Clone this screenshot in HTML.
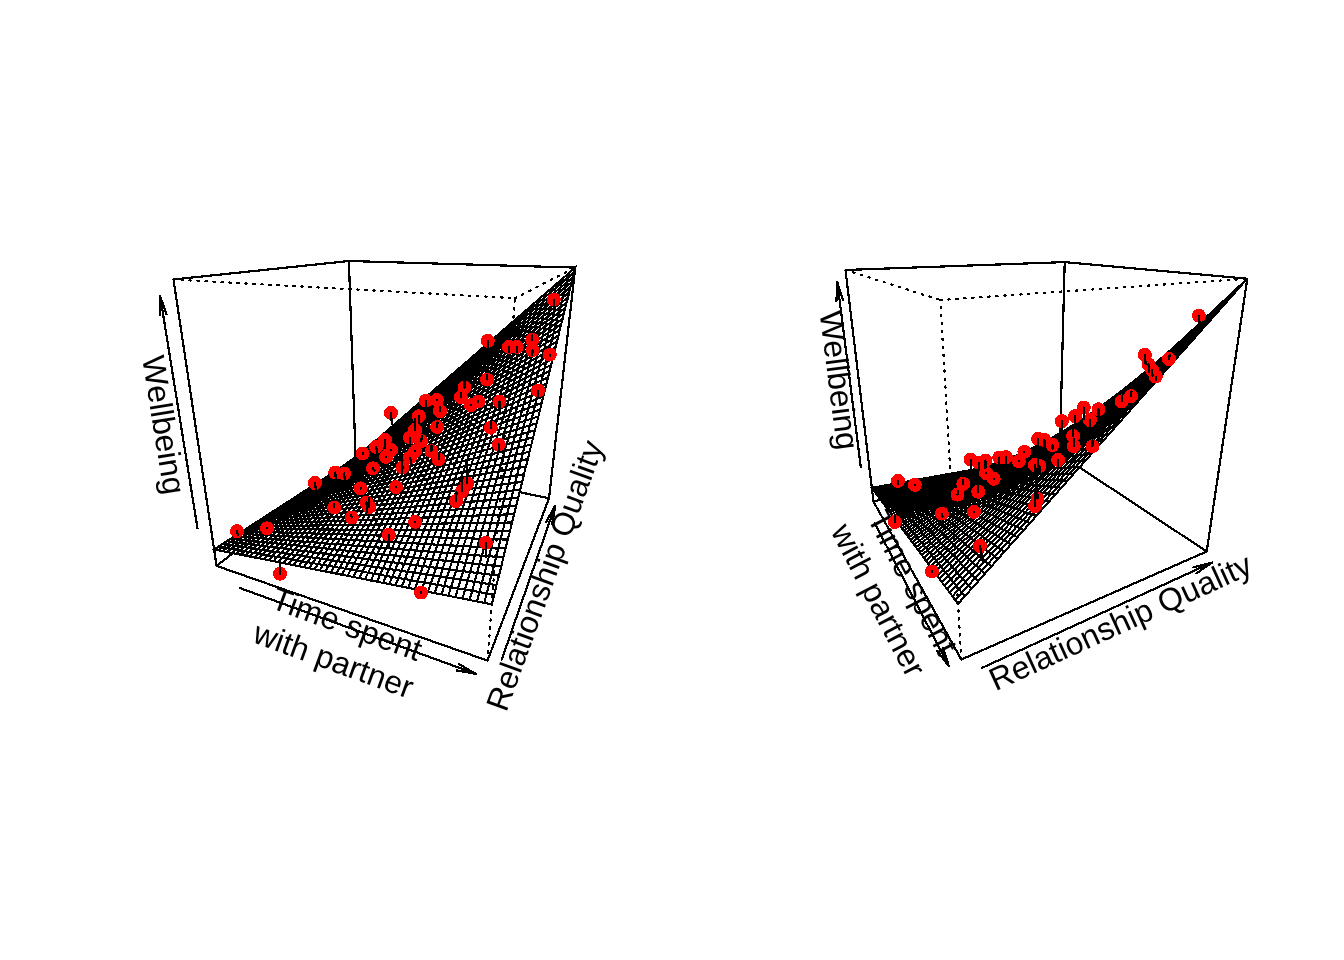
<!DOCTYPE html>
<html><head><meta charset="utf-8"><title>Wellbeing 3D surface</title>
<style>
html,body{margin:0;padding:0;background:#fff}
svg{display:block}
.ln{fill:none;stroke:#000;stroke-width:2.2;stroke-linecap:round;stroke-linejoin:round;shape-rendering:crispEdges;}
.dt{stroke-dasharray:1.4 6.6}
.sf path{fill:#fff;stroke:#000;stroke-width:2.12;stroke-linejoin:miter;shape-rendering:crispEdges;}
.pt circle{fill:#f00;shape-rendering:crispEdges;}
text{font-family:"Liberation Sans",sans-serif;font-size:32px;fill:#000}
</style></head><body>
<svg width="1344" height="960" viewBox="0 0 1344 960">
<rect width="1344" height="960" fill="#fff"/>
<g>
<path class="ln" d="M216.6 565.9L173.5 279.5M216.6 565.9L355.6 458.1M216.6 565.9L487.5 660.6M173.5 279.5L348.9 261M355.6 458.1L348.9 261M355.6 458.1L549 498.3M348.9 261L575.3 267.6M487.5 660.6L549 498.3M549 498.3L575.3 267.6"/>
<path class="ln" d="M240.2 588.2L475.7 673.8M459.1 664.2L475.7 673.8L456.8 670.5"/>
<g transform="translate(340.7 640.6) rotate(19.99)"><text x="0" y="-6.7" text-anchor="middle">Time spent</text><text x="0" y="31.7" text-anchor="middle">with partner</text></g>
<path class="ln" d="M501.8 659.5L555.2 505.6M545.8 522.4L555.2 505.6L552.1 524.6"/>
<g transform="translate(543.3 575) rotate(-69.97)"><text x="0" y="12.5" text-anchor="middle">Relationship Quality</text></g>
<path class="ln" d="M197.5 528.3L160.2 296.2M159.9 315.4L160.2 296.2L166.5 314.3"/>
<g transform="translate(165.4 424.7) rotate(80.86)"><text x="0" y="12.5" text-anchor="middle">Wellbeing</text></g>
<g class="sf"><path d="M353.7 459.4l3.2 -2.8 2 -1.3 -3.3 2.8z"/><path d="M356.9 456.6l3.3 -2.8 2 -1.4 -3.3 2.9z"/><path d="M351.7 460.7l3.3 -2.8 1.9 -1.3 -3.2 2.8z"/><path d="M360.2 453.8l3.4 -2.8 1.9 -1.4 -3.3 2.8z"/><path d="M355 457.9l3.3 -2.7 1.9 -1.4 -3.3 2.8z"/><path d="M349.7 462l3.3 -2.7 2 -1.4 -3.3 2.8z"/><path d="M363.6 451l3.4 -2.9 1.9 -1.5 -3.4 3z"/><path d="M358.3 455.2l3.3 -2.8 2 -1.4 -3.4 2.8z"/><path d="M353 459.3l3.3 -2.7 2 -1.4 -3.3 2.7z"/><path d="M347.6 463.3l3.3 -2.6 2.1 -1.4 -3.3 2.7z"/><path d="M367 448.1l3.4 -2.9 1.9 -1.5 -3.4 2.9z"/><path d="M361.6 452.4l3.4 -2.8 2 -1.5 -3.4 2.9z"/><path d="M356.3 456.6l3.4 -2.7 1.9 -1.5 -3.3 2.8z"/><path d="M350.9 460.7l3.4 -2.7 2 -1.4 -3.3 2.7z"/><path d="M345.6 464.6l3.3 -2.6 2 -1.3 -3.3 2.6z"/><path d="M370.4 445.2l3.4 -2.9 1.9 -1.6 -3.4 3z"/><path d="M365 449.6l3.5 -2.9 1.9 -1.5 -3.4 2.9z"/><path d="M359.7 453.9l3.4 -2.8 1.9 -1.5 -3.4 2.8z"/><path d="M354.3 458l3.4 -2.7 2 -1.4 -3.4 2.7z"/><path d="M348.9 462l3.4 -2.6 2 -1.4 -3.4 2.7z"/><path d="M343.5 465.9l3.3 -2.5 2.1 -1.4 -3.3 2.6z"/><path d="M373.8 442.3l3.6 -3 1.8 -1.6 -3.5 3z"/><path d="M368.5 446.7l3.4 -2.8 1.9 -1.6 -3.4 2.9z"/><path d="M363.1 451.1l3.4 -2.8 2 -1.6 -3.5 2.9z"/><path d="M357.7 455.3l3.4 -2.7 2 -1.5 -3.4 2.8z"/><path d="M352.3 459.4l3.4 -2.6 2 -1.5 -3.4 2.7z"/><path d="M346.8 463.4l3.4 -2.5 2.1 -1.5 -3.4 2.6z"/><path d="M377.4 439.3l3.5 -3 1.8 -1.7 -3.5 3.1z"/><path d="M341.4 467.3l3.3 -2.4 2.1 -1.5 -3.3 2.5z"/><path d="M371.9 443.9l3.6 -3 1.9 -1.6 -3.6 3z"/><path d="M366.5 448.3l3.5 -2.8 1.9 -1.6 -3.4 2.8z"/><path d="M361.1 452.6l3.5 -2.7 1.9 -1.6 -3.4 2.8z"/><path d="M355.7 456.8l3.4 -2.6 2 -1.6 -3.4 2.7z"/><path d="M350.2 460.9l3.4 -2.6 2.1 -1.5 -3.4 2.6z"/><path d="M380.9 436.3l3.6 -3.1 1.8 -1.7 -3.6 3.1z"/><path d="M344.7 464.9l3.4 -2.5 2.1 -1.5 -3.4 2.5z"/><path d="M375.5 440.9l3.5 -2.9 1.9 -1.7 -3.5 3z"/><path d="M370 445.5l3.6 -2.9 1.9 -1.7 -3.6 3z"/><path d="M339.2 468.7l3.4 -2.4 2.1 -1.4 -3.3 2.4z"/><path d="M364.6 449.9l3.5 -2.8 1.9 -1.6 -3.5 2.8z"/><path d="M359.1 454.2l3.5 -2.7 2 -1.6 -3.5 2.7z"/><path d="M353.6 458.3l3.5 -2.5 2 -1.6 -3.4 2.6z"/><path d="M384.5 433.2l3.6 -3 1.8 -1.8 -3.6 3.1z"/><path d="M348.1 462.4l3.4 -2.5 2.1 -1.6 -3.4 2.6z"/><path d="M379 438l3.6 -3 1.9 -1.8 -3.6 3.1z"/><path d="M342.6 466.3l3.4 -2.4 2.1 -1.5 -3.4 2.5z"/><path d="M373.6 442.6l3.5 -2.9 1.9 -1.7 -3.5 2.9z"/><path d="M368.1 447.1l3.5 -2.8 2 -1.7 -3.6 2.9z"/><path d="M337 470.1l3.4 -2.3 2.2 -1.5 -3.4 2.4z"/><path d="M362.6 451.5l3.5 -2.7 2 -1.7 -3.5 2.8z"/><path d="M357.1 455.8l3.5 -2.7 2 -1.6 -3.5 2.7z"/><path d="M351.5 459.9l3.5 -2.6 2.1 -1.5 -3.5 2.5z"/><path d="M388.1 430.2l3.7 -3.2 1.8 -1.8 -3.7 3.2z"/><path d="M382.6 435l3.7 -3 1.8 -1.8 -3.6 3z"/><path d="M346 463.9l3.4 -2.5 2.1 -1.5 -3.4 2.5z"/><path d="M377.1 439.7l3.6 -2.9 1.9 -1.8 -3.6 3z"/><path d="M371.6 444.3l3.6 -2.8 1.9 -1.8 -3.5 2.9z"/><path d="M340.4 467.8l3.4 -2.4 2.2 -1.5 -3.4 2.4z"/><path d="M366.1 448.8l3.6 -2.8 1.9 -1.7 -3.5 2.8z"/><path d="M334.8 471.5l3.4 -2.2 2.2 -1.5 -3.4 2.3z"/><path d="M360.6 453.1l3.5 -2.6 2 -1.7 -3.5 2.7z"/><path d="M355 457.3l3.5 -2.5 2.1 -1.7 -3.5 2.7z"/><path d="M391.8 427l3.7 -3.1 1.8 -1.9 -3.7 3.2z"/><path d="M386.3 432l3.7 -3.1 1.8 -1.9 -3.7 3.2z"/><path d="M349.4 461.4l3.5 -2.4 2.1 -1.7 -3.5 2.6z"/><path d="M380.7 436.8l3.7 -3 1.9 -1.8 -3.7 3z"/><path d="M343.8 465.4l3.5 -2.4 2.1 -1.6 -3.4 2.5z"/><path d="M375.2 441.5l3.6 -2.9 1.9 -1.8 -3.6 2.9z"/><path d="M369.7 446l3.6 -2.7 1.9 -1.8 -3.6 2.8z"/><path d="M338.2 469.3l3.5 -2.4 2.1 -1.5 -3.4 2.4z"/><path d="M364.1 450.5l3.6 -2.7 2 -1.8 -3.6 2.8z"/><path d="M332.6 473l3.4 -2.2 2.2 -1.5 -3.4 2.2z"/><path d="M358.5 454.8l3.6 -2.6 2 -1.7 -3.5 2.6z"/><path d="M395.5 423.9l3.8 -3.2 1.7 -2 -3.7 3.3z"/><path d="M352.9 459l3.5 -2.5 2.1 -1.7 -3.5 2.5z"/><path d="M390 428.9l3.7 -3.1 1.8 -1.9 -3.7 3.1z"/><path d="M384.4 433.8l3.7 -3 1.9 -1.9 -3.7 3.1z"/><path d="M347.3 463l3.5 -2.4 2.1 -1.6 -3.5 2.4z"/><path d="M378.8 438.6l3.7 -2.9 1.9 -1.9 -3.7 3z"/><path d="M373.3 443.3l3.6 -2.8 1.9 -1.9 -3.6 2.9z"/><path d="M341.7 466.9l3.4 -2.3 2.2 -1.6 -3.5 2.4z"/><path d="M367.7 447.8l3.6 -2.7 2 -1.8 -3.6 2.7z"/><path d="M336 470.8l3.5 -2.3 2.2 -1.6 -3.5 2.4z"/><path d="M362.1 452.2l3.6 -2.6 2 -1.8 -3.6 2.7z"/><path d="M399.3 420.7l3.8 -3.2 1.7 -2.1 -3.8 3.3z"/><path d="M356.4 456.5l3.6 -2.6 2.1 -1.7 -3.6 2.6z"/><path d="M330.3 474.4l3.4 -2.1 2.3 -1.5 -3.4 2.2z"/><path d="M393.7 425.8l3.8 -3.1 1.8 -2 -3.8 3.2z"/><path d="M388.1 430.8l3.8 -3 1.8 -2 -3.7 3.1z"/><path d="M350.8 460.6l3.5 -2.4 2.1 -1.7 -3.5 2.5z"/><path d="M382.5 435.7l3.7 -2.9 1.9 -2 -3.7 3z"/><path d="M376.9 440.5l3.7 -2.9 1.9 -1.9 -3.7 2.9z"/><path d="M345.1 464.6l3.6 -2.3 2.1 -1.7 -3.5 2.4z"/><path d="M371.3 445.1l3.7 -2.8 1.9 -1.8 -3.6 2.8z"/><path d="M339.5 468.5l3.4 -2.3 2.2 -1.6 -3.4 2.3z"/><path d="M365.7 449.6l3.6 -2.7 2 -1.8 -3.6 2.7z"/><path d="M333.7 472.3l3.5 -2.2 2.3 -1.6 -3.5 2.3z"/><path d="M360 453.9l3.6 -2.5 2.1 -1.8 -3.6 2.6z"/><path d="M403.1 417.5l3.8 -3.3 1.8 -2.1 -3.9 3.3z"/><path d="M397.5 422.7l3.8 -3.2 1.8 -2 -3.8 3.2z"/><path d="M354.3 458.2l3.6 -2.5 2.1 -1.8 -3.6 2.6z"/><path d="M391.9 427.8l3.8 -3.1 1.8 -2 -3.8 3.1z"/><path d="M328 475.9l3.4 -2.1 2.3 -1.5 -3.4 2.1z"/><path d="M386.2 432.8l3.8 -3 1.9 -2 -3.8 3z"/><path d="M348.7 462.3l3.5 -2.4 2.1 -1.7 -3.5 2.4z"/><path d="M380.6 437.6l3.7 -2.9 1.9 -1.9 -3.7 2.9z"/><path d="M375 442.3l3.7 -2.7 1.9 -2 -3.7 2.9z"/><path d="M342.9 466.2l3.6 -2.2 2.2 -1.7 -3.6 2.3z"/><path d="M369.3 446.9l3.7 -2.7 2 -1.9 -3.7 2.8z"/><path d="M337.2 470.1l3.5 -2.2 2.2 -1.7 -3.4 2.3z"/><path d="M363.6 451.4l3.7 -2.6 2 -1.9 -3.6 2.7z"/><path d="M406.9 414.2l4 -3.3 1.7 -2.2 -3.9 3.4z"/><path d="M401.3 419.5l3.9 -3.2 1.7 -2.1 -3.8 3.3z"/><path d="M357.9 455.7l3.6 -2.5 2.1 -1.8 -3.6 2.5z"/><path d="M331.4 473.8l3.5 -2.1 2.3 -1.6 -3.5 2.2z"/><path d="M395.7 424.7l3.8 -3.1 1.8 -2.1 -3.8 3.2z"/><path d="M390 429.8l3.8 -3 1.9 -2.1 -3.8 3.1z"/><path d="M352.2 459.9l3.6 -2.4 2.1 -1.8 -3.6 2.5z"/><path d="M384.3 434.7l3.8 -2.9 1.9 -2 -3.8 3z"/><path d="M325.7 477.4l3.4 -2 2.3 -1.6 -3.4 2.1z"/><path d="M378.7 439.6l3.7 -2.9 1.9 -2 -3.7 2.9z"/><path d="M346.5 464l3.5 -2.4 2.2 -1.7 -3.5 2.4z"/><path d="M373 444.2l3.7 -2.7 2 -1.9 -3.7 2.7z"/><path d="M340.7 467.9l3.6 -2.2 2.2 -1.7 -3.6 2.2z"/><path d="M367.3 448.8l3.7 -2.7 2 -1.9 -3.7 2.7z"/><path d="M410.9 410.9l3.9 -3.4 1.7 -2.2 -3.9 3.4z"/><path d="M361.5 453.2l3.7 -2.5 2.1 -1.9 -3.7 2.6z"/><path d="M334.9 471.7l3.6 -2.1 2.2 -1.7 -3.5 2.2z"/><path d="M405.2 416.3l3.9 -3.2 1.8 -2.2 -4 3.3z"/><path d="M399.5 421.6l3.9 -3.1 1.8 -2.2 -3.9 3.2z"/><path d="M355.8 457.5l3.6 -2.5 2.1 -1.8 -3.6 2.5z"/><path d="M393.8 426.8l3.9 -3 1.8 -2.2 -3.8 3.1z"/><path d="M329.1 475.4l3.5 -2 2.3 -1.7 -3.5 2.1z"/><path d="M388.1 431.8l3.8 -2.9 1.9 -2.1 -3.8 3z"/><path d="M350 461.6l3.7 -2.3 2.1 -1.8 -3.6 2.4z"/><path d="M382.4 436.7l3.8 -2.8 1.9 -2.1 -3.8 2.9z"/><path d="M323.3 479l3.5 -2 2.3 -1.6 -3.4 2z"/><path d="M376.7 441.5l3.8 -2.7 1.9 -2.1 -3.7 2.9z"/><path d="M344.3 465.7l3.5 -2.3 2.2 -1.8 -3.5 2.4z"/><path d="M371 446.1l3.7 -2.6 2 -2 -3.7 2.7z"/><path d="M338.5 469.6l3.5 -2.2 2.3 -1.7 -3.6 2.2z"/><path d="M365.2 450.7l3.7 -2.6 2.1 -2 -3.7 2.7z"/><path d="M414.8 407.5l4 -3.4 1.7 -2.3 -4 3.5z"/><path d="M409.1 413.1l4 -3.3 1.7 -2.3 -3.9 3.4z"/><path d="M403.4 418.5l3.9 -3.2 1.8 -2.2 -3.9 3.2z"/><path d="M359.4 455l3.7 -2.4 2.1 -1.9 -3.7 2.5z"/><path d="M332.6 473.4l3.6 -2.1 2.3 -1.7 -3.6 2.1z"/><path d="M397.7 423.8l3.9 -3.1 1.8 -2.2 -3.9 3.1z"/><path d="M391.9 428.9l3.9 -3 1.9 -2.1 -3.9 3z"/><path d="M353.7 459.3l3.6 -2.4 2.1 -1.9 -3.6 2.5z"/><path d="M386.2 433.9l3.8 -2.9 1.9 -2.1 -3.8 2.9z"/><path d="M326.8 477l3.5 -2 2.3 -1.6 -3.5 2z"/><path d="M380.5 438.8l3.8 -2.8 1.9 -2.1 -3.8 2.8z"/><path d="M347.8 463.4l3.7 -2.3 2.2 -1.8 -3.7 2.3z"/><path d="M374.7 443.5l3.8 -2.7 2 -2 -3.8 2.7z"/><path d="M320.9 480.5l3.5 -1.9 2.4 -1.6 -3.5 2z"/><path d="M342 467.4l3.6 -2.2 2.2 -1.8 -3.5 2.3z"/><path d="M368.9 448.1l3.8 -2.6 2 -2 -3.7 2.6z"/><path d="M418.8 404.1l4.1 -3.4 1.7 -2.4 -4.1 3.5z"/><path d="M413.1 409.8l4 -3.4 1.7 -2.3 -4 3.4z"/><path d="M363.1 452.6l3.7 -2.5 2.1 -2 -3.7 2.6z"/><path d="M336.2 471.3l3.5 -2.1 2.3 -1.8 -3.5 2.2z"/><path d="M407.3 415.3l4 -3.2 1.8 -2.3 -4 3.3z"/><path d="M401.6 420.7l3.9 -3.1 1.8 -2.3 -3.9 3.2z"/><path d="M357.3 456.9l3.7 -2.4 2.1 -1.9 -3.7 2.4z"/><path d="M395.8 425.9l3.9 -3 1.9 -2.2 -3.9 3.1z"/><path d="M330.3 475l3.5 -2 2.4 -1.7 -3.6 2.1z"/><path d="M390 431l3.9 -2.9 1.9 -2.2 -3.9 3z"/><path d="M351.5 461.1l3.6 -2.3 2.2 -1.9 -3.6 2.4z"/><path d="M384.3 436l3.8 -2.8 1.9 -2.2 -3.8 2.9z"/><path d="M324.4 478.6l3.5 -1.9 2.4 -1.7 -3.5 2z"/><path d="M378.5 440.8l3.8 -2.7 2 -2.1 -3.8 2.8z"/><path d="M345.6 465.2l3.7 -2.2 2.2 -1.9 -3.7 2.3z"/><path d="M372.7 445.5l3.8 -2.6 2 -2.1 -3.8 2.7z"/><path d="M318.4 482.1l3.5 -1.8 2.5 -1.7 -3.5 1.9z"/><path d="M339.7 469.2l3.7 -2.2 2.2 -1.8 -3.6 2.2z"/><path d="M366.8 450.1l3.8 -2.6 2.1 -2 -3.8 2.6z"/><path d="M422.9 400.7l4.1 -3.5 1.6 -2.4 -4 3.5z"/><path d="M417.1 406.4l4.1 -3.3 1.7 -2.4 -4.1 3.4z"/><path d="M411.3 412.1l4 -3.3 1.8 -2.4 -4 3.4z"/><path d="M405.5 417.6l4 -3.2 1.8 -2.3 -4 3.2z"/><path d="M361 454.5l3.7 -2.4 2.1 -2 -3.7 2.5z"/><path d="M399.7 422.9l4 -3.1 1.8 -2.2 -3.9 3.1z"/><path d="M333.8 473l3.6 -2 2.3 -1.8 -3.5 2.1z"/><path d="M393.9 428.1l4 -3 1.8 -2.2 -3.9 3z"/><path d="M355.1 458.8l3.8 -2.3 2.1 -2 -3.7 2.4z"/><path d="M388.1 433.2l3.9 -2.9 1.9 -2.2 -3.9 2.9z"/><path d="M327.9 476.7l3.6 -2 2.3 -1.7 -3.5 2z"/><path d="M382.3 438.1l3.9 -2.8 1.9 -2.1 -3.8 2.8z"/><path d="M349.3 463l3.6 -2.3 2.2 -1.9 -3.6 2.3z"/><path d="M376.5 442.9l3.8 -2.7 2 -2.1 -3.8 2.7z"/><path d="M321.9 480.3l3.6 -1.9 2.4 -1.7 -3.5 1.9z"/><path d="M343.4 467l3.6 -2.1 2.3 -1.9 -3.7 2.2z"/><path d="M370.6 447.5l3.8 -2.5 2.1 -2.1 -3.8 2.6z"/><path d="M427 397.2l4.1 -3.5 1.7 -2.5 -4.2 3.6z"/><path d="M421.2 403.1l4.1 -3.4 1.7 -2.5 -4.1 3.5z"/><path d="M415.3 408.8l4.1 -3.3 1.8 -2.4 -4.1 3.3z"/><path d="M364.7 452.1l3.8 -2.5 2.1 -2.1 -3.8 2.6z"/><path d="M337.4 471l3.7 -2.1 2.3 -1.9 -3.7 2.2z"/><path d="M409.5 414.4l4.1 -3.2 1.7 -2.4 -4 3.3z"/><path d="M315.9 483.7l3.6 -1.8 2.4 -1.6 -3.5 1.8z"/><path d="M403.7 419.8l4 -3.1 1.8 -2.3 -4 3.2z"/><path d="M397.9 425.1l3.9 -2.9 1.9 -2.4 -4 3.1z"/><path d="M358.9 456.5l3.7 -2.4 2.1 -2 -3.7 2.4z"/><path d="M331.5 474.7l3.6 -1.9 2.3 -1.8 -3.6 2z"/><path d="M392 430.3l4 -2.9 1.9 -2.3 -4 3z"/><path d="M352.9 460.7l3.8 -2.2 2.2 -2 -3.8 2.3z"/><path d="M386.2 435.3l3.9 -2.7 1.9 -2.3 -3.9 2.9z"/><path d="M380.3 440.2l3.9 -2.7 2 -2.2 -3.9 2.8z"/><path d="M325.5 478.4l3.6 -1.9 2.4 -1.8 -3.6 2z"/><path d="M347 464.9l3.7 -2.2 2.2 -2 -3.6 2.3z"/><path d="M374.4 445l3.9 -2.6 2 -2.2 -3.8 2.7z"/><path d="M431.1 393.7l4.3 -3.6 1.6 -2.6 -4.2 3.7z"/><path d="M319.5 481.9l3.5 -1.8 2.5 -1.7 -3.6 1.9z"/><path d="M341.1 468.9l3.6 -2.1 2.3 -1.9 -3.6 2.1z"/><path d="M425.3 399.7l4.2 -3.5 1.6 -2.5 -4.1 3.5z"/><path d="M368.5 449.6l3.9 -2.5 2 -2.1 -3.8 2.5z"/><path d="M419.4 405.5l4.2 -3.4 1.7 -2.4 -4.1 3.4z"/><path d="M413.6 411.2l4.1 -3.2 1.7 -2.5 -4.1 3.3z"/><path d="M407.7 416.7l4.1 -3.1 1.8 -2.4 -4.1 3.2z"/><path d="M362.6 454.1l3.8 -2.4 2.1 -2.1 -3.8 2.5z"/><path d="M401.8 422.2l4.1 -3.1 1.8 -2.4 -4 3.1z"/><path d="M335.1 472.8l3.6 -2 2.4 -1.9 -3.7 2.1z"/><path d="M313.4 485.4l3.5 -1.8 2.6 -1.7 -3.6 1.8z"/><path d="M396 427.4l4 -2.9 1.8 -2.3 -3.9 2.9z"/><path d="M356.7 458.5l3.7 -2.3 2.2 -2.1 -3.7 2.4z"/><path d="M390.1 432.6l3.9 -2.9 2 -2.3 -4 2.9z"/><path d="M329.1 476.5l3.6 -1.9 2.4 -1.8 -3.6 1.9z"/><path d="M384.2 437.5l3.9 -2.7 2 -2.2 -3.9 2.7z"/><path d="M350.7 462.7l3.8 -2.2 2.2 -2 -3.8 2.2z"/><path d="M378.3 442.4l3.9 -2.6 2 -2.3 -3.9 2.7z"/><path d="M323 480.1l3.6 -1.8 2.5 -1.8 -3.6 1.9z"/><path d="M344.7 466.8l3.8 -2.1 2.2 -2 -3.7 2.2z"/><path d="M372.4 447.1l3.8 -2.5 2.1 -2.2 -3.9 2.6z"/><path d="M435.4 390.1l4.2 -3.6 1.6 -2.7 -4.2 3.7z"/><path d="M429.5 396.2l4.2 -3.5 1.7 -2.6 -4.3 3.6z"/><path d="M423.6 402.1l4.2 -3.3 1.7 -2.6 -4.2 3.5z"/><path d="M417.7 408l4.1 -3.3 1.8 -2.6 -4.2 3.4z"/><path d="M366.4 451.7l3.9 -2.4 2.1 -2.2 -3.9 2.5z"/><path d="M411.8 413.6l4.1 -3.2 1.8 -2.4 -4.1 3.2z"/><path d="M338.7 470.8l3.7 -2.1 2.3 -1.9 -3.6 2.1z"/><path d="M316.9 483.6l3.6 -1.7 2.5 -1.8 -3.5 1.8z"/><path d="M405.9 419.1l4.1 -3 1.8 -2.5 -4.1 3.1z"/><path d="M400 424.5l4 -3 1.9 -2.4 -4.1 3.1z"/><path d="M360.4 456.2l3.9 -2.4 2.1 -2.1 -3.8 2.4z"/><path d="M394 429.7l4.1 -2.8 1.9 -2.4 -4 2.9z"/><path d="M332.7 474.6l3.7 -1.9 2.3 -1.9 -3.6 2z"/><path d="M310.8 487l3.6 -1.6 2.5 -1.8 -3.5 1.8z"/><path d="M354.5 460.5l3.8 -2.2 2.1 -2.1 -3.7 2.3z"/><path d="M388.1 434.8l4 -2.7 1.9 -2.4 -3.9 2.9z"/><path d="M382.2 439.8l3.9 -2.7 2 -2.3 -3.9 2.7z"/><path d="M326.6 478.3l3.7 -1.8 2.4 -1.9 -3.6 1.9z"/><path d="M348.5 464.7l3.7 -2.2 2.3 -2 -3.8 2.2z"/><path d="M376.2 444.6l3.9 -2.5 2.1 -2.3 -3.9 2.6z"/><path d="M439.6 386.5l4.3 -3.7 1.7 -2.7 -4.4 3.7z"/><path d="M433.7 392.7l4.3 -3.6 1.6 -2.6 -4.2 3.6z"/><path d="M427.8 398.8l4.2 -3.5 1.7 -2.6 -4.2 3.5z"/><path d="M342.4 468.7l3.8 -2 2.3 -2 -3.8 2.1z"/><path d="M370.3 449.3l3.8 -2.5 2.1 -2.2 -3.8 2.5z"/><path d="M320.5 481.9l3.7 -1.7 2.4 -1.9 -3.6 1.8z"/><path d="M421.8 404.7l4.2 -3.4 1.8 -2.5 -4.2 3.3z"/><path d="M415.9 410.4l4.2 -3.2 1.7 -2.5 -4.1 3.3z"/><path d="M410 416.1l4.1 -3.1 1.8 -2.6 -4.1 3.2z"/><path d="M364.3 453.8l3.8 -2.3 2.2 -2.2 -3.9 2.4z"/><path d="M404 421.5l4.1 -2.9 1.9 -2.5 -4.1 3z"/><path d="M336.4 472.7l3.7 -2 2.3 -2 -3.7 2.1z"/><path d="M314.4 485.4l3.6 -1.7 2.5 -1.8 -3.6 1.7z"/><path d="M398.1 426.9l4 -2.9 1.9 -2.5 -4 3z"/><path d="M358.3 458.3l3.8 -2.3 2.2 -2.2 -3.9 2.4z"/><path d="M392.1 432.1l4 -2.8 2 -2.4 -4.1 2.8z"/><path d="M330.3 476.5l3.7 -1.9 2.4 -1.9 -3.7 1.9z"/><path d="M386.1 437.1l4 -2.6 2 -2.4 -4 2.7z"/><path d="M352.2 462.5l3.8 -2.1 2.3 -2.1 -3.8 2.2z"/><path d="M308.2 488.7l3.6 -1.6 2.6 -1.7 -3.6 1.6z"/><path d="M380.1 442.1l4 -2.6 2 -2.4 -3.9 2.7z"/><path d="M324.2 480.2l3.6 -1.8 2.5 -1.9 -3.7 1.8z"/><path d="M346.2 466.7l3.7 -2.1 2.3 -2.1 -3.7 2.2z"/><path d="M374.1 446.8l4 -2.4 2 -2.3 -3.9 2.5z"/><path d="M438 389.1l4.3 -3.6 1.6 -2.7 -4.3 3.7z"/><path d="M443.9 382.8l4.4 -3.7 1.6 -2.8 -4.3 3.8z"/><path d="M432 395.3l4.3 -3.5 1.7 -2.7 -4.3 3.6z"/><path d="M426 401.3l4.3 -3.3 1.7 -2.7 -4.2 3.5z"/><path d="M420.1 407.2l4.2 -3.2 1.7 -2.7 -4.2 3.4z"/><path d="M368.1 451.5l3.9 -2.4 2.1 -2.3 -3.8 2.5z"/><path d="M414.1 413l4.2 -3.2 1.8 -2.6 -4.2 3.2z"/><path d="M340.1 470.7l3.7 -2 2.4 -2 -3.8 2z"/><path d="M318 483.7l3.6 -1.7 2.6 -1.8 -3.7 1.7z"/><path d="M408.1 418.6l4.2 -3.1 1.8 -2.5 -4.1 3.1z"/><path d="M402.1 424l4.1 -2.9 1.9 -2.5 -4.1 2.9z"/><path d="M362.1 456l3.9 -2.3 2.1 -2.2 -3.8 2.3z"/><path d="M396.1 429.3l4.1 -2.8 1.9 -2.5 -4 2.9z"/><path d="M334 474.6l3.7 -1.9 2.4 -2 -3.7 2z"/><path d="M311.8 487.1l3.6 -1.6 2.6 -1.8 -3.6 1.7z"/><path d="M390.1 434.5l4.1 -2.8 1.9 -2.4 -4 2.8z"/><path d="M356 460.4l3.9 -2.2 2.2 -2.2 -3.8 2.3z"/><path d="M384.1 439.5l4 -2.6 2 -2.4 -4 2.6z"/><path d="M327.8 478.4l3.7 -1.8 2.5 -2 -3.7 1.9z"/><path d="M349.9 464.6l3.9 -2.1 2.2 -2.1 -3.8 2.1z"/><path d="M378.1 444.4l4 -2.5 2 -2.4 -4 2.6z"/><path d="M305.6 490.4l3.6 -1.5 2.6 -1.8 -3.6 1.6z"/><path d="M442.3 385.5l4.4 -3.6 1.6 -2.8 -4.4 3.7z"/><path d="M436.3 391.8l4.4 -3.5 1.6 -2.8 -4.3 3.6z"/><path d="M448.3 379.1l4.5 -3.8 1.5 -2.8 -4.4 3.8z"/><path d="M430.3 398l4.3 -3.4 1.7 -2.8 -4.3 3.5z"/><path d="M372 449.1l4 -2.4 2.1 -2.3 -4 2.4z"/><path d="M343.8 468.7l3.8 -2 2.3 -2.1 -3.7 2.1z"/><path d="M424.3 404l4.3 -3.3 1.7 -2.7 -4.3 3.3z"/><path d="M321.6 482l3.7 -1.7 2.5 -1.9 -3.6 1.8z"/><path d="M418.3 409.8l4.2 -3.2 1.8 -2.6 -4.2 3.2z"/><path d="M412.3 415.5l4.2 -3.1 1.8 -2.6 -4.2 3.2z"/><path d="M366 453.7l3.9 -2.3 2.1 -2.3 -3.9 2.4z"/><path d="M406.2 421.1l4.2 -3 1.9 -2.6 -4.2 3.1z"/><path d="M337.7 472.7l3.8 -1.9 2.3 -2.1 -3.7 2z"/><path d="M400.2 426.5l4.1 -2.9 1.9 -2.5 -4.1 2.9z"/><path d="M315.4 485.5l3.7 -1.6 2.5 -1.9 -3.6 1.7z"/><path d="M359.9 458.2l3.9 -2.2 2.2 -2.3 -3.9 2.3z"/><path d="M394.2 431.7l4.1 -2.7 1.9 -2.5 -4.1 2.8z"/><path d="M331.5 476.6l3.8 -1.8 2.4 -2.1 -3.7 1.9z"/><path d="M388.1 436.9l4.1 -2.7 2 -2.5 -4.1 2.8z"/><path d="M353.8 462.5l3.8 -2.1 2.3 -2.2 -3.9 2.2z"/><path d="M309.2 488.9l3.6 -1.5 2.6 -1.9 -3.6 1.6z"/><path d="M382.1 441.9l4 -2.6 2 -2.4 -4 2.6z"/><path d="M325.3 480.3l3.8 -1.7 2.4 -2 -3.7 1.8z"/><path d="M347.6 466.7l3.9 -2 2.3 -2.2 -3.9 2.1z"/><path d="M376 446.7l4 -2.4 2.1 -2.4 -4 2.5z"/><path d="M440.7 388.3l4.4 -3.6 1.6 -2.8 -4.4 3.6z"/><path d="M446.7 381.9l4.5 -3.7 1.6 -2.9 -4.5 3.8z"/><path d="M434.6 394.6l4.4 -3.5 1.7 -2.8 -4.4 3.5z"/><path d="M452.8 375.3l4.5 -3.8 1.5 -2.9 -4.5 3.9z"/><path d="M428.6 400.7l4.3 -3.4 1.7 -2.7 -4.3 3.4z"/><path d="M422.5 406.6l4.3 -3.2 1.8 -2.7 -4.3 3.3z"/><path d="M302.9 492.1l3.6 -1.4 2.7 -1.8 -3.6 1.5z"/><path d="M369.9 451.4l4 -2.3 2.1 -2.4 -4 2.4z"/><path d="M416.5 412.4l4.2 -3.1 1.8 -2.7 -4.2 3.2z"/><path d="M341.5 470.8l3.8 -1.9 2.3 -2.2 -3.8 2z"/><path d="M410.4 418.1l4.2 -3 1.9 -2.7 -4.2 3.1z"/><path d="M319.1 483.9l3.7 -1.6 2.5 -2 -3.7 1.7z"/><path d="M404.3 423.6l4.2 -2.9 1.9 -2.6 -4.2 3z"/><path d="M363.8 456l3.9 -2.3 2.2 -2.3 -3.9 2.3z"/><path d="M398.3 429l4.1 -2.8 1.9 -2.6 -4.1 2.9z"/><path d="M335.3 474.8l3.8 -1.9 2.4 -2.1 -3.8 1.9z"/><path d="M392.2 434.2l4.1 -2.6 2 -2.6 -4.1 2.7z"/><path d="M357.6 460.4l4 -2.1 2.2 -2.3 -3.9 2.2z"/><path d="M312.8 487.4l3.7 -1.6 2.6 -1.9 -3.7 1.6z"/><path d="M386.1 439.3l4.1 -2.6 2 -2.5 -4.1 2.7z"/><path d="M329.1 478.6l3.7 -1.8 2.5 -2 -3.8 1.8z"/><path d="M351.5 464.7l3.9 -2 2.2 -2.3 -3.8 2.1z"/><path d="M380 444.3l4 -2.5 2.1 -2.5 -4 2.6z"/><path d="M306.5 490.7l3.7 -1.5 2.6 -1.8 -3.6 1.5z"/><path d="M445.1 384.7l4.4 -3.6 1.7 -2.9 -4.5 3.7z"/><path d="M439 391.1l4.4 -3.5 1.7 -2.9 -4.4 3.6z"/><path d="M451.2 378.2l4.5 -3.7 1.6 -3 -4.5 3.8z"/><path d="M432.9 397.3l4.4 -3.3 1.7 -2.9 -4.4 3.5z"/><path d="M457.3 371.5l4.5 -3.9 1.6 -2.9 -4.6 3.9z"/><path d="M373.9 449.1l4 -2.4 2.1 -2.4 -4 2.4z"/><path d="M426.8 403.4l4.4 -3.2 1.7 -2.9 -4.3 3.4z"/><path d="M345.3 468.9l3.9 -2 2.3 -2.2 -3.9 2z"/><path d="M322.8 482.3l3.7 -1.7 2.6 -2 -3.8 1.7z"/><path d="M420.7 409.3l4.3 -3.1 1.8 -2.8 -4.3 3.2z"/><path d="M414.6 415.1l4.3 -3 1.8 -2.8 -4.2 3.1z"/><path d="M367.7 453.7l4 -2.2 2.2 -2.4 -4 2.3z"/><path d="M408.5 420.7l4.3 -2.9 1.8 -2.7 -4.2 3z"/><path d="M300.2 493.9l3.6 -1.4 2.7 -1.8 -3.6 1.4z"/><path d="M339.1 472.9l3.8 -1.8 2.4 -2.2 -3.8 1.9z"/><path d="M402.4 426.2l4.2 -2.8 1.9 -2.7 -4.2 2.9z"/><path d="M316.5 485.8l3.7 -1.5 2.6 -2 -3.7 1.6z"/><path d="M361.6 458.3l3.9 -2.2 2.2 -2.4 -3.9 2.3z"/><path d="M396.3 431.6l4.2 -2.8 1.9 -2.6 -4.1 2.8z"/><path d="M332.8 476.8l3.8 -1.7 2.5 -2.2 -3.8 1.9z"/><path d="M390.2 436.7l4.1 -2.6 2 -2.5 -4.1 2.6z"/><path d="M355.4 462.7l3.9 -2.1 2.3 -2.3 -4 2.1z"/><path d="M310.2 489.2l3.7 -1.4 2.6 -2 -3.7 1.6z"/><path d="M384 441.8l4.1 -2.5 2.1 -2.6 -4.1 2.6z"/><path d="M326.5 480.6l3.8 -1.7 2.5 -2.1 -3.7 1.8z"/><path d="M349.2 466.9l3.9 -1.9 2.3 -2.3 -3.9 2z"/><path d="M377.9 446.7l4.1 -2.4 2 -2.5 -4 2.5z"/><path d="M443.4 387.6l4.5 -3.5 1.6 -3 -4.4 3.6z"/><path d="M449.5 381.1l4.6 -3.6 1.6 -3 -4.5 3.7z"/><path d="M437.3 394l4.4 -3.5 1.7 -2.9 -4.4 3.5z"/><path d="M455.7 374.5l4.6 -3.8 1.5 -3.1 -4.5 3.9z"/><path d="M431.2 400.2l4.4 -3.3 1.7 -2.9 -4.4 3.3z"/><path d="M461.8 367.6l4.6 -3.9 1.6 -3 -4.6 4z"/><path d="M425 406.2l4.4 -3.2 1.8 -2.8 -4.4 3.2z"/><path d="M303.8 492.5l3.7 -1.4 2.7 -1.9 -3.7 1.5z"/><path d="M418.9 412.1l4.3 -3.1 1.8 -2.8 -4.3 3.1z"/><path d="M371.7 451.5l4 -2.3 2.2 -2.5 -4 2.4z"/><path d="M342.9 471.1l3.9 -1.9 2.4 -2.3 -3.9 2z"/><path d="M412.8 417.8l4.3 -2.9 1.8 -2.8 -4.3 3z"/><path d="M320.2 484.3l3.8 -1.6 2.5 -2.1 -3.7 1.7z"/><path d="M406.6 423.4l4.3 -2.8 1.9 -2.8 -4.3 2.9z"/><path d="M365.5 456.1l4 -2.2 2.2 -2.4 -4 2.2z"/><path d="M400.5 428.8l4.2 -2.7 1.9 -2.7 -4.2 2.8z"/><path d="M336.6 475.1l3.9 -1.8 2.4 -2.2 -3.8 1.8z"/><path d="M297.4 495.7l3.6 -1.3 2.8 -1.9 -3.6 1.4z"/><path d="M394.3 434.1l4.2 -2.6 2 -2.7 -4.2 2.8z"/><path d="M359.3 460.6l4 -2.1 2.2 -2.4 -3.9 2.2z"/><path d="M313.9 487.8l3.7 -1.5 2.6 -2 -3.7 1.5z"/><path d="M388.1 439.3l4.2 -2.5 2 -2.7 -4.1 2.6z"/><path d="M330.3 478.9l3.9 -1.6 2.4 -2.2 -3.8 1.7z"/><path d="M353.1 465l3.9 -2 2.3 -2.4 -3.9 2.1z"/><path d="M382 444.3l4.1 -2.4 2 -2.6 -4.1 2.5z"/><path d="M307.5 491.1l3.7 -1.4 2.7 -1.9 -3.7 1.4z"/><path d="M447.9 384.1l4.5 -3.6 1.7 -3 -4.6 3.6z"/><path d="M441.7 390.5l4.5 -3.4 1.7 -3 -4.5 3.5z"/><path d="M454.1 377.5l4.6 -3.8 1.6 -3 -4.6 3.8z"/><path d="M435.6 396.9l4.4 -3.4 1.7 -3 -4.4 3.5z"/><path d="M460.3 370.7l4.6 -3.9 1.5 -3.1 -4.6 3.9z"/><path d="M429.4 403l4.4 -3.2 1.8 -2.9 -4.4 3.3z"/><path d="M375.7 449.2l4.1 -2.3 2.2 -2.6 -4.1 2.4z"/><path d="M346.8 469.2l3.9 -1.9 2.4 -2.3 -3.9 1.9z"/><path d="M466.4 363.7l4.7 -3.9 1.6 -3.2 -4.7 4.1z"/><path d="M423.2 409l4.4 -3.1 1.8 -2.9 -4.4 3.2z"/><path d="M324 482.7l3.8 -1.6 2.5 -2.2 -3.8 1.7z"/><path d="M417.1 414.9l4.3 -3 1.8 -2.9 -4.3 3.1z"/><path d="M369.5 453.9l4.1 -2.2 2.1 -2.5 -4 2.3z"/><path d="M410.9 420.6l4.3 -2.9 1.9 -2.8 -4.3 2.9z"/><path d="M301 494.4l3.7 -1.3 2.8 -2 -3.7 1.4z"/><path d="M340.5 473.3l3.9 -1.8 2.4 -2.3 -3.9 1.9z"/><path d="M404.7 426.1l4.3 -2.8 1.9 -2.7 -4.3 2.8z"/><path d="M317.6 486.3l3.8 -1.5 2.6 -2.1 -3.8 1.6z"/><path d="M363.3 458.5l4 -2.1 2.2 -2.5 -4 2.2z"/><path d="M398.5 431.5l4.2 -2.7 2 -2.7 -4.2 2.7z"/><path d="M392.3 436.8l4.2 -2.6 2 -2.7 -4.2 2.6z"/><path d="M334.2 477.3l3.8 -1.8 2.5 -2.2 -3.9 1.8z"/><path d="M357 463l4 -2 2.3 -2.5 -4 2.1z"/><path d="M294.6 497.5l3.6 -1.2 2.8 -1.9 -3.6 1.3z"/><path d="M386.1 441.9l4.1 -2.5 2.1 -2.6 -4.2 2.5z"/><path d="M311.2 489.7l3.8 -1.4 2.6 -2 -3.7 1.5z"/><path d="M350.7 467.3l4 -1.9 2.3 -2.4 -3.9 2z"/><path d="M327.8 481.1l3.9 -1.6 2.5 -2.2 -3.9 1.6z"/><path d="M379.8 446.9l4.2 -2.4 2.1 -2.6 -4.1 2.4z"/><path d="M446.2 387.1l4.6 -3.5 1.6 -3.1 -4.5 3.6z"/><path d="M452.4 380.5l4.7 -3.7 1.6 -3.1 -4.6 3.8z"/><path d="M440 393.5l4.5 -3.4 1.7 -3 -4.5 3.4z"/><path d="M458.7 373.7l4.6 -3.7 1.6 -3.2 -4.6 3.9z"/><path d="M433.8 399.8l4.5 -3.3 1.7 -3 -4.4 3.4z"/><path d="M464.9 366.8l4.7 -3.9 1.5 -3.1 -4.7 3.9z"/><path d="M427.6 405.9l4.4 -3.2 1.8 -2.9 -4.4 3.2z"/><path d="M471.1 359.8l4.8 -4.1 1.5 -3.2 -4.7 4.1z"/><path d="M421.4 411.9l4.4 -3.1 1.8 -2.9 -4.4 3.1z"/><path d="M373.6 451.7l4.1 -2.2 2.1 -2.6 -4.1 2.3z"/><path d="M304.7 493.1l3.8 -1.3 2.7 -2.1 -3.7 1.4z"/><path d="M415.2 417.7l4.3 -3 1.9 -2.8 -4.3 3z"/><path d="M344.4 471.5l3.9 -1.8 2.4 -2.4 -3.9 1.9z"/><path d="M321.4 484.8l3.8 -1.6 2.6 -2.1 -3.8 1.6z"/><path d="M409 423.3l4.3 -2.8 1.9 -2.8 -4.3 2.9z"/><path d="M367.3 456.4l4.1 -2.1 2.2 -2.6 -4.1 2.2z"/><path d="M402.7 428.8l4.3 -2.7 2 -2.8 -4.3 2.8z"/><path d="M338 475.5l4 -1.7 2.4 -2.3 -3.9 1.8z"/><path d="M298.2 496.3l3.8 -1.3 2.7 -1.9 -3.7 1.3z"/><path d="M396.5 434.2l4.2 -2.6 2 -2.8 -4.2 2.7z"/><path d="M361 461l4.1 -2.1 2.2 -2.5 -4 2.1z"/><path d="M315 488.3l3.8 -1.4 2.6 -2.1 -3.8 1.5z"/><path d="M390.2 439.4l4.3 -2.4 2 -2.8 -4.2 2.6z"/><path d="M331.7 479.5l3.8 -1.7 2.5 -2.3 -3.8 1.8z"/><path d="M354.7 465.4l4 -2 2.3 -2.4 -4 2z"/><path d="M384 444.5l4.2 -2.4 2 -2.7 -4.1 2.5z"/><path d="M291.7 499.4l3.7 -1.2 2.8 -1.9 -3.6 1.2z"/><path d="M450.8 383.6l4.6 -3.6 1.7 -3.2 -4.7 3.7z"/><path d="M444.5 390.1l4.6 -3.4 1.7 -3.1 -4.6 3.5z"/><path d="M308.5 491.8l3.8 -1.4 2.7 -2.1 -3.8 1.4z"/><path d="M457.1 376.8l4.6 -3.6 1.6 -3.2 -4.6 3.7z"/><path d="M438.3 396.5l4.5 -3.3 1.7 -3.1 -4.5 3.4z"/><path d="M463.3 370l4.7 -3.8 1.6 -3.3 -4.7 3.9z"/><path d="M432 402.7l4.5 -3.2 1.8 -3 -4.5 3.3z"/><path d="M377.7 449.5l4.1 -2.3 2.2 -2.7 -4.2 2.4z"/><path d="M469.6 362.9l4.8 -3.9 1.5 -3.3 -4.8 4.1z"/><path d="M348.3 469.7l4 -1.9 2.4 -2.4 -4 1.9z"/><path d="M425.8 408.8l4.5 -3.1 1.7 -3 -4.4 3.2z"/><path d="M325.2 483.2l3.9 -1.5 2.6 -2.2 -3.9 1.6z"/><path d="M475.9 355.7l4.8 -4.1 1.5 -3.3 -4.8 4.2z"/><path d="M419.5 414.7l4.5 -2.9 1.8 -3 -4.4 3.1z"/><path d="M371.4 454.3l4.1 -2.2 2.2 -2.6 -4.1 2.2z"/><path d="M413.3 420.5l4.4 -2.8 1.8 -3 -4.3 3z"/><path d="M407 426.1l4.4 -2.7 1.9 -2.9 -4.3 2.8z"/><path d="M342 473.8l3.9 -1.7 2.4 -2.4 -3.9 1.8z"/><path d="M302 495l3.7 -1.2 2.8 -2 -3.8 1.3z"/><path d="M318.8 486.9l3.8 -1.5 2.6 -2.2 -3.8 1.6z"/><path d="M365.1 458.9l4 -2 2.3 -2.6 -4.1 2.1z"/><path d="M400.7 431.6l4.4 -2.6 1.9 -2.9 -4.3 2.7z"/><path d="M394.5 437l4.2 -2.6 2 -2.8 -4.2 2.6z"/><path d="M335.5 477.8l4 -1.6 2.5 -2.4 -4 1.7z"/><path d="M358.7 463.4l4.1 -1.9 2.3 -2.6 -4.1 2.1z"/><path d="M295.4 498.2l3.7 -1.2 2.9 -2 -3.8 1.3z"/><path d="M388.2 442.1l4.2 -2.4 2.1 -2.7 -4.3 2.4z"/><path d="M312.3 490.4l3.8 -1.3 2.7 -2.2 -3.8 1.4z"/><path d="M352.3 467.8l4.1 -1.8 2.3 -2.6 -4 2z"/><path d="M381.8 447.2l4.2 -2.3 2.2 -2.8 -4.2 2.4z"/><path d="M329.1 481.7l3.9 -1.6 2.5 -2.3 -3.8 1.7z"/><path d="M449.1 386.7l4.7 -3.5 1.6 -3.2 -4.6 3.6z"/><path d="M455.4 380l4.7 -3.6 1.6 -3.2 -4.6 3.6z"/><path d="M442.8 393.2l4.6 -3.4 1.7 -3.1 -4.6 3.4z"/><path d="M461.7 373.2l4.8 -3.8 1.5 -3.2 -4.7 3.8z"/><path d="M436.5 399.5l4.6 -3.2 1.7 -3.1 -4.5 3.3z"/><path d="M468 366.2l4.8 -3.9 1.6 -3.3 -4.8 3.9z"/><path d="M430.3 405.7l4.5 -3.1 1.7 -3.1 -4.5 3.2z"/><path d="M474.4 359l4.8 -4 1.5 -3.4 -4.8 4.1z"/><path d="M424 411.8l4.4 -3 1.9 -3.1 -4.5 3.1z"/><path d="M375.5 452.1l4.2 -2.2 2.1 -2.7 -4.1 2.3z"/><path d="M480.7 351.6l4.9 -4.1 1.5 -3.4 -4.9 4.2z"/><path d="M288.8 501.2l3.7 -1 2.9 -2 -3.7 1.2z"/><path d="M305.7 493.8l3.8 -1.3 2.8 -2.1 -3.8 1.4z"/><path d="M417.7 417.7l4.4 -2.9 1.9 -3 -4.5 2.9z"/><path d="M345.9 472.1l4 -1.8 2.4 -2.5 -4 1.9z"/><path d="M322.6 485.4l3.9 -1.4 2.6 -2.3 -3.9 1.5z"/><path d="M411.4 423.4l4.4 -2.8 1.9 -2.9 -4.4 2.8z"/><path d="M369.1 456.9l4.2 -2.1 2.2 -2.7 -4.1 2.2z"/><path d="M405.1 429l4.3 -2.7 2 -2.9 -4.4 2.7z"/><path d="M339.5 476.2l4 -1.7 2.4 -2.4 -3.9 1.7z"/><path d="M398.7 434.4l4.4 -2.5 2 -2.9 -4.4 2.6z"/><path d="M299.1 497l3.8 -1.1 2.8 -2.1 -3.7 1.2z"/><path d="M362.8 461.5l4.1 -2 2.2 -2.6 -4 2z"/><path d="M316.1 489.1l3.9 -1.4 2.6 -2.3 -3.8 1.5z"/><path d="M392.4 439.7l4.3 -2.4 2 -2.9 -4.2 2.6z"/><path d="M333 480.1l4 -1.5 2.5 -2.4 -4 1.6z"/><path d="M356.4 466l4 -1.9 2.4 -2.6 -4.1 1.9z"/><path d="M386 444.9l4.3 -2.3 2.1 -2.9 -4.2 2.4z"/><path d="M453.8 383.2l4.7 -3.5 1.6 -3.3 -4.7 3.6z"/><path d="M447.4 389.8l4.7 -3.4 1.7 -3.2 -4.7 3.5z"/><path d="M460.1 376.4l4.8 -3.7 1.6 -3.3 -4.8 3.8z"/><path d="M292.5 500.2l3.8 -1.1 2.8 -2.1 -3.7 1.2z"/><path d="M441.1 396.3l4.6 -3.3 1.7 -3.2 -4.6 3.4z"/><path d="M309.5 492.5l3.9 -1.2 2.7 -2.2 -3.8 1.3z"/><path d="M466.5 369.4l4.8 -3.8 1.5 -3.3 -4.8 3.9z"/><path d="M434.8 402.6l4.5 -3.1 1.8 -3.2 -4.6 3.2z"/><path d="M379.7 449.9l4.2 -2.2 2.1 -2.8 -4.2 2.3z"/><path d="M472.8 362.3l4.9 -3.9 1.5 -3.4 -4.8 4z"/><path d="M428.4 408.8l4.6 -3.1 1.8 -3.1 -4.5 3.1z"/><path d="M349.9 470.3l4.1 -1.8 2.4 -2.5 -4.1 1.8z"/><path d="M479.2 355l4.9 -4.1 1.5 -3.4 -4.9 4.1z"/><path d="M326.5 484l3.9 -1.5 2.6 -2.4 -3.9 1.6z"/><path d="M422.1 414.8l4.5 -2.9 1.8 -3.1 -4.4 3z"/><path d="M485.6 347.5l4.9 -4.2 1.5 -3.5 -4.9 4.3z"/><path d="M415.8 420.6l4.4 -2.8 1.9 -3 -4.4 2.9z"/><path d="M373.3 454.8l4.2 -2.2 2.2 -2.7 -4.2 2.2z"/><path d="M409.4 426.3l4.4 -2.6 2 -3.1 -4.4 2.8z"/><path d="M343.5 474.5l4 -1.7 2.4 -2.5 -4 1.8z"/><path d="M302.9 495.9l3.8 -1.2 2.8 -2.2 -3.8 1.3z"/><path d="M285.8 503.2l3.8 -1 2.9 -2 -3.7 1z"/><path d="M366.9 459.5l4.1 -2 2.3 -2.7 -4.2 2.1z"/><path d="M403.1 431.9l4.3 -2.6 2 -3 -4.3 2.7z"/><path d="M320 487.7l3.9 -1.4 2.6 -2.3 -3.9 1.4z"/><path d="M396.7 437.3l4.3 -2.5 2.1 -2.9 -4.4 2.5z"/><path d="M337 478.6l4 -1.6 2.5 -2.5 -4 1.7z"/><path d="M360.4 464.1l4.2 -1.9 2.3 -2.7 -4.1 2z"/><path d="M390.3 442.6l4.3 -2.4 2.1 -2.9 -4.3 2.4z"/><path d="M296.3 499.1l3.8 -1.1 2.8 -2.1 -3.8 1.1z"/><path d="M313.4 491.3l3.9 -1.3 2.7 -2.3 -3.9 1.4z"/><path d="M383.9 447.7l4.3 -2.3 2.1 -2.8 -4.3 2.3z"/><path d="M354 468.5l4.1 -1.8 2.3 -2.6 -4 1.9z"/><path d="M452.1 386.4l4.7 -3.4 1.7 -3.3 -4.7 3.5z"/><path d="M458.5 379.7l4.7 -3.6 1.7 -3.4 -4.8 3.7z"/><path d="M445.7 393l4.7 -3.3 1.7 -3.3 -4.7 3.4z"/><path d="M330.4 482.5l4 -1.5 2.6 -2.4 -4 1.5z"/><path d="M464.9 372.7l4.8 -3.7 1.6 -3.4 -4.8 3.8z"/><path d="M439.3 399.5l4.7 -3.2 1.7 -3.3 -4.6 3.3z"/><path d="M471.3 365.6l4.8 -3.8 1.6 -3.4 -4.9 3.9z"/><path d="M433 405.7l4.6 -3 1.7 -3.2 -4.5 3.1z"/><path d="M477.7 358.4l4.9 -4 1.5 -3.5 -4.9 4.1z"/><path d="M426.6 411.9l4.5 -3 1.9 -3.2 -4.6 3.1z"/><path d="M377.5 452.6l4.2 -2.1 2.2 -2.8 -4.2 2.2z"/><path d="M484.1 350.9l5 -4.1 1.4 -3.5 -4.9 4.2z"/><path d="M420.2 417.8l4.5 -2.8 1.9 -3.1 -4.5 2.9z"/><path d="M306.7 494.7l3.9 -1.2 2.8 -2.2 -3.9 1.2z"/><path d="M289.6 502.2l3.7 -1.1 3 -2 -3.8 1.1z"/><path d="M347.5 472.8l4.1 -1.7 2.4 -2.6 -4.1 1.8z"/><path d="M490.5 343.3l5.1 -4.3 1.4 -3.5 -5 4.3z"/><path d="M413.8 423.7l4.5 -2.8 1.9 -3.1 -4.4 2.8z"/><path d="M323.9 486.3l3.9 -1.4 2.6 -2.4 -3.9 1.5z"/><path d="M371 457.5l4.3 -2.1 2.2 -2.8 -4.2 2.2z"/><path d="M407.4 429.3l4.5 -2.6 1.9 -3 -4.4 2.6z"/><path d="M341 477l4 -1.6 2.5 -2.6 -4 1.7z"/><path d="M401 434.8l4.4 -2.5 2 -3 -4.3 2.6z"/><path d="M364.6 462.2l4.2 -2 2.2 -2.7 -4.1 2z"/><path d="M300.1 498l3.8 -1.1 2.8 -2.2 -3.8 1.2z"/><path d="M282.8 505.1l3.8 -0.9 3 -2 -3.8 1z"/><path d="M317.3 490l3.9 -1.4 2.7 -2.3 -3.9 1.4z"/><path d="M394.6 440.2l4.4 -2.4 2 -3 -4.3 2.5z"/><path d="M334.4 481l4 -1.5 2.6 -2.5 -4 1.6z"/><path d="M358.1 466.7l4.1 -1.8 2.4 -2.7 -4.2 1.9z"/><path d="M388.2 445.4l4.3 -2.3 2.1 -2.9 -4.3 2.4z"/><path d="M456.8 383l4.8 -3.5 1.6 -3.4 -4.7 3.6z"/><path d="M450.4 389.7l4.7 -3.4 1.7 -3.3 -4.7 3.4z"/><path d="M463.2 376.1l4.9 -3.6 1.6 -3.5 -4.8 3.7z"/><path d="M444 396.3l4.7 -3.3 1.7 -3.3 -4.7 3.3z"/><path d="M469.7 369l4.9 -3.7 1.5 -3.5 -4.8 3.8z"/><path d="M293.3 501.1l3.9 -1 2.9 -2.1 -3.8 1.1z"/><path d="M437.6 402.7l4.6 -3.2 1.8 -3.2 -4.7 3.2z"/><path d="M310.6 493.5l3.9 -1.2 2.8 -2.3 -3.9 1.3z"/><path d="M381.7 450.5l4.3 -2.2 2.2 -2.9 -4.3 2.3z"/><path d="M476.1 361.8l5 -3.9 1.5 -3.5 -4.9 4z"/><path d="M431.1 408.9l4.6 -3 1.9 -3.2 -4.6 3z"/><path d="M351.6 471.1l4.1 -1.7 2.4 -2.7 -4.1 1.8z"/><path d="M482.6 354.4l5 -4 1.5 -3.6 -5 4.1z"/><path d="M424.7 415l4.6 -2.9 1.8 -3.2 -4.5 3z"/><path d="M327.8 484.9l4 -1.4 2.6 -2.5 -4 1.5z"/><path d="M489.1 346.8l5 -4.2 1.5 -3.6 -5.1 4.3z"/><path d="M418.3 420.9l4.5 -2.7 1.9 -3.2 -4.5 2.8z"/><path d="M375.3 455.4l4.2 -2 2.2 -2.9 -4.2 2.1z"/><path d="M495.6 339l5 -4.3 1.5 -3.6 -5.1 4.4z"/><path d="M411.9 426.7l4.5 -2.6 1.9 -3.2 -4.5 2.8z"/><path d="M345 475.4l4.1 -1.7 2.5 -2.6 -4.1 1.7z"/><path d="M303.9 496.9l3.9 -1.1 2.8 -2.3 -3.9 1.2z"/><path d="M286.6 504.2l3.8 -1 2.9 -2.1 -3.7 1.1z"/><path d="M405.4 432.3l4.5 -2.5 2 -3.1 -4.5 2.6z"/><path d="M368.8 460.2l4.2 -1.9 2.3 -2.9 -4.3 2.1z"/><path d="M321.2 488.6l4 -1.3 2.6 -2.4 -3.9 1.4z"/><path d="M399 437.8l4.4 -2.4 2 -3.1 -4.4 2.5z"/><path d="M338.4 479.5l4.1 -1.5 2.5 -2.6 -4 1.6z"/><path d="M362.2 464.9l4.2 -1.9 2.4 -2.8 -4.2 2z"/><path d="M392.5 443.1l4.4 -2.3 2.1 -3 -4.4 2.4z"/><path d="M297.2 500.1l3.8 -1 2.9 -2.2 -3.8 1.1z"/><path d="M314.5 492.3l4 -1.3 2.7 -2.4 -3.9 1.4z"/><path d="M279.7 507.1l3.8 -0.9 3.1 -2 -3.8 0.9z"/><path d="M386 448.3l4.4 -2.2 2.1 -3 -4.3 2.3z"/><path d="M455.1 386.3l4.8 -3.4 1.7 -3.4 -4.8 3.5z"/><path d="M461.6 379.5l4.8 -3.6 1.7 -3.4 -4.9 3.6z"/><path d="M448.7 393l4.7 -3.3 1.7 -3.4 -4.7 3.4z"/><path d="M355.7 469.4l4.2 -1.8 2.3 -2.7 -4.1 1.8z"/><path d="M468.1 372.5l4.9 -3.7 1.6 -3.5 -4.9 3.7z"/><path d="M442.2 399.5l4.7 -3.1 1.8 -3.4 -4.7 3.3z"/><path d="M331.8 483.5l4.1 -1.5 2.5 -2.5 -4 1.5z"/><path d="M474.6 365.3l4.9 -3.9 1.6 -3.5 -5 3.9z"/><path d="M435.7 405.9l4.7 -3 1.8 -3.4 -4.6 3.2z"/><path d="M481.1 357.9l5 -4 1.5 -3.5 -5 4z"/><path d="M429.3 412.1l4.6 -2.9 1.8 -3.3 -4.6 3z"/><path d="M379.5 453.4l4.3 -2.1 2.2 -3 -4.3 2.2z"/><path d="M487.6 350.4l5 -4.1 1.5 -3.7 -5 4.2z"/><path d="M422.8 418.2l4.6 -2.8 1.9 -3.3 -4.6 2.9z"/><path d="M307.8 495.8l3.9 -1.2 2.8 -2.3 -3.9 1.2z"/><path d="M349.1 473.7l4.2 -1.6 2.4 -2.7 -4.1 1.7z"/><path d="M290.4 503.2l3.8 -0.9 3 -2.2 -3.9 1z"/><path d="M494.1 342.6l5.1 -4.2 1.4 -3.7 -5 4.3z"/><path d="M416.4 424.1l4.5 -2.7 1.9 -3.2 -4.5 2.7z"/><path d="M325.2 487.3l4 -1.3 2.6 -2.5 -4 1.4z"/><path d="M373 458.3l4.3 -2 2.2 -2.9 -4.2 2z"/><path d="M500.6 334.7l5.2 -4.4 1.4 -3.7 -5.1 4.5z"/><path d="M409.9 429.8l4.5 -2.5 2 -3.2 -4.5 2.6z"/><path d="M342.5 478l4.1 -1.6 2.5 -2.7 -4.1 1.7z"/><path d="M403.4 435.4l4.5 -2.4 2 -3.2 -4.5 2.5z"/><path d="M366.4 463l4.3 -1.9 2.3 -2.8 -4.2 1.9z"/><path d="M301 499.1l4 -1 2.8 -2.3 -3.9 1.1z"/><path d="M318.5 491l4 -1.2 2.7 -2.5 -4 1.3z"/><path d="M396.9 440.8l4.4 -2.3 2.1 -3.1 -4.4 2.4z"/><path d="M283.5 506.2l3.9 -0.8 3 -2.2 -3.8 1z"/><path d="M359.9 467.6l4.2 -1.8 2.3 -2.8 -4.2 1.9z"/><path d="M335.9 482l4.1 -1.4 2.5 -2.6 -4.1 1.5z"/><path d="M390.4 446.1l4.4 -2.2 2.1 -3.1 -4.4 2.3z"/><path d="M459.9 382.9l4.9 -3.4 1.6 -3.6 -4.8 3.6z"/><path d="M453.4 389.7l4.8 -3.3 1.7 -3.5 -4.8 3.4z"/><path d="M466.4 375.9l5 -3.6 1.6 -3.5 -4.9 3.7z"/><path d="M446.9 396.4l4.8 -3.2 1.7 -3.5 -4.7 3.3z"/><path d="M473 368.8l4.9 -3.8 1.6 -3.6 -4.9 3.9z"/><path d="M440.4 402.9l4.7 -3.1 1.8 -3.4 -4.7 3.1z"/><path d="M479.5 361.4l5 -3.8 1.6 -3.7 -5 4z"/><path d="M383.8 451.3l4.4 -2.1 2.2 -3.1 -4.4 2.2z"/><path d="M294.2 502.3l3.9 -0.9 2.9 -2.3 -3.8 1z"/><path d="M311.7 494.6l4 -1.1 2.8 -2.5 -4 1.3z"/><path d="M433.9 409.2l4.7 -2.9 1.8 -3.4 -4.7 3z"/><path d="M353.3 472.1l4.2 -1.7 2.4 -2.8 -4.2 1.8z"/><path d="M486.1 353.9l5 -4 1.5 -3.6 -5 4.1z"/><path d="M427.4 415.4l4.7 -2.9 1.8 -3.3 -4.6 2.9z"/><path d="M276.6 509.1l3.8 -0.8 3.1 -2.1 -3.8 0.9z"/><path d="M329.2 486l4.1 -1.4 2.6 -2.6 -4.1 1.5z"/><path d="M492.6 346.3l5.1 -4.2 1.5 -3.7 -5.1 4.2z"/><path d="M420.9 421.4l4.6 -2.7 1.9 -3.3 -4.6 2.8z"/><path d="M377.3 456.3l4.3 -2 2.2 -3 -4.3 2.1z"/><path d="M499.2 338.4l5.2 -4.3 1.4 -3.8 -5.2 4.4z"/><path d="M414.4 427.3l4.6 -2.6 1.9 -3.3 -4.5 2.7z"/><path d="M346.6 476.4l4.2 -1.6 2.5 -2.7 -4.2 1.6z"/><path d="M505.8 330.3l5.2 -4.4 1.4 -3.8 -5.2 4.5z"/><path d="M305 498.1l3.9 -1.1 2.8 -2.4 -3.9 1.2z"/><path d="M407.9 433l4.5 -2.5 2 -3.2 -4.5 2.5z"/><path d="M370.7 461.1l4.3 -1.9 2.3 -2.9 -4.3 2z"/><path d="M287.4 505.4l3.8 -0.9 3 -2.2 -3.8 0.9z"/><path d="M322.5 489.8l4 -1.3 2.7 -2.5 -4 1.3z"/><path d="M401.3 438.5l4.5 -2.4 2.1 -3.1 -4.5 2.4z"/><path d="M340 480.6l4.1 -1.5 2.5 -2.7 -4.1 1.6z"/><path d="M364.1 465.8l4.3 -1.7 2.3 -3 -4.3 1.9z"/><path d="M394.8 443.9l4.4 -2.2 2.1 -3.2 -4.4 2.3z"/><path d="M298.1 501.4l4 -1 2.9 -2.3 -4 1z"/><path d="M315.7 493.5l4 -1.2 2.8 -2.5 -4 1.2z"/><path d="M280.4 508.3l3.9 -0.7 3.1 -2.2 -3.9 0.8z"/><path d="M458.2 386.4l4.9 -3.4 1.7 -3.5 -4.9 3.4z"/><path d="M464.8 379.5l4.9 -3.5 1.7 -3.7 -5 3.6z"/><path d="M388.2 449.2l4.4 -2.2 2.2 -3.1 -4.4 2.2z"/><path d="M451.7 393.2l4.8 -3.3 1.7 -3.5 -4.8 3.3z"/><path d="M471.4 372.3l4.9 -3.6 1.6 -3.7 -4.9 3.8z"/><path d="M357.5 470.4l4.2 -1.7 2.4 -2.9 -4.2 1.8z"/><path d="M445.1 399.8l4.8 -3.1 1.8 -3.5 -4.8 3.2z"/><path d="M477.9 365l5.1 -3.7 1.5 -3.7 -5 3.8z"/><path d="M333.3 484.6l4.1 -1.3 2.6 -2.7 -4.1 1.4z"/><path d="M438.6 406.3l4.8 -3 1.7 -3.5 -4.7 3.1z"/><path d="M484.5 357.6l5.1 -3.9 1.5 -3.8 -5 4z"/><path d="M432.1 412.5l4.7 -2.8 1.8 -3.4 -4.7 2.9z"/><path d="M381.6 454.3l4.4 -2.1 2.2 -3 -4.4 2.1z"/><path d="M491.1 349.9l5.2 -4 1.4 -3.8 -5.1 4.2z"/><path d="M425.5 418.7l4.7 -2.8 1.9 -3.4 -4.7 2.9z"/><path d="M497.7 342.1l5.2 -4.2 1.5 -3.8 -5.2 4.3z"/><path d="M350.8 474.8l4.2 -1.5 2.5 -2.9 -4.2 1.7z"/><path d="M308.9 497l4 -1.1 2.8 -2.4 -4 1.1z"/><path d="M419 424.7l4.6 -2.7 1.9 -3.3 -4.6 2.7z"/><path d="M291.2 504.5l3.9 -0.8 3 -2.3 -3.9 0.9z"/><path d="M326.5 488.5l4.1 -1.2 2.7 -2.7 -4.1 1.4z"/><path d="M504.4 334.1l5.2 -4.4 1.4 -3.8 -5.2 4.4z"/><path d="M375 459.2l4.4 -1.9 2.2 -3 -4.3 2z"/><path d="M412.4 430.5l4.6 -2.5 2 -3.3 -4.6 2.6z"/><path d="M273.5 511.1l3.8 -0.6 3.1 -2.2 -3.8 0.8z"/><path d="M511 325.9l5.4 -4.5 1.3 -3.9 -5.3 4.6z"/><path d="M405.8 436.1l4.6 -2.3 2 -3.3 -4.5 2.5z"/><path d="M344.1 479.1l4.2 -1.5 2.5 -2.8 -4.2 1.6z"/><path d="M368.4 464.1l4.3 -1.9 2.3 -3 -4.3 1.9z"/><path d="M302.1 500.4l3.9 -1 2.9 -2.4 -3.9 1.1z"/><path d="M399.2 441.7l4.5 -2.3 2.1 -3.3 -4.5 2.4z"/><path d="M319.7 492.3l4.1 -1.2 2.7 -2.6 -4 1.3z"/><path d="M284.3 507.6l3.9 -0.8 3 -2.3 -3.8 0.9z"/><path d="M361.7 468.7l4.3 -1.7 2.4 -2.9 -4.3 1.7z"/><path d="M392.6 447l4.5 -2.1 2.1 -3.2 -4.4 2.2z"/><path d="M337.4 483.3l4.1 -1.4 2.6 -2.8 -4.1 1.5z"/><path d="M463.1 383l5 -3.4 1.6 -3.6 -4.9 3.5z"/><path d="M456.5 389.9l4.9 -3.2 1.7 -3.7 -4.9 3.4z"/><path d="M469.7 376l5 -3.6 1.6 -3.7 -4.9 3.6z"/><path d="M449.9 396.7l4.9 -3.2 1.7 -3.6 -4.8 3.3z"/><path d="M476.3 368.7l5.1 -3.7 1.6 -3.7 -5.1 3.7z"/><path d="M443.4 403.3l4.8 -3.1 1.7 -3.5 -4.8 3.1z"/><path d="M483 361.3l5.1 -3.9 1.5 -3.7 -5.1 3.9z"/><path d="M386 452.2l4.4 -2 2.2 -3.2 -4.4 2.2z"/><path d="M436.8 409.7l4.7 -2.9 1.9 -3.5 -4.8 3z"/><path d="M312.9 495.9l4 -1 2.8 -2.6 -4 1.2z"/><path d="M295.1 503.7l4 -0.9 3 -2.4 -4 1z"/><path d="M489.6 353.7l5.2 -4 1.5 -3.8 -5.2 4z"/><path d="M355 473.3l4.3 -1.7 2.4 -2.9 -4.2 1.7z"/><path d="M430.2 415.9l4.7 -2.7 1.9 -3.5 -4.7 2.8z"/><path d="M496.3 345.9l5.2 -4.1 1.4 -3.9 -5.2 4.2z"/><path d="M330.6 487.3l4.1 -1.3 2.7 -2.7 -4.1 1.3z"/><path d="M277.3 510.5l3.9 -0.7 3.1 -2.2 -3.9 0.7z"/><path d="M423.6 422l4.7 -2.6 1.9 -3.5 -4.7 2.8z"/><path d="M379.4 457.3l4.4 -1.9 2.2 -3.2 -4.4 2.1z"/><path d="M502.9 337.9l5.3 -4.3 1.4 -3.9 -5.2 4.4z"/><path d="M417 428l4.6 -2.6 2 -3.4 -4.6 2.7z"/><path d="M348.3 477.6l4.2 -1.5 2.5 -2.8 -4.2 1.5z"/><path d="M509.6 329.7l5.4 -4.4 1.4 -3.9 -5.4 4.5z"/><path d="M410.4 433.8l4.6 -2.5 2 -3.3 -4.6 2.5z"/><path d="M372.7 462.2l4.4 -1.8 2.3 -3.1 -4.4 1.9z"/><path d="M306 499.4l4 -1 2.9 -2.5 -4 1.1z"/><path d="M288.2 506.8l3.9 -0.8 3 -2.3 -3.9 0.8z"/><path d="M323.8 491.1l4.1 -1.1 2.7 -2.7 -4.1 1.2z"/><path d="M516.4 321.4l5.4 -4.6 1.3 -3.9 -5.4 4.6z"/><path d="M403.7 439.4l4.6 -2.3 2.1 -3.3 -4.6 2.3z"/><path d="M270.2 513.2l3.9 -0.6 3.2 -2.1 -3.8 0.6z"/><path d="M341.5 481.9l4.2 -1.4 2.6 -2.9 -4.2 1.5z"/><path d="M366 467l4.3 -1.7 2.4 -3.1 -4.3 1.9z"/><path d="M397.1 444.9l4.5 -2.2 2.1 -3.3 -4.5 2.3z"/><path d="M299.1 502.8l4 -0.9 2.9 -2.5 -3.9 1z"/><path d="M316.9 494.9l4.1 -1.1 2.8 -2.7 -4.1 1.2z"/><path d="M461.4 386.7l5 -3.4 1.7 -3.7 -5 3.4z"/><path d="M468.1 379.6l5 -3.5 1.6 -3.7 -5 3.6z"/><path d="M454.8 393.5l4.9 -3.2 1.7 -3.6 -4.9 3.2z"/><path d="M390.4 450.2l4.5 -2.1 2.2 -3.2 -4.5 2.1z"/><path d="M474.7 372.4l5.1 -3.6 1.6 -3.8 -5.1 3.7z"/><path d="M448.2 400.2l4.8 -3 1.8 -3.7 -4.9 3.2z"/><path d="M281.2 509.8l3.9 -0.7 3.1 -2.3 -3.9 0.8z"/><path d="M359.3 471.6l4.3 -1.6 2.4 -3 -4.3 1.7z"/><path d="M481.4 365l5.1 -3.7 1.6 -3.9 -5.1 3.9z"/><path d="M441.5 406.8l4.9 -3 1.8 -3.6 -4.8 3.1z"/><path d="M334.7 486l4.2 -1.3 2.6 -2.8 -4.1 1.4z"/><path d="M488.1 357.4l5.2 -3.8 1.5 -3.9 -5.2 4z"/><path d="M434.9 413.2l4.8 -2.9 1.8 -3.5 -4.7 2.9z"/><path d="M494.8 349.7l5.2 -4 1.5 -3.9 -5.2 4.1z"/><path d="M383.8 455.4l4.4 -2 2.2 -3.2 -4.4 2z"/><path d="M428.3 419.4l4.7 -2.7 1.9 -3.5 -4.7 2.7z"/><path d="M501.5 341.8l5.3 -4.2 1.4 -4 -5.3 4.3z"/><path d="M352.5 476.1l4.3 -1.5 2.5 -3 -4.3 1.7z"/><path d="M421.6 425.4l4.7 -2.5 2 -3.5 -4.7 2.6z"/><path d="M310 498.4l4.1 -0.9 2.8 -2.6 -4 1z"/><path d="M292.1 506l4 -0.8 3 -2.4 -4 0.9z"/><path d="M508.2 333.6l5.4 -4.3 1.4 -4 -5.4 4.4z"/><path d="M377.1 460.4l4.4 -1.9 2.3 -3.1 -4.4 1.9z"/><path d="M327.9 490l4.2 -1.2 2.6 -2.8 -4.1 1.3z"/><path d="M415 431.3l4.6 -2.4 2 -3.5 -4.6 2.6z"/><path d="M274.1 512.6l3.9 -0.6 3.2 -2.2 -3.9 0.7z"/><path d="M515 325.3l5.4 -4.5 1.4 -4 -5.4 4.6z"/><path d="M408.3 437.1l4.6 -2.4 2.1 -3.4 -4.6 2.5z"/><path d="M345.7 480.5l4.3 -1.4 2.5 -3 -4.2 1.5z"/><path d="M370.3 465.3l4.4 -1.8 2.4 -3.1 -4.4 1.8z"/><path d="M521.8 316.8l5.4 -4.6 1.4 -4.1 -5.5 4.8z"/><path d="M401.6 442.7l4.6 -2.3 2.1 -3.3 -4.6 2.3z"/><path d="M303.1 501.9l4 -0.9 2.9 -2.6 -4 1z"/><path d="M321 493.8l4.2 -1.1 2.7 -2.7 -4.1 1.1z"/><path d="M285.1 509.1l3.9 -0.7 3.1 -2.4 -3.9 0.8z"/><path d="M363.6 470l4.4 -1.6 2.3 -3.1 -4.3 1.7z"/><path d="M394.9 448.1l4.6 -2.1 2.1 -3.3 -4.5 2.2z"/><path d="M338.9 484.7l4.3 -1.3 2.5 -2.9 -4.2 1.4z"/><path d="M466.4 383.3l5 -3.4 1.7 -3.8 -5 3.5z"/><path d="M459.7 390.3l5 -3.2 1.7 -3.8 -5 3.4z"/><path d="M473.1 376.1l5.1 -3.5 1.6 -3.8 -5.1 3.6z"/><path d="M453 397.2l5 -3.1 1.7 -3.8 -4.9 3.2z"/><path d="M266.9 515.3l3.9 -0.5 3.3 -2.2 -3.9 0.6z"/><path d="M479.8 368.8l5.1 -3.7 1.6 -3.8 -5.1 3.7z"/><path d="M446.4 403.8l4.9 -2.9 1.7 -3.7 -4.8 3z"/><path d="M486.5 361.3l5.2 -3.8 1.6 -3.9 -5.2 3.8z"/><path d="M388.2 453.4l4.5 -2 2.2 -3.3 -4.5 2.1z"/><path d="M439.7 410.3l4.8 -2.8 1.9 -3.7 -4.9 3z"/><path d="M493.3 353.6l5.2 -4 1.5 -3.9 -5.2 4z"/><path d="M314.1 497.5l4.1 -1 2.8 -2.7 -4.1 1.1z"/><path d="M433 416.7l4.8 -2.8 1.9 -3.6 -4.8 2.9z"/><path d="M296.1 505.2l4 -0.8 3 -2.5 -4 0.9z"/><path d="M356.8 474.6l4.4 -1.5 2.4 -3.1 -4.3 1.6z"/><path d="M500 345.7l5.3 -4.1 1.5 -4 -5.3 4.2z"/><path d="M332.1 488.8l4.2 -1.3 2.6 -2.8 -4.2 1.3z"/><path d="M426.3 422.9l4.8 -2.6 1.9 -3.6 -4.7 2.7z"/><path d="M278 512l3.9 -0.6 3.2 -2.3 -3.9 0.7z"/><path d="M381.5 458.5l4.5 -1.8 2.2 -3.3 -4.4 2z"/><path d="M506.8 337.6l5.3 -4.3 1.5 -4 -5.4 4.3z"/><path d="M419.6 428.9l4.8 -2.5 1.9 -3.5 -4.7 2.5z"/><path d="M513.6 329.3l5.4 -4.4 1.4 -4.1 -5.4 4.5z"/><path d="M350 479.1l4.3 -1.5 2.5 -3 -4.3 1.5z"/><path d="M412.9 434.7l4.7 -2.3 2 -3.5 -4.6 2.4z"/><path d="M374.7 463.5l4.5 -1.7 2.3 -3.3 -4.4 1.9z"/><path d="M307.1 501l4.1 -0.9 2.9 -2.6 -4.1 0.9z"/><path d="M520.4 320.8l5.5 -4.5 1.3 -4.1 -5.4 4.6z"/><path d="M325.2 492.7l4.2 -1.1 2.7 -2.8 -4.2 1.2z"/><path d="M289 508.4l4 -0.7 3.1 -2.5 -4 0.8z"/><path d="M406.2 440.4l4.7 -2.2 2 -3.5 -4.6 2.4z"/><path d="M527.2 312.2l5.6 -4.7 1.3 -4.2 -5.5 4.8z"/><path d="M343.2 483.4l4.2 -1.4 2.6 -2.9 -4.3 1.4z"/><path d="M368 468.4l4.4 -1.7 2.3 -3.2 -4.4 1.8z"/><path d="M270.8 514.8l4 -0.5 3.2 -2.3 -3.9 0.6z"/><path d="M399.5 446l4.6 -2.1 2.1 -3.5 -4.6 2.3z"/><path d="M464.7 387.1l5.1 -3.3 1.6 -3.9 -5 3.4z"/><path d="M300.1 504.4l4.1 -0.8 2.9 -2.6 -4 0.9z"/><path d="M471.4 379.9l5.2 -3.4 1.6 -3.9 -5.1 3.5z"/><path d="M458 394.1l5 -3.2 1.7 -3.8 -5 3.2z"/><path d="M318.2 496.5l4.2 -1.1 2.8 -2.7 -4.2 1.1z"/><path d="M392.7 451.4l4.6 -2 2.2 -3.4 -4.6 2.1z"/><path d="M478.2 372.6l5.2 -3.5 1.5 -4 -5.1 3.7z"/><path d="M451.3 400.9l4.9 -3.1 1.8 -3.7 -5 3.1z"/><path d="M361.2 473.1l4.3 -1.6 2.5 -3.1 -4.4 1.6z"/><path d="M484.9 365.1l5.3 -3.7 1.5 -3.9 -5.2 3.8z"/><path d="M444.5 407.5l5 -2.9 1.8 -3.7 -4.9 2.9z"/><path d="M281.9 511.4l4 -0.6 3.1 -2.4 -3.9 0.7z"/><path d="M336.3 487.5l4.2 -1.2 2.7 -2.9 -4.3 1.3z"/><path d="M491.7 357.5l5.3 -3.9 1.5 -4 -5.2 4z"/><path d="M437.8 413.9l4.9 -2.7 1.8 -3.7 -4.8 2.8z"/><path d="M498.5 349.6l5.3 -4 1.5 -4 -5.3 4.1z"/><path d="M386 456.7l4.5 -1.9 2.2 -3.4 -4.5 2z"/><path d="M431.1 420.3l4.8 -2.7 1.9 -3.7 -4.8 2.8z"/><path d="M505.3 341.6l5.4 -4.2 1.4 -4.1 -5.3 4.3z"/><path d="M263.6 517.5l3.9 -0.4 3.3 -2.3 -3.9 0.5z"/><path d="M424.4 426.4l4.7 -2.5 2 -3.6 -4.8 2.6z"/><path d="M354.3 477.6l4.4 -1.4 2.5 -3.1 -4.4 1.5z"/><path d="M311.2 500.1l4.2 -0.9 2.8 -2.7 -4.1 1z"/><path d="M512.1 333.3l5.5 -4.3 1.4 -4.1 -5.4 4.4z"/><path d="M293 507.7l4.1 -0.7 3 -2.6 -4 0.8z"/><path d="M379.2 461.8l4.5 -1.8 2.3 -3.3 -4.5 1.8z"/><path d="M417.6 432.4l4.8 -2.4 2 -3.6 -4.8 2.5z"/><path d="M329.4 491.6l4.2 -1.2 2.7 -2.9 -4.2 1.3z"/><path d="M519 324.9l5.5 -4.4 1.4 -4.2 -5.5 4.5z"/><path d="M274.8 514.3l3.9 -0.5 3.2 -2.4 -3.9 0.6z"/><path d="M410.9 438.2l4.7 -2.3 2 -3.5 -4.7 2.3z"/><path d="M347.4 482l4.4 -1.3 2.5 -3.1 -4.3 1.5z"/><path d="M372.4 466.7l4.5 -1.7 2.3 -3.2 -4.5 1.7z"/><path d="M525.9 316.3l5.5 -4.6 1.4 -4.2 -5.6 4.7z"/><path d="M404.1 443.9l4.7 -2.2 2.1 -3.5 -4.7 2.2z"/><path d="M304.2 503.6l4.1 -0.8 2.9 -2.7 -4.1 0.9z"/><path d="M322.4 495.4l4.2 -1 2.8 -2.8 -4.2 1.1z"/><path d="M532.8 307.5l5.6 -4.8 1.3 -4.3 -5.6 4.9z"/><path d="M285.9 510.8l4 -0.6 3.1 -2.5 -4 0.7z"/><path d="M397.3 449.4l4.6 -2.1 2.2 -3.4 -4.6 2.1z"/><path d="M365.5 471.5l4.5 -1.6 2.4 -3.2 -4.4 1.7z"/><path d="M340.5 486.3l4.3 -1.2 2.6 -3.1 -4.2 1.4z"/><path d="M469.8 383.8l5.1 -3.3 1.7 -4 -5.2 3.4z"/><path d="M463 390.9l5.1 -3.2 1.7 -3.9 -5.1 3.3z"/><path d="M476.6 376.5l5.1 -3.4 1.7 -4 -5.2 3.5z"/><path d="M456.2 397.8l5 -3 1.8 -3.9 -5 3.2z"/><path d="M483.4 369.1l5.2 -3.6 1.6 -4.1 -5.3 3.7z"/><path d="M449.5 404.6l4.9 -2.9 1.8 -3.9 -4.9 3.1z"/><path d="M267.5 517.1l4 -0.5 3.3 -2.3 -4 0.5z"/><path d="M490.2 361.4l5.2 -3.7 1.6 -4.1 -5.3 3.9z"/><path d="M442.7 411.2l4.9 -2.8 1.9 -3.8 -5 2.9z"/><path d="M390.5 454.8l4.6 -2 2.2 -3.4 -4.6 2z"/><path d="M497 353.6l5.3 -3.9 1.5 -4.1 -5.3 4z"/><path d="M435.9 417.6l4.9 -2.7 1.9 -3.7 -4.9 2.7z"/><path d="M358.7 476.2l4.4 -1.5 2.4 -3.2 -4.3 1.6z"/><path d="M315.4 499.2l4.2 -0.9 2.8 -2.9 -4.2 1.1z"/><path d="M297.1 507l4.1 -0.8 3 -2.6 -4.1 0.8z"/><path d="M503.8 345.6l5.4 -4 1.5 -4.2 -5.4 4.2z"/><path d="M429.1 423.9l4.9 -2.6 1.9 -3.7 -4.8 2.7z"/><path d="M333.6 490.4l4.3 -1.1 2.6 -3 -4.2 1.2z"/><path d="M383.7 460l4.6 -1.8 2.2 -3.4 -4.5 1.9z"/><path d="M510.7 337.4l5.5 -4.2 1.4 -4.2 -5.5 4.3z"/><path d="M278.7 513.8l4 -0.5 3.2 -2.5 -4 0.6z"/><path d="M422.4 430l4.8 -2.4 1.9 -3.7 -4.7 2.5z"/><path d="M517.6 329l5.5 -4.3 1.4 -4.2 -5.5 4.4z"/><path d="M351.8 480.7l4.4 -1.4 2.5 -3.1 -4.4 1.4z"/><path d="M415.6 435.9l4.7 -2.3 2.1 -3.6 -4.8 2.4z"/><path d="M376.9 465l4.5 -1.7 2.3 -3.3 -4.5 1.8z"/><path d="M260.2 519.7l3.9 -0.4 3.4 -2.2 -3.9 0.4z"/><path d="M308.3 502.8l4.2 -0.8 2.9 -2.8 -4.2 0.9z"/><path d="M524.5 320.5l5.6 -4.6 1.3 -4.2 -5.5 4.6z"/><path d="M326.6 494.4l4.2 -1 2.8 -3 -4.2 1.2z"/><path d="M408.8 441.7l4.7 -2.2 2.1 -3.6 -4.7 2.3z"/><path d="M289.9 510.2l4.1 -0.6 3.1 -2.6 -4.1 0.7z"/><path d="M531.4 311.7l5.7 -4.7 1.3 -4.3 -5.6 4.8z"/><path d="M370 469.9l4.5 -1.5 2.4 -3.4 -4.5 1.7z"/><path d="M344.8 485.1l4.4 -1.3 2.6 -3.1 -4.4 1.3z"/><path d="M401.9 447.3l4.7 -2 2.2 -3.6 -4.7 2.2z"/><path d="M271.5 516.6l4 -0.4 3.2 -2.4 -3.9 0.5z"/><path d="M538.4 302.7l5.7 -4.9 1.3 -4.3 -5.7 4.9z"/><path d="M468.1 387.7l5.1 -3.2 1.7 -4 -5.1 3.3z"/><path d="M474.9 380.5l5.2 -3.4 1.6 -4 -5.1 3.4z"/><path d="M461.2 394.8l5.1 -3.1 1.8 -4 -5.1 3.2z"/><path d="M481.7 373.1l5.3 -3.6 1.6 -4 -5.2 3.6z"/><path d="M395.1 452.8l4.7 -1.9 2.1 -3.6 -4.6 2.1z"/><path d="M454.4 401.7l5.1 -3 1.7 -3.9 -5 3z"/><path d="M319.6 498.3l4.2 -1 2.8 -2.9 -4.2 1z"/><path d="M301.2 506.2l4.1 -0.7 3 -2.7 -4.1 0.8z"/><path d="M488.6 365.5l5.3 -3.7 1.5 -4.1 -5.2 3.7z"/><path d="M363.1 474.7l4.5 -1.5 2.4 -3.3 -4.5 1.6z"/><path d="M447.6 408.4l5 -2.9 1.8 -3.8 -4.9 2.9z"/><path d="M495.4 357.7l5.4 -3.8 1.5 -4.2 -5.3 3.9z"/><path d="M337.9 489.3l4.3 -1.2 2.6 -3 -4.3 1.2z"/><path d="M440.8 414.9l5 -2.7 1.8 -3.8 -4.9 2.8z"/><path d="M282.7 513.3l4.1 -0.6 3.1 -2.5 -4 0.6z"/><path d="M502.3 349.7l5.5 -3.9 1.4 -4.2 -5.4 4z"/><path d="M388.3 458.2l4.6 -1.9 2.2 -3.5 -4.6 2z"/><path d="M434 421.3l4.9 -2.6 1.9 -3.8 -4.9 2.7z"/><path d="M509.2 341.6l5.5 -4.1 1.5 -4.3 -5.5 4.2z"/><path d="M427.2 427.6l4.8 -2.5 2 -3.8 -4.9 2.6z"/><path d="M356.2 479.3l4.4 -1.3 2.5 -3.3 -4.4 1.5z"/><path d="M264.1 519.3l4 -0.3 3.4 -2.4 -4 0.5z"/><path d="M516.2 333.2l5.5 -4.2 1.4 -4.3 -5.5 4.3z"/><path d="M312.5 502l4.2 -0.9 2.9 -2.8 -4.2 0.9z"/><path d="M381.4 463.3l4.6 -1.7 2.3 -3.4 -4.6 1.8z"/><path d="M420.3 433.6l4.9 -2.3 2 -3.7 -4.8 2.4z"/><path d="M294 509.6l4.1 -0.7 3.1 -2.7 -4.1 0.8z"/><path d="M330.8 493.4l4.3 -1.1 2.8 -3 -4.3 1.1z"/><path d="M523.1 324.7l5.6 -4.4 1.4 -4.4 -5.6 4.6z"/><path d="M413.5 439.5l4.8 -2.2 2 -3.7 -4.7 2.3z"/><path d="M275.5 516.2l4 -0.4 3.2 -2.5 -4 0.5z"/><path d="M349.2 483.8l4.4 -1.3 2.6 -3.2 -4.4 1.4z"/><path d="M374.5 468.4l4.5 -1.7 2.4 -3.4 -4.5 1.7z"/><path d="M530.1 315.9l5.7 -4.6 1.3 -4.3 -5.7 4.7z"/><path d="M406.6 445.3l4.8 -2.1 2.1 -3.7 -4.7 2.2z"/><path d="M305.3 505.5l4.2 -0.7 3 -2.8 -4.2 0.8z"/><path d="M323.8 497.3l4.3 -0.9 2.7 -3 -4.2 1z"/><path d="M537.1 307l5.7 -4.8 1.3 -4.4 -5.7 4.9z"/><path d="M256.7 521.9l4 -0.2 3.4 -2.4 -3.9 0.4z"/><path d="M399.8 450.9l4.7 -2 2.1 -3.6 -4.7 2z"/><path d="M286.8 512.7l4.1 -0.5 3.1 -2.6 -4.1 0.6z"/><path d="M367.6 473.2l4.5 -1.5 2.4 -3.3 -4.5 1.5z"/><path d="M473.2 384.5l5.2 -3.3 1.7 -4.1 -5.2 3.4z"/><path d="M342.2 488.1l4.4 -1.1 2.6 -3.2 -4.4 1.3z"/><path d="M466.3 391.7l5.2 -3.2 1.7 -4 -5.1 3.2z"/><path d="M480.1 377.1l5.3 -3.4 1.6 -4.2 -5.3 3.6z"/><path d="M459.5 398.7l5.1 -3 1.7 -4 -5.1 3.1z"/><path d="M487 369.5l5.3 -3.5 1.6 -4.2 -5.3 3.7z"/><path d="M452.6 405.5l5.1 -2.8 1.8 -4 -5.1 3z"/><path d="M544.1 297.8l5.8 -4.9 1.3 -4.4 -5.8 5z"/><path d="M493.9 361.8l5.4 -3.7 1.5 -4.2 -5.4 3.8z"/><path d="M445.8 412.2l5 -2.7 1.8 -4 -5 2.9z"/><path d="M392.9 456.3l4.7 -1.8 2.2 -3.6 -4.7 1.9z"/><path d="M268.1 519l4 -0.3 3.4 -2.5 -4 0.4z"/><path d="M500.8 353.9l5.4 -3.9 1.6 -4.2 -5.5 3.9z"/><path d="M438.9 418.7l5 -2.6 1.9 -3.9 -5 2.7z"/><path d="M360.6 478l4.5 -1.4 2.5 -3.4 -4.5 1.5z"/><path d="M507.8 345.8l5.4 -4.1 1.5 -4.2 -5.5 4.1z"/><path d="M316.7 501.1l4.2 -0.8 2.9 -3 -4.2 1z"/><path d="M298.1 508.9l4.2 -0.6 3 -2.8 -4.1 0.7z"/><path d="M432 425.1l5 -2.5 1.9 -3.9 -4.9 2.6z"/><path d="M335.1 492.3l4.4 -1 2.7 -3.2 -4.3 1.2z"/><path d="M386 461.6l4.6 -1.7 2.3 -3.6 -4.6 1.9z"/><path d="M514.7 337.5l5.6 -4.2 1.4 -4.3 -5.5 4.2z"/><path d="M425.2 431.3l4.8 -2.4 2 -3.8 -4.8 2.5z"/><path d="M279.5 515.8l4.1 -0.5 3.2 -2.6 -4.1 0.6z"/><path d="M521.7 329l5.6 -4.4 1.4 -4.3 -5.6 4.4z"/><path d="M353.6 482.5l4.5 -1.2 2.5 -3.3 -4.4 1.3z"/><path d="M418.3 437.3l4.8 -2.2 2.1 -3.8 -4.9 2.3z"/><path d="M379 466.7l4.6 -1.6 2.4 -3.5 -4.6 1.7z"/><path d="M528.7 320.3l5.7 -4.5 1.4 -4.5 -5.7 4.6z"/><path d="M309.5 504.8l4.2 -0.8 3 -2.9 -4.2 0.9z"/><path d="M260.7 521.7l4 -0.3 3.4 -2.4 -4 0.3z"/><path d="M411.4 443.2l4.8 -2.1 2.1 -3.8 -4.8 2.2z"/><path d="M328.1 496.4l4.3 -1 2.7 -3.1 -4.3 1.1z"/><path d="M290.9 512.2l4.1 -0.5 3.1 -2.8 -4.1 0.7z"/><path d="M535.8 311.3l5.7 -4.6 1.3 -4.5 -5.7 4.8z"/><path d="M372.1 471.7l4.5 -1.5 2.4 -3.5 -4.5 1.7z"/><path d="M346.6 487l4.4 -1.2 2.6 -3.3 -4.4 1.3z"/><path d="M404.5 448.9l4.7 -2 2.2 -3.7 -4.8 2.1z"/><path d="M272.1 518.7l4.1 -0.4 3.3 -2.5 -4 0.4z"/><path d="M542.8 302.2l5.9 -4.8 1.2 -4.5 -5.8 4.9z"/><path d="M471.5 388.5l5.2 -3.2 1.7 -4.1 -5.2 3.3z"/><path d="M478.4 381.2l5.3 -3.4 1.7 -4.1 -5.3 3.4z"/><path d="M464.6 395.7l5.2 -3.1 1.7 -4.1 -5.2 3.2z"/><path d="M485.4 373.7l5.3 -3.5 1.6 -4.2 -5.3 3.5z"/><path d="M457.7 402.7l5.1 -3 1.8 -4 -5.1 3z"/><path d="M397.6 454.5l4.7 -1.9 2.2 -3.7 -4.7 2z"/><path d="M492.3 366l5.4 -3.7 1.6 -4.2 -5.4 3.7z"/><path d="M320.9 500.3l4.3 -0.9 2.9 -3 -4.3 0.9z"/><path d="M450.8 409.5l5.1 -2.8 1.8 -4 -5.1 2.8z"/><path d="M302.3 508.3l4.2 -0.7 3 -2.8 -4.2 0.7z"/><path d="M365.1 476.6l4.5 -1.4 2.5 -3.5 -4.5 1.5z"/><path d="M499.3 358.1l5.4 -3.8 1.5 -4.3 -5.4 3.9z"/><path d="M443.9 416.1l5 -2.6 1.9 -4 -5 2.7z"/><path d="M549.9 292.9l5.9 -5 1.3 -4.5 -5.9 5.1z"/><path d="M339.5 491.3l4.4 -1.1 2.7 -3.2 -4.4 1.1z"/><path d="M506.2 350l5.6 -3.9 1.4 -4.4 -5.4 4.1z"/><path d="M283.6 515.3l4.1 -0.4 3.2 -2.7 -4.1 0.5z"/><path d="M253.2 524.2l4 -0.2 3.5 -2.3 -4 0.2z"/><path d="M437 422.6l5 -2.5 1.9 -4 -5 2.6z"/><path d="M390.6 459.9l4.7 -1.8 2.3 -3.6 -4.7 1.8z"/><path d="M513.2 341.7l5.6 -4 1.5 -4.4 -5.6 4.2z"/><path d="M430 428.9l5 -2.4 2 -3.9 -5 2.5z"/><path d="M358.1 481.3l4.5 -1.3 2.5 -3.4 -4.5 1.4z"/><path d="M520.3 333.3l5.6 -4.3 1.4 -4.4 -5.6 4.4z"/><path d="M264.7 521.4l4 -0.2 3.4 -2.5 -4 0.3z"/><path d="M423.1 435.1l4.9 -2.3 2 -3.9 -4.8 2.4z"/><path d="M383.6 465.1l4.7 -1.6 2.3 -3.6 -4.6 1.7z"/><path d="M313.7 504l4.3 -0.7 2.9 -3 -4.2 0.8z"/><path d="M332.4 495.4l4.4 -1 2.7 -3.1 -4.4 1z"/><path d="M295 511.7l4.2 -0.6 3.1 -2.8 -4.2 0.6z"/><path d="M527.3 324.6l5.7 -4.4 1.4 -4.4 -5.7 4.5z"/><path d="M416.2 441.1l4.9 -2.2 2 -3.8 -4.8 2.2z"/><path d="M351 485.8l4.5 -1.2 2.6 -3.3 -4.5 1.2z"/><path d="M276.2 518.3l4.1 -0.3 3.3 -2.7 -4.1 0.5z"/><path d="M376.6 470.2l4.7 -1.5 2.3 -3.6 -4.6 1.6z"/><path d="M534.4 315.8l5.8 -4.6 1.3 -4.5 -5.7 4.6z"/><path d="M409.2 446.9l4.9 -2 2.1 -3.8 -4.8 2.1z"/><path d="M541.5 306.7l5.9 -4.7 1.3 -4.6 -5.9 4.8z"/><path d="M306.5 507.6l4.3 -0.6 2.9 -3 -4.2 0.8z"/><path d="M325.2 499.4l4.4 -0.9 2.8 -3.1 -4.3 1z"/><path d="M402.3 452.6l4.8 -1.9 2.1 -3.8 -4.7 2z"/><path d="M369.6 475.2l4.6 -1.5 2.4 -3.5 -4.5 1.5z"/><path d="M257.2 524l4 -0.1 3.5 -2.5 -4 0.3z"/><path d="M476.7 385.3l5.4 -3.2 1.6 -4.3 -5.3 3.4z"/><path d="M469.8 392.6l5.2 -3.1 1.7 -4.2 -5.2 3.2z"/><path d="M287.7 514.9l4.2 -0.5 3.1 -2.7 -4.1 0.5z"/><path d="M483.7 377.8l5.4 -3.3 1.6 -4.3 -5.3 3.5z"/><path d="M462.8 399.7l5.2 -2.9 1.8 -4.2 -5.2 3.1z"/><path d="M343.9 490.2l4.5 -1.1 2.6 -3.3 -4.4 1.2z"/><path d="M490.7 370.2l5.4 -3.5 1.6 -4.4 -5.4 3.7z"/><path d="M455.9 406.7l5.1 -2.8 1.8 -4.2 -5.1 3z"/><path d="M548.7 297.4l5.9 -4.9 1.2 -4.6 -5.9 5z"/><path d="M497.7 362.3l5.5 -3.6 1.5 -4.4 -5.4 3.8z"/><path d="M448.9 413.5l5.1 -2.7 1.9 -4.1 -5.1 2.8z"/><path d="M395.3 458.1l4.8 -1.8 2.2 -3.7 -4.7 1.9z"/><path d="M504.7 354.3l5.6 -3.8 1.5 -4.4 -5.6 3.9z"/><path d="M442 420.1l5 -2.6 1.9 -4 -5 2.6z"/><path d="M268.7 521.2l4.1 -0.3 3.4 -2.6 -4.1 0.4z"/><path d="M362.6 480l4.5 -1.4 2.5 -3.4 -4.5 1.4z"/><path d="M511.8 346.1l5.6 -4 1.4 -4.4 -5.6 4z"/><path d="M555.8 287.9l6 -5.1 1.3 -4.6 -6 5.2z"/><path d="M435 426.5l5 -2.4 2 -4 -5 2.5z"/><path d="M318 503.3l4.3 -0.8 2.9 -3.1 -4.3 0.9z"/><path d="M299.2 511.1l4.2 -0.5 3.1 -3 -4.2 0.7z"/><path d="M388.3 463.5l4.7 -1.7 2.3 -3.7 -4.7 1.8z"/><path d="M518.8 337.7l5.7 -4.2 1.4 -4.5 -5.6 4.3z"/><path d="M336.8 494.4l4.4 -0.9 2.7 -3.3 -4.4 1.1z"/><path d="M428 432.8l5 -2.3 2 -4 -5 2.4z"/><path d="M280.3 518l4.1 -0.4 3.3 -2.7 -4.1 0.4z"/><path d="M525.9 329l5.7 -4.3 1.4 -4.5 -5.7 4.4z"/><path d="M421.1 438.9l4.9 -2.2 2 -3.9 -4.9 2.3z"/><path d="M249.6 526.5l4 -0.1 3.6 -2.4 -4 0.2z"/><path d="M355.5 484.6l4.5 -1.2 2.6 -3.4 -4.5 1.3z"/><path d="M381.3 468.7l4.7 -1.6 2.3 -3.6 -4.7 1.6z"/><path d="M533 320.2l5.8 -4.4 1.4 -4.6 -5.8 4.6z"/><path d="M414.1 444.9l4.9 -2.1 2.1 -3.9 -4.9 2.2z"/><path d="M310.8 507l4.3 -0.7 2.9 -3 -4.3 0.7z"/><path d="M329.6 498.5l4.4 -0.8 2.8 -3.3 -4.4 1z"/><path d="M261.2 523.9l4.1 -0.2 3.4 -2.5 -4 0.2z"/><path d="M291.9 514.4l4.2 -0.4 3.1 -2.9 -4.2 0.6z"/><path d="M540.2 311.2l5.8 -4.6 1.4 -4.6 -5.9 4.7z"/><path d="M374.2 473.7l4.7 -1.4 2.4 -3.6 -4.7 1.5z"/><path d="M407.1 450.7l4.8 -2 2.2 -3.8 -4.9 2z"/><path d="M348.4 489.1l4.5 -1.1 2.6 -3.4 -4.5 1.2z"/><path d="M547.4 302l5.9 -4.8 1.3 -4.7 -5.9 4.9z"/><path d="M272.8 520.9l4.2 -0.2 3.3 -2.7 -4.1 0.3z"/><path d="M475 389.5l5.4 -3.1 1.7 -4.3 -5.4 3.2z"/><path d="M482.1 382.1l5.3 -3.3 1.7 -4.3 -5.4 3.3z"/><path d="M468 396.8l5.3 -3 1.7 -4.3 -5.2 3.1z"/><path d="M489.1 374.5l5.4 -3.5 1.6 -4.3 -5.4 3.5z"/><path d="M461 403.9l5.3 -2.9 1.7 -4.2 -5.2 2.9z"/><path d="M400.1 456.3l4.8 -1.8 2.2 -3.8 -4.8 1.9z"/><path d="M496.1 366.7l5.5 -3.6 1.6 -4.4 -5.5 3.6z"/><path d="M454 410.8l5.2 -2.7 1.8 -4.2 -5.1 2.8z"/><path d="M322.3 502.5l4.4 -0.8 2.9 -3.2 -4.4 0.9z"/><path d="M367.1 478.6l4.6 -1.3 2.5 -3.6 -4.6 1.5z"/><path d="M503.2 358.7l5.5 -3.8 1.6 -4.4 -5.6 3.8z"/><path d="M303.4 510.6l4.3 -0.6 3.1 -3 -4.3 0.6z"/><path d="M447 417.5l5.2 -2.6 1.8 -4.1 -5.1 2.7z"/><path d="M554.6 292.5l6 -5 1.2 -4.7 -6 5.1z"/><path d="M341.2 493.5l4.5 -1 2.7 -3.4 -4.5 1.1z"/><path d="M510.3 350.5l5.6 -3.9 1.5 -4.5 -5.6 4z"/><path d="M440 424.1l5.1 -2.5 1.9 -4.1 -5 2.6z"/><path d="M393 461.8l4.8 -1.7 2.3 -3.8 -4.8 1.8z"/><path d="M284.4 517.6l4.2 -0.3 3.3 -2.9 -4.2 0.5z"/><path d="M253.6 526.4l4.1 0 3.5 -2.5 -4 0.1z"/><path d="M517.4 342.1l5.6 -4 1.5 -4.6 -5.7 4.2z"/><path d="M433 430.5l5.1 -2.3 1.9 -4.1 -5 2.4z"/><path d="M561.8 282.8l6.1 -5.1 1.2 -4.8 -6 5.3z"/><path d="M360 483.4l4.6 -1.2 2.5 -3.6 -4.5 1.4z"/><path d="M524.5 333.5l5.7 -4.2 1.4 -4.6 -5.7 4.3z"/><path d="M426 436.7l5 -2.2 2 -4 -5 2.3z"/><path d="M386 467.1l4.7 -1.6 2.3 -3.7 -4.7 1.7z"/><path d="M265.3 523.7l4.1 -0.1 3.4 -2.7 -4.1 0.3z"/><path d="M315.1 506.3l4.3 -0.6 2.9 -3.2 -4.3 0.8z"/><path d="M531.6 324.7l5.9 -4.3 1.3 -4.6 -5.8 4.4z"/><path d="M334 497.7l4.4 -0.9 2.8 -3.3 -4.4 0.9z"/><path d="M296.1 514l4.2 -0.5 3.1 -2.9 -4.2 0.5z"/><path d="M419 442.8l4.9 -2.1 2.1 -4 -4.9 2.2z"/><path d="M538.8 315.8l5.9 -4.6 1.3 -4.6 -5.8 4.6z"/><path d="M352.9 488l4.5 -1.1 2.6 -3.5 -4.5 1.2z"/><path d="M378.9 472.3l4.7 -1.5 2.4 -3.7 -4.7 1.6z"/><path d="M277 520.7l4.1 -0.3 3.3 -2.8 -4.1 0.4z"/><path d="M411.9 448.7l4.9 -1.9 2.2 -4 -4.9 2.1z"/><path d="M246 528.9l4 0 3.6 -2.5 -4 0.1z"/><path d="M546 306.6l6 -4.7 1.3 -4.7 -5.9 4.8z"/><path d="M326.7 501.7l4.4 -0.7 2.9 -3.3 -4.4 0.8z"/><path d="M307.7 510l4.4 -0.6 3 -3.1 -4.3 0.7z"/><path d="M404.9 454.5l4.8 -1.8 2.2 -4 -4.8 2z"/><path d="M371.7 477.3l4.7 -1.3 2.5 -3.7 -4.7 1.4z"/><path d="M480.4 386.4l5.4 -3.2 1.6 -4.4 -5.3 3.3z"/><path d="M473.3 393.8l5.4 -3 1.7 -4.4 -5.4 3.1z"/><path d="M487.4 378.8l5.5 -3.3 1.6 -4.5 -5.4 3.5z"/><path d="M466.3 401l5.3 -2.9 1.7 -4.3 -5.3 3z"/><path d="M494.5 371l5.5 -3.4 1.6 -4.5 -5.5 3.6z"/><path d="M345.7 492.5l4.5 -1 2.7 -3.5 -4.5 1.1z"/><path d="M257.7 526.4l4.1 -0.1 3.5 -2.6 -4.1 0.2z"/><path d="M288.6 517.3l4.3 -0.4 3.2 -2.9 -4.2 0.4z"/><path d="M459.2 408.1l5.2 -2.8 1.9 -4.3 -5.3 2.9z"/><path d="M553.3 297.2l6 -4.9 1.3 -4.8 -6 5z"/><path d="M501.6 363.1l5.6 -3.6 1.5 -4.6 -5.5 3.8z"/><path d="M452.2 414.9l5.2 -2.6 1.8 -4.2 -5.2 2.7z"/><path d="M397.8 460.1l4.8 -1.7 2.3 -3.9 -4.8 1.8z"/><path d="M508.7 354.9l5.7 -3.7 1.5 -4.6 -5.6 3.9z"/><path d="M445.1 421.6l5.2 -2.5 1.9 -4.2 -5.2 2.6z"/><path d="M515.9 346.6l5.7 -3.9 1.4 -4.6 -5.6 4z"/><path d="M364.6 482.2l4.6 -1.3 2.5 -3.6 -4.6 1.3z"/><path d="M269.4 523.6l4.2 -0.2 3.4 -2.7 -4.2 0.2z"/><path d="M438.1 428.2l5.1 -2.4 1.9 -4.2 -5.1 2.5z"/><path d="M560.6 287.5l6.1 -5 1.2 -4.8 -6.1 5.1z"/><path d="M319.4 505.7l4.4 -0.7 2.9 -3.3 -4.4 0.8z"/><path d="M523 338.1l5.8 -4.1 1.4 -4.7 -5.7 4.2z"/><path d="M390.7 465.5l4.8 -1.6 2.3 -3.8 -4.8 1.7z"/><path d="M300.3 513.5l4.3 -0.4 3.1 -3.1 -4.3 0.6z"/><path d="M338.4 496.8l4.5 -0.9 2.8 -3.4 -4.5 1z"/><path d="M431 434.5l5.1 -2.2 2 -4.1 -5.1 2.3z"/><path d="M530.2 329.3l5.9 -4.2 1.4 -4.7 -5.9 4.3z"/><path d="M567.9 277.7l6.2 -5.3 1.2 -4.8 -6.2 5.3z"/><path d="M423.9 440.7l5 -2.1 2.1 -4.1 -5 2.2z"/><path d="M281.1 520.4l4.3 -0.3 3.2 -2.8 -4.2 0.3z"/><path d="M357.4 486.9l4.6 -1.1 2.6 -3.6 -4.6 1.2z"/><path d="M383.6 470.8l4.7 -1.5 2.4 -3.8 -4.7 1.6z"/><path d="M250 528.9l4.1 0 3.6 -2.5 -4.1 0z"/><path d="M537.5 320.4l5.8 -4.4 1.4 -4.8 -5.9 4.6z"/><path d="M416.8 446.8l5 -2 2.1 -4.1 -4.9 2.1z"/><path d="M312.1 509.4l4.3 -0.5 3 -3.2 -4.3 0.6z"/><path d="M331.1 501l4.5 -0.8 2.8 -3.4 -4.4 0.9z"/><path d="M544.7 311.2l6 -4.6 1.3 -4.7 -6 4.7z"/><path d="M261.8 526.3l4.1 0 3.5 -2.7 -4.1 0.1z"/><path d="M292.9 516.9l4.3 -0.4 3.1 -3 -4.2 0.5z"/><path d="M376.4 476l4.8 -1.4 2.4 -3.8 -4.7 1.5z"/><path d="M409.7 452.7l5 -1.9 2.1 -4 -4.9 1.9z"/><path d="M350.2 491.5l4.6 -1.1 2.6 -3.5 -4.5 1.1z"/><path d="M552 301.9l6 -4.8 1.3 -4.8 -6 4.9z"/><path d="M478.7 390.8l5.4 -3.1 1.7 -4.5 -5.4 3.2z"/><path d="M485.8 383.2l5.5 -3.2 1.6 -4.5 -5.5 3.3z"/><path d="M471.6 398.1l5.3 -2.9 1.8 -4.4 -5.4 3z"/><path d="M492.9 375.5l5.5 -3.4 1.6 -4.5 -5.5 3.4z"/><path d="M464.4 405.3l5.4 -2.8 1.8 -4.4 -5.3 2.9z"/><path d="M273.6 523.4l4.2 -0.2 3.3 -2.8 -4.1 0.3z"/><path d="M402.6 458.4l4.9 -1.8 2.2 -3.9 -4.8 1.8z"/><path d="M500 367.6l5.6 -3.6 1.6 -4.5 -5.6 3.6z"/><path d="M457.4 412.3l5.2 -2.7 1.8 -4.3 -5.2 2.8z"/><path d="M507.2 359.5l5.7 -3.7 1.5 -4.6 -5.7 3.7z"/><path d="M369.2 480.9l4.7 -1.2 2.5 -3.7 -4.7 1.3z"/><path d="M450.3 419.1l5.2 -2.5 1.9 -4.3 -5.2 2.6z"/><path d="M323.8 505l4.5 -0.7 2.8 -3.3 -4.4 0.7z"/><path d="M304.6 513.1l4.4 -0.5 3.1 -3.2 -4.4 0.6z"/><path d="M559.3 292.3l6.1 -5 1.3 -4.8 -6.1 5z"/><path d="M242.2 531.3l4.1 0.1 3.7 -2.5 -4 0z"/><path d="M514.4 351.2l5.7 -3.9 1.5 -4.6 -5.7 3.9z"/><path d="M342.9 495.9l4.6 -0.9 2.7 -3.5 -4.5 1z"/><path d="M443.2 425.8l5.1 -2.4 2 -4.3 -5.2 2.5z"/><path d="M395.5 463.9l4.9 -1.6 2.2 -3.9 -4.8 1.7z"/><path d="M521.6 342.7l5.8 -4 1.4 -4.7 -5.8 4.1z"/><path d="M285.4 520.1l4.2 -0.2 3.3 -3 -4.3 0.4z"/><path d="M436.1 432.3l5.1 -2.3 2 -4.2 -5.1 2.4z"/><path d="M254.1 528.9l4.1 0.1 3.6 -2.7 -4.1 0.1z"/><path d="M566.7 282.5l6.2 -5.2 1.2 -4.9 -6.2 5.3z"/><path d="M528.8 334l5.9 -4.2 1.4 -4.7 -5.9 4.2z"/><path d="M362 485.8l4.7 -1.2 2.5 -3.7 -4.6 1.3z"/><path d="M428.9 438.6l5.1 -2.1 2.1 -4.2 -5.1 2.2z"/><path d="M388.3 469.3l4.9 -1.5 2.3 -3.9 -4.8 1.6z"/><path d="M316.4 508.9l4.5 -0.6 2.9 -3.3 -4.4 0.7z"/><path d="M536.1 325.1l5.9 -4.3 1.3 -4.8 -5.8 4.4z"/><path d="M265.9 526.3l4.2 -0.1 3.5 -2.8 -4.2 0.2z"/><path d="M335.6 500.2l4.6 -0.8 2.7 -3.5 -4.5 0.9z"/><path d="M421.8 444.8l5.1 -2 2 -4.2 -5 2.1z"/><path d="M297.2 516.5l4.3 -0.3 3.1 -3.1 -4.3 0.4z"/><path d="M543.3 316l6 -4.5 1.4 -4.9 -6 4.6z"/><path d="M381.2 474.6l4.7 -1.4 2.4 -3.9 -4.7 1.5z"/><path d="M354.8 490.4l4.6 -1 2.6 -3.6 -4.6 1.1z"/><path d="M414.7 450.8l5 -1.9 2.1 -4.1 -5 2z"/><path d="M277.8 523.2l4.2 -0.1 3.4 -3 -4.3 0.3z"/><path d="M550.7 306.6l6 -4.6 1.3 -4.9 -6 4.8z"/><path d="M246.3 531.4l4.1 0.1 3.7 -2.6 -4.1 0z"/><path d="M407.5 456.6l5 -1.7 2.2 -4.1 -5 1.9z"/><path d="M328.3 504.3l4.5 -0.7 2.8 -3.4 -4.5 0.8z"/><path d="M309 512.6l4.4 -0.5 3 -3.2 -4.3 0.5z"/><path d="M484.1 387.7l5.5 -3.1 1.7 -4.6 -5.5 3.2z"/><path d="M476.9 395.2l5.5 -3 1.7 -4.5 -5.4 3.1z"/><path d="M491.3 380l5.5 -3.3 1.6 -4.6 -5.5 3.4z"/><path d="M373.9 479.7l4.8 -1.3 2.5 -3.8 -4.8 1.4z"/><path d="M469.8 402.5l5.4 -2.8 1.7 -4.5 -5.3 2.9z"/><path d="M498.4 372.1l5.7 -3.4 1.5 -4.7 -5.6 3.6z"/><path d="M462.6 409.6l5.4 -2.6 1.8 -4.5 -5.4 2.8z"/><path d="M347.5 495l4.6 -0.9 2.7 -3.7 -4.6 1.1z"/><path d="M558 297.1l6.2 -4.8 1.2 -5 -6.1 5z"/><path d="M505.6 364l5.7 -3.5 1.6 -4.7 -5.7 3.7z"/><path d="M289.6 519.9l4.4 -0.3 3.2 -3.1 -4.3 0.4z"/><path d="M455.5 416.6l5.3 -2.5 1.8 -4.5 -5.2 2.7z"/><path d="M258.2 529l4.2 0 3.5 -2.7 -4.1 0z"/><path d="M400.4 462.3l4.9 -1.6 2.2 -4.1 -4.9 1.8z"/><path d="M512.9 355.8l5.7 -3.7 1.5 -4.8 -5.7 3.9z"/><path d="M448.3 423.4l5.3 -2.4 1.9 -4.4 -5.2 2.5z"/><path d="M520.1 347.3l5.8 -3.9 1.5 -4.7 -5.8 4z"/><path d="M441.2 430l5.2 -2.3 1.9 -4.3 -5.1 2.4z"/><path d="M366.7 484.6l4.7 -1.1 2.5 -3.8 -4.7 1.2z"/><path d="M565.4 287.3l6.2 -5 1.3 -5 -6.2 5.2z"/><path d="M270.1 526.2l4.3 -0.1 3.4 -2.9 -4.2 0.2z"/><path d="M527.4 338.7l5.8 -4.1 1.5 -4.8 -5.9 4.2z"/><path d="M320.9 508.3l4.4 -0.6 3 -3.4 -4.5 0.7z"/><path d="M393.2 467.8l4.8 -1.5 2.4 -4 -4.9 1.6z"/><path d="M434 436.5l5.2 -2.2 2 -4.3 -5.1 2.3z"/><path d="M340.2 499.4l4.5 -0.8 2.8 -3.6 -4.6 0.9z"/><path d="M301.5 516.2l4.4 -0.4 3.1 -3.2 -4.4 0.5z"/><path d="M534.7 329.8l5.9 -4.2 1.4 -4.8 -5.9 4.3z"/><path d="M426.9 442.8l5.1 -2 2 -4.3 -5.1 2.1z"/><path d="M238.5 533.7l4.1 0.2 3.7 -2.5 -4.1 -0.1z"/><path d="M359.4 489.4l4.7 -1 2.6 -3.8 -4.7 1.2z"/><path d="M282 523.1l4.3 -0.2 3.3 -3 -4.2 0.2z"/><path d="M385.9 473.2l4.9 -1.4 2.4 -4 -4.9 1.5z"/><path d="M542 320.8l6 -4.4 1.3 -4.9 -6 4.5z"/><path d="M250.4 531.5l4.2 0.2 3.6 -2.7 -4.1 -0.1z"/><path d="M419.7 448.9l5 -1.9 2.2 -4.2 -5.1 2z"/><path d="M313.4 512.1l4.5 -0.5 3 -3.3 -4.5 0.6z"/><path d="M332.8 503.6l4.5 -0.7 2.9 -3.5 -4.6 0.8z"/><path d="M549.3 311.5l6.1 -4.6 1.3 -4.9 -6 4.6z"/><path d="M412.5 454.9l5 -1.8 2.2 -4.2 -5 1.9z"/><path d="M378.7 478.4l4.8 -1.3 2.4 -3.9 -4.7 1.4z"/><path d="M262.4 529l4.2 0 3.5 -2.8 -4.2 0.1z"/><path d="M294 519.6l4.3 -0.3 3.2 -3.1 -4.3 0.3z"/><path d="M352.1 494.1l4.7 -1 2.6 -3.7 -4.6 1z"/><path d="M482.4 392.2l5.5 -3 1.7 -4.6 -5.5 3.1z"/><path d="M489.6 384.6l5.6 -3.2 1.6 -4.7 -5.5 3.3z"/><path d="M556.7 302l6.2 -4.8 1.3 -4.9 -6.2 4.8z"/><path d="M475.2 399.7l5.4 -2.9 1.8 -4.6 -5.5 3z"/><path d="M496.8 376.7l5.6 -3.3 1.7 -4.7 -5.7 3.4z"/><path d="M468 407l5.4 -2.8 1.8 -4.5 -5.4 2.8z"/><path d="M405.3 460.7l5 -1.7 2.2 -4.1 -5 1.7z"/><path d="M504.1 368.7l5.6 -3.5 1.6 -4.7 -5.7 3.5z"/><path d="M460.8 414.1l5.3 -2.6 1.9 -4.5 -5.4 2.6z"/><path d="M274.4 526.1l4.2 0 3.4 -3 -4.2 0.1z"/><path d="M511.3 360.5l5.8 -3.6 1.5 -4.8 -5.7 3.7z"/><path d="M453.6 421l5.3 -2.5 1.9 -4.4 -5.3 2.5z"/><path d="M371.4 483.5l4.8 -1.2 2.5 -3.9 -4.8 1.3z"/><path d="M325.3 507.7l4.6 -0.6 2.9 -3.5 -4.5 0.7z"/><path d="M564.2 292.3l6.2 -5 1.2 -5 -6.2 5z"/><path d="M518.6 352.1l5.8 -3.8 1.5 -4.9 -5.8 3.9z"/><path d="M305.9 515.8l4.4 -0.4 3.1 -3.3 -4.4 0.5z"/><path d="M446.4 427.7l5.2 -2.3 2 -4.4 -5.3 2.4z"/><path d="M344.7 498.6l4.7 -0.9 2.7 -3.6 -4.6 0.9z"/><path d="M398 466.3l5 -1.5 2.3 -4.1 -4.9 1.6z"/><path d="M242.6 533.9l4.1 0.3 3.7 -2.7 -4.1 -0.1z"/><path d="M525.9 343.4l5.9 -3.9 1.4 -4.9 -5.8 4.1z"/><path d="M439.2 434.3l5.2 -2.2 2 -4.4 -5.2 2.3z"/><path d="M286.3 522.9l4.4 -0.2 3.3 -3.1 -4.4 0.3z"/><path d="M533.2 334.6l6 -4.1 1.4 -4.9 -5.9 4.2z"/><path d="M254.6 531.7l4.2 0.1 3.6 -2.8 -4.2 0z"/><path d="M364.1 488.4l4.8 -1.1 2.5 -3.8 -4.7 1.1z"/><path d="M432 440.8l5.1 -2.1 2.1 -4.4 -5.2 2.2z"/><path d="M390.8 471.8l4.9 -1.4 2.3 -4.1 -4.8 1.5z"/><path d="M540.6 325.6l6 -4.3 1.4 -4.9 -6 4.4z"/><path d="M317.9 511.6l4.5 -0.5 2.9 -3.4 -4.4 0.6z"/><path d="M424.7 447l5.2 -1.9 2.1 -4.3 -5.1 2z"/><path d="M337.3 502.9l4.6 -0.7 2.8 -3.6 -4.5 0.8z"/><path d="M266.6 529l4.3 0.1 3.5 -3 -4.3 0.1z"/><path d="M298.3 519.3l4.4 -0.2 3.2 -3.3 -4.4 0.4z"/><path d="M548 316.4l6.1 -4.5 1.3 -5 -6.1 4.6z"/><path d="M383.5 477.1l4.9 -1.3 2.4 -4 -4.9 1.4z"/><path d="M356.8 493.1l4.7 -0.9 2.6 -3.8 -4.7 1z"/><path d="M417.5 453.1l5.1 -1.8 2.1 -4.3 -5 1.9z"/><path d="M278.6 526.1l4.4 -0.1 3.3 -3.1 -4.3 0.2z"/><path d="M234.6 536.2l4.1 0.3 3.9 -2.6 -4.1 -0.2z"/><path d="M555.4 306.9l6.2 -4.6 1.3 -5.1 -6.2 4.8z"/><path d="M410.3 459l5 -1.7 2.2 -4.2 -5 1.8z"/><path d="M487.9 389.2l5.6 -3.1 1.7 -4.7 -5.6 3.2z"/><path d="M480.6 396.8l5.6 -2.9 1.7 -4.7 -5.5 3z"/><path d="M495.2 381.4l5.6 -3.2 1.6 -4.8 -5.6 3.3z"/><path d="M329.9 507.1l4.6 -0.6 2.8 -3.6 -4.5 0.7z"/><path d="M473.4 404.2l5.5 -2.8 1.7 -4.6 -5.4 2.9z"/><path d="M376.2 482.3l4.8 -1.2 2.5 -4 -4.8 1.3z"/><path d="M246.7 534.2l4.2 0.2 3.7 -2.7 -4.2 -0.2z"/><path d="M310.3 515.4l4.5 -0.4 3.1 -3.4 -4.5 0.5z"/><path d="M502.4 373.4l5.8 -3.4 1.5 -4.8 -5.6 3.5z"/><path d="M466.1 411.5l5.5 -2.7 1.8 -4.6 -5.4 2.8z"/><path d="M509.7 365.2l5.8 -3.5 1.6 -4.8 -5.8 3.6z"/><path d="M562.9 297.2l6.2 -4.8 1.3 -5.1 -6.2 5z"/><path d="M349.4 497.7l4.7 -0.8 2.7 -3.8 -4.7 1z"/><path d="M458.9 418.5l5.4 -2.5 1.8 -4.5 -5.3 2.6z"/><path d="M517.1 356.9l5.8 -3.7 1.5 -4.9 -5.8 3.8z"/><path d="M290.7 522.7l4.4 -0.1 3.2 -3.3 -4.3 0.3z"/><path d="M403 464.8l5 -1.6 2.3 -4.2 -5 1.7z"/><path d="M451.6 425.4l5.4 -2.3 1.9 -4.6 -5.3 2.5z"/><path d="M258.8 531.8l4.2 0.1 3.6 -2.9 -4.2 0z"/><path d="M524.4 348.3l5.9 -3.9 1.5 -4.9 -5.9 3.9z"/><path d="M444.4 432.1l5.3 -2.2 1.9 -4.5 -5.2 2.3z"/><path d="M368.9 487.3l4.8 -1 2.5 -4 -4.8 1.2z"/><path d="M531.8 339.5l6 -4 1.4 -5 -6 4.1z"/><path d="M395.7 470.4l5 -1.4 2.3 -4.2 -5 1.5z"/><path d="M437.1 438.7l5.3 -2.1 2 -4.5 -5.2 2.2z"/><path d="M322.4 511.1l4.5 -0.4 3 -3.6 -4.6 0.6z"/><path d="M270.9 529.1l4.3 0 3.4 -3 -4.2 0z"/><path d="M341.9 502.2l4.7 -0.7 2.8 -3.8 -4.7 0.9z"/><path d="M302.7 519.1l4.5 -0.3 3.1 -3.4 -4.4 0.4z"/><path d="M539.2 330.5l6 -4.2 1.4 -5 -6 4.3z"/><path d="M429.9 445.1l5.2 -2 2 -4.4 -5.1 2.1z"/><path d="M361.5 492.2l4.8 -1 2.6 -3.9 -4.8 1.1z"/><path d="M238.7 536.5l4.2 0.4 3.8 -2.7 -4.1 -0.3z"/><path d="M388.4 475.8l4.9 -1.3 2.4 -4.1 -4.9 1.4z"/><path d="M546.6 321.3l6.1 -4.3 1.4 -5.1 -6.1 4.5z"/><path d="M283 526l4.3 -0.1 3.4 -3.2 -4.4 0.2z"/><path d="M422.6 451.3l5.2 -1.8 2.1 -4.4 -5.2 1.9z"/><path d="M250.9 534.4l4.2 0.2 3.7 -2.8 -4.2 -0.1z"/><path d="M554.1 311.9l6.2 -4.5 1.3 -5.1 -6.2 4.6z"/><path d="M334.5 506.5l4.6 -0.6 2.8 -3.7 -4.6 0.7z"/><path d="M314.8 515l4.5 -0.3 3.1 -3.6 -4.5 0.5z"/><path d="M415.3 457.3l5.1 -1.7 2.2 -4.3 -5.1 1.8z"/><path d="M381 481.1l4.9 -1.2 2.5 -4.1 -4.9 1.3z"/><path d="M354.1 496.9l4.7 -0.8 2.7 -3.9 -4.7 0.9z"/><path d="M295.1 522.6l4.4 -0.2 3.2 -3.3 -4.4 0.2z"/><path d="M263 531.9l4.3 0.2 3.6 -3 -4.3 -0.1z"/><path d="M486.2 393.9l5.6 -3 1.7 -4.8 -5.6 3.1z"/><path d="M493.5 386.1l5.7 -3.1 1.6 -4.8 -5.6 3.2z"/><path d="M478.9 401.4l5.5 -2.8 1.8 -4.7 -5.6 2.9z"/><path d="M561.6 302.3l6.3 -4.7 1.2 -5.2 -6.2 4.8z"/><path d="M500.8 378.2l5.8 -3.3 1.6 -4.9 -5.8 3.4z"/><path d="M471.6 408.8l5.5 -2.6 1.8 -4.8 -5.5 2.8z"/><path d="M508.2 370l5.8 -3.4 1.5 -4.9 -5.8 3.5z"/><path d="M408 463.2l5.1 -1.5 2.2 -4.4 -5 1.7z"/><path d="M464.3 416l5.4 -2.5 1.9 -4.7 -5.5 2.7z"/><path d="M515.5 361.7l5.9 -3.6 1.5 -4.9 -5.8 3.7z"/><path d="M457 423.1l5.4 -2.4 1.9 -4.7 -5.4 2.5z"/><path d="M373.7 486.3l4.8 -1.1 2.5 -4.1 -4.8 1.2z"/><path d="M275.2 529.1l4.3 0 3.5 -3.1 -4.4 0.1z"/><path d="M522.9 353.2l5.9 -3.8 1.5 -5 -5.9 3.9z"/><path d="M326.9 510.7l4.6 -0.5 3 -3.7 -4.6 0.6z"/><path d="M449.7 429.9l5.3 -2.2 2 -4.6 -5.4 2.3z"/><path d="M230.6 538.8l4.2 0.4 3.9 -2.7 -4.1 -0.3z"/><path d="M307.2 518.8l4.5 -0.3 3.1 -3.5 -4.5 0.4z"/><path d="M400.7 469l5 -1.5 2.3 -4.3 -5 1.6z"/><path d="M346.6 501.5l4.7 -0.7 2.8 -3.9 -4.7 0.8z"/><path d="M530.3 344.4l6 -3.9 1.5 -5 -6 4z"/><path d="M442.4 436.6l5.3 -2.1 2 -4.6 -5.3 2.2z"/><path d="M242.9 536.9l4.2 0.3 3.8 -2.8 -4.2 -0.2z"/><path d="M537.8 335.5l6 -4.1 1.4 -5.1 -6 4.2z"/><path d="M287.3 525.9l4.5 0 3.3 -3.3 -4.4 0.1z"/><path d="M366.3 491.2l4.8 -0.9 2.6 -4 -4.8 1z"/><path d="M435.1 443.1l5.2 -2 2.1 -4.5 -5.3 2.1z"/><path d="M393.3 474.5l5 -1.3 2.4 -4.2 -5 1.4z"/><path d="M255.1 534.6l4.3 0.3 3.6 -3 -4.2 -0.1z"/><path d="M545.2 326.3l6.2 -4.2 1.3 -5.1 -6.1 4.3z"/><path d="M427.8 449.5l5.2 -1.9 2.1 -4.5 -5.2 2z"/><path d="M319.3 514.7l4.6 -0.4 3 -3.6 -4.5 0.4z"/><path d="M339.1 505.9l4.7 -0.6 2.8 -3.8 -4.7 0.7z"/><path d="M267.3 532.1l4.4 0.1 3.5 -3.1 -4.3 0z"/><path d="M552.7 317l6.2 -4.4 1.4 -5.2 -6.2 4.5z"/><path d="M299.5 522.4l4.5 -0.2 3.2 -3.4 -4.5 0.3z"/><path d="M385.9 479.9l5 -1.2 2.4 -4.2 -4.9 1.3z"/><path d="M420.4 455.6l5.2 -1.7 2.2 -4.4 -5.2 1.8z"/><path d="M358.8 496.1l4.8 -0.9 2.7 -4 -4.8 1z"/><path d="M560.3 307.4l6.3 -4.6 1.3 -5.2 -6.3 4.7z"/><path d="M279.5 529.1l4.4 0.1 3.4 -3.3 -4.3 0.1z"/><path d="M413.1 461.7l5.1 -1.6 2.2 -4.5 -5.1 1.7z"/><path d="M491.8 390.9l5.7 -3 1.7 -4.9 -5.7 3.1z"/><path d="M234.8 539.2l4.2 0.4 3.9 -2.7 -4.2 -0.4z"/><path d="M484.4 398.6l5.7 -2.8 1.7 -4.9 -5.6 3z"/><path d="M499.2 383l5.7 -3.1 1.7 -5 -5.8 3.3z"/><path d="M477.1 406.2l5.6 -2.7 1.7 -4.9 -5.5 2.8z"/><path d="M506.6 374.9l5.8 -3.3 1.6 -5 -5.8 3.4z"/><path d="M378.5 485.2l5 -1.1 2.4 -4.2 -4.9 1.2z"/><path d="M331.5 510.2l4.7 -0.5 2.9 -3.8 -4.6 0.6z"/><path d="M469.7 413.5l5.6 -2.5 1.8 -4.8 -5.5 2.6z"/><path d="M311.7 518.5l4.6 -0.3 3 -3.5 -4.5 0.3z"/><path d="M514 366.6l5.8 -3.4 1.6 -5.1 -5.9 3.6z"/><path d="M462.4 420.7l5.5 -2.4 1.8 -4.8 -5.4 2.5z"/><path d="M247.1 537.2l4.3 0.3 3.7 -2.9 -4.2 -0.2z"/><path d="M351.3 500.8l4.8 -0.8 2.7 -3.9 -4.7 0.8z"/><path d="M521.4 358.1l5.9 -3.6 1.5 -5.1 -5.9 3.8z"/><path d="M405.7 467.5l5.1 -1.5 2.3 -4.3 -5.1 1.5z"/><path d="M455 427.7l5.5 -2.3 1.9 -4.7 -5.4 2.4z"/><path d="M291.8 525.9l4.4 -0.1 3.3 -3.4 -4.4 0.2z"/><path d="M528.8 349.4l6.1 -3.7 1.4 -5.2 -6 3.9z"/><path d="M259.4 534.9l4.3 0.2 3.6 -3 -4.3 -0.2z"/><path d="M447.7 434.5l5.4 -2.1 1.9 -4.7 -5.3 2.2z"/><path d="M371.1 490.3l4.9 -1 2.5 -4.1 -4.8 1.1z"/><path d="M536.3 340.5l6.1 -3.9 1.4 -5.2 -6 4.1z"/><path d="M398.3 473.2l5.1 -1.4 2.3 -4.3 -5 1.5z"/><path d="M440.3 441.1l5.4 -2 2 -4.6 -5.3 2.1z"/><path d="M323.9 514.3l4.7 -0.4 2.9 -3.7 -4.6 0.5z"/><path d="M271.7 532.2l4.3 0.1 3.5 -3.2 -4.3 0z"/><path d="M343.8 505.3l4.7 -0.6 2.8 -3.9 -4.7 0.7z"/><path d="M543.8 331.4l6.2 -4.1 1.4 -5.2 -6.2 4.2z"/><path d="M304 522.2l4.5 -0.1 3.2 -3.6 -4.5 0.3z"/><path d="M433 447.6l5.3 -1.9 2 -4.6 -5.2 2z"/><path d="M226.6 541.3l4.2 0.6 4 -2.7 -4.2 -0.4z"/><path d="M363.6 495.2l4.9 -0.8 2.6 -4.1 -4.8 0.9z"/><path d="M390.9 478.7l5 -1.2 2.4 -4.3 -5 1.3z"/><path d="M551.4 322.1l6.2 -4.3 1.3 -5.2 -6.2 4.4z"/><path d="M425.6 453.9l5.2 -1.7 2.2 -4.6 -5.2 1.9z"/><path d="M239 539.6l4.3 0.4 3.8 -2.8 -4.2 -0.3z"/><path d="M283.9 529.2l4.5 0 3.4 -3.3 -4.5 0z"/><path d="M558.9 312.6l6.3 -4.5 1.4 -5.3 -6.3 4.6z"/><path d="M251.4 537.5l4.3 0.4 3.7 -3 -4.3 -0.3z"/><path d="M336.2 509.7l4.7 -0.6 2.9 -3.8 -4.7 0.6z"/><path d="M316.3 518.2l4.6 -0.2 3 -3.7 -4.6 0.4z"/><path d="M418.2 460.1l5.2 -1.7 2.2 -4.5 -5.2 1.7z"/><path d="M383.5 484.1l4.9 -1.1 2.5 -4.3 -5 1.2z"/><path d="M356.1 500l4.8 -0.7 2.7 -4.1 -4.8 0.9z"/><path d="M490.1 395.8l5.7 -2.9 1.7 -5 -5.7 3z"/><path d="M497.5 387.9l5.8 -3 1.6 -5 -5.7 3.1z"/><path d="M482.7 403.5l5.6 -2.8 1.8 -4.9 -5.7 2.8z"/><path d="M296.2 525.8l4.5 -0.1 3.3 -3.5 -4.5 0.2z"/><path d="M504.9 379.9l5.9 -3.2 1.6 -5.1 -5.8 3.3z"/><path d="M475.3 411l5.6 -2.6 1.8 -4.9 -5.6 2.7z"/><path d="M263.7 535.1l4.4 0.2 3.6 -3.1 -4.4 -0.1z"/><path d="M512.4 371.6l5.9 -3.3 1.5 -5.1 -5.8 3.4z"/><path d="M410.8 466l5.2 -1.5 2.2 -4.4 -5.1 1.6z"/><path d="M467.9 418.3l5.5 -2.5 1.9 -4.8 -5.6 2.5z"/><path d="M519.8 363.2l6 -3.6 1.5 -5.1 -5.9 3.6z"/><path d="M460.5 425.4l5.5 -2.3 1.9 -4.8 -5.5 2.4z"/><path d="M376 489.3l4.9 -1 2.6 -4.2 -5 1.1z"/><path d="M527.3 354.5l6.1 -3.7 1.5 -5.1 -6.1 3.7z"/><path d="M453.1 432.4l5.4 -2.2 2 -4.8 -5.5 2.3z"/><path d="M276 532.3l4.5 0.2 3.4 -3.3 -4.4 -0.1z"/><path d="M328.6 513.9l4.6 -0.4 3 -3.8 -4.7 0.5z"/><path d="M403.4 471.8l5.1 -1.3 2.3 -4.5 -5.1 1.5z"/><path d="M534.9 345.7l6.1 -3.9 1.4 -5.2 -6.1 3.9z"/><path d="M348.5 504.7l4.8 -0.7 2.8 -4 -4.8 0.8z"/><path d="M308.5 522.1l4.6 -0.2 3.2 -3.7 -4.6 0.3z"/><path d="M445.7 439.1l5.4 -2 2 -4.7 -5.4 2.1z"/><path d="M230.8 541.9l4.3 0.5 3.9 -2.8 -4.2 -0.4z"/><path d="M542.4 336.6l6.2 -4 1.4 -5.3 -6.2 4.1z"/><path d="M243.3 540l4.3 0.5 3.8 -3 -4.3 -0.3z"/><path d="M438.3 445.7l5.3 -1.9 2.1 -4.7 -5.4 2z"/><path d="M368.5 494.4l4.9 -0.9 2.6 -4.2 -4.9 1z"/><path d="M288.4 529.2l4.5 0 3.3 -3.4 -4.4 0.1z"/><path d="M395.9 477.5l5.1 -1.2 2.4 -4.5 -5.1 1.4z"/><path d="M550 327.3l6.2 -4.2 1.4 -5.3 -6.2 4.3z"/><path d="M255.7 537.9l4.3 0.3 3.7 -3.1 -4.3 -0.2z"/><path d="M430.8 452.2l5.4 -1.8 2.1 -4.7 -5.3 1.9z"/><path d="M320.9 518l4.6 -0.3 3.1 -3.8 -4.7 0.4z"/><path d="M340.9 509.1l4.8 -0.5 2.8 -3.9 -4.7 0.6z"/><path d="M557.6 317.8l6.3 -4.4 1.3 -5.3 -6.3 4.5z"/><path d="M388.4 483l5.1 -1.1 2.4 -4.4 -5 1.2z"/><path d="M268.1 535.3l4.4 0.3 3.5 -3.3 -4.3 -0.1z"/><path d="M300.7 525.7l4.6 0 3.2 -3.6 -4.5 0.1z"/><path d="M423.4 458.4l5.3 -1.6 2.1 -4.6 -5.2 1.7z"/><path d="M360.9 499.3l4.9 -0.8 2.7 -4.1 -4.9 0.8z"/><path d="M416 464.5l5.2 -1.5 2.2 -4.6 -5.2 1.7z"/><path d="M495.8 392.9l5.8 -2.9 1.7 -5.1 -5.8 3z"/><path d="M488.3 400.7l5.8 -2.8 1.7 -5 -5.7 2.9z"/><path d="M503.3 384.9l5.8 -3.1 1.7 -5.1 -5.9 3.2z"/><path d="M222.5 544l4.3 0.6 4 -2.7 -4.2 -0.6z"/><path d="M480.9 408.4l5.7 -2.7 1.7 -5 -5.6 2.8z"/><path d="M280.5 532.5l4.5 0.1 3.4 -3.4 -4.5 0z"/><path d="M510.8 376.7l5.9 -3.3 1.6 -5.1 -5.9 3.3z"/><path d="M473.4 415.8l5.6 -2.5 1.9 -4.9 -5.6 2.6z"/><path d="M380.9 488.3l5 -1 2.5 -4.3 -4.9 1.1z"/><path d="M235.1 542.4l4.2 0.5 4 -2.9 -4.3 -0.4z"/><path d="M333.2 513.5l4.8 -0.4 2.9 -4 -4.7 0.6z"/><path d="M518.3 368.3l6 -3.4 1.5 -5.3 -6 3.6z"/><path d="M466 423.1l5.5 -2.4 1.9 -4.9 -5.5 2.5z"/><path d="M313.1 521.9l4.7 -0.2 3.1 -3.7 -4.6 0.2z"/><path d="M353.3 504l4.9 -0.6 2.7 -4.1 -4.8 0.7z"/><path d="M525.8 359.6l6.1 -3.5 1.5 -5.3 -6.1 3.7z"/><path d="M408.5 470.5l5.2 -1.4 2.3 -4.6 -5.2 1.5z"/><path d="M458.5 430.2l5.6 -2.2 1.9 -4.9 -5.5 2.3z"/><path d="M247.6 540.5l4.3 0.4 3.8 -3 -4.3 -0.4z"/><path d="M533.4 350.8l6.1 -3.7 1.5 -5.3 -6.1 3.9z"/><path d="M292.9 529.2l4.5 0.1 3.3 -3.6 -4.5 0.1z"/><path d="M451.1 437.1l5.5 -2.1 1.9 -4.8 -5.4 2.2z"/><path d="M373.4 493.5l5 -0.9 2.5 -4.3 -4.9 1z"/><path d="M260 538.2l4.4 0.4 3.7 -3.3 -4.4 -0.2z"/><path d="M541 341.8l6.2 -3.9 1.4 -5.3 -6.2 4z"/><path d="M443.6 443.8l5.4 -1.9 2.1 -4.8 -5.4 2z"/><path d="M401 476.3l5.2 -1.3 2.3 -4.5 -5.1 1.3z"/><path d="M325.5 517.7l4.8 -0.3 2.9 -3.9 -4.6 0.4z"/><path d="M548.6 332.6l6.2 -4.1 1.4 -5.4 -6.2 4.2z"/><path d="M345.7 508.6l4.8 -0.5 2.8 -4.1 -4.8 0.7z"/><path d="M436.2 450.4l5.3 -1.8 2.1 -4.8 -5.3 1.9z"/><path d="M272.5 535.6l4.5 0.2 3.5 -3.3 -4.5 -0.2z"/><path d="M305.3 525.7l4.6 -0.1 3.2 -3.7 -4.6 0.2z"/><path d="M556.2 323.1l6.4 -4.2 1.3 -5.5 -6.3 4.4z"/><path d="M393.5 481.9l5.1 -1.2 2.4 -4.4 -5.1 1.2z"/><path d="M365.8 498.5l4.9 -0.7 2.7 -4.3 -4.9 0.9z"/><path d="M428.7 456.8l5.3 -1.7 2.2 -4.7 -5.4 1.8z"/><path d="M226.8 544.6l4.2 0.7 4.1 -2.9 -4.3 -0.5z"/><path d="M285 532.6l4.5 0.2 3.4 -3.6 -4.5 0z"/><path d="M239.3 542.9l4.4 0.6 3.9 -3 -4.3 -0.5z"/><path d="M421.2 463l5.3 -1.5 2.2 -4.7 -5.3 1.6z"/><path d="M338 513.1l4.8 -0.4 2.9 -4.1 -4.8 0.5z"/><path d="M317.8 521.7l4.7 -0.2 3 -3.8 -4.6 0.3z"/><path d="M385.9 487.3l5.1 -1 2.5 -4.4 -5.1 1.1z"/><path d="M251.9 540.9l4.4 0.5 3.7 -3.2 -4.3 -0.3z"/><path d="M494.1 397.9l5.8 -2.8 1.7 -5.1 -5.8 2.9z"/><path d="M501.6 390l5.9 -3 1.6 -5.2 -5.8 3.1z"/><path d="M486.6 405.7l5.7 -2.6 1.8 -5.2 -5.8 2.8z"/><path d="M358.2 503.4l4.9 -0.6 2.7 -4.3 -4.9 0.8z"/><path d="M509.1 381.8l6 -3.1 1.6 -5.3 -5.9 3.3z"/><path d="M479 413.3l5.8 -2.5 1.8 -5.1 -5.7 2.7z"/><path d="M516.7 373.4l6 -3.3 1.6 -5.2 -6 3.4z"/><path d="M297.4 529.3l4.6 0 3.3 -3.6 -4.6 0z"/><path d="M471.5 420.7l5.7 -2.3 1.8 -5.1 -5.6 2.5z"/><path d="M413.7 469.1l5.2 -1.4 2.3 -4.7 -5.2 1.5z"/><path d="M264.4 538.6l4.5 0.3 3.6 -3.3 -4.4 -0.3z"/><path d="M524.3 364.9l6 -3.5 1.6 -5.3 -6.1 3.5z"/><path d="M464.1 428l5.6 -2.3 1.8 -5 -5.5 2.4z"/><path d="M531.9 356.1l6.1 -3.6 1.5 -5.4 -6.1 3.7z"/><path d="M378.4 492.6l5 -0.9 2.5 -4.4 -5 1z"/><path d="M456.6 435l5.5 -2.1 2 -4.9 -5.6 2.2z"/><path d="M406.2 475l5.2 -1.3 2.3 -4.6 -5.2 1.4z"/><path d="M330.3 517.4l4.7 -0.3 3 -4 -4.8 0.4z"/><path d="M539.5 347.1l6.2 -3.8 1.5 -5.4 -6.2 3.9z"/><path d="M277 535.8l4.5 0.3 3.5 -3.5 -4.5 -0.1z"/><path d="M449 441.9l5.6 -1.9 2 -5 -5.5 2.1z"/><path d="M350.5 508.1l4.9 -0.5 2.8 -4.2 -4.9 0.6z"/><path d="M309.9 525.6l4.7 -0.1 3.2 -3.8 -4.7 0.2z"/><path d="M218.4 546.7l4.2 0.7 4.2 -2.8 -4.3 -0.6z"/><path d="M547.2 337.9l6.2 -4 1.4 -5.4 -6.2 4.1z"/><path d="M231 545.3l4.3 0.6 4 -3 -4.2 -0.5z"/><path d="M441.5 448.6l5.5 -1.8 2 -4.9 -5.4 1.9z"/><path d="M370.7 497.8l5 -0.8 2.7 -4.4 -5 0.9z"/><path d="M398.6 480.7l5.2 -1.1 2.4 -4.6 -5.2 1.3z"/><path d="M243.7 543.5l4.3 0.5 3.9 -3.1 -4.3 -0.4z"/><path d="M289.5 532.8l4.6 0.1 3.3 -3.6 -4.5 -0.1z"/><path d="M554.8 328.5l6.4 -4.1 1.4 -5.5 -6.4 4.2z"/><path d="M434 455.1l5.4 -1.6 2.1 -4.9 -5.3 1.8z"/><path d="M256.3 541.4l4.4 0.4 3.7 -3.2 -4.4 -0.4z"/><path d="M342.8 512.7l4.8 -0.4 2.9 -4.2 -4.8 0.5z"/><path d="M322.5 521.5l4.7 -0.2 3.1 -3.9 -4.8 0.3z"/><path d="M391 486.3l5.1 -1 2.5 -4.6 -5.1 1.2z"/><path d="M426.5 461.5l5.3 -1.5 2.2 -4.9 -5.3 1.7z"/><path d="M363.1 502.8l5 -0.7 2.6 -4.3 -4.9 0.7z"/><path d="M302 529.3l4.7 0.1 3.2 -3.8 -4.6 0.1z"/><path d="M268.9 538.9l4.5 0.4 3.6 -3.5 -4.5 -0.2z"/><path d="M499.9 395.1l5.9 -2.8 1.7 -5.3 -5.9 3z"/><path d="M492.3 403.1l5.9 -2.7 1.7 -5.3 -5.8 2.8z"/><path d="M418.9 467.7l5.4 -1.4 2.2 -4.8 -5.3 1.5z"/><path d="M507.5 387l5.9 -3 1.7 -5.3 -6 3.1z"/><path d="M484.8 410.8l5.7 -2.5 1.8 -5.2 -5.7 2.6z"/><path d="M515.1 378.7l6 -3.2 1.6 -5.4 -6 3.3z"/><path d="M477.2 418.4l5.7 -2.4 1.9 -5.2 -5.8 2.5z"/><path d="M383.4 491.7l5.1 -0.9 2.5 -4.5 -5.1 1z"/><path d="M281.5 536.1l4.5 0.2 3.5 -3.5 -4.5 -0.2z"/><path d="M522.7 370.1l6.1 -3.3 1.5 -5.4 -6 3.5z"/><path d="M222.6 547.4l4.3 0.8 4.1 -2.9 -4.2 -0.7z"/><path d="M469.7 425.7l5.6 -2.2 1.9 -5.1 -5.7 2.3z"/><path d="M335 517.1l4.9 -0.3 2.9 -4.1 -4.8 0.4z"/><path d="M530.3 361.4l6.2 -3.5 1.5 -5.4 -6.1 3.6z"/><path d="M314.6 525.5l4.7 -0.1 3.2 -3.9 -4.7 0.2z"/><path d="M235.3 545.9l4.4 0.7 4 -3.1 -4.4 -0.6z"/><path d="M355.4 507.6l4.9 -0.6 2.8 -4.2 -4.9 0.6z"/><path d="M462.1 432.9l5.6 -2.1 2 -5.1 -5.6 2.3z"/><path d="M411.4 473.7l5.2 -1.3 2.3 -4.7 -5.2 1.4z"/><path d="M538 352.5l6.3 -3.7 1.4 -5.5 -6.2 3.8z"/><path d="M248 544l4.4 0.6 3.9 -3.2 -4.4 -0.5z"/><path d="M454.6 440l5.5 -2 2 -5.1 -5.5 2.1z"/><path d="M294.1 532.9l4.6 0.1 3.3 -3.7 -4.6 0z"/><path d="M545.7 343.3l6.3 -3.8 1.4 -5.6 -6.2 4z"/><path d="M375.7 497l5.1 -0.8 2.6 -4.5 -5 0.9z"/><path d="M447 446.8l5.5 -1.8 2.1 -5 -5.6 1.9z"/><path d="M403.8 479.6l5.2 -1.2 2.4 -4.7 -5.2 1.3z"/><path d="M260.7 541.8l4.5 0.5 3.7 -3.4 -4.5 -0.3z"/><path d="M553.4 333.9l6.4 -4 1.4 -5.5 -6.4 4.1z"/><path d="M327.2 521.3l4.8 -0.2 3 -4 -4.7 0.3z"/><path d="M347.6 512.3l5 -0.5 2.8 -4.2 -4.9 0.5z"/><path d="M439.4 453.5l5.5 -1.7 2.1 -5 -5.5 1.8z"/><path d="M273.4 539.3l4.5 0.3 3.6 -3.5 -4.5 -0.3z"/><path d="M306.7 529.4l4.7 0 3.2 -3.9 -4.7 0.1z"/><path d="M396.1 485.3l5.2 -1 2.5 -4.7 -5.2 1.1z"/><path d="M368.1 502.1l5 -0.7 2.6 -4.4 -5 0.8z"/><path d="M431.8 460l5.5 -1.6 2.1 -4.9 -5.4 1.6z"/><path d="M214.1 549.4l4.3 0.9 4.2 -2.9 -4.2 -0.7z"/><path d="M226.9 548.2l4.4 0.7 4 -3 -4.3 -0.6z"/><path d="M286 536.3l4.6 0.3 3.5 -3.7 -4.6 -0.1z"/><path d="M424.3 466.3l5.3 -1.4 2.2 -4.9 -5.3 1.5z"/><path d="M239.7 546.6l4.4 0.6 3.9 -3.2 -4.3 -0.5z"/><path d="M339.9 516.8l4.8 -0.3 2.9 -4.2 -4.8 0.4z"/><path d="M388.5 490.8l5.2 -0.9 2.4 -4.6 -5.1 1z"/><path d="M319.3 525.4l4.8 0 3.1 -4.1 -4.7 0.2z"/><path d="M498.2 400.4l5.9 -2.8 1.7 -5.3 -5.9 2.8z"/><path d="M505.8 392.3l6 -2.9 1.6 -5.4 -5.9 3z"/><path d="M490.5 408.3l5.9 -2.6 1.8 -5.3 -5.9 2.7z"/><path d="M513.4 384l6.1 -3.1 1.6 -5.4 -6 3.2z"/><path d="M482.9 416l5.8 -2.5 1.8 -5.2 -5.7 2.5z"/><path d="M360.3 507l5 -0.5 2.8 -4.4 -5 0.7z"/><path d="M252.4 544.6l4.5 0.6 3.8 -3.4 -4.4 -0.4z"/><path d="M521.1 375.5l6.1 -3.2 1.6 -5.5 -6.1 3.3z"/><path d="M475.3 423.5l5.8 -2.3 1.8 -5.2 -5.7 2.4z"/><path d="M416.6 472.4l5.4 -1.3 2.3 -4.8 -5.4 1.4z"/><path d="M298.7 533l4.7 0.2 3.3 -3.8 -4.7 -0.1z"/><path d="M528.8 366.8l6.2 -3.4 1.5 -5.5 -6.2 3.5z"/><path d="M467.7 430.8l5.7 -2.1 1.9 -5.2 -5.6 2.2z"/><path d="M265.2 542.3l4.5 0.5 3.7 -3.5 -4.5 -0.4z"/><path d="M536.5 357.9l6.3 -3.5 1.5 -5.6 -6.3 3.7z"/><path d="M380.8 496.2l5.1 -0.8 2.6 -4.6 -5.1 0.9z"/><path d="M460.1 438l5.7 -2 1.9 -5.2 -5.6 2.1z"/><path d="M544.3 348.8l6.3 -3.7 1.4 -5.6 -6.3 3.8z"/><path d="M409 478.4l5.3 -1.1 2.3 -4.9 -5.2 1.3z"/><path d="M332 521.1l4.9 -0.1 3 -4.2 -4.9 0.3z"/><path d="M452.5 445l5.6 -1.9 2 -5.1 -5.5 2z"/><path d="M352.6 511.8l4.9 -0.4 2.8 -4.4 -4.9 0.6z"/><path d="M277.9 539.6l4.6 0.4 3.5 -3.7 -4.5 -0.2z"/><path d="M311.4 529.4l4.7 0 3.2 -4 -4.7 0.1z"/><path d="M552 339.5l6.4 -3.9 1.4 -5.7 -6.4 4z"/><path d="M444.9 451.8l5.6 -1.8 2 -5 -5.5 1.8z"/><path d="M218.4 550.3l4.3 0.8 4.2 -2.9 -4.3 -0.8z"/><path d="M373.1 501.4l5.1 -0.6 2.6 -4.6 -5.1 0.8z"/><path d="M231.3 548.9l4.3 0.8 4.1 -3.1 -4.4 -0.7z"/><path d="M401.3 484.3l5.3 -1.1 2.4 -4.8 -5.2 1.2z"/><path d="M290.6 536.6l4.7 0.2 3.4 -3.8 -4.6 -0.1z"/><path d="M437.3 458.4l5.5 -1.6 2.1 -5 -5.5 1.7z"/><path d="M244.1 547.2l4.4 0.7 3.9 -3.3 -4.4 -0.6z"/><path d="M344.7 516.5l5 -0.3 2.9 -4.4 -5 0.5z"/><path d="M256.9 545.2l4.5 0.5 3.8 -3.4 -4.5 -0.5z"/><path d="M324.1 525.4l4.8 -0.1 3.1 -4.2 -4.8 0.2z"/><path d="M429.6 464.9l5.5 -1.5 2.2 -5 -5.5 1.6z"/><path d="M393.7 489.9l5.2 -0.9 2.4 -4.7 -5.2 1z"/><path d="M365.3 506.5l5.1 -0.5 2.7 -4.6 -5 0.7z"/><path d="M303.4 533.2l4.7 0.1 3.3 -3.9 -4.7 0z"/><path d="M269.7 542.8l4.6 0.4 3.6 -3.6 -4.5 -0.3z"/><path d="M504.1 397.6l6 -2.8 1.7 -5.4 -6 2.9z"/><path d="M496.4 405.7l6 -2.7 1.7 -5.4 -5.9 2.8z"/><path d="M511.8 389.4l6.1 -3 1.6 -5.5 -6.1 3.1z"/><path d="M422 471.1l5.4 -1.3 2.2 -4.9 -5.3 1.4z"/><path d="M488.7 413.5l5.9 -2.4 1.8 -5.4 -5.9 2.6z"/><path d="M519.5 380.9l6.1 -3.1 1.6 -5.5 -6.1 3.2z"/><path d="M481.1 421.2l5.8 -2.3 1.8 -5.4 -5.8 2.5z"/><path d="M527.2 372.3l6.2 -3.3 1.6 -5.6 -6.2 3.4z"/><path d="M385.9 495.4l5.2 -0.8 2.6 -4.7 -5.2 0.9z"/><path d="M473.4 428.7l5.8 -2.2 1.9 -5.3 -5.8 2.3z"/><path d="M282.5 540l4.6 0.3 3.5 -3.7 -4.6 -0.3z"/><path d="M336.9 521l4.9 -0.2 2.9 -4.3 -4.8 0.3z"/><path d="M535 363.4l6.3 -3.4 1.5 -5.6 -6.3 3.5z"/><path d="M465.8 436l5.7 -2.1 1.9 -5.2 -5.7 2.1z"/><path d="M414.3 477.3l5.4 -1.2 2.3 -5 -5.4 1.3z"/><path d="M222.7 551.1l4.4 0.9 4.2 -3.1 -4.4 -0.7z"/><path d="M357.5 511.4l5.1 -0.4 2.7 -4.5 -5 0.5z"/><path d="M316.1 529.4l4.8 0.1 3.2 -4.1 -4.8 0z"/><path d="M542.8 354.4l6.3 -3.7 1.5 -5.6 -6.3 3.7z"/><path d="M235.6 549.7l4.5 0.8 4 -3.3 -4.4 -0.6z"/><path d="M458.1 443.1l5.7 -1.9 2 -5.2 -5.7 2z"/><path d="M550.6 345.1l6.4 -3.8 1.4 -5.7 -6.4 3.9z"/><path d="M248.5 547.9l4.5 0.7 3.9 -3.4 -4.5 -0.6z"/><path d="M378.2 500.8l5.1 -0.7 2.6 -4.7 -5.1 0.8z"/><path d="M295.3 536.8l4.7 0.3 3.4 -3.9 -4.7 -0.2z"/><path d="M450.5 450l5.6 -1.7 2 -5.2 -5.6 1.9z"/><path d="M406.6 483.2l5.3 -1 2.4 -4.9 -5.3 1.1z"/><path d="M261.4 545.7l4.6 0.6 3.7 -3.5 -4.5 -0.5z"/><path d="M442.8 456.8l5.6 -1.6 2.1 -5.2 -5.6 1.8z"/><path d="M328.9 525.3l4.9 -0.1 3.1 -4.2 -4.9 0.1z"/><path d="M349.7 516.2l5 -0.3 2.8 -4.5 -4.9 0.4z"/><path d="M308.1 533.3l4.8 0.2 3.2 -4.1 -4.7 0z"/><path d="M398.9 489l5.3 -0.9 2.4 -4.9 -5.3 1.1z"/><path d="M274.3 543.2l4.6 0.5 3.6 -3.7 -4.6 -0.4z"/><path d="M370.4 506l5.1 -0.6 2.7 -4.6 -5.1 0.6z"/><path d="M435.1 463.4l5.5 -1.5 2.2 -5.1 -5.5 1.6z"/><path d="M427.4 469.8l5.5 -1.3 2.2 -5.1 -5.5 1.5z"/><path d="M287.1 540.3l4.7 0.4 3.5 -3.9 -4.7 -0.2z"/><path d="M227.1 552l4.4 0.9 4.1 -3.2 -4.3 -0.8z"/><path d="M391.1 494.6l5.3 -0.8 2.5 -4.8 -5.2 0.9z"/><path d="M502.4 403l6 -2.6 1.7 -5.6 -6 2.8z"/><path d="M341.8 520.8l4.9 -0.2 3 -4.4 -5 0.3z"/><path d="M510.1 394.8l6.1 -2.8 1.7 -5.6 -6.1 3z"/><path d="M494.6 411.1l6 -2.6 1.8 -5.5 -6 2.7z"/><path d="M240.1 550.5l4.5 0.7 3.9 -3.3 -4.4 -0.7z"/><path d="M517.9 386.4l6.1 -3 1.6 -5.6 -6.1 3.1z"/><path d="M320.9 529.5l4.9 0 3.1 -4.2 -4.8 0.1z"/><path d="M486.9 418.9l5.9 -2.4 1.8 -5.4 -5.9 2.4z"/><path d="M362.6 511l5.1 -0.4 2.7 -4.6 -5.1 0.5z"/><path d="M525.6 377.8l6.3 -3.1 1.5 -5.7 -6.2 3.3z"/><path d="M479.2 426.5l5.9 -2.2 1.8 -5.4 -5.8 2.3z"/><path d="M419.7 476.1l5.4 -1.2 2.3 -5.1 -5.4 1.3z"/><path d="M253 548.6l4.6 0.6 3.8 -3.5 -4.5 -0.5z"/><path d="M533.4 369l6.3 -3.3 1.6 -5.7 -6.3 3.4z"/><path d="M471.5 433.9l5.8 -2 1.9 -5.4 -5.8 2.2z"/><path d="M300 537.1l4.8 0.3 3.3 -4.1 -4.7 -0.1z"/><path d="M541.3 360l6.3 -3.5 1.5 -5.8 -6.3 3.7z"/><path d="M463.8 441.2l5.7 -1.9 2 -5.4 -5.7 2.1z"/><path d="M383.3 500.1l5.3 -0.7 2.5 -4.8 -5.2 0.8z"/><path d="M266 546.3l4.6 0.6 3.7 -3.7 -4.6 -0.4z"/><path d="M549.1 350.7l6.5 -3.6 1.4 -5.8 -6.4 3.8z"/><path d="M411.9 482.2l5.4 -1.1 2.4 -5 -5.4 1.2z"/><path d="M456.1 448.3l5.7 -1.8 2 -5.3 -5.7 1.9z"/><path d="M333.8 525.2l5 -0.1 3 -4.3 -4.9 0.2z"/><path d="M354.7 515.9l5 -0.4 2.9 -4.5 -5.1 0.4z"/><path d="M278.9 543.7l4.7 0.5 3.5 -3.9 -4.6 -0.3z"/><path d="M312.9 533.5l4.8 0.1 3.2 -4.1 -4.8 -0.1z"/><path d="M448.4 455.2l5.6 -1.6 2.1 -5.3 -5.6 1.7z"/><path d="M375.5 505.4l5.2 -0.6 2.6 -4.7 -5.1 0.7z"/><path d="M404.2 488.1l5.3 -1 2.4 -4.9 -5.3 1z"/><path d="M440.6 461.9l5.6 -1.5 2.2 -5.2 -5.6 1.6z"/><path d="M231.5 552.9l4.5 0.9 4.1 -3.3 -4.5 -0.8z"/><path d="M291.8 540.7l4.8 0.4 3.4 -4 -4.7 -0.3z"/><path d="M244.6 551.2l4.5 0.8 3.9 -3.4 -4.5 -0.7z"/><path d="M346.7 520.6l5.1 -0.2 2.9 -4.5 -5 0.3z"/><path d="M432.9 468.5l5.5 -1.4 2.2 -5.2 -5.5 1.5z"/><path d="M325.8 529.5l4.9 0 3.1 -4.3 -4.9 0.1z"/><path d="M396.4 493.8l5.3 -0.8 2.5 -4.9 -5.3 0.9z"/><path d="M257.6 549.2l4.6 0.7 3.8 -3.6 -4.6 -0.6z"/><path d="M367.7 510.6l5.1 -0.5 2.7 -4.7 -5.1 0.6z"/><path d="M304.8 537.4l4.8 0.2 3.3 -4.1 -4.8 -0.2z"/><path d="M508.4 400.4l6.1 -2.7 1.7 -5.7 -6.1 2.8z"/><path d="M500.6 408.5l6.1 -2.5 1.7 -5.6 -6 2.6z"/><path d="M516.2 392l6.2 -2.8 1.6 -5.8 -6.1 3z"/><path d="M492.8 416.5l6 -2.4 1.8 -5.6 -6 2.6z"/><path d="M425.1 474.9l5.5 -1.3 2.3 -5.1 -5.5 1.3z"/><path d="M270.6 546.9l4.6 0.6 3.7 -3.8 -4.6 -0.5z"/><path d="M524 383.4l6.3 -3 1.6 -5.7 -6.3 3.1z"/><path d="M485.1 424.3l5.9 -2.2 1.8 -5.6 -5.9 2.4z"/><path d="M531.9 374.7l6.3 -3.2 1.5 -5.8 -6.3 3.3z"/><path d="M477.3 431.9l5.9 -2.1 1.9 -5.5 -5.9 2.2z"/><path d="M388.6 499.4l5.2 -0.7 2.6 -4.9 -5.3 0.8z"/><path d="M539.7 365.7l6.4 -3.4 1.5 -5.8 -6.3 3.5z"/><path d="M469.5 439.3l5.9 -1.9 1.9 -5.5 -5.8 2z"/><path d="M338.8 525.1l5 0 2.9 -4.5 -4.9 0.2z"/><path d="M417.3 481.1l5.5 -1.1 2.3 -5.1 -5.4 1.2z"/><path d="M283.6 544.2l4.7 0.5 3.5 -4 -4.7 -0.4z"/><path d="M359.7 515.5l5.2 -0.3 2.8 -4.6 -5.1 0.4z"/><path d="M547.6 356.5l6.5 -3.5 1.5 -5.9 -6.5 3.6z"/><path d="M317.7 533.6l4.9 0.2 3.2 -4.3 -4.9 0z"/><path d="M461.8 446.5l5.8 -1.8 1.9 -5.4 -5.7 1.9z"/><path d="M236 553.8l4.5 0.9 4.1 -3.5 -4.5 -0.7z"/><path d="M380.7 504.8l5.3 -0.5 2.6 -4.9 -5.3 0.7z"/><path d="M454 453.6l5.7 -1.7 2.1 -5.4 -5.7 1.8z"/><path d="M409.5 487.1l5.5 -0.9 2.3 -5.1 -5.4 1.1z"/><path d="M296.6 541.1l4.8 0.4 3.4 -4.1 -4.8 -0.3z"/><path d="M249.1 552l4.6 0.8 3.9 -3.6 -4.6 -0.6z"/><path d="M446.2 460.4l5.7 -1.5 2.1 -5.3 -5.6 1.6z"/><path d="M262.2 549.9l4.6 0.7 3.8 -3.7 -4.6 -0.6z"/><path d="M351.8 520.4l5.1 -0.2 2.8 -4.7 -5 0.4z"/><path d="M330.7 529.5l5 0.1 3.1 -4.5 -5 0.1z"/><path d="M401.7 493l5.4 -0.8 2.4 -5.1 -5.3 1z"/><path d="M438.4 467.1l5.7 -1.4 2.1 -5.3 -5.6 1.5z"/><path d="M372.8 510.1l5.2 -0.4 2.7 -4.9 -5.2 0.6z"/><path d="M309.6 537.6l4.9 0.3 3.2 -4.3 -4.8 -0.1z"/><path d="M275.2 547.5l4.7 0.6 3.7 -3.9 -4.7 -0.5z"/><path d="M430.6 473.6l5.6 -1.2 2.2 -5.3 -5.5 1.4z"/><path d="M506.7 406l6.1 -2.6 1.7 -5.7 -6.1 2.7z"/><path d="M393.8 498.7l5.4 -0.7 2.5 -5 -5.3 0.8z"/><path d="M514.5 397.7l6.2 -2.8 1.7 -5.7 -6.2 2.8z"/><path d="M288.3 544.7l4.8 0.4 3.5 -4 -4.8 -0.4z"/><path d="M498.8 414.1l6.1 -2.4 1.8 -5.7 -6.1 2.5z"/><path d="M522.4 389.2l6.3 -3 1.6 -5.8 -6.3 3z"/><path d="M343.8 525.1l5 -0.1 3 -4.6 -5.1 0.2z"/><path d="M491 422.1l6 -2.3 1.8 -5.7 -6 2.4z"/><path d="M530.3 380.4l6.3 -3.1 1.6 -5.8 -6.3 3.2z"/><path d="M322.6 533.8l5 0.2 3.1 -4.5 -4.9 0z"/><path d="M483.2 429.8l6 -2.1 1.8 -5.6 -5.9 2.2z"/><path d="M364.9 515.2l5.1 -0.3 2.8 -4.8 -5.1 0.5z"/><path d="M240.5 554.7l4.6 0.9 4 -3.6 -4.5 -0.8z"/><path d="M422.8 480l5.6 -1.1 2.2 -5.3 -5.5 1.3z"/><path d="M538.2 371.5l6.4 -3.3 1.5 -5.9 -6.4 3.4z"/><path d="M475.4 437.4l5.9 -2 1.9 -5.6 -5.9 2.1z"/><path d="M253.7 552.8l4.6 0.8 3.9 -3.7 -4.6 -0.7z"/><path d="M546.1 362.3l6.5 -3.4 1.5 -5.9 -6.5 3.5z"/><path d="M301.4 541.5l4.8 0.3 3.4 -4.2 -4.8 -0.2z"/><path d="M467.6 444.7l5.8 -1.8 2 -5.5 -5.9 1.9z"/><path d="M386 504.3l5.3 -0.6 2.5 -5 -5.2 0.7z"/><path d="M415 486.2l5.5 -1 2.3 -5.2 -5.5 1.1z"/><path d="M266.8 550.6l4.7 0.7 3.7 -3.8 -4.6 -0.6z"/><path d="M459.7 451.9l5.8 -1.7 2.1 -5.5 -5.8 1.8z"/><path d="M335.7 529.6l5 0 3.1 -4.5 -5 0z"/><path d="M356.9 520.2l5.1 -0.2 2.9 -4.8 -5.2 0.3z"/><path d="M451.9 458.9l5.8 -1.5 2 -5.5 -5.7 1.7z"/><path d="M279.9 548.1l4.8 0.6 3.6 -4 -4.7 -0.5z"/><path d="M314.5 537.9l4.9 0.3 3.2 -4.4 -4.9 -0.2z"/><path d="M407.1 492.2l5.5 -0.9 2.4 -5.1 -5.5 0.9z"/><path d="M378 509.7l5.3 -0.5 2.7 -4.9 -5.3 0.5z"/><path d="M444.1 465.7l5.7 -1.3 2.1 -5.5 -5.7 1.5z"/><path d="M293.1 545.1l4.8 0.5 3.5 -4.1 -4.8 -0.4z"/><path d="M436.2 472.4l5.7 -1.2 2.2 -5.5 -5.7 1.4z"/><path d="M245.1 555.6l4.6 0.9 4 -3.7 -4.6 -0.8z"/><path d="M348.8 525l5.1 -0.1 3 -4.7 -5.1 0.2z"/><path d="M399.2 498l5.4 -0.7 2.5 -5.1 -5.4 0.8z"/><path d="M327.6 534l5 0.1 3.1 -4.5 -5 -0.1z"/><path d="M370 514.9l5.3 -0.3 2.7 -4.9 -5.2 0.4z"/><path d="M258.3 553.6l4.7 0.8 3.8 -3.8 -4.6 -0.7z"/><path d="M512.8 403.4l6.3 -2.6 1.6 -5.9 -6.2 2.8z"/><path d="M504.9 411.7l6.2 -2.5 1.7 -5.8 -6.1 2.6z"/><path d="M520.7 394.9l6.4 -2.7 1.6 -6 -6.3 3z"/><path d="M497 419.8l6.2 -2.3 1.7 -5.8 -6.1 2.4z"/><path d="M428.4 478.9l5.6 -1.1 2.2 -5.4 -5.6 1.2z"/><path d="M306.2 541.8l4.9 0.4 3.4 -4.3 -4.9 -0.3z"/><path d="M528.7 386.2l6.4 -2.9 1.5 -6 -6.3 3.1z"/><path d="M489.2 427.7l6 -2.2 1.8 -5.7 -6 2.3z"/><path d="M536.6 377.3l6.5 -3.1 1.5 -6 -6.4 3.3z"/><path d="M271.5 551.3l4.7 0.7 3.7 -3.9 -4.7 -0.6z"/><path d="M481.3 435.4l6 -2 1.9 -5.7 -6 2.1z"/><path d="M391.3 503.7l5.3 -0.6 2.6 -5.1 -5.4 0.7z"/><path d="M544.6 368.2l6.5 -3.3 1.5 -6 -6.5 3.4z"/><path d="M473.4 442.9l6 -1.8 1.9 -5.7 -5.9 2z"/><path d="M420.5 485.2l5.5 -1 2.4 -5.3 -5.6 1.1z"/><path d="M340.7 529.6l5.1 0.1 3 -4.7 -5 0.1z"/><path d="M362 520l5.2 -0.2 2.8 -4.9 -5.1 0.3z"/><path d="M284.7 548.7l4.8 0.6 3.6 -4.2 -4.8 -0.4z"/><path d="M465.5 450.2l5.9 -1.7 2 -5.6 -5.8 1.8z"/><path d="M319.4 538.2l5 0.2 3.2 -4.4 -5 -0.2z"/><path d="M457.7 457.4l5.8 -1.6 2 -5.6 -5.8 1.7z"/><path d="M383.3 509.2l5.3 -0.4 2.7 -5.1 -5.3 0.6z"/><path d="M412.6 491.3l5.5 -0.8 2.4 -5.3 -5.5 1z"/><path d="M297.9 545.6l4.9 0.5 3.4 -4.3 -4.8 -0.3z"/><path d="M249.7 556.5l4.6 0.9 4 -3.8 -4.6 -0.8z"/><path d="M449.8 464.4l5.8 -1.5 2.1 -5.5 -5.8 1.5z"/><path d="M353.9 524.9l5.2 -0.1 2.9 -4.8 -5.1 0.2z"/><path d="M332.6 534.1l5 0.2 3.1 -4.7 -5 0z"/><path d="M263 554.4l4.7 0.9 3.8 -4 -4.7 -0.7z"/><path d="M404.6 497.3l5.5 -0.7 2.5 -5.3 -5.5 0.9z"/><path d="M441.9 471.2l5.7 -1.3 2.2 -5.5 -5.7 1.3z"/><path d="M375.3 514.6l5.3 -0.3 2.7 -5.1 -5.3 0.5z"/><path d="M311.1 542.2l5 0.4 3.3 -4.4 -4.9 -0.3z"/><path d="M276.2 552l4.8 0.8 3.7 -4.1 -4.8 -0.6z"/><path d="M434 477.8l5.6 -1.2 2.3 -5.4 -5.7 1.2z"/><path d="M511.1 409.2l6.3 -2.4 1.7 -6 -6.3 2.6z"/><path d="M519.1 400.8l6.3 -2.7 1.7 -5.9 -6.4 2.7z"/><path d="M503.2 417.5l6.2 -2.3 1.7 -6 -6.2 2.5z"/><path d="M396.6 503.1l5.5 -0.6 2.5 -5.2 -5.4 0.7z"/><path d="M527.1 392.2l6.3 -2.9 1.7 -6 -6.4 2.9z"/><path d="M495.2 425.5l6.1 -2.1 1.9 -5.9 -6.2 2.3z"/><path d="M535.1 383.3l6.4 -3 1.6 -6.1 -6.5 3.1z"/><path d="M345.8 529.7l5.2 0 2.9 -4.8 -5.1 0.1z"/><path d="M289.5 549.3l4.9 0.6 3.5 -4.3 -4.8 -0.5z"/><path d="M487.3 433.4l6.1 -2 1.8 -5.9 -6 2.2z"/><path d="M367.2 519.8l5.3 -0.2 2.8 -5 -5.3 0.3z"/><path d="M324.4 538.4l5 0.3 3.2 -4.6 -5 -0.1z"/><path d="M543.1 374.2l6.5 -3.1 1.5 -6.2 -6.5 3.3z"/><path d="M426 484.2l5.7 -1 2.3 -5.4 -5.6 1.1z"/><path d="M479.4 441.1l6 -1.9 1.9 -5.8 -6 2z"/><path d="M471.4 448.5l6 -1.7 2 -5.7 -6 1.8z"/><path d="M388.6 508.8l5.4 -0.5 2.6 -5.2 -5.3 0.6z"/><path d="M254.3 557.4l4.8 0.9 3.9 -3.9 -4.7 -0.8z"/><path d="M302.8 546.1l4.9 0.5 3.4 -4.4 -4.9 -0.4z"/><path d="M418.1 490.5l5.6 -0.9 2.3 -5.4 -5.5 1z"/><path d="M463.5 455.8l5.9 -1.5 2 -5.8 -5.9 1.7z"/><path d="M267.7 555.3l4.8 0.8 3.7 -4.1 -4.7 -0.7z"/><path d="M337.6 534.3l5.2 0.1 3 -4.7 -5.1 -0.1z"/><path d="M359.1 524.8l5.3 -0.1 2.8 -4.9 -5.2 0.2z"/><path d="M455.6 462.9l5.8 -1.4 2.1 -5.7 -5.8 1.6z"/><path d="M316.1 542.6l5 0.4 3.3 -4.6 -5 -0.2z"/><path d="M410.1 496.6l5.6 -0.7 2.4 -5.4 -5.5 0.8z"/><path d="M281 552.8l4.9 0.7 3.6 -4.2 -4.8 -0.6z"/><path d="M380.6 514.3l5.4 -0.4 2.6 -5.1 -5.3 0.4z"/><path d="M447.6 469.9l5.8 -1.3 2.2 -5.7 -5.8 1.5z"/><path d="M294.4 549.9l4.9 0.6 3.5 -4.4 -4.9 -0.5z"/><path d="M439.6 476.6l5.8 -1.1 2.2 -5.6 -5.7 1.3z"/><path d="M402.1 502.5l5.5 -0.6 2.5 -5.3 -5.5 0.7z"/><path d="M351 529.7l5.2 0.1 2.9 -5 -5.2 0.1z"/><path d="M329.4 538.7l5.1 0.3 3.1 -4.7 -5 -0.2z"/><path d="M372.5 519.6l5.3 -0.2 2.8 -5.1 -5.3 0.3z"/><path d="M517.4 406.8l6.3 -2.6 1.7 -6.1 -6.3 2.7z"/><path d="M509.4 415.2l6.2 -2.4 1.8 -6 -6.3 2.4z"/><path d="M525.4 398.1l6.4 -2.6 1.6 -6.2 -6.3 2.9z"/><path d="M501.3 423.4l6.3 -2.2 1.8 -6 -6.2 2.3z"/><path d="M431.7 483.2l5.7 -1 2.2 -5.6 -5.6 1.2z"/><path d="M533.4 389.3l6.5 -2.8 1.6 -6.2 -6.4 3z"/><path d="M259.1 558.3l4.7 1 3.9 -4 -4.7 -0.9z"/><path d="M493.4 431.4l6.1 -2.1 1.8 -5.9 -6.1 2.1z"/><path d="M307.7 546.6l5 0.6 3.4 -4.6 -5 -0.4z"/><path d="M541.5 380.3l6.6 -3 1.5 -6.2 -6.5 3.1z"/><path d="M485.4 439.2l6.1 -1.9 1.9 -5.9 -6.1 2z"/><path d="M394 508.3l5.5 -0.4 2.6 -5.4 -5.5 0.6z"/><path d="M272.5 556.1l4.8 0.8 3.7 -4.1 -4.8 -0.8z"/><path d="M477.4 446.8l6 -1.7 2 -5.9 -6 1.9z"/><path d="M423.7 489.6l5.6 -0.8 2.4 -5.6 -5.7 1z"/><path d="M342.8 534.4l5.1 0.2 3.1 -4.9 -5.2 0z"/><path d="M469.4 454.3l6 -1.6 2 -5.9 -6 1.7z"/><path d="M364.4 524.7l5.3 0 2.8 -5.1 -5.3 0.2z"/><path d="M285.9 553.5l4.9 0.7 3.6 -4.3 -4.9 -0.6z"/><path d="M321.1 543l5.1 0.4 3.2 -4.7 -5 -0.3z"/><path d="M461.4 461.5l5.9 -1.4 2.1 -5.8 -5.9 1.5z"/><path d="M386 513.9l5.4 -0.3 2.6 -5.3 -5.4 0.5z"/><path d="M415.7 495.9l5.6 -0.8 2.4 -5.5 -5.6 0.9z"/><path d="M453.4 468.6l5.9 -1.3 2.1 -5.8 -5.8 1.4z"/><path d="M299.3 550.5l5 0.6 3.4 -4.5 -4.9 -0.5z"/><path d="M356.2 529.8l5.3 0 2.9 -5.1 -5.3 0.1z"/><path d="M334.5 539l5.2 0.3 3.1 -4.9 -5.2 -0.1z"/><path d="M407.6 501.9l5.6 -0.6 2.5 -5.4 -5.6 0.7z"/><path d="M445.4 475.5l5.8 -1.2 2.2 -5.7 -5.8 1.3z"/><path d="M263.8 559.3l4.8 0.9 3.9 -4.1 -4.8 -0.8z"/><path d="M377.8 519.4l5.4 -0.2 2.8 -5.3 -5.4 0.4z"/><path d="M312.7 547.2l5.1 0.5 3.3 -4.7 -5 -0.4z"/><path d="M437.4 482.2l5.8 -1 2.2 -5.7 -5.8 1.1z"/><path d="M277.3 556.9l4.9 0.9 3.7 -4.3 -4.9 -0.7z"/><path d="M515.6 412.8l6.4 -2.4 1.7 -6.2 -6.3 2.6z"/><path d="M523.7 404.2l6.5 -2.5 1.6 -6.2 -6.4 2.6z"/><path d="M507.6 421.2l6.3 -2.3 1.7 -6.1 -6.2 2.4z"/><path d="M531.8 395.5l6.5 -2.8 1.6 -6.2 -6.5 2.8z"/><path d="M399.5 507.9l5.6 -0.5 2.5 -5.5 -5.5 0.6z"/><path d="M499.5 429.3l6.3 -2.1 1.8 -6 -6.3 2.2z"/><path d="M539.9 386.5l6.6 -2.9 1.6 -6.3 -6.6 3z"/><path d="M491.5 437.3l6.2 -1.9 1.8 -6.1 -6.1 2.1z"/><path d="M347.9 534.6l5.3 0.2 3 -5 -5.2 -0.1z"/><path d="M290.8 554.2l4.9 0.8 3.6 -4.5 -4.9 -0.6z"/><path d="M429.3 488.8l5.8 -0.9 2.3 -5.7 -5.7 1z"/><path d="M369.7 524.7l5.3 -0.1 2.8 -5.2 -5.3 0.2z"/><path d="M483.4 445.1l6.2 -1.8 1.9 -6 -6.1 1.9z"/><path d="M326.2 543.4l5.1 0.4 3.2 -4.8 -5.1 -0.3z"/><path d="M475.4 452.7l6.1 -1.7 1.9 -5.9 -6 1.7z"/><path d="M391.4 513.6l5.5 -0.3 2.6 -5.4 -5.5 0.4z"/><path d="M467.3 460.1l6.1 -1.5 2 -5.9 -6 1.6z"/><path d="M421.3 495.1l5.7 -0.7 2.3 -5.6 -5.6 0.8z"/><path d="M304.3 551.1l5 0.7 3.4 -4.6 -5 -0.6z"/><path d="M459.3 467.3l6 -1.3 2 -5.9 -5.9 1.4z"/><path d="M361.5 529.8l5.3 0 2.9 -5.1 -5.3 0z"/><path d="M268.6 560.2l4.9 1 3.8 -4.3 -4.8 -0.8z"/><path d="M339.7 539.3l5.2 0.3 3 -5 -5.1 -0.2z"/><path d="M413.2 501.3l5.6 -0.6 2.5 -5.6 -5.6 0.8z"/><path d="M383.2 519.2l5.5 -0.2 2.7 -5.4 -5.4 0.3z"/><path d="M317.8 547.7l5.1 0.5 3.3 -4.8 -5.1 -0.4z"/><path d="M451.2 474.3l6 -1.1 2.1 -5.9 -5.9 1.3z"/><path d="M282.2 557.8l4.9 0.8 3.7 -4.4 -4.9 -0.7z"/><path d="M443.2 481.2l5.8 -1 2.2 -5.9 -5.8 1.2z"/><path d="M405.1 507.4l5.6 -0.5 2.5 -5.6 -5.6 0.6z"/><path d="M295.7 555l5 0.7 3.6 -4.6 -5 -0.6z"/><path d="M353.2 534.8l5.3 0.1 3 -5.1 -5.3 0z"/><path d="M331.3 543.8l5.2 0.4 3.2 -4.9 -5.2 -0.3z"/><path d="M522 410.4l6.5 -2.4 1.7 -6.3 -6.5 2.5z"/><path d="M513.9 418.9l6.4 -2.2 1.7 -6.3 -6.4 2.4z"/><path d="M375 524.6l5.5 -0.1 2.7 -5.3 -5.4 0.2z"/><path d="M530.2 401.7l6.5 -2.6 1.6 -6.4 -6.5 2.8z"/><path d="M505.8 427.2l6.3 -2.1 1.8 -6.2 -6.3 2.3z"/><path d="M538.3 392.7l6.6 -2.8 1.6 -6.3 -6.6 2.9z"/><path d="M435.1 487.9l5.8 -0.9 2.3 -5.8 -5.8 1z"/><path d="M497.7 435.4l6.2 -2 1.9 -6.2 -6.3 2.1z"/><path d="M489.6 443.3l6.2 -1.8 1.9 -6.1 -6.2 1.9z"/><path d="M309.3 551.8l5.1 0.6 3.4 -4.7 -5.1 -0.5z"/><path d="M396.9 513.3l5.6 -0.4 2.6 -5.5 -5.6 0.5z"/><path d="M481.5 451l6.1 -1.6 2 -6.1 -6.2 1.8z"/><path d="M427 494.4l5.7 -0.8 2.4 -5.7 -5.8 0.9z"/><path d="M273.5 561.2l4.9 1 3.8 -4.4 -4.9 -0.9z"/><path d="M473.4 458.6l6.1 -1.5 2 -6.1 -6.1 1.7z"/><path d="M344.9 539.6l5.2 0.3 3.1 -5.1 -5.3 -0.2z"/><path d="M366.8 529.8l5.4 0.1 2.8 -5.3 -5.3 0.1z"/><path d="M465.3 466l6 -1.4 2.1 -6 -6.1 1.5z"/><path d="M322.9 548.2l5.1 0.5 3.3 -4.9 -5.1 -0.4z"/><path d="M287.1 558.6l5 0.9 3.6 -4.5 -4.9 -0.8z"/><path d="M388.7 519l5.6 -0.3 2.6 -5.4 -5.5 0.3z"/><path d="M418.8 500.7l5.8 -0.6 2.4 -5.7 -5.7 0.7z"/><path d="M457.2 473.2l5.9 -1.2 2.2 -6 -6 1.3z"/><path d="M300.7 555.7l5.1 0.8 3.5 -4.7 -5 -0.7z"/><path d="M358.5 534.9l5.4 0.2 2.9 -5.3 -5.3 0z"/><path d="M449 480.2l6 -1.1 2.2 -5.9 -6 1.1z"/><path d="M410.7 506.9l5.7 -0.5 2.4 -5.7 -5.6 0.6z"/><path d="M336.5 544.2l5.2 0.4 3.2 -5 -5.2 -0.3z"/><path d="M380.5 524.5l5.5 -0.1 2.7 -5.4 -5.5 0.2z"/><path d="M314.4 552.4l5.1 0.7 3.4 -4.9 -5.1 -0.5z"/><path d="M440.9 487l5.9 -0.9 2.2 -5.9 -5.8 1z"/><path d="M520.3 416.7l6.5 -2.4 1.7 -6.3 -6.5 2.4z"/><path d="M528.5 408l6.6 -2.5 1.6 -6.4 -6.5 2.6z"/><path d="M512.1 425.1l6.4 -2.1 1.8 -6.3 -6.4 2.2z"/><path d="M536.7 399.1l6.6 -2.7 1.6 -6.5 -6.6 2.8z"/><path d="M278.4 562.2l5 0.9 3.7 -4.5 -4.9 -0.8z"/><path d="M503.9 433.4l6.4 -2 1.8 -6.3 -6.3 2.1z"/><path d="M402.5 512.9l5.6 -0.3 2.6 -5.7 -5.6 0.5z"/><path d="M495.8 441.5l6.3 -1.8 1.8 -6.3 -6.2 2z"/><path d="M350.1 539.9l5.4 0.3 3 -5.3 -5.3 -0.1z"/><path d="M432.7 493.6l5.9 -0.7 2.3 -5.9 -5.8 0.9z"/><path d="M487.6 449.4l6.3 -1.7 1.9 -6.2 -6.2 1.8z"/><path d="M372.2 529.9l5.5 0 2.8 -5.4 -5.5 0.1z"/><path d="M292.1 559.5l5 0.9 3.6 -4.7 -5 -0.7z"/><path d="M328 548.7l5.3 0.6 3.2 -5.1 -5.2 -0.4z"/><path d="M479.5 457.1l6.1 -1.5 2 -6.2 -6.1 1.6z"/><path d="M394.3 518.7l5.6 -0.2 2.6 -5.6 -5.6 0.4z"/><path d="M471.3 464.6l6.1 -1.3 2.1 -6.2 -6.1 1.5z"/><path d="M424.6 500.1l5.8 -0.6 2.3 -5.9 -5.7 0.8z"/><path d="M305.8 556.5l5.1 0.7 3.5 -4.8 -5.1 -0.6z"/><path d="M463.1 472l6.1 -1.2 2.1 -6.2 -6 1.4z"/><path d="M363.9 535.1l5.4 0.2 2.9 -5.4 -5.4 -0.1z"/><path d="M341.7 544.6l5.3 0.5 3.1 -5.2 -5.2 -0.3z"/><path d="M416.4 506.4l5.7 -0.5 2.5 -5.8 -5.8 0.6z"/><path d="M455 479.1l6 -1.1 2.1 -6 -5.9 1.2z"/><path d="M386 524.4l5.6 -0.1 2.7 -5.6 -5.6 0.3z"/><path d="M319.5 553.1l5.2 0.6 3.3 -5 -5.1 -0.5z"/><path d="M283.4 563.1l5 1 3.7 -4.6 -5 -0.9z"/><path d="M446.8 486.1l6 -0.9 2.2 -6.1 -6 1.1z"/><path d="M408.1 512.6l5.7 -0.4 2.6 -5.8 -5.7 0.5z"/><path d="M355.5 540.2l5.4 0.3 3 -5.4 -5.4 -0.2z"/><path d="M297.1 560.4l5.1 0.9 3.6 -4.8 -5.1 -0.8z"/><path d="M526.8 414.3l6.6 -2.3 1.7 -6.5 -6.6 2.5z"/><path d="M518.5 423l6.6 -2.2 1.7 -6.5 -6.5 2.4z"/><path d="M535.1 405.5l6.6 -2.5 1.6 -6.6 -6.6 2.7z"/><path d="M510.3 431.4l6.5 -2 1.7 -6.4 -6.4 2.1z"/><path d="M377.7 529.9l5.5 0.1 2.8 -5.6 -5.5 0.1z"/><path d="M333.3 549.3l5.2 0.5 3.2 -5.2 -5.2 -0.4z"/><path d="M438.6 492.9l5.9 -0.8 2.3 -6 -5.9 0.9z"/><path d="M502.1 439.7l6.4 -1.8 1.8 -6.5 -6.4 2z"/><path d="M493.9 447.7l6.3 -1.6 1.9 -6.4 -6.3 1.8z"/><path d="M485.6 455.6l6.3 -1.5 2 -6.4 -6.3 1.7z"/><path d="M399.9 518.5l5.6 -0.2 2.6 -5.7 -5.6 0.3z"/><path d="M310.9 557.2l5.2 0.8 3.4 -4.9 -5.1 -0.7z"/><path d="M430.4 499.5l5.8 -0.6 2.4 -6 -5.9 0.7z"/><path d="M477.4 463.3l6.2 -1.4 2 -6.3 -6.1 1.5z"/><path d="M347 545.1l5.4 0.4 3.1 -5.3 -5.4 -0.3z"/><path d="M369.3 535.3l5.5 0.1 2.9 -5.5 -5.5 0z"/><path d="M469.2 470.8l6.2 -1.3 2 -6.2 -6.1 1.3z"/><path d="M324.7 553.7l5.3 0.7 3.3 -5.1 -5.3 -0.6z"/><path d="M422.1 505.9l5.8 -0.5 2.5 -5.9 -5.8 0.6z"/><path d="M391.6 524.3l5.6 -0.1 2.7 -5.7 -5.6 0.2z"/><path d="M288.4 564.1l5.1 1 3.6 -4.7 -5 -0.9z"/><path d="M461 478l6.1 -1 2.1 -6.2 -6.1 1.2z"/><path d="M302.2 561.3l5.2 0.9 3.5 -5 -5.1 -0.7z"/><path d="M452.8 485.2l6 -1 2.2 -6.2 -6 1.1z"/><path d="M360.9 540.5l5.5 0.3 2.9 -5.5 -5.4 -0.2z"/><path d="M413.8 512.2l5.8 -0.4 2.5 -5.9 -5.7 0.5z"/><path d="M338.5 549.8l5.4 0.5 3.1 -5.2 -5.3 -0.5z"/><path d="M383.2 530l5.6 0 2.8 -5.7 -5.6 0.1z"/><path d="M444.5 492.1l6 -0.8 2.3 -6.1 -6 0.9z"/><path d="M525.1 420.8l6.6 -2.2 1.7 -6.6 -6.6 2.3z"/><path d="M533.4 412l6.7 -2.4 1.6 -6.6 -6.6 2.5z"/><path d="M316.1 558l5.2 0.8 3.4 -5.1 -5.2 -0.6z"/><path d="M516.8 429.4l6.5 -2 1.8 -6.6 -6.6 2.2z"/><path d="M508.5 437.9l6.4 -1.9 1.9 -6.6 -6.5 2z"/><path d="M405.5 518.3l5.8 -0.2 2.5 -5.9 -5.7 0.4z"/><path d="M500.2 446.1l6.4 -1.7 1.9 -6.5 -6.4 1.8z"/><path d="M491.9 454.1l6.4 -1.6 1.9 -6.4 -6.3 1.6z"/><path d="M436.2 498.9l6 -0.7 2.3 -6.1 -5.9 0.8z"/><path d="M352.4 545.5l5.5 0.4 3 -5.4 -5.4 -0.3z"/><path d="M374.8 535.4l5.6 0.2 2.8 -5.6 -5.5 -0.1z"/><path d="M483.6 461.9l6.3 -1.4 2 -6.4 -6.3 1.5z"/><path d="M293.5 565.1l5.1 1.1 3.6 -4.9 -5.1 -0.9z"/><path d="M330 554.4l5.3 0.7 3.2 -5.3 -5.2 -0.5z"/><path d="M397.2 524.2l5.7 0 2.6 -5.9 -5.6 0.2z"/><path d="M475.4 469.5l6.2 -1.2 2 -6.4 -6.2 1.4z"/><path d="M427.9 505.4l6 -0.5 2.3 -6 -5.8 0.6z"/><path d="M307.4 562.2l5.2 0.9 3.5 -5.1 -5.2 -0.8z"/><path d="M467.1 477l6.2 -1.1 2.1 -6.4 -6.2 1.3z"/><path d="M366.4 540.8l5.5 0.3 2.9 -5.7 -5.5 -0.1z"/><path d="M343.9 550.3l5.4 0.6 3.1 -5.4 -5.4 -0.4z"/><path d="M419.6 511.8l5.9 -0.3 2.4 -6.1 -5.8 0.5z"/><path d="M458.8 484.2l6.1 -0.9 2.2 -6.3 -6.1 1z"/><path d="M388.8 530l5.7 0.1 2.7 -5.9 -5.6 0.1z"/><path d="M321.3 558.8l5.3 0.8 3.4 -5.2 -5.3 -0.7z"/><path d="M450.5 491.3l6.1 -0.8 2.2 -6.3 -6 1z"/><path d="M411.3 518.1l5.8 -0.2 2.5 -6.1 -5.8 0.4z"/><path d="M531.7 418.6l6.7 -2.2 1.7 -6.8 -6.7 2.4z"/><path d="M523.3 427.4l6.6 -2.1 1.8 -6.7 -6.6 2.2z"/><path d="M357.9 545.9l5.5 0.4 3 -5.5 -5.5 -0.3z"/><path d="M514.9 436l6.6 -1.9 1.8 -6.7 -6.5 2z"/><path d="M298.6 566.2l5.2 1 3.6 -5 -5.2 -0.9z"/><path d="M380.4 535.6l5.6 0.2 2.8 -5.8 -5.6 0z"/><path d="M506.6 444.4l6.5 -1.8 1.8 -6.6 -6.4 1.9z"/><path d="M442.2 498.2l6 -0.6 2.3 -6.3 -6 0.8z"/><path d="M335.3 555.1l5.4 0.6 3.2 -5.4 -5.4 -0.5z"/><path d="M498.3 452.5l6.4 -1.5 1.9 -6.6 -6.4 1.7z"/><path d="M489.9 460.5l6.4 -1.4 2 -6.6 -6.4 1.6z"/><path d="M402.9 524.2l5.8 -0.1 2.6 -6 -5.8 0.2z"/><path d="M312.6 563.1l5.3 0.9 3.4 -5.2 -5.2 -0.8z"/><path d="M433.9 504.9l5.9 -0.5 2.4 -6.2 -6 0.7z"/><path d="M481.6 468.3l6.3 -1.3 2 -6.5 -6.3 1.4z"/><path d="M371.9 541.1l5.6 0.3 2.9 -5.8 -5.6 -0.2z"/><path d="M349.3 550.9l5.5 0.6 3.1 -5.6 -5.5 -0.4z"/><path d="M473.3 475.9l6.2 -1.1 2.1 -6.5 -6.2 1.2z"/><path d="M425.5 511.5l5.9 -0.4 2.5 -6.2 -6 0.5z"/><path d="M394.5 530.1l5.7 0 2.7 -5.9 -5.7 0z"/><path d="M326.6 559.6l5.4 0.8 3.3 -5.3 -5.3 -0.7z"/><path d="M464.9 483.3l6.3 -1 2.1 -6.4 -6.2 1.1z"/><path d="M456.6 490.5l6.1 -0.8 2.2 -6.4 -6.1 0.9z"/><path d="M417.1 517.9l5.9 -0.3 2.5 -6.1 -5.9 0.3z"/><path d="M303.8 567.2l5.3 1 3.5 -5.1 -5.2 -0.9z"/><path d="M363.4 546.3l5.5 0.5 3 -5.7 -5.5 -0.3z"/><path d="M340.7 555.7l5.4 0.7 3.2 -5.5 -5.4 -0.6z"/><path d="M386 535.8l5.7 0.2 2.8 -5.9 -5.7 -0.1z"/><path d="M448.2 497.6l6.1 -0.7 2.3 -6.4 -6.1 0.8z"/><path d="M529.9 425.3l6.8 -2 1.7 -6.9 -6.7 2.2z"/><path d="M521.5 434.1l6.7 -1.9 1.7 -6.9 -6.6 2.1z"/><path d="M513.1 442.6l6.6 -1.7 1.8 -6.8 -6.6 1.9z"/><path d="M317.9 564l5.3 0.9 3.4 -5.3 -5.3 -0.8z"/><path d="M504.7 451l6.6 -1.6 1.8 -6.8 -6.5 1.8z"/><path d="M408.7 524.1l5.8 -0.1 2.6 -6.1 -5.8 0.2z"/><path d="M496.3 459.1l6.5 -1.4 1.9 -6.7 -6.4 1.5z"/><path d="M439.8 504.4l6.1 -0.5 2.3 -6.3 -6 0.6z"/><path d="M354.8 551.5l5.5 0.5 3.1 -5.7 -5.5 -0.4z"/><path d="M377.5 541.4l5.7 0.3 2.8 -5.9 -5.6 -0.2z"/><path d="M487.9 467l6.5 -1.2 1.9 -6.7 -6.4 1.4z"/><path d="M332 560.4l5.4 0.8 3.3 -5.5 -5.4 -0.6z"/><path d="M479.5 474.8l6.4 -1.1 2 -6.7 -6.3 1.3z"/><path d="M400.2 530.1l5.8 0.1 2.7 -6.1 -5.8 0.1z"/><path d="M431.4 511.1l6 -0.4 2.4 -6.3 -5.9 0.5z"/><path d="M471.2 482.3l6.3 -0.9 2 -6.6 -6.2 1.1z"/><path d="M309.1 568.2l5.3 1.1 3.5 -5.3 -5.3 -0.9z"/><path d="M368.9 546.8l5.7 0.4 2.9 -5.8 -5.6 -0.3z"/><path d="M346.1 556.4l5.5 0.7 3.2 -5.6 -5.5 -0.6z"/><path d="M423 517.6l6 -0.2 2.4 -6.3 -5.9 0.4z"/><path d="M462.7 489.7l6.3 -0.8 2.2 -6.6 -6.3 1z"/><path d="M391.7 536l5.8 0.2 2.7 -6.1 -5.7 0z"/><path d="M323.2 564.9l5.4 1 3.4 -5.5 -5.4 -0.8z"/><path d="M454.3 496.9l6.2 -0.7 2.2 -6.5 -6.1 0.8z"/><path d="M414.5 524l6 -0.1 2.5 -6.3 -5.9 0.3z"/><path d="M528.2 432.2l6.8 -2 1.7 -6.9 -6.8 2z"/><path d="M519.7 440.9l6.7 -1.8 1.8 -6.9 -6.7 1.9z"/><path d="M360.3 552l5.6 0.6 3 -5.8 -5.5 -0.5z"/><path d="M511.3 449.4l6.6 -1.7 1.8 -6.8 -6.6 1.7z"/><path d="M445.9 503.9l6.1 -0.5 2.3 -6.5 -6.1 0.7z"/><path d="M383.2 541.7l5.7 0.3 2.8 -6 -5.7 -0.2z"/><path d="M502.8 457.7l6.6 -1.5 1.9 -6.8 -6.6 1.6z"/><path d="M337.4 561.2l5.5 0.8 3.2 -5.6 -5.4 -0.7z"/><path d="M494.4 465.8l6.5 -1.3 1.9 -6.8 -6.5 1.4z"/><path d="M406 530.2l5.9 0 2.6 -6.2 -5.8 0.1z"/><path d="M437.4 510.7l6.1 -0.3 2.4 -6.5 -6.1 0.5z"/><path d="M485.9 473.7l6.4 -1.2 2.1 -6.7 -6.5 1.2z"/><path d="M314.4 569.3l5.3 1 3.5 -5.4 -5.3 -0.9z"/><path d="M477.5 481.4l6.3 -1 2.1 -6.7 -6.4 1.1z"/><path d="M374.6 547.2l5.7 0.5 2.9 -6 -5.7 -0.3z"/><path d="M351.6 557.1l5.6 0.7 3.1 -5.8 -5.5 -0.5z"/><path d="M429 517.4l6 -0.2 2.4 -6.5 -6 0.4z"/><path d="M397.5 536.2l5.8 0.1 2.7 -6.1 -5.8 -0.1z"/><path d="M469 488.9l6.3 -0.8 2.2 -6.7 -6.3 0.9z"/><path d="M328.6 565.9l5.5 0.9 3.3 -5.6 -5.4 -0.8z"/><path d="M460.5 496.2l6.3 -0.6 2.2 -6.7 -6.3 0.8z"/><path d="M420.5 523.9l6 -0.1 2.5 -6.4 -6 0.2z"/><path d="M365.9 552.6l5.7 0.6 3 -6 -5.7 -0.4z"/><path d="M388.9 542l5.8 0.3 2.8 -6.1 -5.8 -0.2z"/><path d="M342.9 562l5.5 0.9 3.2 -5.8 -5.5 -0.7z"/><path d="M452 503.4l6.3 -0.5 2.2 -6.7 -6.2 0.7z"/><path d="M526.4 439.1l6.8 -1.8 1.8 -7.1 -6.8 2z"/><path d="M517.9 447.7l6.7 -1.6 1.8 -7 -6.7 1.8z"/><path d="M509.4 456.2l6.6 -1.5 1.9 -7 -6.6 1.7z"/><path d="M411.9 530.2l6 0 2.6 -6.3 -6 0.1z"/><path d="M319.7 570.3l5.5 1.1 3.4 -5.5 -5.4 -1z"/><path d="M500.9 464.5l6.5 -1.4 2 -6.9 -6.6 1.5z"/><path d="M443.5 510.4l6.2 -0.4 2.3 -6.6 -6.1 0.5z"/><path d="M492.3 472.5l6.6 -1.1 2 -6.9 -6.5 1.3z"/><path d="M357.2 557.8l5.6 0.7 3.1 -5.9 -5.6 -0.6z"/><path d="M380.3 547.7l5.7 0.4 2.9 -6.1 -5.7 -0.3z"/><path d="M483.8 480.4l6.5 -1 2 -6.9 -6.4 1.2z"/><path d="M334.1 566.8l5.5 1 3.3 -5.8 -5.5 -0.8z"/><path d="M403.3 536.3l5.9 0.2 2.7 -6.3 -5.9 0z"/><path d="M435 517.2l6.1 -0.3 2.4 -6.5 -6.1 0.3z"/><path d="M475.3 488.1l6.4 -0.9 2.1 -6.8 -6.3 1z"/><path d="M371.6 553.2l5.7 0.6 3 -6.1 -5.7 -0.5z"/><path d="M426.5 523.8l6 -0.1 2.5 -6.5 -6 0.2z"/><path d="M466.8 495.6l6.4 -0.7 2.1 -6.8 -6.3 0.8z"/><path d="M348.4 562.9l5.6 0.8 3.2 -5.9 -5.6 -0.7z"/><path d="M394.7 542.3l5.9 0.3 2.7 -6.3 -5.8 -0.1z"/><path d="M458.3 502.9l6.3 -0.6 2.2 -6.7 -6.3 0.6z"/><path d="M325.2 571.4l5.5 1.1 3.4 -5.7 -5.5 -0.9z"/><path d="M417.9 530.2l6 0.1 2.6 -6.5 -6 0.1z"/><path d="M524.6 446.1l6.8 -1.7 1.8 -7.1 -6.8 1.8z"/><path d="M516 454.7l6.8 -1.5 1.8 -7.1 -6.7 1.6z"/><path d="M449.7 510l6.3 -0.4 2.3 -6.7 -6.3 0.5z"/><path d="M362.8 558.5l5.7 0.7 3.1 -6 -5.7 -0.6z"/><path d="M386 548.1l5.9 0.5 2.8 -6.3 -5.8 -0.3z"/><path d="M507.4 463.1l6.7 -1.3 1.9 -7.1 -6.6 1.5z"/><path d="M339.6 567.8l5.6 0.9 3.2 -5.8 -5.5 -0.9z"/><path d="M498.9 471.4l6.6 -1.2 1.9 -7.1 -6.5 1.4z"/><path d="M409.2 536.5l6 0.2 2.7 -6.5 -6 0z"/><path d="M441.1 516.9l6.2 -0.2 2.4 -6.7 -6.2 0.4z"/><path d="M490.3 479.4l6.6 -1 2 -7 -6.6 1.1z"/><path d="M481.7 487.2l6.5 -0.8 2.1 -7 -6.5 1z"/><path d="M377.3 553.8l5.8 0.6 2.9 -6.3 -5.7 -0.4z"/><path d="M354 563.7l5.7 0.9 3.1 -6.1 -5.6 -0.7z"/><path d="M432.5 523.7l6.2 -0.1 2.4 -6.7 -6.1 0.3z"/><path d="M400.6 542.6l5.9 0.4 2.7 -6.5 -5.9 -0.2z"/><path d="M473.2 494.9l6.4 -0.7 2.1 -7 -6.4 0.9z"/><path d="M330.7 572.5l5.5 1.1 3.4 -5.8 -5.5 -1z"/><path d="M464.6 502.3l6.4 -0.5 2.2 -6.9 -6.4 0.7z"/><path d="M423.9 530.3l6.1 0 2.5 -6.6 -6 0.1z"/><path d="M368.5 559.2l5.8 0.8 3 -6.2 -5.7 -0.6z"/><path d="M391.9 548.6l5.9 0.5 2.8 -6.5 -5.9 -0.3z"/><path d="M345.2 568.7l5.6 1 3.2 -6 -5.6 -0.8z"/><path d="M456 509.6l6.3 -0.4 2.3 -6.9 -6.3 0.6z"/><path d="M522.8 453.2l6.8 -1.5 1.8 -7.3 -6.8 1.7z"/><path d="M514.1 461.8l6.8 -1.3 1.9 -7.3 -6.8 1.5z"/><path d="M415.2 536.7l6.1 0.2 2.6 -6.6 -6 -0.1z"/><path d="M505.5 470.2l6.7 -1.2 1.9 -7.2 -6.7 1.3z"/><path d="M447.3 516.7l6.3 -0.2 2.4 -6.9 -6.3 0.4z"/><path d="M496.9 478.4l6.6 -1 2 -7.2 -6.6 1.2z"/><path d="M383.1 554.4l5.9 0.6 2.9 -6.4 -5.9 -0.5z"/><path d="M359.7 564.6l5.7 0.8 3.1 -6.2 -5.7 -0.7z"/><path d="M488.2 486.4l6.6 -0.9 2.1 -7.1 -6.6 1z"/><path d="M438.7 523.6l6.2 -0.1 2.4 -6.8 -6.2 0.2z"/><path d="M406.5 543l6.1 0.3 2.6 -6.6 -6 -0.2z"/><path d="M336.2 573.6l5.6 1.1 3.4 -6 -5.6 -0.9z"/><path d="M479.6 494.2l6.5 -0.7 2.1 -7.1 -6.5 0.8z"/><path d="M471 501.8l6.4 -0.6 2.2 -7 -6.4 0.7z"/><path d="M430 530.3l6.2 0.1 2.5 -6.8 -6.2 0.1z"/><path d="M374.3 560l5.9 0.7 2.9 -6.3 -5.8 -0.6z"/><path d="M350.8 569.7l5.7 1 3.2 -6.1 -5.7 -0.9z"/><path d="M397.8 549.1l6 0.4 2.7 -6.5 -5.9 -0.4z"/><path d="M462.3 509.2l6.4 -0.4 2.3 -7 -6.4 0.5z"/><path d="M421.3 536.9l6.2 0.2 2.5 -6.8 -6.1 0z"/><path d="M520.9 460.5l6.9 -1.4 1.8 -7.4 -6.8 1.5z"/><path d="M453.6 516.5l6.4 -0.3 2.3 -7 -6.3 0.4z"/><path d="M512.2 469l6.8 -1.2 1.9 -7.3 -6.8 1.3z"/><path d="M365.4 565.4l5.9 0.9 3 -6.3 -5.8 -0.8z"/><path d="M389 555l6 0.6 2.8 -6.5 -5.9 -0.5z"/><path d="M503.5 477.4l6.8 -1.1 1.9 -7.3 -6.7 1.2z"/><path d="M341.8 574.7l5.7 1.1 3.3 -6.1 -5.6 -1z"/><path d="M412.6 543.3l6.1 0.3 2.6 -6.7 -6.1 -0.2z"/><path d="M494.8 485.5l6.7 -0.9 2 -7.2 -6.6 1z"/><path d="M444.9 523.5l6.3 -0.1 2.4 -6.9 -6.3 0.2z"/><path d="M486.1 493.5l6.7 -0.7 2 -7.3 -6.6 0.9z"/><path d="M380.2 560.7l5.9 0.8 2.9 -6.5 -5.9 -0.6z"/><path d="M356.5 570.7l5.8 1 3.1 -6.3 -5.7 -0.8z"/><path d="M436.2 530.4l6.3 0 2.4 -6.9 -6.2 0.1z"/><path d="M477.4 501.2l6.6 -0.5 2.1 -7.2 -6.5 0.7z"/><path d="M403.8 549.5l6 0.5 2.8 -6.7 -6.1 -0.3z"/><path d="M468.7 508.8l6.5 -0.4 2.2 -7.2 -6.4 0.6z"/><path d="M427.5 537.1l6.2 0.2 2.5 -6.9 -6.2 -0.1z"/><path d="M371.3 566.3l5.8 0.9 3.1 -6.5 -5.9 -0.7z"/><path d="M395 555.6l6 0.6 2.8 -6.7 -6 -0.4z"/><path d="M460 516.2l6.4 -0.2 2.3 -7.2 -6.4 0.4z"/><path d="M347.5 575.8l5.8 1.2 3.2 -6.3 -5.7 -1z"/><path d="M519 467.8l6.9 -1.2 1.9 -7.5 -6.9 1.4z"/><path d="M418.7 543.6l6.1 0.4 2.7 -6.9 -6.2 -0.2z"/><path d="M510.3 476.3l6.8 -1 1.9 -7.5 -6.8 1.2z"/><path d="M451.2 523.4l6.4 -0.1 2.4 -7.1 -6.4 0.3z"/><path d="M501.5 484.6l6.8 -0.8 2 -7.5 -6.8 1.1z"/><path d="M386.1 561.5l6 0.7 2.9 -6.6 -6 -0.6z"/><path d="M362.3 571.7l5.8 1 3.2 -6.4 -5.9 -0.9z"/><path d="M492.8 492.8l6.7 -0.8 2 -7.4 -6.7 0.9z"/><path d="M442.5 530.4l6.3 0.1 2.4 -7.1 -6.3 0.1z"/><path d="M409.8 550l6.2 0.5 2.7 -6.9 -6.1 -0.3z"/><path d="M484 500.7l6.6 -0.6 2.2 -7.3 -6.7 0.7z"/><path d="M475.2 508.4l6.6 -0.4 2.2 -7.3 -6.6 0.5z"/><path d="M433.7 537.3l6.3 0.2 2.5 -7.1 -6.3 0z"/><path d="M377.1 567.2l6 0.9 3 -6.6 -5.9 -0.8z"/><path d="M401 556.2l6.1 0.6 2.7 -6.8 -6 -0.5z"/><path d="M353.3 577l5.8 1.1 3.2 -6.4 -5.8 -1z"/><path d="M466.4 516l6.6 -0.3 2.2 -7.3 -6.5 0.4z"/><path d="M424.8 544l6.3 0.3 2.6 -7 -6.2 -0.2z"/><path d="M457.6 523.3l6.5 -0.1 2.3 -7.2 -6.4 0.2z"/><path d="M517.1 475.3l6.9 -1.1 1.9 -7.6 -6.9 1.2z"/><path d="M368.1 572.7l6 1.1 3 -6.6 -5.8 -0.9z"/><path d="M392.1 562.2l6 0.8 2.9 -6.8 -6 -0.6z"/><path d="M508.3 483.8l6.9 -0.9 1.9 -7.6 -6.8 1z"/><path d="M416 550.5l6.2 0.5 2.6 -7 -6.1 -0.4z"/><path d="M499.5 492l6.8 -0.7 2 -7.5 -6.8 0.8z"/><path d="M448.8 530.5l6.5 0 2.3 -7.2 -6.4 0.1z"/><path d="M490.6 500.1l6.8 -0.6 2.1 -7.5 -6.7 0.8z"/><path d="M383.1 568.1l6 0.9 3 -6.8 -6 -0.7z"/><path d="M440 537.5l6.4 0.2 2.4 -7.2 -6.3 -0.1z"/><path d="M359.1 578.1l5.9 1.2 3.1 -6.6 -5.8 -1z"/><path d="M481.8 508l6.7 -0.4 2.1 -7.5 -6.6 0.6z"/><path d="M407.1 556.8l6.1 0.6 2.8 -6.9 -6.2 -0.5z"/><path d="M473 515.7l6.6 -0.3 2.2 -7.4 -6.6 0.4z"/><path d="M431.1 544.3l6.3 0.4 2.6 -7.2 -6.3 -0.2z"/><path d="M374.1 573.8l6 1 3 -6.7 -6 -0.9z"/><path d="M464.1 523.2l6.6 -0.1 2.3 -7.4 -6.6 0.3z"/><path d="M398.1 563l6.2 0.8 2.8 -7 -6.1 -0.6z"/><path d="M515.2 482.9l6.9 -1 1.9 -7.7 -6.9 1.1z"/><path d="M422.2 551l6.3 0.5 2.6 -7.2 -6.3 -0.3z"/><path d="M455.3 530.5l6.5 0.1 2.3 -7.4 -6.5 0.1z"/><path d="M506.3 491.3l6.9 -0.8 2 -7.6 -6.9 0.9z"/><path d="M389.1 569l6.1 0.9 2.9 -6.9 -6 -0.8z"/><path d="M497.4 499.5l6.8 -0.5 2.1 -7.7 -6.8 0.7z"/><path d="M365 579.3l5.9 1.2 3.2 -6.7 -6 -1.1z"/><path d="M446.4 537.7l6.4 0.2 2.5 -7.4 -6.5 0z"/><path d="M413.2 557.4l6.3 0.7 2.7 -7.1 -6.2 -0.5z"/><path d="M488.5 507.6l6.8 -0.4 2.1 -7.7 -6.8 0.6z"/><path d="M479.6 515.4l6.7 -0.2 2.2 -7.6 -6.7 0.4z"/><path d="M437.4 544.7l6.5 0.3 2.5 -7.3 -6.4 -0.2z"/><path d="M380.1 574.8l6 1.1 3 -6.9 -6 -0.9z"/><path d="M404.3 563.8l6.2 0.7 2.7 -7.1 -6.1 -0.6z"/><path d="M470.7 523.1l6.7 -0.1 2.2 -7.6 -6.6 0.3z"/><path d="M428.5 551.5l6.4 0.5 2.5 -7.3 -6.3 -0.4z"/><path d="M461.8 530.6l6.6 0.1 2.3 -7.6 -6.6 0.1z"/><path d="M513.2 490.5l7 -0.7 1.9 -7.9 -6.9 1z"/><path d="M395.2 569.9l6.2 0.9 2.9 -7 -6.2 -0.8z"/><path d="M370.9 580.5l6.1 1.2 3.1 -6.9 -6 -1z"/><path d="M504.2 499l7 -0.6 2 -7.9 -6.9 0.8z"/><path d="M419.5 558.1l6.3 0.6 2.7 -7.2 -6.3 -0.5z"/><path d="M452.8 537.9l6.6 0.2 2.4 -7.5 -6.5 -0.1z"/><path d="M495.3 507.2l6.9 -0.5 2 -7.7 -6.8 0.5z"/><path d="M386.1 575.9l6.2 1 2.9 -7 -6.1 -0.9z"/><path d="M443.9 545l6.5 0.4 2.4 -7.5 -6.4 -0.2z"/><path d="M486.3 515.2l6.8 -0.3 2.2 -7.7 -6.8 0.4z"/><path d="M410.5 564.5l6.3 0.8 2.7 -7.2 -6.3 -0.7z"/><path d="M477.4 523l6.7 -0.1 2.2 -7.7 -6.7 0.2z"/><path d="M434.9 552l6.4 0.5 2.6 -7.5 -6.5 -0.3z"/><path d="M468.4 530.7l6.7 0 2.3 -7.7 -6.7 0.1z"/><path d="M377 581.7l6.1 1.2 3 -7 -6 -1.1z"/><path d="M401.4 570.8l6.2 1 2.9 -7.3 -6.2 -0.7z"/><path d="M425.8 558.7l6.4 0.7 2.7 -7.4 -6.4 -0.5z"/><path d="M459.4 538.1l6.6 0.2 2.4 -7.6 -6.6 -0.1z"/><path d="M511.2 498.4l7 -0.6 2 -8 -7 0.7z"/><path d="M502.2 506.7l6.9 -0.4 2.1 -7.9 -7 0.6z"/><path d="M392.3 576.9l6.2 1.1 2.9 -7.2 -6.2 -0.9z"/><path d="M450.4 545.4l6.6 0.3 2.4 -7.6 -6.6 -0.2z"/><path d="M416.8 565.3l6.3 0.8 2.7 -7.4 -6.3 -0.6z"/><path d="M493.1 514.9l6.9 -0.2 2.2 -8 -6.9 0.5z"/><path d="M484.1 522.9l6.9 -0.1 2.1 -7.9 -6.8 0.3z"/><path d="M441.3 552.5l6.6 0.5 2.5 -7.6 -6.5 -0.4z"/><path d="M383.1 582.9l6.1 1.2 3.1 -7.2 -6.2 -1z"/><path d="M407.6 571.8l6.4 0.9 2.8 -7.4 -6.3 -0.8z"/><path d="M475.1 530.7l6.8 0.1 2.2 -7.9 -6.7 0.1z"/><path d="M432.2 559.4l6.5 0.7 2.6 -7.6 -6.4 -0.5z"/><path d="M466 538.3l6.8 0.2 2.3 -7.8 -6.7 0z"/><path d="M398.5 578l6.3 1.1 2.8 -7.3 -6.2 -1z"/><path d="M509.1 506.3l7.1 -0.4 2 -8.1 -7 0.6z"/><path d="M457 545.7l6.6 0.4 2.4 -7.8 -6.6 -0.2z"/><path d="M423.1 566.1l6.5 0.8 2.6 -7.5 -6.4 -0.7z"/><path d="M500 514.7l7.1 -0.3 2 -8.1 -6.9 0.4z"/><path d="M447.9 553l6.6 0.5 2.5 -7.8 -6.6 -0.3z"/><path d="M491 522.8l6.9 -0.1 2.1 -8 -6.9 0.2z"/><path d="M389.2 584.1l6.3 1.2 3 -7.3 -6.2 -1.1z"/><path d="M414 572.7l6.4 1 2.7 -7.6 -6.3 -0.8z"/><path d="M481.9 530.8l6.9 0 2.2 -8 -6.9 0.1z"/><path d="M438.7 560.1l6.6 0.6 2.6 -7.7 -6.6 -0.5z"/><path d="M472.8 538.5l6.8 0.2 2.3 -7.9 -6.8 -0.1z"/><path d="M404.8 579.1l6.3 1.1 2.9 -7.5 -6.4 -0.9z"/><path d="M429.6 566.9l6.5 0.9 2.6 -7.7 -6.5 -0.7z"/><path d="M463.6 546.1l6.8 0.4 2.4 -8 -6.8 -0.2z"/><path d="M507.1 514.4l7 -0.3 2.1 -8.2 -7.1 0.4z"/><path d="M395.5 585.3l6.3 1.3 3 -7.5 -6.3 -1.1z"/><path d="M454.5 553.5l6.7 0.5 2.4 -7.9 -6.6 -0.4z"/><path d="M497.9 522.7l7 -0.1 2.2 -8.2 -7.1 0.3z"/><path d="M420.4 573.7l6.5 0.9 2.7 -7.7 -6.5 -0.8z"/><path d="M488.8 530.8l6.9 0.1 2.2 -8.2 -6.9 0.1z"/><path d="M445.3 560.7l6.7 0.7 2.5 -7.9 -6.6 -0.5z"/><path d="M411.1 580.2l6.5 1.1 2.8 -7.6 -6.4 -1z"/><path d="M479.6 538.7l6.9 0.3 2.3 -8.2 -6.9 0z"/><path d="M436.1 567.8l6.6 0.8 2.6 -7.9 -6.6 -0.6z"/><path d="M470.4 546.5l6.9 0.4 2.3 -8.2 -6.8 -0.2z"/><path d="M401.8 586.6l6.4 1.3 2.9 -7.7 -6.3 -1.1z"/><path d="M461.2 554l6.8 0.6 2.4 -8.1 -6.8 -0.4z"/><path d="M426.9 574.6l6.5 1 2.7 -7.8 -6.5 -0.9z"/><path d="M504.9 522.6l7.2 -0.1 2 -8.4 -7 0.3z"/><path d="M495.7 530.9l7.1 0 2.1 -8.3 -7 0.1z"/><path d="M452 561.4l6.7 0.7 2.5 -8.1 -6.7 -0.5z"/><path d="M417.6 581.3l6.5 1.2 2.8 -7.9 -6.5 -0.9z"/><path d="M486.5 539l7 0.2 2.2 -8.3 -6.9 -0.1z"/><path d="M442.7 568.6l6.7 0.9 2.6 -8.1 -6.7 -0.7z"/><path d="M477.3 546.9l6.9 0.3 2.3 -8.2 -6.9 -0.3z"/><path d="M408.2 587.9l6.5 1.2 2.9 -7.8 -6.5 -1.1z"/><path d="M433.4 575.6l6.7 1 2.6 -8 -6.6 -0.8z"/><path d="M468 554.6l6.9 0.5 2.4 -8.2 -6.9 -0.4z"/><path d="M458.7 562.1l6.9 0.7 2.4 -8.2 -6.8 -0.6z"/><path d="M502.8 530.9l7.2 0.1 2.1 -8.5 -7.2 0.1z"/><path d="M424.1 582.5l6.6 1.1 2.7 -8 -6.5 -1z"/><path d="M493.5 539.2l7.1 0.2 2.2 -8.5 -7.1 0z"/><path d="M449.4 569.5l6.8 0.8 2.5 -8.2 -6.7 -0.7z"/><path d="M484.2 547.2l7.1 0.4 2.2 -8.4 -7 -0.2z"/><path d="M414.7 589.1l6.6 1.3 2.8 -7.9 -6.5 -1.2z"/><path d="M440.1 576.6l6.7 1 2.6 -8.1 -6.7 -0.9z"/><path d="M474.9 555.1l7 0.6 2.3 -8.5 -6.9 -0.3z"/><path d="M465.6 562.8l6.9 0.7 2.4 -8.4 -6.9 -0.5z"/><path d="M430.7 583.6l6.7 1.2 2.7 -8.2 -6.7 -1z"/><path d="M500.6 539.4l7.2 0.2 2.2 -8.6 -7.2 -0.1z"/><path d="M456.2 570.3l6.9 0.9 2.5 -8.4 -6.9 -0.7z"/><path d="M421.3 590.4l6.6 1.4 2.8 -8.2 -6.6 -1.1z"/><path d="M491.3 547.6l7.1 0.4 2.2 -8.6 -7.1 -0.2z"/><path d="M446.8 577.6l6.8 1.1 2.6 -8.4 -6.8 -0.8z"/><path d="M481.9 555.7l7.1 0.5 2.3 -8.6 -7.1 -0.4z"/><path d="M437.4 584.8l6.8 1.2 2.6 -8.4 -6.7 -1z"/><path d="M472.5 563.5l7 0.7 2.4 -8.5 -7 -0.6z"/><path d="M463.1 571.2l7 0.9 2.4 -8.6 -6.9 -0.7z"/><path d="M427.9 591.8l6.8 1.3 2.7 -8.3 -6.7 -1.2z"/><path d="M498.4 548l7.2 0.4 2.2 -8.8 -7.2 -0.2z"/><path d="M453.6 578.7l7 1 2.5 -8.5 -6.9 -0.9z"/><path d="M489 556.2l7.1 0.6 2.3 -8.8 -7.1 -0.4z"/><path d="M444.2 586l6.8 1.2 2.6 -8.5 -6.8 -1.1z"/><path d="M479.5 564.2l7.1 0.8 2.4 -8.8 -7.1 -0.5z"/><path d="M470.1 572.1l7 0.8 2.4 -8.7 -7 -0.7z"/><path d="M434.7 593.1l6.8 1.3 2.7 -8.4 -6.8 -1.2z"/><path d="M460.6 579.7l7 1 2.5 -8.6 -7 -0.9z"/><path d="M496.1 556.8l7.3 0.6 2.2 -9 -7.2 -0.4z"/><path d="M451 587.2l7 1.2 2.6 -8.7 -7 -1z"/><path d="M486.6 565l7.3 0.7 2.2 -8.9 -7.1 -0.6z"/><path d="M477.1 572.9l7.2 1 2.3 -8.9 -7.1 -0.8z"/><path d="M441.5 594.4l6.9 1.4 2.6 -8.6 -6.8 -1.2z"/><path d="M467.6 580.7l7.1 1.1 2.4 -8.9 -7 -0.8z"/><path d="M458 588.4l7 1.2 2.6 -8.9 -7 -1z"/><path d="M493.9 565.7l7.3 0.7 2.2 -9 -7.3 -0.6z"/><path d="M448.4 595.8l7 1.4 2.6 -8.8 -7 -1.2z"/><path d="M484.3 573.9l7.2 0.9 2.4 -9.1 -7.3 -0.7z"/><path d="M474.7 581.8l7.2 1.1 2.4 -9 -7.2 -1z"/><path d="M465 589.6l7.2 1.2 2.5 -9 -7.1 -1.1z"/><path d="M455.4 597.2l7.1 1.4 2.5 -9 -7 -1.2z"/><path d="M491.5 574.8l7.4 0.9 2.3 -9.3 -7.3 -0.7z"/><path d="M481.9 582.9l7.3 1.1 2.3 -9.2 -7.2 -0.9z"/><path d="M472.2 590.8l7.2 1.3 2.5 -9.2 -7.2 -1.1z"/><path d="M462.5 598.6l7.1 1.4 2.6 -9.2 -7.2 -1.2z"/><path d="M489.2 584l7.3 1.1 2.4 -9.4 -7.4 -0.9z"/><path d="M479.4 592.1l7.3 1.3 2.5 -9.4 -7.3 -1.1z"/><path d="M469.6 600l7.3 1.5 2.5 -9.4 -7.2 -1.3z"/><path d="M486.7 593.4l7.5 1.3 2.3 -9.6 -7.3 -1.1z"/><path d="M476.9 601.5l7.4 1.4 2.4 -9.5 -7.3 -1.3z"/><path d="M484.3 602.9l7.5 1.5 2.4 -9.7 -7.5 -1.3z"/></g>
<path class="ln dt" d="M173.5 279.5L515 298.2M487.5 660.6L515 298.2M515 298.2L575.3 267.6"/>
<g class="pt"><circle cx="237" cy="531.2" r="7"/><circle cx="267" cy="528.3" r="7"/><circle cx="280" cy="573.7" r="7"/><circle cx="315" cy="483" r="7"/><circle cx="335.3" cy="472.5" r="7"/><circle cx="344.2" cy="473.5" r="7"/><circle cx="362.7" cy="453.5" r="7"/><circle cx="376.2" cy="446.9" r="7"/><circle cx="385" cy="440" r="7"/><circle cx="391.2" cy="450" r="7"/><circle cx="386.2" cy="456.9" r="7"/><circle cx="373" cy="468.3" r="7"/><circle cx="360.7" cy="488.4" r="7"/><circle cx="334.2" cy="507.5" r="7"/><circle cx="351.8" cy="517.5" r="7"/><circle cx="366.5" cy="502.5" r="7"/><circle cx="369.3" cy="507" r="7"/><circle cx="391" cy="412.9" r="7"/><circle cx="396" cy="487.2" r="7"/><circle cx="415.1" cy="521.8" r="7"/><circle cx="388.9" cy="534.7" r="7"/><circle cx="421" cy="592.6" r="7"/><circle cx="485.9" cy="542.7" r="7"/><circle cx="456.2" cy="501.1" r="7"/><circle cx="462" cy="491.3" r="7"/><circle cx="467.3" cy="483.4" r="7"/><circle cx="418.8" cy="416.2" r="7"/><circle cx="415" cy="430" r="7"/><circle cx="410" cy="437.5" r="7"/><circle cx="421.2" cy="441.2" r="7"/><circle cx="415" cy="451.2" r="7"/><circle cx="410" cy="457.5" r="7"/><circle cx="402.5" cy="467.5" r="7"/><circle cx="402.5" cy="467.5" r="7"/><circle cx="425.8" cy="400.7" r="7"/><circle cx="436.8" cy="400" r="7"/><circle cx="440" cy="411" r="7"/><circle cx="437.2" cy="427" r="7"/><circle cx="431.5" cy="451.2" r="7"/><circle cx="438.6" cy="459.3" r="7"/><circle cx="464.5" cy="387.6" r="7"/><circle cx="460.8" cy="397.1" r="7"/><circle cx="471" cy="405.1" r="7"/><circle cx="478.3" cy="401.5" r="7"/><circle cx="487.1" cy="379.6" r="7"/><circle cx="499.5" cy="401.5" r="7"/><circle cx="490.7" cy="427.7" r="7"/><circle cx="498.8" cy="444.5" r="7"/><circle cx="487.8" cy="340.9" r="7"/><circle cx="509" cy="346.9" r="7"/><circle cx="516.7" cy="346.9" r="7"/><circle cx="532.3" cy="339.8" r="7"/><circle cx="532.6" cy="350.1" r="7"/><circle cx="549.8" cy="354.6" r="7"/><circle cx="538.1" cy="390.5" r="7"/><circle cx="553.8" cy="299.6" r="7"/></g>
<path class="ln" d="M237 531.2L238 535M267 528.1L267 528.5M280 573.7L280 563M315 483L316 491M335.3 472.5L335.8 479.5M344.2 473.5L345 481.5M362.7 453.3L362.7 453.7M376.2 446.9L377 453M385 440L385 448M391.2 449.8L391.2 450.2M386.2 456.7L386.2 457.1M373 468.3L374.5 470.5M360.7 488.2L360.7 488.6M334.2 507.5L334.2 504M351.8 517.5L351 515M366.5 502.5L366.9 512.5M369.3 507L369 498M391 412.9L391.9 424.4M396 487L396 487.4M415.1 521.6L415.1 522M388.9 534.7L388.9 548M421 592.4L421 592.8M485.9 542.7L485.9 556.8M456.2 501.1L456.5 492M462 491.3L462.5 476M467.3 483.4L466.5 461.2M418.8 416.2L418.8 422.5M415 430L415 419M410 437.5L410 446M421.2 441.2L421.9 436M415 451.1L415 451.4M410 457.5L411.9 466M402.5 467.5L401.9 476M402.5 467.5L401.9 456M425.8 400.7L425.8 407.5M436.8 399.8L436.8 400.2M440 411L440.4 407M437.2 427L437.5 422M431.5 451.2L431.5 445M438.6 459.3L439 453M464.5 387.6L464.5 381M460.8 397.1L461.2 393M471 404.9L471 405.3M478.3 401.3L478.3 401.7M487.1 379.6L487.1 375M499.5 401.5L499.5 408.8M490.7 427.7L490.7 422M498.8 444.5L498.8 451M487.8 340.9L487.8 347.5M509 346.9L509 352M516.7 346.9L516.7 352M532.3 339.8L532.3 335.5M532.6 350.1L532.3 355M549.8 354.6L550.5 356M538.1 390.5L538.1 397M553.8 299.6L553.8 307"/>
</g>
<g>
<path class="ln" d="M873.5 501.6L845.5 270M873.5 501.6L1059.7 454.2M873.5 501.6L961.3 659.5M845.5 270L1064.7 262.1M1059.7 454.2L1064.7 262.1M1059.7 454.2L1206.7 551.5M1064.7 262.1L1247.3 278.7M961.3 659.5L1206.7 551.5M1206.7 551.5L1247.3 278.7"/>
<path class="ln" d="M874.8 523.4L948.8 666M943 647.7L948.8 666L937.1 650.7"/>
<g transform="translate(896.9 590.5) rotate(62.55)"><text x="0" y="-6.7" text-anchor="middle">Time spent</text><text x="0" y="31.7" text-anchor="middle">with partner</text></g>
<path class="ln" d="M982.2 667.8L1212.1 562.5M1193.5 567.3L1212.1 562.5L1196.3 573.4"/>
<g transform="translate(1119.7 620.6) rotate(-24.61)"><text x="0" y="12.5" text-anchor="middle">Relationship Quality</text></g>
<path class="ln" d="M860.8 467L837.3 282.2M836.4 301.4L837.3 282.2L843 300.5"/>
<g transform="translate(840.8 380) rotate(82.75)"><text x="0" y="12.5" text-anchor="middle">Wellbeing</text></g>
<g class="sf"><path d="M1056.6 454.8l2.2 -2 3.1 -0.7 -2.2 2.1z"/><path d="M1053.4 455.3l2.2 -1.9 3.2 -0.6 -2.2 2z"/><path d="M1050.2 455.9l2.2 -1.9 3.2 -0.6 -2.2 1.9z"/><path d="M1058.8 452.8l2.2 -2.1 3.2 -0.7 -2.3 2.1z"/><path d="M1047 456.5l2.1 -1.9 3.3 -0.6 -2.2 1.9z"/><path d="M1055.6 453.4l2.2 -2 3.2 -0.7 -2.2 2.1z"/><path d="M1043.8 457l2.1 -1.7 3.2 -0.7 -2.1 1.9z"/><path d="M1052.4 454l2.1 -1.9 3.3 -0.7 -2.2 2z"/><path d="M1061 450.7l2.2 -2 3.2 -0.8 -2.2 2.1z"/><path d="M1040.5 457.6l2.1 -1.7 3.3 -0.6 -2.1 1.7z"/><path d="M1049.1 454.6l2.2 -1.8 3.2 -0.7 -2.1 1.9z"/><path d="M1057.8 451.4l2.2 -2 3.2 -0.7 -2.2 2z"/><path d="M1037.2 458.2l2.1 -1.6 3.3 -0.7 -2.1 1.7z"/><path d="M1045.9 455.3l2.1 -1.8 3.3 -0.7 -2.2 1.8z"/><path d="M1054.5 452.1l2.2 -1.9 3.3 -0.8 -2.2 2z"/><path d="M1033.9 458.8l2 -1.6 3.4 -0.6 -2.1 1.6z"/><path d="M1063.2 448.7l2.3 -2.1 3.2 -0.8 -2.3 2.1z"/><path d="M1042.6 455.9l2.1 -1.7 3.3 -0.7 -2.1 1.8z"/><path d="M1051.3 452.8l2.2 -1.9 3.2 -0.7 -2.2 1.9z"/><path d="M1030.6 459.4l2 -1.5 3.3 -0.7 -2 1.6z"/><path d="M1060 449.4l2.3 -2 3.2 -0.8 -2.3 2.1z"/><path d="M1039.3 456.6l2.1 -1.7 3.3 -0.7 -2.1 1.7z"/><path d="M1048 453.5l2.2 -1.8 3.3 -0.8 -2.2 1.9z"/><path d="M1056.7 450.2l2.3 -2 3.3 -0.8 -2.3 2z"/><path d="M1027.2 460l2 -1.4 3.4 -0.7 -2 1.5z"/><path d="M1035.9 457.2l2.1 -1.6 3.4 -0.7 -2.1 1.7z"/><path d="M1065.5 446.6l2.4 -2.2 3.2 -0.9 -2.4 2.3z"/><path d="M1044.7 454.2l2.1 -1.7 3.4 -0.8 -2.2 1.8z"/><path d="M1053.5 450.9l2.2 -1.9 3.3 -0.8 -2.3 2z"/><path d="M1023.8 460.6l2 -1.4 3.4 -0.6 -2 1.4z"/><path d="M1032.6 457.9l2 -1.5 3.4 -0.8 -2.1 1.6z"/><path d="M1062.3 447.4l2.3 -2.1 3.3 -0.9 -2.4 2.2z"/><path d="M1041.4 454.9l2.1 -1.7 3.3 -0.7 -2.1 1.7z"/><path d="M1050.2 451.7l2.2 -1.9 3.3 -0.8 -2.2 1.9z"/><path d="M1020.4 461.2l1.9 -1.3 3.5 -0.7 -2 1.4z"/><path d="M1029.2 458.6l2 -1.5 3.4 -0.7 -2 1.5z"/><path d="M1059 448.2l2.3 -2 3.3 -0.9 -2.3 2.1z"/><path d="M1038 455.6l2.1 -1.6 3.4 -0.8 -2.1 1.7z"/><path d="M1067.9 444.4l2.3 -2.2 3.3 -0.9 -2.4 2.2z"/><path d="M1046.8 452.5l2.2 -1.8 3.4 -0.9 -2.2 1.9z"/><path d="M1017 461.8l1.9 -1.2 3.4 -0.7 -1.9 1.3z"/><path d="M1025.8 459.2l2 -1.4 3.4 -0.7 -2 1.5z"/><path d="M1055.7 449l2.3 -1.9 3.3 -0.9 -2.3 2z"/><path d="M1034.6 456.4l2.1 -1.6 3.4 -0.8 -2.1 1.6z"/><path d="M1064.6 445.3l2.3 -2.1 3.3 -1 -2.3 2.2z"/><path d="M1043.5 453.2l2.1 -1.7 3.4 -0.8 -2.2 1.8z"/><path d="M1013.5 462.5l1.9 -1.2 3.5 -0.7 -1.9 1.2z"/><path d="M1052.4 449.8l2.2 -1.8 3.4 -0.9 -2.3 1.9z"/><path d="M1022.3 459.9l2 -1.3 3.5 -0.8 -2 1.4z"/><path d="M1031.2 457.1l2.1 -1.5 3.4 -0.8 -2.1 1.6z"/><path d="M1061.3 446.2l2.3 -2.1 3.3 -0.9 -2.3 2.1z"/><path d="M1040.1 454l2.1 -1.6 3.4 -0.9 -2.1 1.7z"/><path d="M1010 463.1l1.9 -1.1 3.5 -0.7 -1.9 1.2z"/><path d="M1070.2 442.2l2.5 -2.2 3.3 -1 -2.5 2.3z"/><path d="M1049 450.7l2.2 -1.8 3.4 -0.9 -2.2 1.8z"/><path d="M1018.9 460.6l1.9 -1.3 3.5 -0.7 -2 1.3z"/><path d="M1027.8 457.8l2 -1.4 3.5 -0.8 -2.1 1.5z"/><path d="M1058 447.1l2.3 -2 3.3 -1 -2.3 2.1z"/><path d="M1036.7 454.8l2.1 -1.6 3.4 -0.8 -2.1 1.6z"/><path d="M1006.5 463.7l1.8 -1 3.6 -0.7 -1.9 1.1z"/><path d="M1066.9 443.2l2.4 -2.2 3.4 -1 -2.5 2.2z"/><path d="M1045.6 451.5l2.2 -1.7 3.4 -0.9 -2.2 1.8z"/><path d="M1015.4 461.3l1.9 -1.2 3.5 -0.8 -1.9 1.3z"/><path d="M1024.3 458.6l2 -1.4 3.5 -0.8 -2 1.4z"/><path d="M1054.6 448l2.3 -2 3.4 -0.9 -2.3 2z"/><path d="M1033.3 455.6l2.1 -1.5 3.4 -0.9 -2.1 1.6z"/><path d="M1063.6 444.1l2.4 -2.1 3.3 -1 -2.4 2.2z"/><path d="M1002.9 464.3l1.8 -0.9 3.6 -0.7 -1.8 1z"/><path d="M1042.2 452.4l2.2 -1.7 3.4 -0.9 -2.2 1.7z"/><path d="M1011.9 462l1.9 -1.2 3.5 -0.7 -1.9 1.2z"/><path d="M1020.8 459.3l2 -1.3 3.5 -0.8 -2 1.4z"/><path d="M1051.2 448.9l2.3 -1.9 3.4 -1 -2.3 2z"/><path d="M1072.7 440l2.4 -2.3 3.4 -1 -2.5 2.3z"/><path d="M1029.8 456.4l2.1 -1.5 3.5 -0.8 -2.1 1.5z"/><path d="M1060.3 445.1l2.3 -2.1 3.4 -1 -2.4 2.1z"/><path d="M1038.8 453.2l2.2 -1.6 3.4 -0.9 -2.2 1.7z"/><path d="M999.3 465l1.8 -0.9 3.6 -0.7 -1.8 0.9z"/><path d="M1008.3 462.7l1.9 -1.1 3.6 -0.8 -1.9 1.2z"/><path d="M1069.3 441l2.5 -2.2 3.3 -1.1 -2.4 2.3z"/><path d="M1047.8 449.8l2.3 -1.8 3.4 -1 -2.3 1.9z"/><path d="M1017.3 460.1l2 -1.3 3.5 -0.8 -2 1.3z"/><path d="M1026.3 457.2l2.1 -1.4 3.5 -0.9 -2.1 1.5z"/><path d="M1056.9 446l2.3 -1.9 3.4 -1.1 -2.3 2.1z"/><path d="M1035.4 454.1l2.1 -1.6 3.5 -0.9 -2.2 1.6z"/><path d="M995.7 465.6l1.8 -0.8 3.6 -0.7 -1.8 0.9z"/><path d="M1004.7 463.4l1.9 -1 3.6 -0.8 -1.9 1.1z"/><path d="M1066 442l2.4 -2.1 3.4 -1.1 -2.5 2.2z"/><path d="M1044.4 450.7l2.2 -1.7 3.5 -1 -2.3 1.8z"/><path d="M1013.8 460.8l1.9 -1.1 3.6 -0.9 -2 1.3z"/><path d="M1022.8 458l2 -1.3 3.6 -0.9 -2.1 1.4z"/><path d="M1053.5 447l2.3 -1.9 3.4 -1 -2.3 1.9z"/><path d="M1075.1 437.7l2.6 -2.3 3.3 -1.1 -2.5 2.4z"/><path d="M1031.9 454.9l2.1 -1.4 3.5 -1 -2.1 1.6z"/><path d="M992.1 466.3l1.7 -0.8 3.7 -0.7 -1.8 0.8z"/><path d="M1001.1 464.1l1.9 -1 3.6 -0.7 -1.9 1z"/><path d="M1062.6 443l2.4 -2 3.4 -1.1 -2.4 2.1z"/><path d="M1041 451.6l2.1 -1.6 3.5 -1 -2.2 1.7z"/><path d="M1010.2 461.6l1.9 -1.1 3.6 -0.8 -1.9 1.1z"/><path d="M1019.3 458.8l2 -1.2 3.5 -0.9 -2 1.3z"/><path d="M1050.1 448l2.3 -1.8 3.4 -1.1 -2.3 1.9z"/><path d="M1071.8 438.8l2.5 -2.2 3.4 -1.2 -2.6 2.3z"/><path d="M1028.4 455.8l2 -1.4 3.6 -0.9 -2.1 1.4z"/><path d="M988.4 466.9l1.7 -0.7 3.7 -0.7 -1.7 0.8z"/><path d="M1059.2 444.1l2.4 -2 3.4 -1.1 -2.4 2z"/><path d="M997.5 464.8l1.8 -0.9 3.7 -0.8 -1.9 1z"/><path d="M1037.5 452.5l2.1 -1.6 3.5 -0.9 -2.1 1.6z"/><path d="M1006.6 462.4l1.9 -1.1 3.6 -0.8 -1.9 1.1z"/><path d="M1015.7 459.7l2 -1.2 3.6 -0.9 -2 1.2z"/><path d="M1046.6 449l2.3 -1.8 3.5 -1 -2.3 1.8z"/><path d="M1068.4 439.9l2.5 -2.2 3.4 -1.1 -2.5 2.2z"/><path d="M1024.8 456.7l2.1 -1.3 3.5 -1 -2 1.4z"/><path d="M984.7 467.6l1.7 -0.6 3.7 -0.8 -1.7 0.7z"/><path d="M1055.8 445.1l2.3 -1.9 3.5 -1.1 -2.4 2z"/><path d="M993.8 465.5l1.8 -0.8 3.7 -0.8 -1.8 0.9z"/><path d="M1034 453.5l2.1 -1.5 3.5 -1.1 -2.1 1.6z"/><path d="M1077.7 435.4l2.5 -2.3 3.4 -1.2 -2.6 2.4z"/><path d="M1003 463.1l1.8 -0.9 3.7 -0.9 -1.9 1.1z"/><path d="M1012.1 460.5l2 -1.1 3.6 -0.9 -2 1.2z"/><path d="M1065 441l2.5 -2.1 3.4 -1.2 -2.5 2.2z"/><path d="M1043.1 450l2.3 -1.7 3.5 -1.1 -2.3 1.8z"/><path d="M1021.3 457.6l2 -1.3 3.6 -0.9 -2.1 1.3z"/><path d="M1052.4 446.2l2.3 -1.9 3.4 -1.1 -2.3 1.9z"/><path d="M981 468.3l1.6 -0.6 3.8 -0.7 -1.7 0.6z"/><path d="M1074.3 436.6l2.5 -2.3 3.4 -1.2 -2.5 2.3z"/><path d="M1030.4 454.4l2.2 -1.4 3.5 -1 -2.1 1.5z"/><path d="M990.1 466.2l1.8 -0.7 3.7 -0.8 -1.8 0.8z"/><path d="M999.3 463.9l1.8 -0.9 3.7 -0.8 -1.8 0.9z"/><path d="M1061.6 442.1l2.4 -2 3.5 -1.2 -2.5 2.1z"/><path d="M1039.6 450.9l2.2 -1.6 3.6 -1 -2.3 1.7z"/><path d="M1008.5 461.3l1.9 -1 3.7 -0.9 -2 1.1z"/><path d="M1017.7 458.5l2 -1.2 3.6 -1 -2 1.3z"/><path d="M1048.9 447.2l2.3 -1.8 3.5 -1.1 -2.3 1.9z"/><path d="M1070.9 437.7l2.5 -2.2 3.4 -1.2 -2.5 2.3z"/><path d="M1026.9 455.4l2.1 -1.4 3.6 -1 -2.2 1.4z"/><path d="M977.2 468.9l1.7 -0.5 3.7 -0.7 -1.6 0.6z"/><path d="M986.4 467l1.7 -0.7 3.8 -0.8 -1.8 0.7z"/><path d="M995.6 464.7l1.8 -0.8 3.7 -0.9 -1.8 0.9z"/><path d="M1058.1 443.2l2.4 -2 3.5 -1.1 -2.4 2z"/><path d="M1036.1 452l2.2 -1.6 3.5 -1.1 -2.2 1.6z"/><path d="M1004.8 462.2l1.9 -1 3.7 -0.9 -1.9 1z"/><path d="M1080.2 433.1l2.6 -2.4 3.4 -1.3 -2.6 2.5z"/><path d="M1014.1 459.4l1.9 -1.1 3.7 -1 -2 1.2z"/><path d="M1045.4 448.3l2.2 -1.7 3.6 -1.2 -2.3 1.8z"/><path d="M1067.5 438.9l2.4 -2.2 3.5 -1.2 -2.5 2.2z"/><path d="M1023.3 456.3l2.1 -1.3 3.6 -1 -2.1 1.4z"/><path d="M973.4 469.6l1.6 -0.4 3.9 -0.8 -1.7 0.5z"/><path d="M982.6 467.7l1.8 -0.6 3.7 -0.8 -1.7 0.7z"/><path d="M1054.7 444.3l2.3 -1.9 3.5 -1.2 -2.4 2z"/><path d="M991.9 465.5l1.8 -0.7 3.7 -0.9 -1.8 0.8z"/><path d="M1032.6 453l2.1 -1.5 3.6 -1.1 -2.2 1.6z"/><path d="M1076.8 434.3l2.6 -2.3 3.4 -1.3 -2.6 2.4z"/><path d="M1001.1 463l1.9 -0.9 3.7 -0.9 -1.9 1z"/><path d="M1010.4 460.3l2 -1.1 3.6 -0.9 -1.9 1.1z"/><path d="M1041.8 449.3l2.3 -1.6 3.5 -1.1 -2.2 1.7z"/><path d="M1064 440.1l2.5 -2.1 3.4 -1.3 -2.4 2.2z"/><path d="M1019.7 457.3l2 -1.2 3.7 -1.1 -2.1 1.3z"/><path d="M969.6 470.3l1.6 -0.4 3.8 -0.7 -1.6 0.4z"/><path d="M978.9 468.4l1.7 -0.5 3.8 -0.8 -1.8 0.6z"/><path d="M1051.2 445.4l2.3 -1.8 3.5 -1.2 -2.3 1.9z"/><path d="M988.1 466.3l1.8 -0.7 3.8 -0.8 -1.8 0.7z"/><path d="M1029 454l2.1 -1.4 3.6 -1.1 -2.1 1.5z"/><path d="M1073.4 435.5l2.6 -2.2 3.4 -1.3 -2.6 2.3z"/><path d="M997.4 463.9l1.9 -0.8 3.7 -1 -1.9 0.9z"/><path d="M1006.7 461.2l2 -1 3.7 -1 -2 1.1z"/><path d="M1038.3 450.4l2.2 -1.5 3.6 -1.2 -2.3 1.6z"/><path d="M1060.5 441.2l2.5 -2 3.5 -1.2 -2.5 2.1z"/><path d="M1016 458.3l2.1 -1.2 3.6 -1 -2 1.2z"/><path d="M1082.8 430.7l2.7 -2.5 3.4 -1.3 -2.7 2.5z"/><path d="M1047.6 446.6l2.4 -1.8 3.5 -1.2 -2.3 1.8z"/><path d="M965.7 471l1.6 -0.3 3.9 -0.8 -1.6 0.4z"/><path d="M975 469.2l1.7 -0.5 3.9 -0.8 -1.7 0.5z"/><path d="M1069.9 436.7l2.6 -2.1 3.5 -1.3 -2.6 2.2z"/><path d="M1025.4 455l2.1 -1.3 3.6 -1.1 -2.1 1.4z"/><path d="M984.4 467.1l1.7 -0.6 3.8 -0.9 -1.8 0.7z"/><path d="M993.7 464.8l1.8 -0.8 3.8 -0.9 -1.9 0.8z"/><path d="M1057 442.4l2.4 -1.9 3.6 -1.3 -2.5 2z"/><path d="M1034.7 451.5l2.2 -1.5 3.6 -1.1 -2.2 1.5z"/><path d="M1003 462.1l1.9 -0.9 3.8 -1 -2 1z"/><path d="M1079.4 432l2.6 -2.4 3.5 -1.4 -2.7 2.5z"/><path d="M1012.4 459.2l2 -1 3.7 -1.1 -2.1 1.2z"/><path d="M1044.1 447.7l2.3 -1.7 3.6 -1.2 -2.4 1.8z"/><path d="M1066.5 438l2.5 -2.1 3.5 -1.3 -2.6 2.1z"/><path d="M961.8 471.7l1.6 -0.2 3.9 -0.8 -1.6 0.3z"/><path d="M971.2 469.9l1.6 -0.3 3.9 -0.9 -1.7 0.5z"/><path d="M1021.7 456.1l2.1 -1.3 3.7 -1.1 -2.1 1.3z"/><path d="M980.6 467.9l1.7 -0.5 3.8 -0.9 -1.7 0.6z"/><path d="M989.9 465.6l1.8 -0.7 3.8 -0.9 -1.8 0.8z"/><path d="M1053.5 443.6l2.4 -1.8 3.5 -1.3 -2.4 1.9z"/><path d="M1031.1 452.6l2.2 -1.4 3.6 -1.2 -2.2 1.5z"/><path d="M999.3 463.1l1.9 -0.9 3.7 -1 -1.9 0.9z"/><path d="M1076 433.3l2.6 -2.3 3.4 -1.4 -2.6 2.4z"/><path d="M1008.7 460.2l1.9 -1 3.8 -1 -2 1z"/><path d="M1040.5 448.9l2.3 -1.6 3.6 -1.3 -2.3 1.7z"/><path d="M1063 439.2l2.5 -2 3.5 -1.3 -2.5 2.1z"/><path d="M1018.1 457.1l2 -1.2 3.7 -1.1 -2.1 1.3z"/><path d="M957.9 472.4l1.5 -0.2 4 -0.7 -1.6 0.2z"/><path d="M967.3 470.7l1.6 -0.3 3.9 -0.8 -1.6 0.3z"/><path d="M976.7 468.7l1.7 -0.4 3.9 -0.9 -1.7 0.5z"/><path d="M1085.5 428.2l2.7 -2.5 3.5 -1.4 -2.8 2.6z"/><path d="M986.1 466.5l1.8 -0.6 3.8 -1 -1.8 0.7z"/><path d="M1050 444.8l2.3 -1.7 3.6 -1.3 -2.4 1.8z"/><path d="M1027.5 453.7l2.1 -1.3 3.7 -1.2 -2.2 1.4z"/><path d="M995.5 464l1.9 -0.8 3.8 -1 -1.9 0.9z"/><path d="M1072.5 434.6l2.6 -2.3 3.5 -1.3 -2.6 2.3z"/><path d="M1004.9 461.2l2 -0.9 3.7 -1.1 -1.9 1z"/><path d="M1036.9 450l2.2 -1.5 3.7 -1.2 -2.3 1.6z"/><path d="M1059.4 440.5l2.5 -2 3.6 -1.3 -2.5 2z"/><path d="M1014.4 458.2l2 -1.1 3.7 -1.2 -2 1.2z"/><path d="M953.9 473.1l1.6 -0.1 3.9 -0.8 -1.5 0.2z"/><path d="M963.4 471.5l1.6 -0.2 3.9 -0.9 -1.6 0.3z"/><path d="M1082 429.6l2.7 -2.4 3.5 -1.5 -2.7 2.5z"/><path d="M972.8 469.6l1.7 -0.4 3.9 -0.9 -1.7 0.4z"/><path d="M1046.4 446l2.3 -1.7 3.6 -1.2 -2.3 1.7z"/><path d="M982.3 467.4l1.7 -0.5 3.9 -1 -1.8 0.6z"/><path d="M1023.8 454.8l2.1 -1.3 3.7 -1.1 -2.1 1.3z"/><path d="M1069 435.9l2.5 -2.2 3.6 -1.4 -2.6 2.3z"/><path d="M991.7 464.9l1.9 -0.6 3.8 -1.1 -1.9 0.8z"/><path d="M1001.2 462.2l1.9 -0.8 3.8 -1.1 -2 0.9z"/><path d="M1033.3 451.2l2.2 -1.5 3.6 -1.2 -2.2 1.5z"/><path d="M1055.9 441.8l2.4 -1.9 3.6 -1.4 -2.5 2z"/><path d="M1010.6 459.2l2 -1 3.8 -1.1 -2 1.1z"/><path d="M1078.6 431l2.6 -2.4 3.5 -1.4 -2.7 2.4z"/><path d="M949.9 473.8l1.5 0 4.1 -0.8 -1.6 0.1z"/><path d="M959.4 472.2l1.6 -0.1 4 -0.8 -1.6 0.2z"/><path d="M1042.8 447.3l2.3 -1.7 3.6 -1.3 -2.3 1.7z"/><path d="M968.9 470.4l1.7 -0.3 3.9 -0.9 -1.7 0.4z"/><path d="M1020.1 455.9l2.1 -1.2 3.7 -1.2 -2.1 1.3z"/><path d="M978.4 468.3l1.7 -0.5 3.9 -0.9 -1.7 0.5z"/><path d="M1065.5 437.2l2.5 -2.1 3.5 -1.4 -2.5 2.2z"/><path d="M987.9 465.9l1.8 -0.6 3.9 -1 -1.9 0.6z"/><path d="M1052.3 443.1l2.4 -1.9 3.6 -1.3 -2.4 1.9z"/><path d="M1029.6 452.4l2.2 -1.4 3.7 -1.3 -2.2 1.5z"/><path d="M997.4 463.2l1.9 -0.7 3.8 -1.1 -1.9 0.8z"/><path d="M1088.2 425.7l2.8 -2.5 3.5 -1.5 -2.8 2.6z"/><path d="M1075.1 432.3l2.6 -2.2 3.5 -1.5 -2.6 2.4z"/><path d="M1006.9 460.3l2 -1 3.7 -1.1 -2 1z"/><path d="M1039.1 448.5l2.3 -1.6 3.7 -1.3 -2.3 1.7z"/><path d="M955.5 473l1.5 0 4 -0.9 -1.6 0.1z"/><path d="M945.9 474.5l1.5 0.1 4 -0.8 -1.5 0z"/><path d="M1061.9 438.5l2.5 -2 3.6 -1.4 -2.5 2.1z"/><path d="M965 471.3l1.6 -0.3 4 -0.9 -1.7 0.3z"/><path d="M1016.4 457.1l2.1 -1.2 3.7 -1.2 -2.1 1.2z"/><path d="M974.5 469.2l1.7 -0.4 3.9 -1 -1.7 0.5z"/><path d="M984 466.9l1.8 -0.6 3.9 -1 -1.8 0.6z"/><path d="M1048.7 444.3l2.4 -1.7 3.6 -1.4 -2.4 1.9z"/><path d="M1084.7 427.2l2.8 -2.5 3.5 -1.5 -2.8 2.5z"/><path d="M1025.9 453.5l2.2 -1.3 3.7 -1.2 -2.2 1.4z"/><path d="M993.6 464.3l1.8 -0.7 3.9 -1.1 -1.9 0.7z"/><path d="M1071.5 433.7l2.7 -2.2 3.5 -1.4 -2.6 2.2z"/><path d="M1003.1 461.4l1.9 -0.9 3.9 -1.2 -2 1z"/><path d="M1035.5 449.7l2.2 -1.4 3.7 -1.4 -2.3 1.6z"/><path d="M1058.3 439.9l2.5 -1.9 3.6 -1.5 -2.5 2z"/><path d="M1012.6 458.2l2.1 -1 3.8 -1.3 -2.1 1.2z"/><path d="M951.4 473.8l1.6 0 4 -0.8 -1.5 0z"/><path d="M941.9 475.3l1.4 0.1 4.1 -0.8 -1.5 -0.1z"/><path d="M961 472.1l1.6 -0.2 4 -0.9 -1.6 0.3z"/><path d="M970.6 470.1l1.7 -0.3 3.9 -1 -1.7 0.4z"/><path d="M980.1 467.8l1.8 -0.4 3.9 -1.1 -1.8 0.6z"/><path d="M1081.2 428.6l2.8 -2.4 3.5 -1.5 -2.8 2.5z"/><path d="M1045.1 445.6l2.3 -1.6 3.7 -1.4 -2.4 1.7z"/><path d="M1022.2 454.7l2.1 -1.2 3.8 -1.3 -2.2 1.3z"/><path d="M989.7 465.3l1.8 -0.6 3.9 -1.1 -1.8 0.7z"/><path d="M1068 435.1l2.6 -2.1 3.6 -1.5 -2.7 2.2z"/><path d="M999.3 462.5l1.9 -0.8 3.8 -1.2 -1.9 0.9z"/><path d="M1031.8 451l2.2 -1.4 3.7 -1.3 -2.2 1.4z"/><path d="M1054.7 441.2l2.5 -1.8 3.6 -1.4 -2.5 1.9z"/><path d="M1008.9 459.3l2 -0.9 3.8 -1.2 -2.1 1z"/><path d="M1091 423.2l2.8 -2.6 3.5 -1.6 -2.8 2.7z"/><path d="M947.4 474.6l1.5 0.1 4.1 -0.9 -1.6 0z"/><path d="M957 473l1.6 -0.1 4 -1 -1.6 0.2z"/><path d="M937.8 476l1.4 0.2 4.1 -0.8 -1.4 -0.1z"/><path d="M966.6 471l1.7 -0.2 4 -1 -1.7 0.3z"/><path d="M1077.7 430.1l2.7 -2.3 3.6 -1.6 -2.8 2.4z"/><path d="M1041.4 446.9l2.3 -1.5 3.7 -1.4 -2.3 1.6z"/><path d="M976.2 468.8l1.8 -0.4 3.9 -1 -1.8 0.4z"/><path d="M1018.5 455.9l2.1 -1.1 3.7 -1.3 -2.1 1.2z"/><path d="M1064.4 436.5l2.6 -2 3.6 -1.5 -2.6 2.1z"/><path d="M985.8 466.3l1.8 -0.5 3.9 -1.1 -1.8 0.6z"/><path d="M995.4 463.6l1.9 -0.8 3.9 -1.1 -1.9 0.8z"/><path d="M1028.1 452.2l2.2 -1.3 3.7 -1.3 -2.2 1.4z"/><path d="M1051.1 442.6l2.4 -1.8 3.7 -1.4 -2.5 1.8z"/><path d="M1087.5 424.7l2.8 -2.5 3.5 -1.6 -2.8 2.6z"/><path d="M1005 460.5l2 -0.9 3.9 -1.2 -2 0.9z"/><path d="M1074.2 431.5l2.6 -2.2 3.6 -1.5 -2.7 2.3z"/><path d="M943.3 475.4l1.5 0.2 4.1 -0.9 -1.5 -0.1z"/><path d="M953 473.8l1.5 0 4.1 -0.9 -1.6 0.1z"/><path d="M1037.7 448.3l2.3 -1.5 3.7 -1.4 -2.3 1.5z"/><path d="M933.6 476.7l1.4 0.3 4.2 -0.8 -1.4 -0.2z"/><path d="M962.6 471.9l1.7 -0.1 4 -1 -1.7 0.2z"/><path d="M1014.7 457.2l2.1 -1.1 3.8 -1.3 -2.1 1.1z"/><path d="M972.3 469.8l1.7 -0.3 4 -1.1 -1.8 0.4z"/><path d="M1060.8 438l2.5 -2 3.7 -1.5 -2.6 2z"/><path d="M981.9 467.4l1.8 -0.5 3.9 -1.1 -1.8 0.5z"/><path d="M991.5 464.7l1.9 -0.7 3.9 -1.2 -1.9 0.8z"/><path d="M1024.3 453.5l2.2 -1.2 3.8 -1.4 -2.2 1.3z"/><path d="M1047.4 444l2.4 -1.7 3.7 -1.5 -2.4 1.8z"/><path d="M1084 426.2l2.7 -2.4 3.6 -1.6 -2.8 2.5z"/><path d="M1001.2 461.7l2 -0.9 3.8 -1.2 -2 0.9z"/><path d="M1070.6 433l2.6 -2.1 3.6 -1.6 -2.6 2.2z"/><path d="M1034 449.6l2.3 -1.4 3.7 -1.4 -2.3 1.5z"/><path d="M948.9 474.7l1.5 0.1 4.1 -1 -1.5 0z"/><path d="M939.2 476.2l1.5 0.3 4.1 -0.9 -1.5 -0.2z"/><path d="M958.6 472.9l1.6 -0.1 4.1 -1 -1.7 0.1z"/><path d="M1057.2 439.4l2.5 -1.9 3.6 -1.5 -2.5 2z"/><path d="M929.5 477.5l1.3 0.4 4.2 -0.9 -1.4 -0.3z"/><path d="M1010.9 458.4l2 -1 3.9 -1.3 -2.1 1.1z"/><path d="M968.3 470.8l1.7 -0.2 4 -1.1 -1.7 0.3z"/><path d="M978 468.4l1.7 -0.4 4 -1.1 -1.8 0.5z"/><path d="M1093.8 420.6l2.9 -2.7 3.6 -1.6 -3 2.7z"/><path d="M1043.7 445.4l2.4 -1.6 3.7 -1.5 -2.4 1.7z"/><path d="M1020.6 454.8l2.1 -1.2 3.8 -1.3 -2.2 1.2z"/><path d="M1080.4 427.8l2.7 -2.4 3.6 -1.6 -2.7 2.4z"/><path d="M987.6 465.8l1.9 -0.6 3.9 -1.2 -1.9 0.7z"/><path d="M1067 434.5l2.6 -2.1 3.6 -1.5 -2.6 2.1z"/><path d="M997.3 462.8l2 -0.7 3.9 -1.3 -2 0.9z"/><path d="M1030.3 450.9l2.2 -1.3 3.8 -1.4 -2.3 1.4z"/><path d="M1053.5 440.8l2.5 -1.8 3.7 -1.5 -2.5 1.9z"/><path d="M1007 459.6l2.1 -0.9 3.8 -1.3 -2 1z"/><path d="M944.8 475.6l1.5 0.1 4.1 -0.9 -1.5 -0.1z"/><path d="M935 477l1.5 0.3 4.2 -0.8 -1.5 -0.3z"/><path d="M954.5 473.8l1.6 0 4.1 -1 -1.6 0.1z"/><path d="M925.3 478.2l1.3 0.5 4.2 -0.8 -1.3 -0.4z"/><path d="M964.3 471.8l1.6 -0.2 4.1 -1 -1.7 0.2z"/><path d="M1090.3 422.2l2.8 -2.6 3.6 -1.7 -2.9 2.7z"/><path d="M974 469.5l1.7 -0.3 4 -1.2 -1.7 0.4z"/><path d="M1076.8 429.3l2.7 -2.3 3.6 -1.6 -2.7 2.4z"/><path d="M1040 446.8l2.4 -1.6 3.7 -1.4 -2.4 1.6z"/><path d="M1016.8 456.1l2.1 -1.1 3.8 -1.4 -2.1 1.2z"/><path d="M983.7 466.9l1.8 -0.5 4 -1.2 -1.9 0.6z"/><path d="M1063.3 436l2.6 -2 3.7 -1.6 -2.6 2.1z"/><path d="M993.4 464l1.9 -0.6 4 -1.3 -2 0.7z"/><path d="M1026.5 452.3l2.2 -1.3 3.8 -1.4 -2.2 1.3z"/><path d="M1049.8 442.3l2.5 -1.7 3.7 -1.6 -2.5 1.8z"/><path d="M1003.2 460.8l2 -0.8 3.9 -1.3 -2.1 0.9z"/><path d="M1086.7 423.8l2.9 -2.5 3.5 -1.7 -2.8 2.6z"/><path d="M940.7 476.5l1.4 0.2 4.2 -1 -1.5 -0.1z"/><path d="M950.4 474.8l1.6 0.1 4.1 -1.1 -1.6 0z"/><path d="M930.8 477.9l1.5 0.3 4.2 -0.9 -1.5 -0.3z"/><path d="M960.2 472.8l1.6 -0.1 4.1 -1.1 -1.6 0.2z"/><path d="M921 479l1.4 0.5 4.2 -0.8 -1.3 -0.5z"/><path d="M1073.2 430.9l2.7 -2.2 3.6 -1.7 -2.7 2.3z"/><path d="M1036.3 448.2l2.3 -1.5 3.8 -1.5 -2.4 1.6z"/><path d="M970 470.6l1.7 -0.3 4 -1.1 -1.7 0.3z"/><path d="M1012.9 457.4l2.1 -1 3.9 -1.4 -2.1 1.1z"/><path d="M979.7 468l1.8 -0.4 4 -1.2 -1.8 0.5z"/><path d="M1059.7 437.5l2.5 -1.9 3.7 -1.6 -2.6 2z"/><path d="M989.5 465.2l1.9 -0.6 3.9 -1.2 -1.9 0.6z"/><path d="M1022.7 453.6l2.2 -1.1 3.8 -1.5 -2.2 1.3z"/><path d="M1046.1 443.8l2.4 -1.7 3.8 -1.5 -2.5 1.7z"/><path d="M1096.7 417.9l3 -2.7 3.5 -1.7 -2.9 2.8z"/><path d="M1083.1 425.4l2.8 -2.4 3.7 -1.7 -2.9 2.5z"/><path d="M999.3 462.1l1.9 -0.7 4 -1.4 -2 0.8z"/><path d="M1069.6 432.4l2.6 -2.1 3.7 -1.6 -2.7 2.2z"/><path d="M936.5 477.3l1.4 0.4 4.2 -1 -1.4 -0.2z"/><path d="M946.3 475.7l1.5 0.2 4.2 -1 -1.6 -0.1z"/><path d="M926.6 478.7l1.4 0.5 4.3 -1 -1.5 -0.3z"/><path d="M956.1 473.8l1.6 0 4.1 -1.1 -1.6 0.1z"/><path d="M1032.5 449.6l2.3 -1.4 3.8 -1.5 -2.3 1.5z"/><path d="M916.7 479.8l1.4 0.6 4.3 -0.9 -1.4 -0.5z"/><path d="M965.9 471.6l1.7 -0.1 4.1 -1.2 -1.7 0.3z"/><path d="M1009.1 458.7l2 -0.9 3.9 -1.4 -2.1 1z"/><path d="M1056 439l2.5 -1.8 3.7 -1.6 -2.5 1.9z"/><path d="M975.7 469.2l1.8 -0.4 4 -1.2 -1.8 0.4z"/><path d="M985.5 466.4l1.9 -0.5 4 -1.3 -1.9 0.6z"/><path d="M1018.9 455l2.1 -1.1 3.9 -1.4 -2.2 1.1z"/><path d="M1093.1 419.6l3 -2.6 3.6 -1.8 -3 2.7z"/><path d="M1042.4 445.2l2.4 -1.5 3.7 -1.6 -2.4 1.7z"/><path d="M1079.5 427l2.8 -2.3 3.6 -1.7 -2.8 2.4z"/><path d="M995.3 463.4l2 -0.7 3.9 -1.3 -1.9 0.7z"/><path d="M1065.9 434l2.6 -2 3.7 -1.7 -2.6 2.1z"/><path d="M1028.7 451l2.3 -1.3 3.8 -1.5 -2.3 1.4z"/><path d="M942.1 476.7l1.5 0.2 4.2 -1 -1.5 -0.2z"/><path d="M932.3 478.2l1.4 0.4 4.2 -0.9 -1.4 -0.4z"/><path d="M952 474.9l1.6 0 4.1 -1.1 -1.6 0z"/><path d="M922.4 479.5l1.3 0.6 4.3 -0.9 -1.4 -0.5z"/><path d="M1005.2 460l2 -0.8 3.9 -1.4 -2 0.9z"/><path d="M1052.3 440.6l2.5 -1.8 3.7 -1.6 -2.5 1.8z"/><path d="M961.8 472.7l1.7 -0.1 4.1 -1.1 -1.7 0.1z"/><path d="M912.4 480.5l1.3 0.7 4.4 -0.8 -1.4 -0.6z"/><path d="M971.7 470.3l1.7 -0.2 4.1 -1.3 -1.8 0.4z"/><path d="M1089.6 421.3l2.8 -2.5 3.7 -1.8 -3 2.6z"/><path d="M1038.6 446.7l2.4 -1.5 3.8 -1.5 -2.4 1.5z"/><path d="M1015 456.4l2.1 -1 3.9 -1.5 -2.1 1.1z"/><path d="M981.5 467.6l1.9 -0.4 4 -1.3 -1.9 0.5z"/><path d="M1075.9 428.7l2.7 -2.3 3.7 -1.7 -2.8 2.3z"/><path d="M1062.2 435.6l2.6 -1.9 3.7 -1.7 -2.6 2z"/><path d="M991.4 464.6l1.9 -0.5 4 -1.4 -2 0.7z"/><path d="M1024.9 452.5l2.2 -1.2 3.9 -1.6 -2.3 1.3z"/><path d="M1048.5 442.1l2.5 -1.6 3.8 -1.7 -2.5 1.8z"/><path d="M937.9 477.7l1.5 0.3 4.2 -1.1 -1.5 -0.2z"/><path d="M1001.2 461.4l2 -0.8 4 -1.4 -2 0.8z"/><path d="M928 479.2l1.4 0.4 4.3 -1 -1.4 -0.4z"/><path d="M947.8 475.9l1.6 0.1 4.2 -1.1 -1.6 0z"/><path d="M918.1 480.4l1.3 0.6 4.3 -0.9 -1.3 -0.6z"/><path d="M957.7 473.8l1.7 0 4.1 -1.2 -1.7 0.1z"/><path d="M1099.7 415.2l3 -2.7 3.6 -1.9 -3.1 2.9z"/><path d="M1085.9 423l2.9 -2.5 3.6 -1.7 -2.8 2.5z"/><path d="M908.1 481.3l1.2 0.8 4.4 -0.9 -1.3 -0.7z"/><path d="M967.6 471.5l1.7 -0.2 4.1 -1.2 -1.7 0.2z"/><path d="M1034.8 448.2l2.3 -1.4 3.9 -1.6 -2.4 1.5z"/><path d="M1072.2 430.3l2.7 -2.1 3.7 -1.8 -2.7 2.3z"/><path d="M1011.1 457.8l2.1 -1 3.9 -1.4 -2.1 1z"/><path d="M977.5 468.8l1.8 -0.3 4.1 -1.3 -1.9 0.4z"/><path d="M1058.5 437.2l2.6 -1.9 3.7 -1.6 -2.6 1.9z"/><path d="M987.4 465.9l1.9 -0.5 4 -1.3 -1.9 0.5z"/><path d="M1021 453.9l2.2 -1.1 3.9 -1.5 -2.2 1.2z"/><path d="M1044.8 443.7l2.4 -1.6 3.8 -1.6 -2.5 1.6z"/><path d="M997.3 462.7l2 -0.7 3.9 -1.4 -2 0.8z"/><path d="M1096.1 417l2.9 -2.7 3.7 -1.8 -3 2.7z"/><path d="M933.7 478.6l1.5 0.4 4.2 -1 -1.5 -0.3z"/><path d="M943.6 476.9l1.6 0.3 4.2 -1.2 -1.6 -0.1z"/><path d="M923.7 480.1l1.4 0.5 4.3 -1 -1.4 -0.4z"/><path d="M1082.3 424.7l2.8 -2.4 3.7 -1.8 -2.9 2.5z"/><path d="M953.6 474.9l1.6 0.1 4.2 -1.2 -1.7 0z"/><path d="M913.7 481.2l1.3 0.7 4.4 -0.9 -1.3 -0.6z"/><path d="M963.5 472.6l1.7 0 4.1 -1.3 -1.7 0.2z"/><path d="M1068.5 432l2.7 -2.1 3.7 -1.7 -2.7 2.1z"/><path d="M1031 449.7l2.3 -1.3 3.8 -1.6 -2.3 1.4z"/><path d="M903.7 482.1l1.2 0.8 4.4 -0.8 -1.2 -0.8z"/><path d="M1007.2 459.2l2.1 -0.9 3.9 -1.5 -2.1 1z"/><path d="M973.4 470.1l1.8 -0.3 4.1 -1.3 -1.8 0.3z"/><path d="M1054.8 438.8l2.5 -1.8 3.8 -1.7 -2.6 1.9z"/><path d="M983.4 467.2l1.8 -0.4 4.1 -1.4 -1.9 0.5z"/><path d="M1017.1 455.4l2.2 -1.1 3.9 -1.5 -2.2 1.1z"/><path d="M1041 445.2l2.4 -1.5 3.8 -1.6 -2.4 1.6z"/><path d="M1092.4 418.8l3 -2.6 3.6 -1.9 -2.9 2.7z"/><path d="M993.3 464.1l2 -0.6 4 -1.5 -2 0.7z"/><path d="M1078.6 426.4l2.8 -2.3 3.7 -1.8 -2.8 2.4z"/><path d="M929.4 479.6l1.5 0.5 4.3 -1.1 -1.5 -0.4z"/><path d="M939.4 478l1.5 0.3 4.3 -1.1 -1.6 -0.3z"/><path d="M1064.8 433.7l2.7 -2 3.7 -1.8 -2.7 2.1z"/><path d="M919.4 481l1.4 0.6 4.3 -1 -1.4 -0.5z"/><path d="M949.4 476l1.6 0.2 4.2 -1.2 -1.6 -0.1z"/><path d="M1027.1 451.3l2.3 -1.3 3.9 -1.6 -2.3 1.3z"/><path d="M909.3 482.1l1.3 0.8 4.4 -1 -1.3 -0.7z"/><path d="M959.4 473.8l1.6 0 4.2 -1.2 -1.7 0z"/><path d="M1003.2 460.6l2.1 -0.8 4 -1.5 -2.1 0.9z"/><path d="M1051 440.5l2.5 -1.8 3.8 -1.7 -2.5 1.8z"/><path d="M899.2 482.9l1.3 0.9 4.4 -0.9 -1.2 -0.8z"/><path d="M969.3 471.3l1.8 -0.2 4.1 -1.3 -1.8 0.3z"/><path d="M979.3 468.5l1.8 -0.3 4.1 -1.4 -1.8 0.4z"/><path d="M1013.2 456.8l2.2 -0.9 3.9 -1.6 -2.2 1.1z"/><path d="M1037.1 446.8l2.4 -1.4 3.9 -1.7 -2.4 1.5z"/><path d="M1102.7 412.5l3 -2.8 3.7 -2 -3.1 2.9z"/><path d="M1088.8 420.5l2.9 -2.5 3.7 -1.8 -3 2.6z"/><path d="M1074.9 428.2l2.8 -2.3 3.7 -1.8 -2.8 2.3z"/><path d="M989.3 465.4l1.9 -0.5 4.1 -1.4 -2 0.6z"/><path d="M1061.1 435.3l2.6 -1.9 3.8 -1.7 -2.7 2z"/><path d="M1023.2 452.8l2.3 -1.2 3.9 -1.6 -2.3 1.3z"/><path d="M935.2 479l1.4 0.5 4.3 -1.2 -1.5 -0.3z"/><path d="M925.1 480.6l1.4 0.6 4.4 -1.1 -1.5 -0.5z"/><path d="M945.2 477.2l1.5 0.2 4.3 -1.2 -1.6 -0.2z"/><path d="M915 481.9l1.4 0.8 4.4 -1.1 -1.4 -0.6z"/><path d="M999.3 462l2 -0.7 4 -1.5 -2.1 0.8z"/><path d="M955.2 475l1.6 0.1 4.2 -1.3 -1.6 0z"/><path d="M1047.2 442.1l2.5 -1.6 3.8 -1.8 -2.5 1.8z"/><path d="M904.9 482.9l1.3 0.9 4.4 -0.9 -1.3 -0.8z"/><path d="M965.2 472.6l1.7 -0.1 4.2 -1.4 -1.8 0.2z"/><path d="M894.8 483.7l1.2 1 4.5 -0.9 -1.3 -0.9z"/><path d="M1099 414.3l3.1 -2.7 3.6 -1.9 -3 2.8z"/><path d="M1085.1 422.3l2.9 -2.4 3.7 -1.9 -2.9 2.5z"/><path d="M1009.3 458.3l2.1 -0.8 4 -1.6 -2.2 0.9z"/><path d="M975.2 469.8l1.8 -0.2 4.1 -1.4 -1.8 0.3z"/><path d="M1033.3 448.4l2.3 -1.3 3.9 -1.7 -2.4 1.4z"/><path d="M1071.2 429.9l2.7 -2.1 3.8 -1.9 -2.8 2.3z"/><path d="M985.2 466.8l1.9 -0.4 4.1 -1.5 -1.9 0.5z"/><path d="M1057.3 437l2.6 -1.8 3.8 -1.8 -2.6 1.9z"/><path d="M1019.3 454.3l2.2 -1 4 -1.7 -2.3 1.2z"/><path d="M930.9 480.1l1.4 0.5 4.3 -1.1 -1.4 -0.5z"/><path d="M1043.4 443.7l2.4 -1.5 3.9 -1.7 -2.5 1.6z"/><path d="M995.3 463.5l1.9 -0.6 4.1 -1.6 -2 0.7z"/><path d="M920.8 481.6l1.3 0.7 4.4 -1.1 -1.4 -0.6z"/><path d="M940.9 478.3l1.6 0.3 4.2 -1.2 -1.5 -0.2z"/><path d="M910.6 482.9l1.3 0.8 4.5 -1 -1.4 -0.8z"/><path d="M951 476.2l1.6 0.2 4.2 -1.3 -1.6 -0.1z"/><path d="M900.5 483.8l1.2 1 4.5 -1 -1.3 -0.9z"/><path d="M961 473.8l1.7 0 4.2 -1.3 -1.7 0.1z"/><path d="M1095.4 416.2l3 -2.7 3.7 -1.9 -3.1 2.7z"/><path d="M1081.4 424.1l2.9 -2.3 3.7 -1.9 -2.9 2.4z"/><path d="M1029.4 450l2.3 -1.2 3.9 -1.7 -2.3 1.3z"/><path d="M1005.3 459.8l2.1 -0.8 4 -1.5 -2.1 0.8z"/><path d="M1067.5 431.7l2.7 -2.1 3.7 -1.8 -2.7 2.1z"/><path d="M890.3 484.5l1.1 1.1 4.6 -0.9 -1.2 -1z"/><path d="M971.1 471.1l1.8 -0.1 4.1 -1.4 -1.8 0.2z"/><path d="M1053.5 438.7l2.6 -1.7 3.8 -1.8 -2.6 1.8z"/><path d="M981.1 468.2l1.9 -0.4 4.1 -1.4 -1.9 0.4z"/><path d="M1015.4 455.9l2.1 -1 4 -1.6 -2.2 1z"/><path d="M1039.5 445.4l2.4 -1.4 3.9 -1.8 -2.4 1.5z"/><path d="M991.2 464.9l2 -0.5 4 -1.5 -1.9 0.6z"/><path d="M926.5 481.2l1.5 0.6 4.3 -1.2 -1.4 -0.5z"/><path d="M936.6 479.5l1.6 0.4 4.3 -1.3 -1.6 -0.3z"/><path d="M916.4 482.7l1.3 0.7 4.4 -1.1 -1.3 -0.7z"/><path d="M1091.7 418l3 -2.5 3.7 -2 -3 2.7z"/><path d="M946.7 477.4l1.6 0.3 4.3 -1.3 -1.6 -0.2z"/><path d="M1105.7 409.7l3.2 -2.9 3.7 -2 -3.2 2.9z"/><path d="M1077.7 425.9l2.8 -2.2 3.8 -1.9 -2.9 2.3z"/><path d="M906.2 483.8l1.3 0.9 4.4 -1 -1.3 -0.8z"/><path d="M956.8 475.1l1.7 0.1 4.2 -1.4 -1.7 0z"/><path d="M1025.5 451.6l2.3 -1.1 3.9 -1.7 -2.3 1.2z"/><path d="M1063.7 433.4l2.7 -1.9 3.8 -1.9 -2.7 2.1z"/><path d="M896 484.7l1.2 1 4.5 -0.9 -1.2 -1z"/><path d="M1001.3 461.3l2 -0.7 4.1 -1.6 -2.1 0.8z"/><path d="M966.9 472.5l1.8 -0.1 4.2 -1.4 -1.8 0.1z"/><path d="M1049.7 440.5l2.5 -1.7 3.9 -1.8 -2.6 1.7z"/><path d="M885.7 485.3l1.2 1.2 4.5 -0.9 -1.1 -1.1z"/><path d="M977 469.6l1.9 -0.3 4.1 -1.5 -1.9 0.4z"/><path d="M1011.4 457.5l2.1 -0.9 4 -1.7 -2.1 1z"/><path d="M1035.6 447.1l2.4 -1.4 3.9 -1.7 -2.4 1.4z"/><path d="M987.1 466.4l2 -0.5 4.1 -1.5 -2 0.5z"/><path d="M1088 419.9l3 -2.5 3.7 -1.9 -3 2.5z"/><path d="M1102.1 411.6l3.1 -2.8 3.7 -2 -3.2 2.9z"/><path d="M1073.9 427.8l2.8 -2.2 3.8 -1.9 -2.8 2.2z"/><path d="M922.1 482.3l1.5 0.7 4.4 -1.2 -1.5 -0.6z"/><path d="M932.3 480.6l1.5 0.5 4.4 -1.2 -1.6 -0.4z"/><path d="M911.9 483.7l1.4 0.8 4.4 -1.1 -1.3 -0.7z"/><path d="M942.5 478.6l1.5 0.4 4.3 -1.3 -1.6 -0.3z"/><path d="M1059.9 435.2l2.6 -1.8 3.9 -1.9 -2.7 1.9z"/><path d="M1021.5 453.3l2.3 -1.1 4 -1.7 -2.3 1.1z"/><path d="M901.7 484.8l1.3 1 4.5 -1.1 -1.3 -0.9z"/><path d="M952.6 476.4l1.7 0.2 4.2 -1.4 -1.7 -0.1z"/><path d="M997.2 462.9l2.1 -0.7 4 -1.6 -2 0.7z"/><path d="M891.4 485.6l1.2 1.1 4.6 -1 -1.2 -1z"/><path d="M962.7 473.8l1.8 0 4.2 -1.4 -1.8 0.1z"/><path d="M1045.8 442.2l2.5 -1.6 3.9 -1.8 -2.5 1.7z"/><path d="M881.1 486.1l1.1 1.3 4.7 -0.9 -1.2 -1.2z"/><path d="M972.9 471l1.8 -0.2 4.2 -1.5 -1.9 0.3z"/><path d="M1007.4 459l2.1 -0.8 4 -1.6 -2.1 0.9z"/><path d="M1031.7 448.8l2.4 -1.3 3.9 -1.8 -2.4 1.4z"/><path d="M1098.4 413.5l3.1 -2.7 3.7 -2 -3.1 2.8z"/><path d="M1084.3 421.8l2.9 -2.4 3.8 -2 -3 2.5z"/><path d="M1070.2 429.6l2.7 -2.1 3.8 -1.9 -2.8 2.2z"/><path d="M983 467.8l1.9 -0.3 4.2 -1.6 -2 0.5z"/><path d="M1056.1 437l2.6 -1.8 3.8 -1.8 -2.6 1.8z"/><path d="M928 481.8l1.4 0.6 4.4 -1.3 -1.5 -0.5z"/><path d="M917.7 483.4l1.4 0.7 4.5 -1.1 -1.5 -0.7z"/><path d="M1017.5 454.9l2.3 -1 4 -1.7 -2.3 1.1z"/><path d="M938.2 479.9l1.5 0.4 4.3 -1.3 -1.5 -0.4z"/><path d="M907.5 484.7l1.3 0.9 4.5 -1.1 -1.4 -0.8z"/><path d="M993.2 464.4l2 -0.5 4.1 -1.7 -2.1 0.7z"/><path d="M948.3 477.7l1.7 0.2 4.3 -1.3 -1.7 -0.2z"/><path d="M1041.9 444l2.5 -1.5 3.9 -1.9 -2.5 1.6z"/><path d="M897.2 485.7l1.2 1.1 4.6 -1 -1.3 -1z"/><path d="M958.5 475.2l1.7 0.1 4.3 -1.5 -1.8 0z"/><path d="M886.9 486.5l1.1 1.2 4.6 -1 -1.2 -1.1z"/><path d="M968.7 472.4l1.8 -0.1 4.2 -1.5 -1.8 0.2z"/><path d="M1003.3 460.6l2.1 -0.7 4.1 -1.7 -2.1 0.8z"/><path d="M1094.7 415.5l3 -2.6 3.8 -2.1 -3.1 2.7z"/><path d="M1027.8 450.5l2.3 -1.2 4 -1.8 -2.4 1.3z"/><path d="M1080.5 423.7l2.9 -2.3 3.8 -2 -2.9 2.4z"/><path d="M1108.9 406.8l3.2 -3 3.7 -2.1 -3.2 3.1z"/><path d="M876.5 487l1.1 1.3 4.6 -0.9 -1.1 -1.3z"/><path d="M1066.4 431.5l2.7 -2 3.8 -2 -2.7 2.1z"/><path d="M978.9 469.3l1.8 -0.2 4.2 -1.6 -1.9 0.3z"/><path d="M1052.2 438.8l2.6 -1.7 3.9 -1.9 -2.6 1.8z"/><path d="M1013.5 456.6l2.2 -0.9 4.1 -1.8 -2.3 1z"/><path d="M923.6 483l1.4 0.6 4.4 -1.2 -1.4 -0.6z"/><path d="M913.3 484.5l1.3 0.8 4.5 -1.2 -1.4 -0.7z"/><path d="M933.8 481.1l1.5 0.5 4.4 -1.3 -1.5 -0.4z"/><path d="M989.1 465.9l1.9 -0.4 4.2 -1.6 -2 0.5z"/><path d="M1038 445.7l2.4 -1.4 4 -1.8 -2.5 1.5z"/><path d="M903 485.8l1.3 0.9 4.5 -1.1 -1.3 -0.9z"/><path d="M944 479l1.6 0.3 4.4 -1.4 -1.7 -0.2z"/><path d="M892.6 486.7l1.2 1.2 4.6 -1.1 -1.2 -1.1z"/><path d="M954.3 476.6l1.6 0.1 4.3 -1.4 -1.7 -0.1z"/><path d="M1091 417.4l3 -2.5 3.7 -2 -3 2.6z"/><path d="M1076.7 425.6l2.9 -2.2 3.8 -2 -2.9 2.3z"/><path d="M1105.2 408.8l3.2 -2.9 3.7 -2.1 -3.2 3z"/><path d="M1023.8 452.2l2.3 -1.1 4 -1.8 -2.3 1.2z"/><path d="M999.3 462.2l2 -0.6 4.1 -1.7 -2.1 0.7z"/><path d="M882.2 487.4l1.2 1.3 4.6 -1 -1.1 -1.2z"/><path d="M964.5 473.8l1.7 0 4.3 -1.5 -1.8 0.1z"/><path d="M1062.5 433.4l2.7 -1.9 3.9 -2 -2.7 2z"/><path d="M1048.3 440.6l2.6 -1.6 3.9 -1.9 -2.6 1.7z"/><path d="M871.8 487.8l1.1 1.4 4.7 -0.9 -1.1 -1.3z"/><path d="M974.7 470.8l1.8 -0.2 4.2 -1.5 -1.8 0.2z"/><path d="M1009.5 458.2l2.2 -0.8 4 -1.7 -2.2 0.9z"/><path d="M1034.1 447.5l2.4 -1.3 3.9 -1.9 -2.4 1.4z"/><path d="M984.9 467.5l2 -0.4 4.1 -1.6 -1.9 0.4z"/><path d="M919.1 484.1l1.4 0.8 4.5 -1.3 -1.4 -0.6z"/><path d="M929.4 482.4l1.5 0.6 4.4 -1.4 -1.5 -0.5z"/><path d="M908.8 485.6l1.3 0.9 4.5 -1.2 -1.3 -0.8z"/><path d="M939.7 480.3l1.6 0.4 4.3 -1.4 -1.6 -0.3z"/><path d="M898.4 486.8l1.3 1.1 4.6 -1.2 -1.3 -0.9z"/><path d="M1087.2 419.4l3 -2.4 3.8 -2.1 -3 2.5z"/><path d="M1101.5 410.8l3.1 -2.8 3.8 -2.1 -3.2 2.9z"/><path d="M1072.9 427.5l2.8 -2.1 3.9 -2 -2.9 2.2z"/><path d="M950 477.9l1.6 0.3 4.3 -1.5 -1.6 -0.1z"/><path d="M1019.8 453.9l2.2 -1 4.1 -1.8 -2.3 1.1z"/><path d="M888 487.7l1.2 1.2 4.6 -1 -1.2 -1.2z"/><path d="M995.2 463.9l2 -0.6 4.1 -1.7 -2 0.6z"/><path d="M1058.7 435.2l2.6 -1.8 3.9 -1.9 -2.7 1.9z"/><path d="M960.2 475.3l1.8 0.1 4.2 -1.6 -1.7 0z"/><path d="M877.6 488.3l1.1 1.4 4.7 -1 -1.2 -1.3z"/><path d="M1044.4 442.5l2.5 -1.5 4 -2 -2.6 1.6z"/><path d="M970.5 472.3l1.8 -0.1 4.2 -1.6 -1.8 0.2z"/><path d="M1005.4 459.9l2.2 -0.7 4.1 -1.8 -2.2 0.8z"/><path d="M1030.1 449.3l2.4 -1.2 4 -1.9 -2.4 1.3z"/><path d="M980.7 469.1l2 -0.3 4.2 -1.7 -2 0.4z"/><path d="M1083.4 421.4l2.9 -2.3 3.9 -2.1 -3 2.4z"/><path d="M1097.7 412.9l3.1 -2.7 3.8 -2.2 -3.1 2.8z"/><path d="M914.6 485.3l1.4 0.9 4.5 -1.3 -1.4 -0.8z"/><path d="M925 483.6l1.4 0.7 4.5 -1.3 -1.5 -0.6z"/><path d="M1069.1 429.5l2.8 -2 3.8 -2.1 -2.8 2.1z"/><path d="M904.3 486.7l1.3 1.1 4.5 -1.3 -1.3 -0.9z"/><path d="M935.3 481.6l1.6 0.5 4.4 -1.4 -1.6 -0.4z"/><path d="M1112.1 403.8l3.3 -3 3.7 -2.2 -3.3 3.1z"/><path d="M1054.8 437.1l2.6 -1.7 3.9 -2 -2.6 1.8z"/><path d="M1015.7 455.7l2.3 -1 4 -1.8 -2.2 1z"/><path d="M893.8 487.9l1.3 1.1 4.6 -1.1 -1.3 -1.1z"/><path d="M945.6 479.3l1.6 0.4 4.4 -1.5 -1.6 -0.3z"/><path d="M991 465.5l2 -0.5 4.2 -1.7 -2 0.6z"/><path d="M883.4 488.7l1.1 1.3 4.7 -1.1 -1.2 -1.2z"/><path d="M955.9 476.7l1.7 0.2 4.4 -1.5 -1.8 -0.1z"/><path d="M1040.4 444.3l2.5 -1.4 4 -1.9 -2.5 1.5z"/><path d="M872.9 489.2l1.1 1.5 4.7 -1 -1.1 -1.4z"/><path d="M966.2 473.8l1.8 0 4.3 -1.6 -1.8 0.1z"/><path d="M1001.3 461.6l2.1 -0.6 4.2 -1.8 -2.2 0.7z"/><path d="M1026.1 451.1l2.3 -1.1 4.1 -1.9 -2.4 1.2z"/><path d="M1079.6 423.4l2.9 -2.2 3.8 -2.1 -2.9 2.3z"/><path d="M1094 414.9l3 -2.6 3.8 -2.1 -3.1 2.7z"/><path d="M976.5 470.6l1.9 -0.1 4.3 -1.7 -2 0.3z"/><path d="M1065.2 431.5l2.8 -2 3.9 -2 -2.8 2z"/><path d="M1108.4 405.9l3.2 -2.9 3.8 -2.2 -3.3 3z"/><path d="M920.5 484.9l1.5 0.8 4.4 -1.4 -1.4 -0.7z"/><path d="M1050.9 439l2.6 -1.6 3.9 -2 -2.6 1.7z"/><path d="M910.1 486.5l1.4 1 4.5 -1.3 -1.4 -0.9z"/><path d="M930.9 483l1.5 0.6 4.5 -1.5 -1.6 -0.5z"/><path d="M1011.7 457.4l2.2 -0.8 4.1 -1.9 -2.3 1z"/><path d="M899.7 487.9l1.3 1.1 4.6 -1.2 -1.3 -1.1z"/><path d="M986.9 467.1l1.9 -0.3 4.2 -1.8 -2 0.5z"/><path d="M941.3 480.7l1.6 0.5 4.3 -1.5 -1.6 -0.4z"/><path d="M889.2 488.9l1.2 1.3 4.7 -1.2 -1.3 -1.1z"/><path d="M1036.5 446.2l2.4 -1.3 4 -2 -2.5 1.4z"/><path d="M951.6 478.2l1.7 0.3 4.3 -1.6 -1.7 -0.2z"/><path d="M878.7 489.7l1.1 1.4 4.7 -1.1 -1.1 -1.3z"/><path d="M962 475.4l1.7 0.1 4.3 -1.7 -1.8 0z"/><path d="M997.2 463.3l2.1 -0.5 4.1 -1.8 -2.1 0.6z"/><path d="M1022 452.9l2.4 -1 4 -1.9 -2.3 1.1z"/><path d="M1090.2 417l3 -2.5 3.8 -2.2 -3 2.6z"/><path d="M1075.7 425.4l2.9 -2.1 3.9 -2.1 -2.9 2.2z"/><path d="M1104.6 408l3.2 -2.8 3.8 -2.2 -3.2 2.9z"/><path d="M1061.3 433.4l2.7 -1.8 4 -2.1 -2.8 2z"/><path d="M972.3 472.2l1.9 -0.1 4.2 -1.6 -1.9 0.1z"/><path d="M1046.9 441l2.6 -1.6 4 -2 -2.6 1.6z"/><path d="M1007.6 459.2l2.2 -0.8 4.1 -1.8 -2.2 0.8z"/><path d="M916 486.2l1.4 0.8 4.6 -1.3 -1.5 -0.8z"/><path d="M905.6 487.8l1.3 1 4.6 -1.3 -1.4 -1z"/><path d="M926.4 484.3l1.5 0.7 4.5 -1.4 -1.5 -0.6z"/><path d="M982.7 468.8l1.9 -0.3 4.2 -1.7 -1.9 0.3z"/><path d="M1032.5 448.1l2.4 -1.3 4 -1.9 -2.4 1.3z"/><path d="M895.1 489l1.2 1.2 4.7 -1.2 -1.3 -1.1z"/><path d="M936.9 482.1l1.5 0.6 4.5 -1.5 -1.6 -0.5z"/><path d="M884.5 490l1.2 1.4 4.7 -1.2 -1.2 -1.3z"/><path d="M947.2 479.7l1.7 0.3 4.4 -1.5 -1.7 -0.3z"/><path d="M1086.3 419.1l3.1 -2.4 3.8 -2.2 -3 2.5z"/><path d="M993 465l2.1 -0.4 4.2 -1.8 -2.1 0.5z"/><path d="M1018 454.7l2.3 -0.9 4.1 -1.9 -2.4 1z"/><path d="M874 490.7l1.1 1.5 4.7 -1.1 -1.1 -1.4z"/><path d="M1071.9 427.5l2.8 -2.1 3.9 -2.1 -2.9 2.1z"/><path d="M957.6 476.9l1.8 0.2 4.3 -1.6 -1.7 -0.1z"/><path d="M1100.8 410.2l3.2 -2.8 3.8 -2.2 -3.2 2.8z"/><path d="M1057.4 435.4l2.7 -1.7 3.9 -2.1 -2.7 1.8z"/><path d="M1115.4 400.8l3.3 -3 3.8 -2.3 -3.4 3.1z"/><path d="M968 473.8l1.9 0 4.3 -1.7 -1.9 0.1z"/><path d="M1042.9 442.9l2.6 -1.4 4 -2.1 -2.6 1.6z"/><path d="M1003.4 461l2.2 -0.7 4.2 -1.9 -2.2 0.8z"/><path d="M1028.4 450l2.4 -1.2 4.1 -2 -2.4 1.3z"/><path d="M978.4 470.5l1.9 -0.2 4.3 -1.8 -1.9 0.3z"/><path d="M911.5 487.5l1.4 0.9 4.5 -1.4 -1.4 -0.8z"/><path d="M922 485.7l1.4 0.8 4.5 -1.5 -1.5 -0.7z"/><path d="M901 489l1.3 1.1 4.6 -1.3 -1.3 -1z"/><path d="M932.4 483.6l1.5 0.6 4.5 -1.5 -1.5 -0.6z"/><path d="M890.4 490.2l1.3 1.3 4.6 -1.3 -1.2 -1.2z"/><path d="M942.9 481.2l1.6 0.4 4.4 -1.6 -1.7 -0.3z"/><path d="M1082.5 421.2l3 -2.3 3.9 -2.2 -3.1 2.4z"/><path d="M1068 429.5l2.8 -2 3.9 -2.1 -2.8 2.1z"/><path d="M1097 412.3l3.2 -2.6 3.8 -2.3 -3.2 2.8z"/><path d="M879.8 491.1l1.2 1.4 4.7 -1.1 -1.2 -1.4z"/><path d="M1013.9 456.6l2.2 -0.9 4.2 -1.9 -2.3 0.9z"/><path d="M988.8 466.8l2.1 -0.4 4.2 -1.8 -2.1 0.4z"/><path d="M1053.5 437.4l2.6 -1.6 4 -2.1 -2.7 1.7z"/><path d="M953.3 478.5l1.7 0.2 4.4 -1.6 -1.8 -0.2z"/><path d="M1111.6 403l3.3 -3 3.8 -2.2 -3.3 3z"/><path d="M1038.9 444.9l2.5 -1.4 4.1 -2 -2.6 1.4z"/><path d="M963.7 475.5l1.8 0 4.4 -1.7 -1.9 0z"/><path d="M999.3 462.8l2.1 -0.6 4.2 -1.9 -2.2 0.7z"/><path d="M1024.4 451.9l2.3 -1.1 4.1 -2 -2.4 1.2z"/><path d="M974.2 472.1l1.8 0 4.3 -1.8 -1.9 0.2z"/><path d="M906.9 488.8l1.3 1 4.7 -1.4 -1.4 -0.9z"/><path d="M917.4 487l1.5 0.9 4.5 -1.4 -1.4 -0.8z"/><path d="M1078.6 423.3l3 -2.2 3.9 -2.2 -3 2.3z"/><path d="M896.3 490.2l1.3 1.2 4.7 -1.3 -1.3 -1.1z"/><path d="M927.9 485l1.5 0.7 4.5 -1.5 -1.5 -0.6z"/><path d="M1093.2 414.5l3.1 -2.6 3.9 -2.2 -3.2 2.6z"/><path d="M1064 431.6l2.8 -1.9 4 -2.2 -2.8 2z"/><path d="M885.7 491.4l1.2 1.3 4.8 -1.2 -1.3 -1.3z"/><path d="M938.4 482.7l1.6 0.5 4.5 -1.6 -1.6 -0.4z"/><path d="M1009.8 458.4l2.2 -0.7 4.1 -2 -2.2 0.9z"/><path d="M1107.8 405.2l3.3 -2.9 3.8 -2.3 -3.3 3z"/><path d="M1049.5 439.4l2.6 -1.5 4 -2.1 -2.6 1.6z"/><path d="M984.6 468.5l2 -0.3 4.3 -1.8 -2.1 0.4z"/><path d="M875.1 492.2l1.1 1.5 4.8 -1.2 -1.2 -1.4z"/><path d="M948.9 480l1.7 0.4 4.4 -1.7 -1.7 -0.2z"/><path d="M1034.9 446.8l2.5 -1.2 4 -2.1 -2.5 1.4z"/><path d="M959.4 477.1l1.7 0.2 4.4 -1.8 -1.8 0z"/><path d="M995.1 464.6l2.1 -0.5 4.2 -1.9 -2.1 0.6z"/><path d="M1020.3 453.8l2.3 -1 4.1 -2 -2.3 1.1z"/><path d="M969.9 473.8l1.8 0 4.3 -1.7 -1.8 0z"/><path d="M1074.7 425.4l2.9 -2.1 4 -2.2 -3 2.2z"/><path d="M1089.4 416.7l3 -2.5 3.9 -2.3 -3.1 2.6z"/><path d="M1060.1 433.7l2.7 -1.8 4 -2.2 -2.8 1.9z"/><path d="M1104 407.4l3.3 -2.7 3.8 -2.4 -3.3 2.9z"/><path d="M912.9 488.4l1.4 1 4.6 -1.5 -1.5 -0.9z"/><path d="M902.3 490.1l1.3 1.1 4.6 -1.4 -1.3 -1z"/><path d="M923.4 486.5l1.5 0.8 4.5 -1.6 -1.5 -0.7z"/><path d="M1045.5 441.5l2.6 -1.5 4 -2.1 -2.6 1.5z"/><path d="M1005.6 460.3l2.2 -0.6 4.2 -2 -2.2 0.7z"/><path d="M891.7 491.5l1.2 1.3 4.7 -1.4 -1.3 -1.2z"/><path d="M933.9 484.2l1.6 0.6 4.5 -1.6 -1.6 -0.5z"/><path d="M980.3 470.3l2 -0.2 4.3 -1.9 -2 0.3z"/><path d="M1118.7 397.8l3.4 -3.2 3.9 -2.4 -3.5 3.3z"/><path d="M881 492.5l1.2 1.5 4.7 -1.3 -1.2 -1.3z"/><path d="M1030.8 448.8l2.5 -1.1 4.1 -2.1 -2.5 1.2z"/><path d="M944.5 481.6l1.6 0.5 4.5 -1.7 -1.7 -0.4z"/><path d="M955 478.7l1.7 0.3 4.4 -1.7 -1.7 -0.2z"/><path d="M990.9 466.4l2 -0.4 4.3 -1.9 -2.1 0.5z"/><path d="M1016.1 455.7l2.3 -0.8 4.2 -2.1 -2.3 1z"/><path d="M1070.8 427.5l2.9 -2 3.9 -2.2 -2.9 2.1z"/><path d="M1085.5 418.9l3 -2.4 3.9 -2.3 -3 2.5z"/><path d="M1056.1 435.8l2.7 -1.7 4 -2.2 -2.7 1.8z"/><path d="M965.5 475.5l1.8 0.1 4.4 -1.8 -1.8 0z"/><path d="M1100.2 409.7l3.2 -2.7 3.9 -2.3 -3.3 2.7z"/><path d="M1041.4 443.5l2.6 -1.4 4.1 -2.1 -2.6 1.5z"/><path d="M1114.9 400l3.4 -3 3.8 -2.4 -3.4 3.2z"/><path d="M1001.4 462.2l2.2 -0.6 4.2 -1.9 -2.2 0.6z"/><path d="M908.2 489.8l1.4 1.1 4.7 -1.5 -1.4 -1z"/><path d="M897.6 491.4l1.3 1.3 4.7 -1.5 -1.3 -1.1z"/><path d="M918.9 487.9l1.4 0.9 4.6 -1.5 -1.5 -0.8z"/><path d="M976 472.1l2 -0.1 4.3 -1.9 -2 0.2z"/><path d="M886.9 492.7l1.3 1.4 4.7 -1.3 -1.2 -1.3z"/><path d="M929.4 485.7l1.6 0.7 4.5 -1.6 -1.6 -0.6z"/><path d="M1026.7 450.8l2.4 -1.1 4.2 -2 -2.5 1.1z"/><path d="M876.2 493.7l1.2 1.6 4.8 -1.3 -1.2 -1.5z"/><path d="M940 483.2l1.6 0.6 4.5 -1.7 -1.6 -0.5z"/><path d="M986.6 468.2l2 -0.2 4.3 -2 -2 0.4z"/><path d="M950.6 480.4l1.7 0.4 4.4 -1.8 -1.7 -0.3z"/><path d="M1012 457.7l2.2 -0.8 4.2 -2 -2.3 0.8z"/><path d="M1081.6 421.1l3 -2.3 3.9 -2.3 -3 2.4z"/><path d="M1066.8 429.7l2.9 -1.9 4 -2.3 -2.9 2z"/><path d="M1096.3 411.9l3.2 -2.6 3.9 -2.3 -3.2 2.7z"/><path d="M1052.1 437.9l2.7 -1.6 4 -2.2 -2.7 1.7z"/><path d="M961.1 477.3l1.8 0.2 4.4 -1.9 -1.8 -0.1z"/><path d="M1111.1 402.3l3.4 -2.9 3.8 -2.4 -3.4 3z"/><path d="M1037.4 445.6l2.5 -1.3 4.1 -2.2 -2.6 1.4z"/><path d="M997.2 464.1l2.1 -0.5 4.3 -2 -2.2 0.6z"/><path d="M971.7 473.8l1.9 0 4.4 -1.8 -2 0.1z"/><path d="M903.6 491.2l1.3 1.2 4.7 -1.5 -1.4 -1.1z"/><path d="M1022.6 452.8l2.4 -0.9 4.1 -2.2 -2.4 1.1z"/><path d="M914.3 489.4l1.4 1 4.6 -1.6 -1.4 -0.9z"/><path d="M892.9 492.8l1.3 1.3 4.7 -1.4 -1.3 -1.3z"/><path d="M924.9 487.3l1.5 0.8 4.6 -1.7 -1.6 -0.7z"/><path d="M882.2 494l1.2 1.5 4.8 -1.4 -1.3 -1.4z"/><path d="M935.5 484.8l1.6 0.7 4.5 -1.7 -1.6 -0.6z"/><path d="M1077.6 423.3l3 -2.2 4 -2.3 -3 2.3z"/><path d="M1062.8 431.9l2.8 -1.9 4.1 -2.2 -2.9 1.9z"/><path d="M1007.8 459.7l2.2 -0.7 4.2 -2.1 -2.2 0.8z"/><path d="M982.3 470.1l2 -0.2 4.3 -1.9 -2 0.2z"/><path d="M1092.4 414.2l3.2 -2.5 3.9 -2.4 -3.2 2.6z"/><path d="M946.1 482.1l1.7 0.4 4.5 -1.7 -1.7 -0.4z"/><path d="M1048.1 440l2.6 -1.5 4.1 -2.2 -2.7 1.6z"/><path d="M1107.3 404.7l3.3 -2.9 3.9 -2.4 -3.4 2.9z"/><path d="M1033.3 447.7l2.4 -1.2 4.2 -2.2 -2.5 1.3z"/><path d="M956.7 479l1.8 0.3 4.4 -1.8 -1.8 -0.2z"/><path d="M1122.1 394.6l3.5 -3.2 3.9 -2.5 -3.5 3.3z"/><path d="M992.9 466l2.1 -0.4 4.3 -2 -2.1 0.5z"/><path d="M1018.4 454.9l2.4 -0.9 4.2 -2.1 -2.4 0.9z"/><path d="M967.3 475.6l1.9 0.1 4.4 -1.9 -1.9 0z"/><path d="M898.9 492.7l1.3 1.2 4.7 -1.5 -1.3 -1.2z"/><path d="M909.6 490.9l1.4 1.1 4.7 -1.6 -1.4 -1z"/><path d="M888.2 494.1l1.2 1.4 4.8 -1.4 -1.3 -1.3z"/><path d="M920.3 488.8l1.5 0.9 4.6 -1.6 -1.5 -0.8z"/><path d="M1073.7 425.5l2.9 -2 4 -2.4 -3 2.2z"/><path d="M1058.8 434.1l2.8 -1.8 4 -2.3 -2.8 1.9z"/><path d="M877.4 495.3l1.1 1.6 4.9 -1.4 -1.2 -1.5z"/><path d="M931 486.4l1.5 0.8 4.6 -1.7 -1.6 -0.7z"/><path d="M1088.5 416.5l3.1 -2.4 4 -2.4 -3.2 2.5z"/><path d="M1003.6 461.6l2.2 -0.6 4.2 -2 -2.2 0.7z"/><path d="M978 472l1.9 -0.1 4.4 -2 -2 0.2z"/><path d="M1044 442.1l2.6 -1.4 4.1 -2.2 -2.6 1.5z"/><path d="M1103.4 407l3.3 -2.8 3.9 -2.4 -3.3 2.9z"/><path d="M941.6 483.8l1.7 0.5 4.5 -1.8 -1.7 -0.4z"/><path d="M1029.1 449.7l2.5 -1 4.1 -2.2 -2.4 1.2z"/><path d="M1118.3 397l3.5 -3.1 3.8 -2.5 -3.5 3.2z"/><path d="M952.3 480.8l1.7 0.3 4.5 -1.8 -1.8 -0.3z"/><path d="M988.6 468l2.1 -0.3 4.3 -2.1 -2.1 0.4z"/><path d="M1014.2 456.9l2.3 -0.8 4.3 -2.1 -2.4 0.9z"/><path d="M962.9 477.5l1.9 0.2 4.4 -2 -1.9 -0.1z"/><path d="M1069.7 427.8l2.9 -2 4 -2.3 -2.9 2z"/><path d="M1084.6 418.8l3 -2.3 4 -2.4 -3.1 2.4z"/><path d="M1054.8 436.3l2.7 -1.7 4.1 -2.3 -2.8 1.8z"/><path d="M904.9 492.4l1.4 1.2 4.7 -1.6 -1.4 -1.1z"/><path d="M894.2 494.1l1.3 1.3 4.7 -1.5 -1.3 -1.2z"/><path d="M915.7 490.4l1.4 1 4.7 -1.7 -1.5 -0.9z"/><path d="M883.4 495.5l1.2 1.5 4.8 -1.5 -1.2 -1.4z"/><path d="M1099.5 409.3l3.2 -2.6 4 -2.5 -3.3 2.8z"/><path d="M999.3 463.6l2.2 -0.5 4.3 -2.1 -2.2 0.6z"/><path d="M1039.9 444.3l2.6 -1.3 4.1 -2.3 -2.6 1.4z"/><path d="M926.4 488.1l1.5 0.8 4.6 -1.7 -1.5 -0.8z"/><path d="M973.6 473.8l1.9 0 4.4 -1.9 -1.9 0.1z"/><path d="M937.1 485.5l1.6 0.6 4.6 -1.8 -1.7 -0.5z"/><path d="M1114.5 399.4l3.4 -3 3.9 -2.5 -3.5 3.1z"/><path d="M1025 451.9l2.4 -1 4.2 -2.2 -2.5 1z"/><path d="M947.8 482.5l1.7 0.5 4.5 -1.9 -1.7 -0.3z"/><path d="M984.3 469.9l2 -0.2 4.4 -2 -2.1 0.3z"/><path d="M1010 459l2.3 -0.7 4.2 -2.2 -2.3 0.8z"/><path d="M1065.6 430l2.9 -1.8 4.1 -2.4 -2.9 2z"/><path d="M958.5 479.3l1.8 0.3 4.5 -1.9 -1.9 -0.2z"/><path d="M1080.6 421.1l3 -2.2 4 -2.4 -3 2.3z"/><path d="M1050.7 438.5l2.7 -1.6 4.1 -2.3 -2.7 1.7z"/><path d="M1095.6 411.7l3.2 -2.5 3.9 -2.5 -3.2 2.6z"/><path d="M1035.7 446.5l2.6 -1.3 4.2 -2.2 -2.6 1.3z"/><path d="M995 465.6l2.1 -0.4 4.4 -2.1 -2.2 0.5z"/><path d="M900.2 493.9l1.4 1.3 4.7 -1.6 -1.4 -1.2z"/><path d="M889.4 495.5l1.3 1.5 4.8 -1.6 -1.3 -1.3z"/><path d="M911 492l1.4 1.1 4.7 -1.7 -1.4 -1z"/><path d="M1110.6 401.8l3.4 -2.9 3.9 -2.5 -3.4 3z"/><path d="M969.2 475.7l1.9 0.1 4.4 -2 -1.9 0z"/><path d="M878.5 496.9l1.2 1.6 4.9 -1.5 -1.2 -1.5z"/><path d="M921.8 489.7l1.5 1 4.6 -1.8 -1.5 -0.8z"/><path d="M1020.8 454l2.4 -0.9 4.2 -2.2 -2.4 1z"/><path d="M932.5 487.2l1.6 0.7 4.6 -1.8 -1.6 -0.6z"/><path d="M1125.6 391.4l3.6 -3.3 3.9 -2.6 -3.6 3.4z"/><path d="M943.3 484.3l1.7 0.6 4.5 -1.9 -1.7 -0.5z"/><path d="M979.9 471.9l2 -0.1 4.4 -2.1 -2 0.2z"/><path d="M1005.8 461l2.2 -0.5 4.3 -2.2 -2.3 0.7z"/><path d="M1061.6 432.3l2.8 -1.7 4.1 -2.4 -2.9 1.8z"/><path d="M1076.6 423.5l3 -2.2 4 -2.4 -3 2.2z"/><path d="M1046.6 440.7l2.7 -1.4 4.1 -2.4 -2.7 1.6z"/><path d="M1091.6 414.1l3.2 -2.5 4 -2.4 -3.2 2.5z"/><path d="M954 481.1l1.8 0.4 4.5 -1.9 -1.8 -0.3z"/><path d="M1031.6 448.7l2.5 -1.2 4.2 -2.3 -2.6 1.3z"/><path d="M1106.7 404.2l3.3 -2.8 4 -2.5 -3.4 2.9z"/><path d="M990.7 467.7l2.1 -0.3 4.3 -2.2 -2.1 0.4z"/><path d="M964.8 477.7l1.8 0.1 4.5 -2 -1.9 -0.1z"/><path d="M895.5 495.4l1.3 1.4 4.8 -1.6 -1.4 -1.3z"/><path d="M906.3 493.6l1.4 1.2 4.7 -1.7 -1.4 -1.1z"/><path d="M884.6 497l1.2 1.5 4.9 -1.5 -1.3 -1.5z"/><path d="M1016.5 456.1l2.4 -0.8 4.3 -2.2 -2.4 0.9z"/><path d="M917.1 491.4l1.5 1 4.7 -1.7 -1.5 -1z"/><path d="M1121.8 393.9l3.5 -3.2 3.9 -2.6 -3.6 3.3z"/><path d="M927.9 488.9l1.6 0.9 4.6 -1.9 -1.6 -0.7z"/><path d="M975.5 473.8l2 0 4.4 -2 -2 0.1z"/><path d="M1001.5 463.1l2.2 -0.5 4.3 -2.1 -2.2 0.5z"/><path d="M938.7 486.1l1.7 0.7 4.6 -1.9 -1.7 -0.6z"/><path d="M1072.6 425.8l2.9 -2 4.1 -2.5 -3 2.2z"/><path d="M1057.5 434.6l2.8 -1.6 4.1 -2.4 -2.8 1.7z"/><path d="M1087.6 416.5l3.2 -2.4 4 -2.5 -3.2 2.5z"/><path d="M1042.5 443l2.6 -1.4 4.2 -2.3 -2.7 1.4z"/><path d="M949.5 483l1.8 0.5 4.5 -2 -1.8 -0.4z"/><path d="M1102.7 406.7l3.3 -2.7 4 -2.6 -3.3 2.8z"/><path d="M1027.4 450.9l2.5 -1.1 4.2 -2.3 -2.5 1.2z"/><path d="M986.3 469.7l2.1 -0.2 4.4 -2.1 -2.1 0.3z"/><path d="M1117.9 396.4l3.5 -3.1 3.9 -2.6 -3.5 3.2z"/><path d="M1012.3 458.3l2.3 -0.7 4.3 -2.3 -2.4 0.8z"/><path d="M960.3 479.6l1.8 0.3 4.5 -2.1 -1.8 -0.1z"/><path d="M890.7 497l1.3 1.4 4.8 -1.6 -1.3 -1.4z"/><path d="M901.6 495.2l1.3 1.3 4.8 -1.7 -1.4 -1.2z"/><path d="M879.7 498.5l1.2 1.6 4.9 -1.6 -1.2 -1.5z"/><path d="M912.4 493.1l1.5 1.1 4.7 -1.8 -1.5 -1z"/><path d="M923.3 490.7l1.5 0.9 4.7 -1.8 -1.6 -0.9z"/><path d="M1068.5 428.2l2.9 -1.9 4.1 -2.5 -2.9 2z"/><path d="M1053.4 436.9l2.7 -1.5 4.2 -2.4 -2.8 1.6z"/><path d="M997.1 465.2l2.2 -0.3 4.4 -2.3 -2.2 0.5z"/><path d="M971.1 475.8l2 0.1 4.4 -2.1 -2 0z"/><path d="M1083.6 418.9l3.1 -2.2 4.1 -2.6 -3.2 2.4z"/><path d="M1038.3 445.2l2.6 -1.2 4.2 -2.4 -2.6 1.4z"/><path d="M934.1 487.9l1.7 0.8 4.6 -1.9 -1.7 -0.7z"/><path d="M1098.8 409.2l3.2 -2.7 4 -2.5 -3.3 2.7z"/><path d="M1023.2 453.1l2.4 -0.9 4.3 -2.4 -2.5 1.1z"/><path d="M945 484.9l1.7 0.6 4.6 -2 -1.8 -0.5z"/><path d="M1114 398.9l3.4 -3 4 -2.6 -3.5 3.1z"/><path d="M981.9 471.8l2.1 -0.1 4.4 -2.2 -2.1 0.2z"/><path d="M1008 460.5l2.3 -0.7 4.3 -2.2 -2.3 0.7z"/><path d="M955.8 481.5l1.8 0.4 4.5 -2 -1.8 -0.3z"/><path d="M1129.2 388.1l3.7 -3.3 3.9 -2.7 -3.7 3.4z"/><path d="M896.8 496.8l1.3 1.4 4.8 -1.7 -1.3 -1.3z"/><path d="M885.8 498.5l1.3 1.6 4.9 -1.7 -1.3 -1.4z"/><path d="M1064.4 430.6l2.9 -1.9 4.1 -2.4 -2.9 1.9z"/><path d="M907.7 494.8l1.4 1.2 4.8 -1.8 -1.5 -1.1z"/><path d="M1049.3 439.3l2.7 -1.5 4.1 -2.4 -2.7 1.5z"/><path d="M1079.6 421.3l3 -2.1 4.1 -2.5 -3.1 2.2z"/><path d="M992.8 467.4l2.1 -0.3 4.4 -2.2 -2.2 0.3z"/><path d="M918.6 492.4l1.5 1.1 4.7 -1.9 -1.5 -0.9z"/><path d="M1034.1 447.5l2.5 -1.1 4.3 -2.4 -2.6 1.2z"/><path d="M966.6 477.8l2 0.2 4.5 -2.1 -2 -0.1z"/><path d="M1094.8 411.6l3.2 -2.5 4 -2.6 -3.2 2.7z"/><path d="M929.5 489.8l1.6 0.8 4.7 -1.9 -1.7 -0.8z"/><path d="M1018.9 455.3l2.4 -0.8 4.3 -2.3 -2.4 0.9z"/><path d="M1110 401.4l3.4 -2.9 4 -2.6 -3.4 3z"/><path d="M940.4 486.8l1.7 0.7 4.6 -2 -1.7 -0.6z"/><path d="M977.5 473.8l2 0 4.5 -2.1 -2.1 0.1z"/><path d="M1003.7 462.6l2.2 -0.5 4.4 -2.3 -2.3 0.7z"/><path d="M1125.3 390.7l3.6 -3.3 4 -2.6 -3.7 3.3z"/><path d="M951.3 483.5l1.7 0.5 4.6 -2.1 -1.8 -0.4z"/><path d="M1060.3 433l2.8 -1.8 4.2 -2.5 -2.9 1.9z"/><path d="M1075.5 423.8l3 -2.1 4.1 -2.5 -3 2.1z"/><path d="M1045.1 441.6l2.7 -1.3 4.2 -2.5 -2.7 1.5z"/><path d="M1090.8 414.1l3.2 -2.4 4 -2.6 -3.2 2.5z"/><path d="M892 498.4l1.3 1.5 4.8 -1.7 -1.3 -1.4z"/><path d="M1029.9 449.8l2.5 -1 4.2 -2.4 -2.5 1.1z"/><path d="M988.4 469.5l2.1 -0.2 4.4 -2.2 -2.1 0.3z"/><path d="M880.9 500.1l1.3 1.7 4.9 -1.7 -1.3 -1.6z"/><path d="M902.9 496.5l1.4 1.3 4.8 -1.8 -1.4 -1.2z"/><path d="M962.1 479.9l1.9 0.3 4.6 -2.2 -2 -0.2z"/><path d="M913.9 494.2l1.5 1.1 4.7 -1.8 -1.5 -1.1z"/><path d="M1106 404l3.4 -2.8 4 -2.7 -3.4 2.9z"/><path d="M1014.6 457.6l2.4 -0.7 4.3 -2.4 -2.4 0.8z"/><path d="M924.8 491.6l1.6 1 4.7 -2 -1.6 -0.8z"/><path d="M935.8 488.7l1.6 0.8 4.7 -2 -1.7 -0.7z"/><path d="M973.1 475.9l1.9 0.1 4.5 -2.2 -2 0z"/><path d="M1121.4 393.3l3.6 -3.2 3.9 -2.7 -3.6 3.3z"/><path d="M999.3 464.9l2.2 -0.5 4.4 -2.3 -2.2 0.5z"/><path d="M1056.1 435.4l2.9 -1.6 4.1 -2.6 -2.8 1.8z"/><path d="M1071.4 426.3l3 -2 4.1 -2.6 -3 2.1z"/><path d="M946.7 485.5l1.7 0.6 4.6 -2.1 -1.7 -0.5z"/><path d="M1040.9 444l2.6 -1.3 4.3 -2.4 -2.7 1.3z"/><path d="M1086.7 416.7l3.2 -2.4 4.1 -2.6 -3.2 2.4z"/><path d="M1025.6 452.2l2.5 -1 4.3 -2.4 -2.5 1z"/><path d="M984 471.7l2.1 -0.1 4.4 -2.3 -2.1 0.2z"/><path d="M1102 406.5l3.4 -2.6 4 -2.7 -3.4 2.8z"/><path d="M887.1 500.1l1.3 1.6 4.9 -1.8 -1.3 -1.5z"/><path d="M957.6 481.9l1.9 0.4 4.5 -2.1 -1.9 -0.3z"/><path d="M898.1 498.2l1.4 1.4 4.8 -1.8 -1.4 -1.3z"/><path d="M909.1 496l1.5 1.2 4.8 -1.9 -1.5 -1.1z"/><path d="M1010.3 459.8l2.3 -0.6 4.4 -2.3 -2.4 0.7z"/><path d="M920.1 493.5l1.6 1 4.7 -1.9 -1.6 -1z"/><path d="M1117.4 395.9l3.6 -3 4 -2.8 -3.6 3.2z"/><path d="M968.6 478l1.9 0.2 4.5 -2.2 -1.9 -0.1z"/><path d="M931.1 490.6l1.6 0.9 4.7 -2 -1.6 -0.8z"/><path d="M994.9 467.1l2.2 -0.3 4.4 -2.4 -2.2 0.5z"/><path d="M1052 437.8l2.7 -1.5 4.3 -2.5 -2.9 1.6z"/><path d="M1067.3 428.7l2.9 -1.8 4.2 -2.6 -3 2z"/><path d="M1036.6 446.4l2.7 -1.2 4.2 -2.5 -2.6 1.3z"/><path d="M1082.6 419.2l3.2 -2.2 4.1 -2.7 -3.2 2.4z"/><path d="M1132.9 384.8l3.7 -3.5 4 -2.8 -3.8 3.6z"/><path d="M942.1 487.5l1.7 0.6 4.6 -2 -1.7 -0.6z"/><path d="M1021.3 454.5l2.5 -0.8 4.3 -2.5 -2.5 1z"/><path d="M1098 409.1l3.3 -2.5 4.1 -2.7 -3.4 2.6z"/><path d="M979.5 473.8l2.1 0 4.5 -2.2 -2.1 0.1z"/><path d="M953 484l1.8 0.5 4.7 -2.2 -1.9 -0.4z"/><path d="M1005.9 462.1l2.3 -0.5 4.4 -2.4 -2.3 0.6z"/><path d="M882.2 501.8l1.2 1.6 5 -1.7 -1.3 -1.6z"/><path d="M893.3 499.9l1.3 1.5 4.9 -1.8 -1.4 -1.4z"/><path d="M1113.4 398.5l3.6 -2.9 4 -2.7 -3.6 3z"/><path d="M904.3 497.8l1.4 1.3 4.9 -1.9 -1.5 -1.2z"/><path d="M915.4 495.3l1.5 1.2 4.8 -2 -1.6 -1z"/><path d="M990.5 469.3l2.2 -0.2 4.4 -2.3 -2.2 0.3z"/><path d="M964 480.2l1.9 0.3 4.6 -2.3 -1.9 -0.2z"/><path d="M1063.1 431.2l3 -1.7 4.1 -2.6 -2.9 1.8z"/><path d="M1047.8 440.3l2.7 -1.4 4.2 -2.6 -2.7 1.5z"/><path d="M926.4 492.6l1.6 0.9 4.7 -2 -1.6 -0.9z"/><path d="M1128.9 387.4l3.8 -3.3 3.9 -2.8 -3.7 3.5z"/><path d="M1078.5 421.7l3.1 -2.1 4.2 -2.6 -3.2 2.2z"/><path d="M1032.4 448.8l2.6 -1.1 4.3 -2.5 -2.7 1.2z"/><path d="M1094 411.7l3.2 -2.4 4.1 -2.7 -3.3 2.5z"/><path d="M1017 456.9l2.4 -0.8 4.4 -2.4 -2.5 0.8z"/><path d="M937.4 489.5l1.7 0.8 4.7 -2.2 -1.7 -0.6z"/><path d="M975 476l2 0.1 4.6 -2.3 -2.1 0z"/><path d="M1109.4 401.2l3.5 -2.8 4.1 -2.8 -3.6 2.9z"/><path d="M1001.5 464.4l2.3 -0.4 4.4 -2.4 -2.3 0.5z"/><path d="M948.4 486.1l1.8 0.6 4.6 -2.2 -1.8 -0.5z"/><path d="M888.4 501.7l1.3 1.6 4.9 -1.9 -1.3 -1.5z"/><path d="M899.5 499.6l1.4 1.4 4.8 -1.9 -1.4 -1.3z"/><path d="M1059 433.8l2.8 -1.7 4.3 -2.6 -3 1.7z"/><path d="M1043.5 442.7l2.7 -1.3 4.3 -2.5 -2.7 1.4z"/><path d="M1125 390.1l3.6 -3.2 4.1 -2.8 -3.8 3.3z"/><path d="M910.6 497.2l1.4 1.3 4.9 -2 -1.5 -1.2z"/><path d="M986.1 471.6l2.1 -0.1 4.5 -2.4 -2.2 0.2z"/><path d="M1074.4 424.3l3.1 -2 4.1 -2.7 -3.1 2.1z"/><path d="M959.5 482.3l1.8 0.4 4.6 -2.2 -1.9 -0.3z"/><path d="M1028.1 451.2l2.5 -0.9 4.4 -2.6 -2.6 1.1z"/><path d="M921.7 494.5l1.5 1.1 4.8 -2.1 -1.6 -0.9z"/><path d="M1089.9 414.3l3.2 -2.3 4.1 -2.7 -3.2 2.4z"/><path d="M1012.6 459.2l2.4 -0.6 4.4 -2.5 -2.4 0.8z"/><path d="M932.7 491.5l1.7 0.9 4.7 -2.1 -1.7 -0.8z"/><path d="M1105.4 403.9l3.4 -2.8 4.1 -2.7 -3.5 2.8z"/><path d="M970.5 478.2l2 0.3 4.5 -2.4 -2 -0.1z"/><path d="M997.1 466.8l2.3 -0.3 4.4 -2.5 -2.3 0.4z"/><path d="M943.8 488.1l1.7 0.7 4.7 -2.1 -1.8 -0.6z"/><path d="M1121 392.9l3.6 -3.2 4 -2.8 -3.6 3.2z"/><path d="M1054.7 436.3l2.9 -1.5 4.2 -2.7 -2.8 1.7z"/><path d="M1039.3 445.2l2.6 -1.2 4.3 -2.6 -2.7 1.3z"/><path d="M1070.2 426.9l3.1 -1.9 4.2 -2.7 -3.1 2z"/><path d="M883.4 503.4l1.3 1.8 5 -1.9 -1.3 -1.6z"/><path d="M894.6 501.4l1.4 1.6 4.9 -2 -1.4 -1.4z"/><path d="M981.6 473.8l2.1 0.1 4.5 -2.4 -2.1 0.1z"/><path d="M1023.8 453.7l2.5 -0.9 4.3 -2.5 -2.5 0.9z"/><path d="M1085.8 417l3.2 -2.3 4.1 -2.7 -3.2 2.3z"/><path d="M954.8 484.5l1.9 0.5 4.6 -2.3 -1.8 -0.4z"/><path d="M905.7 499.1l1.5 1.4 4.8 -2 -1.4 -1.3z"/><path d="M916.9 496.5l1.5 1.2 4.8 -2.1 -1.5 -1.1z"/><path d="M1008.2 461.6l2.4 -0.5 4.4 -2.5 -2.4 0.6z"/><path d="M1136.6 381.3l3.9 -3.5 4 -2.9 -3.9 3.6z"/><path d="M1101.3 406.6l3.4 -2.7 4.1 -2.8 -3.4 2.8z"/><path d="M928 493.5l1.6 1 4.8 -2.1 -1.7 -0.9z"/><path d="M965.9 480.5l2 0.3 4.6 -2.3 -2 -0.3z"/><path d="M992.7 469.1l2.2 -0.2 4.5 -2.4 -2.3 0.3z"/><path d="M1117 395.6l3.5 -3 4.1 -2.9 -3.6 3.2z"/><path d="M939.1 490.3l1.7 0.8 4.7 -2.3 -1.7 -0.7z"/><path d="M1050.5 438.9l2.8 -1.5 4.3 -2.6 -2.9 1.5z"/><path d="M1066.1 429.5l2.9 -1.8 4.3 -2.7 -3.1 1.9z"/><path d="M1035 447.7l2.6 -1.1 4.3 -2.6 -2.6 1.2z"/><path d="M1081.6 419.6l3.2 -2.1 4.2 -2.8 -3.2 2.3z"/><path d="M1019.4 456.1l2.5 -0.7 4.4 -2.6 -2.5 0.9z"/><path d="M977 476.1l2.1 0.1 4.6 -2.3 -2.1 -0.1z"/><path d="M889.7 503.3l1.3 1.6 5 -1.9 -1.4 -1.6z"/><path d="M950.2 486.7l1.8 0.6 4.7 -2.3 -1.9 -0.5z"/><path d="M1132.7 384.1l3.8 -3.4 4 -2.9 -3.9 3.5z"/><path d="M900.9 501l1.4 1.5 4.9 -2 -1.5 -1.4z"/><path d="M1097.2 409.3l3.4 -2.6 4.1 -2.8 -3.4 2.7z"/><path d="M1003.8 464l2.3 -0.4 4.5 -2.5 -2.4 0.5z"/><path d="M912 498.5l1.5 1.3 4.9 -2.1 -1.5 -1.2z"/><path d="M961.3 482.7l1.9 0.4 4.7 -2.3 -2 -0.3z"/><path d="M923.2 495.6l1.6 1.1 4.8 -2.2 -1.6 -1z"/><path d="M1112.9 398.4l3.5 -2.9 4.1 -2.9 -3.5 3z"/><path d="M988.2 471.5l2.1 -0.1 4.6 -2.5 -2.2 0.2z"/><path d="M1046.2 441.4l2.8 -1.3 4.3 -2.7 -2.8 1.5z"/><path d="M1061.8 432.1l3 -1.6 4.2 -2.8 -2.9 1.8z"/><path d="M1030.6 450.3l2.6 -1 4.4 -2.7 -2.6 1.1z"/><path d="M934.4 492.4l1.7 0.9 4.7 -2.2 -1.7 -0.8z"/><path d="M1077.5 422.3l3.1 -2 4.2 -2.8 -3.2 2.1z"/><path d="M1015 458.6l2.4 -0.6 4.5 -2.6 -2.5 0.7z"/><path d="M1128.6 386.9l3.8 -3.3 4.1 -2.9 -3.8 3.4z"/><path d="M972.5 478.5l2 0.2 4.6 -2.5 -2.1 -0.1z"/><path d="M1093.1 412l3.3 -2.4 4.2 -2.9 -3.4 2.6z"/><path d="M945.5 488.8l1.8 0.8 4.7 -2.3 -1.8 -0.6z"/><path d="M999.4 466.5l2.2 -0.4 4.5 -2.5 -2.3 0.4z"/><path d="M884.7 505.2l1.3 1.7 5 -2 -1.3 -1.6z"/><path d="M896 503l1.3 1.6 5 -2.1 -1.4 -1.5z"/><path d="M1108.8 401.1l3.5 -2.8 4.1 -2.8 -3.5 2.9z"/><path d="M907.2 500.5l1.5 1.4 4.8 -2.1 -1.5 -1.3z"/><path d="M956.7 485l1.9 0.5 4.6 -2.4 -1.9 -0.4z"/><path d="M983.7 473.9l2.1 0 4.5 -2.5 -2.1 0.1z"/><path d="M918.4 497.7l1.6 1.2 4.8 -2.2 -1.6 -1.1z"/><path d="M1041.9 444l2.8 -1.2 4.3 -2.7 -2.8 1.3z"/><path d="M1057.6 434.8l2.9 -1.6 4.3 -2.7 -3 1.6z"/><path d="M1026.3 452.8l2.5 -0.9 4.4 -2.6 -2.6 1z"/><path d="M1073.3 425l3 -1.9 4.3 -2.8 -3.1 2z"/><path d="M1124.6 389.7l3.7 -3.1 4.1 -3 -3.8 3.3z"/><path d="M929.6 494.5l1.7 1 4.8 -2.2 -1.7 -0.9z"/><path d="M1010.6 461.1l2.4 -0.5 4.4 -2.6 -2.4 0.6z"/><path d="M1089 414.7l3.2 -2.3 4.2 -2.8 -3.3 2.4z"/><path d="M967.9 480.8l2 0.3 4.6 -2.4 -2 -0.2z"/><path d="M994.9 468.9l2.2 -0.2 4.5 -2.6 -2.2 0.4z"/><path d="M940.8 491.1l1.8 0.8 4.7 -2.3 -1.8 -0.8z"/><path d="M1104.7 403.9l3.5 -2.7 4.1 -2.9 -3.5 2.8z"/><path d="M1140.5 377.8l3.9 -3.6 4.1 -3 -4 3.7z"/><path d="M891 504.9l1.3 1.7 5 -2 -1.3 -1.6z"/><path d="M902.3 502.5l1.4 1.5 5 -2.1 -1.5 -1.4z"/><path d="M1053.3 437.4l2.9 -1.4 4.3 -2.8 -2.9 1.6z"/><path d="M979.1 476.2l2.1 0.2 4.6 -2.5 -2.1 0z"/><path d="M1037.6 446.6l2.7 -1.1 4.4 -2.7 -2.8 1.2z"/><path d="M952 487.3l1.9 0.6 4.7 -2.4 -1.9 -0.5z"/><path d="M1069 427.7l3.1 -1.8 4.2 -2.8 -3 1.9z"/><path d="M1120.5 392.6l3.7 -3.1 4.1 -2.9 -3.7 3.1z"/><path d="M1021.9 455.4l2.5 -0.8 4.4 -2.7 -2.5 0.9z"/><path d="M913.5 499.8l1.6 1.3 4.9 -2.2 -1.6 -1.2z"/><path d="M1084.8 417.5l3.2 -2.2 4.2 -2.9 -3.2 2.3z"/><path d="M1006.1 463.6l2.4 -0.4 4.5 -2.6 -2.4 0.5z"/><path d="M924.8 496.7l1.6 1.1 4.9 -2.3 -1.7 -1z"/><path d="M963.2 483.1l2 0.5 4.7 -2.5 -2 -0.3z"/><path d="M1100.6 406.7l3.4 -2.5 4.2 -3 -3.5 2.7z"/><path d="M1136.5 380.7l3.8 -3.5 4.1 -3 -3.9 3.6z"/><path d="M990.3 471.4l2.3 -0.1 4.5 -2.6 -2.2 0.2z"/><path d="M936.1 493.3l1.7 0.9 4.8 -2.3 -1.8 -0.8z"/><path d="M1049 440.1l2.8 -1.3 4.4 -2.8 -2.9 1.4z"/><path d="M1033.2 449.3l2.7 -1 4.4 -2.8 -2.7 1.1z"/><path d="M886 506.9l1.3 1.8 5 -2.1 -1.3 -1.7z"/><path d="M1116.4 395.5l3.7 -3 4.1 -3 -3.7 3.1z"/><path d="M1064.8 430.5l3 -1.8 4.3 -2.8 -3.1 1.8z"/><path d="M974.5 478.7l2.1 0.2 4.6 -2.5 -2.1 -0.2z"/><path d="M897.3 504.6l1.4 1.5 5 -2.1 -1.4 -1.5z"/><path d="M947.3 489.6l1.8 0.7 4.8 -2.4 -1.9 -0.6z"/><path d="M1017.4 458l2.5 -0.7 4.5 -2.7 -2.5 0.8z"/><path d="M1080.6 420.3l3.2 -2.1 4.2 -2.9 -3.2 2.2z"/><path d="M908.7 501.9l1.5 1.4 4.9 -2.2 -1.6 -1.3z"/><path d="M1001.6 466.1l2.4 -0.3 4.5 -2.6 -2.4 0.4z"/><path d="M920 498.9l1.5 1.2 4.9 -2.3 -1.6 -1.1z"/><path d="M1096.4 409.6l3.4 -2.5 4.2 -2.9 -3.4 2.5z"/><path d="M1132.4 383.6l3.8 -3.4 4.1 -3 -3.8 3.5z"/><path d="M958.6 485.5l1.9 0.5 4.7 -2.4 -2 -0.5z"/><path d="M985.8 473.9l2.2 0 4.6 -2.6 -2.3 0.1z"/><path d="M931.3 495.5l1.6 1.1 4.9 -2.4 -1.7 -0.9z"/><path d="M1112.3 398.3l3.6 -2.8 4.2 -3 -3.7 3z"/><path d="M1044.7 442.8l2.7 -1.2 4.4 -2.8 -2.8 1.3z"/><path d="M1028.8 451.9l2.6 -0.9 4.5 -2.7 -2.7 1z"/><path d="M1060.5 433.2l2.9 -1.6 4.4 -2.9 -3 1.8z"/><path d="M969.9 481.1l2 0.3 4.7 -2.5 -2.1 -0.2z"/><path d="M1013 460.6l2.4 -0.6 4.5 -2.7 -2.5 0.7z"/><path d="M1076.3 423.1l3.2 -2 4.3 -2.9 -3.2 2.1z"/><path d="M942.6 491.9l1.7 0.8 4.8 -2.4 -1.8 -0.7z"/><path d="M892.3 506.6l1.4 1.7 5 -2.2 -1.4 -1.5z"/><path d="M997.1 468.7l2.3 -0.2 4.6 -2.7 -2.4 0.3z"/><path d="M1128.3 386.6l3.8 -3.3 4.1 -3.1 -3.8 3.4z"/><path d="M903.7 504l1.5 1.5 5 -2.2 -1.5 -1.4z"/><path d="M1092.2 412.4l3.4 -2.3 4.2 -3 -3.4 2.5z"/><path d="M915.1 501.1l1.5 1.3 4.9 -2.3 -1.5 -1.2z"/><path d="M953.9 487.9l1.9 0.6 4.7 -2.5 -1.9 -0.5z"/><path d="M981.2 476.4l2.1 0.1 4.7 -2.6 -2.2 0z"/><path d="M1108.2 401.2l3.5 -2.7 4.2 -3 -3.6 2.8z"/><path d="M1040.3 445.5l2.7 -1.1 4.4 -2.8 -2.7 1.2z"/><path d="M926.4 497.8l1.7 1.1 4.8 -2.3 -1.6 -1.1z"/><path d="M1056.2 436l2.9 -1.5 4.3 -2.9 -2.9 1.6z"/><path d="M1024.4 454.6l2.6 -0.8 4.4 -2.8 -2.6 0.9z"/><path d="M1144.4 374.2l4 -3.7 4.1 -3.1 -4 3.8z"/><path d="M1072.1 425.9l3.1 -1.9 4.3 -2.9 -3.2 2z"/><path d="M1008.5 463.2l2.4 -0.5 4.5 -2.7 -2.4 0.6z"/><path d="M965.2 483.6l2 0.4 4.7 -2.6 -2 -0.3z"/><path d="M1124.2 389.5l3.8 -3.1 4.1 -3.1 -3.8 3.3z"/><path d="M937.8 494.2l1.7 1 4.8 -2.5 -1.7 -0.8z"/><path d="M1088 415.3l3.3 -2.2 4.3 -3 -3.4 2.3z"/><path d="M992.6 471.3l2.2 -0.1 4.6 -2.7 -2.3 0.2z"/><path d="M887.3 508.7l1.4 1.8 5 -2.2 -1.4 -1.7z"/><path d="M898.7 506.1l1.5 1.7 5 -2.3 -1.5 -1.5z"/><path d="M1104 404.2l3.5 -2.7 4.2 -3 -3.5 2.7z"/><path d="M949.1 490.3l1.9 0.7 4.8 -2.5 -1.9 -0.6z"/><path d="M976.6 478.9l2.1 0.2 4.6 -2.6 -2.1 -0.1z"/><path d="M910.2 503.3l1.5 1.4 4.9 -2.3 -1.5 -1.3z"/><path d="M1140.3 377.2l4 -3.6 4.1 -3.1 -4 3.7z"/><path d="M1035.9 448.3l2.7 -1 4.4 -2.9 -2.7 1.1z"/><path d="M1051.8 438.8l2.9 -1.4 4.4 -2.9 -2.9 1.5z"/><path d="M1019.9 457.3l2.6 -0.7 4.5 -2.8 -2.6 0.8z"/><path d="M921.5 500.1l1.7 1.2 4.9 -2.4 -1.7 -1.1z"/><path d="M1067.8 428.7l3 -1.7 4.4 -3 -3.1 1.9z"/><path d="M1004 465.8l2.3 -0.3 4.6 -2.8 -2.4 0.5z"/><path d="M1120.1 392.5l3.7 -3.1 4.2 -3 -3.8 3.1z"/><path d="M960.5 486l2 0.6 4.7 -2.6 -2 -0.4z"/><path d="M1083.8 418.2l3.2 -2.1 4.3 -3 -3.3 2.2z"/><path d="M932.9 496.6l1.8 1 4.8 -2.4 -1.7 -1z"/><path d="M988 473.9l2.2 0 4.6 -2.7 -2.2 0.1z"/><path d="M1099.8 407.1l3.5 -2.5 4.2 -3.1 -3.5 2.7z"/><path d="M893.7 508.3l1.4 1.7 5.1 -2.2 -1.5 -1.7z"/><path d="M1136.2 380.2l4 -3.4 4.1 -3.2 -4 3.6z"/><path d="M971.9 481.4l2.1 0.4 4.7 -2.7 -2.1 -0.2z"/><path d="M944.3 492.7l1.9 0.9 4.8 -2.6 -1.9 -0.7z"/><path d="M1031.4 451l2.7 -0.9 4.5 -2.8 -2.7 1z"/><path d="M1047.4 441.6l2.9 -1.3 4.4 -2.9 -2.9 1.4z"/><path d="M905.2 505.5l1.5 1.6 5 -2.4 -1.5 -1.4z"/><path d="M1015.4 460l2.5 -0.6 4.6 -2.8 -2.6 0.7z"/><path d="M1063.4 431.6l3.1 -1.6 4.3 -3 -3 1.7z"/><path d="M1115.9 395.5l3.7 -2.9 4.2 -3.2 -3.7 3.1z"/><path d="M999.4 468.5l2.3 -0.2 4.6 -2.8 -2.3 0.3z"/><path d="M916.6 502.4l1.6 1.4 5 -2.5 -1.7 -1.2z"/><path d="M1079.5 421.1l3.2 -2 4.3 -3 -3.2 2.1z"/><path d="M955.8 488.5l1.9 0.7 4.8 -2.6 -2 -0.6z"/><path d="M983.3 476.5l2.2 0.1 4.7 -2.7 -2.2 0z"/><path d="M928.1 498.9l1.7 1.2 4.9 -2.5 -1.8 -1z"/><path d="M1095.6 410.1l3.4 -2.4 4.3 -3.1 -3.5 2.5z"/><path d="M1132.1 383.3l3.9 -3.4 4.2 -3.1 -4 3.4z"/><path d="M1043 444.4l2.8 -1.1 4.5 -3 -2.9 1.3z"/><path d="M1027 453.8l2.6 -0.8 4.5 -2.9 -2.7 0.9z"/><path d="M967.2 484l2 0.4 4.8 -2.6 -2.1 -0.4z"/><path d="M888.7 510.5l1.3 1.8 5.1 -2.3 -1.4 -1.7z"/><path d="M939.5 495.2l1.8 0.9 4.9 -2.5 -1.9 -0.9z"/><path d="M1059.1 434.5l3 -1.5 4.4 -3 -3.1 1.6z"/><path d="M1010.9 462.7l2.5 -0.4 4.5 -2.9 -2.5 0.6z"/><path d="M1111.7 398.5l3.7 -2.8 4.2 -3.1 -3.7 2.9z"/><path d="M900.2 507.8l1.4 1.6 5.1 -2.3 -1.5 -1.6z"/><path d="M1075.2 424l3.2 -1.9 4.3 -3 -3.2 2z"/><path d="M994.8 471.2l2.3 -0.2 4.6 -2.7 -2.3 0.2z"/><path d="M1148.4 370.5l4.2 -3.8 4.1 -3.2 -4.2 3.9z"/><path d="M911.7 504.7l1.5 1.5 5 -2.4 -1.6 -1.4z"/><path d="M951 491l1.9 0.8 4.8 -2.6 -1.9 -0.7z"/><path d="M1091.3 413.1l3.4 -2.3 4.3 -3.1 -3.4 2.4z"/><path d="M978.7 479.1l2.1 0.2 4.7 -2.7 -2.2 -0.1z"/><path d="M1128 386.4l3.8 -3.3 4.2 -3.2 -3.9 3.4z"/><path d="M923.2 501.3l1.6 1.3 5 -2.5 -1.7 -1.2z"/><path d="M1038.6 447.3l2.7 -1.1 4.5 -2.9 -2.8 1.1z"/><path d="M1022.5 456.6l2.6 -0.7 4.5 -2.9 -2.6 0.8z"/><path d="M1107.5 401.5l3.6 -2.7 4.3 -3.1 -3.7 2.8z"/><path d="M1054.7 437.4l2.9 -1.4 4.5 -3 -3 1.5z"/><path d="M962.5 486.6l1.9 0.5 4.8 -2.7 -2 -0.4z"/><path d="M1006.3 465.5l2.5 -0.4 4.6 -2.8 -2.5 0.4z"/><path d="M934.7 497.6l1.7 1.1 4.9 -2.6 -1.8 -0.9z"/><path d="M1070.8 427l3.2 -1.8 4.4 -3.1 -3.2 1.9z"/><path d="M1144.3 373.6l4.1 -3.6 4.2 -3.3 -4.2 3.8z"/><path d="M895.1 510l1.5 1.8 5 -2.4 -1.4 -1.6z"/><path d="M990.2 473.9l2.2 0 4.7 -2.9 -2.3 0.2z"/><path d="M1087 416.1l3.4 -2.2 4.3 -3.1 -3.4 2.3z"/><path d="M1123.8 389.4l3.8 -3.1 4.2 -3.2 -3.8 3.3z"/><path d="M906.7 507.1l1.5 1.5 5 -2.4 -1.5 -1.5z"/><path d="M946.2 493.6l1.8 0.8 4.9 -2.6 -1.9 -0.8z"/><path d="M974 481.8l2.1 0.3 4.7 -2.8 -2.1 -0.2z"/><path d="M918.2 503.8l1.6 1.3 5 -2.5 -1.6 -1.3z"/><path d="M1103.3 404.6l3.5 -2.6 4.3 -3.2 -3.6 2.7z"/><path d="M1034.1 450.1l2.7 -0.9 4.5 -3 -2.7 1.1z"/><path d="M1017.9 459.4l2.6 -0.5 4.6 -3 -2.6 0.7z"/><path d="M1050.3 440.3l2.9 -1.3 4.4 -3 -2.9 1.4z"/><path d="M1001.7 468.3l2.4 -0.3 4.7 -2.9 -2.5 0.4z"/><path d="M957.7 489.2l1.9 0.6 4.8 -2.7 -1.9 -0.5z"/><path d="M1066.5 430l3.1 -1.7 4.4 -3.1 -3.2 1.8z"/><path d="M1140.2 376.8l4 -3.6 4.2 -3.2 -4.1 3.6z"/><path d="M929.8 500.1l1.7 1.2 4.9 -2.6 -1.7 -1.1z"/><path d="M985.5 476.6l2.2 0.1 4.7 -2.8 -2.2 0z"/><path d="M1119.6 392.6l3.8 -3 4.2 -3.3 -3.8 3.1z"/><path d="M1082.7 419.1l3.3 -2.1 4.4 -3.1 -3.4 2.2z"/><path d="M890 512.3l1.4 1.9 5.2 -2.4 -1.5 -1.8z"/><path d="M941.3 496.1l1.8 1 4.9 -2.7 -1.8 -0.8z"/><path d="M901.6 509.4l1.5 1.7 5.1 -2.5 -1.5 -1.5z"/><path d="M969.2 484.4l2.1 0.5 4.8 -2.8 -2.1 -0.3z"/><path d="M1099 407.7l3.5 -2.5 4.3 -3.2 -3.5 2.6z"/><path d="M1029.6 453l2.7 -0.8 4.5 -3 -2.7 0.9z"/><path d="M1045.8 443.3l2.9 -1.2 4.5 -3.1 -2.9 1.3z"/><path d="M1013.4 462.3l2.5 -0.5 4.6 -2.9 -2.6 0.5z"/><path d="M913.2 506.2l1.6 1.5 5 -2.6 -1.6 -1.3z"/><path d="M1136 379.9l4 -3.4 4.2 -3.3 -4 3.6z"/><path d="M1062.1 433l3 -1.6 4.5 -3.1 -3.1 1.7z"/><path d="M997.1 471l2.4 -0.1 4.6 -2.9 -2.4 0.3z"/><path d="M952.9 491.8l1.9 0.8 4.8 -2.8 -1.9 -0.6z"/><path d="M1115.4 395.7l3.7 -2.9 4.3 -3.2 -3.8 3z"/><path d="M924.8 502.6l1.7 1.3 5 -2.6 -1.7 -1.2z"/><path d="M1078.4 422.1l3.2 -1.9 4.4 -3.2 -3.3 2.1z"/><path d="M980.8 479.3l2.2 0.3 4.7 -2.9 -2.2 -0.1z"/><path d="M1094.7 410.8l3.4 -2.4 4.4 -3.2 -3.5 2.5z"/><path d="M1152.6 366.7l4.2 -3.9 4.2 -3.3 -4.3 4z"/><path d="M936.4 498.7l1.8 1.1 4.9 -2.7 -1.8 -1z"/><path d="M964.4 487.1l2.1 0.6 4.8 -2.8 -2.1 -0.5z"/><path d="M896.6 511.8l1.4 1.8 5.1 -2.5 -1.5 -1.7z"/><path d="M1025.1 455.9l2.6 -0.7 4.6 -3 -2.7 0.8z"/><path d="M1131.8 383.1l4 -3.3 4.2 -3.3 -4 3.4z"/><path d="M1041.3 446.2l2.9 -1.1 4.5 -3 -2.9 1.2z"/><path d="M1008.8 465.1l2.4 -0.3 4.7 -3 -2.5 0.5z"/><path d="M1057.6 436l3.1 -1.5 4.4 -3.1 -3 1.6z"/><path d="M908.2 508.6l1.5 1.7 5.1 -2.6 -1.6 -1.5z"/><path d="M992.4 473.9l2.3 0 4.8 -3 -2.4 0.1z"/><path d="M1111.1 398.8l3.7 -2.7 4.3 -3.3 -3.7 2.9z"/><path d="M948 494.4l1.9 0.9 4.9 -2.7 -1.9 -0.8z"/><path d="M1074 425.2l3.2 -1.8 4.4 -3.2 -3.2 1.9z"/><path d="M976.1 482.1l2.1 0.3 4.8 -2.8 -2.2 -0.3z"/><path d="M919.8 505.1l1.7 1.4 5 -2.6 -1.7 -1.3z"/><path d="M1148.4 370l4.2 -3.8 4.2 -3.4 -4.2 3.9z"/><path d="M1090.4 413.9l3.4 -2.2 4.3 -3.3 -3.4 2.4z"/><path d="M1127.6 386.3l3.9 -3.2 4.3 -3.3 -4 3.3z"/><path d="M959.6 489.8l2 0.7 4.9 -2.8 -2.1 -0.6z"/><path d="M931.5 501.3l1.7 1.2 5 -2.7 -1.8 -1.1z"/><path d="M1020.5 458.9l2.6 -0.6 4.6 -3.1 -2.6 0.7z"/><path d="M1036.8 449.2l2.8 -1 4.6 -3.1 -2.9 1.1z"/><path d="M1004.1 468l2.5 -0.2 4.6 -3 -2.4 0.3z"/><path d="M891.4 514.2l1.4 1.9 5.2 -2.5 -1.4 -1.8z"/><path d="M1053.2 439l3 -1.3 4.5 -3.2 -3.1 1.5z"/><path d="M1106.8 402l3.6 -2.6 4.4 -3.3 -3.7 2.7z"/><path d="M987.7 476.7l2.3 0.1 4.7 -2.9 -2.3 0z"/><path d="M1069.6 428.3l3.1 -1.7 4.5 -3.2 -3.2 1.8z"/><path d="M903.1 511.1l1.5 1.7 5.1 -2.5 -1.5 -1.7z"/><path d="M943.1 497.1l1.9 1 4.9 -2.8 -1.9 -0.9z"/><path d="M971.3 484.9l2.1 0.4 4.8 -2.9 -2.1 -0.3z"/><path d="M1144.2 373.2l4.1 -3.6 4.3 -3.4 -4.2 3.8z"/><path d="M914.8 507.7l1.6 1.5 5.1 -2.7 -1.7 -1.4z"/><path d="M1086 417l3.4 -2.1 4.4 -3.2 -3.4 2.2z"/><path d="M1123.4 389.6l3.8 -3.1 4.3 -3.4 -3.9 3.2z"/><path d="M1032.3 452.2l2.7 -0.8 4.6 -3.2 -2.8 1z"/><path d="M1015.9 461.8l2.5 -0.4 4.7 -3.1 -2.6 0.6z"/><path d="M954.8 492.6l1.9 0.8 4.9 -2.9 -2 -0.7z"/><path d="M926.5 503.9l1.7 1.3 5 -2.7 -1.7 -1.2z"/><path d="M1048.7 442.1l2.9 -1.2 4.6 -3.2 -3 1.3z"/><path d="M999.5 470.9l2.3 -0.1 4.8 -3 -2.5 0.2z"/><path d="M1102.5 405.2l3.6 -2.5 4.3 -3.3 -3.6 2.6z"/><path d="M1065.1 431.4l3.2 -1.6 4.4 -3.2 -3.1 1.7z"/><path d="M983 479.6l2.2 0.2 4.8 -3 -2.3 -0.1z"/><path d="M1140 376.5l4.1 -3.5 4.2 -3.4 -4.1 3.6z"/><path d="M898 513.6l1.5 1.8 5.1 -2.6 -1.5 -1.7z"/><path d="M938.2 499.8l1.8 1.1 5 -2.8 -1.9 -1z"/><path d="M1081.6 420.2l3.3 -2 4.5 -3.3 -3.4 2.1z"/><path d="M966.5 487.7l2.1 0.6 4.8 -3 -2.1 -0.4z"/><path d="M1119.1 392.8l3.8 -2.9 4.3 -3.4 -3.8 3.1z"/><path d="M909.7 510.3l1.6 1.6 5.1 -2.7 -1.6 -1.5z"/><path d="M1027.7 455.2l2.7 -0.7 4.6 -3.1 -2.7 0.8z"/><path d="M1011.2 464.8l2.6 -0.4 4.6 -3 -2.5 0.4z"/><path d="M1098.1 408.4l3.6 -2.4 4.4 -3.3 -3.6 2.5z"/><path d="M1044.2 445.1l2.9 -1 4.5 -3.2 -2.9 1.2z"/><path d="M949.9 495.3l1.9 0.9 4.9 -2.8 -1.9 -0.8z"/><path d="M994.7 473.9l2.4 0 4.7 -3.1 -2.3 0.1z"/><path d="M921.5 506.5l1.7 1.5 5 -2.8 -1.7 -1.3z"/><path d="M1060.7 434.5l3 -1.4 4.6 -3.3 -3.2 1.6z"/><path d="M1156.8 362.8l4.3 -3.9 4.2 -3.5 -4.3 4.1z"/><path d="M1135.8 379.8l4 -3.4 4.3 -3.4 -4.1 3.5z"/><path d="M978.2 482.4l2.2 0.4 4.8 -3 -2.2 -0.2z"/><path d="M1077.2 423.4l3.3 -1.9 4.4 -3.3 -3.3 2z"/><path d="M1114.8 396.1l3.7 -2.9 4.4 -3.3 -3.8 2.9z"/><path d="M933.2 502.5l1.8 1.2 5 -2.8 -1.8 -1.1z"/><path d="M892.8 516.1l1.5 2 5.2 -2.7 -1.5 -1.8z"/><path d="M961.6 490.5l2.1 0.7 4.9 -2.9 -2.1 -0.6z"/><path d="M904.6 512.8l1.6 1.8 5.1 -2.7 -1.6 -1.6z"/><path d="M1023.1 458.3l2.7 -0.6 4.6 -3.2 -2.7 0.7z"/><path d="M1093.8 411.7l3.5 -2.3 4.4 -3.4 -3.6 2.4z"/><path d="M1006.6 467.8l2.4 -0.2 4.8 -3.2 -2.6 0.4z"/><path d="M1039.6 448.2l2.9 -0.9 4.6 -3.2 -2.9 1z"/><path d="M1152.6 366.2l4.3 -3.8 4.2 -3.5 -4.3 3.9z"/><path d="M990 476.8l2.3 0.1 4.8 -3 -2.4 0z"/><path d="M945 498.1l1.9 1 4.9 -2.9 -1.9 -0.9z"/><path d="M1056.2 437.7l3 -1.4 4.5 -3.2 -3 1.4z"/><path d="M1131.5 383.1l4 -3.2 4.3 -3.5 -4 3.4z"/><path d="M916.4 509.2l1.7 1.6 5.1 -2.8 -1.7 -1.5z"/><path d="M973.4 485.3l2.2 0.5 4.8 -3 -2.2 -0.4z"/><path d="M1072.7 426.6l3.3 -1.8 4.5 -3.3 -3.3 1.9z"/><path d="M1110.4 399.4l3.8 -2.7 4.3 -3.5 -3.7 2.9z"/><path d="M928.2 505.2l1.7 1.4 5.1 -2.9 -1.8 -1.2z"/><path d="M956.7 493.4l2 0.8 5 -3 -2.1 -0.7z"/><path d="M1089.4 414.9l3.4 -2.1 4.5 -3.4 -3.5 2.3z"/><path d="M1018.4 461.4l2.7 -0.5 4.7 -3.2 -2.7 0.6z"/><path d="M1035 451.4l2.8 -0.9 4.7 -3.2 -2.9 0.9z"/><path d="M1148.3 369.6l4.3 -3.7 4.3 -3.5 -4.3 3.8z"/><path d="M1001.8 470.8l2.5 -0.1 4.7 -3.1 -2.4 0.2z"/><path d="M899.5 515.4l1.5 1.9 5.2 -2.7 -1.6 -1.8z"/><path d="M1127.2 386.5l3.9 -3.2 4.4 -3.4 -4 3.2z"/><path d="M1051.6 440.9l3 -1.3 4.6 -3.3 -3 1.4z"/><path d="M985.2 479.8l2.3 0.2 4.8 -3.1 -2.3 -0.1z"/><path d="M940 500.9l1.9 1.1 5 -2.9 -1.9 -1z"/><path d="M1106.1 402.7l3.6 -2.6 4.5 -3.4 -3.8 2.7z"/><path d="M1068.3 429.8l3.2 -1.6 4.5 -3.4 -3.3 1.8z"/><path d="M911.3 511.9l1.6 1.7 5.2 -2.8 -1.7 -1.6z"/><path d="M968.6 488.3l2.1 0.5 4.9 -3 -2.2 -0.5z"/><path d="M1084.9 418.2l3.4 -2 4.5 -3.4 -3.4 2.1z"/><path d="M951.8 496.2l2 1 4.9 -3 -2 -0.8z"/><path d="M923.2 508l1.7 1.4 5 -2.8 -1.7 -1.4z"/><path d="M1144.1 373l4.2 -3.6 4.3 -3.5 -4.3 3.7z"/><path d="M1013.8 464.4l2.5 -0.3 4.8 -3.2 -2.7 0.5z"/><path d="M1030.4 454.5l2.8 -0.7 4.6 -3.3 -2.8 0.9z"/><path d="M1122.9 389.9l3.9 -3.1 4.3 -3.5 -3.9 3.2z"/><path d="M997.1 473.9l2.4 0 4.8 -3.2 -2.5 0.1z"/><path d="M1047.1 444.1l2.9 -1.2 4.6 -3.3 -3 1.3z"/><path d="M980.4 482.8l2.3 0.3 4.8 -3.1 -2.3 -0.2z"/><path d="M894.3 518.1l1.5 2 5.2 -2.8 -1.5 -1.9z"/><path d="M1101.7 406l3.6 -2.4 4.4 -3.5 -3.6 2.6z"/><path d="M935 503.7l1.8 1.3 5.1 -3 -1.9 -1.1z"/><path d="M1063.7 433.1l3.2 -1.6 4.6 -3.3 -3.2 1.6z"/><path d="M963.7 491.2l2.1 0.7 4.9 -3.1 -2.1 -0.5z"/><path d="M906.2 514.6l1.6 1.8 5.1 -2.8 -1.6 -1.7z"/><path d="M1161.1 358.9l4.5 -4.1 4.2 -3.6 -4.5 4.2z"/><path d="M1080.5 421.5l3.3 -1.9 4.5 -3.4 -3.4 2z"/><path d="M1139.8 376.4l4.1 -3.5 4.4 -3.5 -4.2 3.6z"/><path d="M1118.5 393.2l3.9 -2.9 4.4 -3.5 -3.9 3.1z"/><path d="M946.9 499.1l1.9 1.1 5 -3 -2 -1z"/><path d="M1009 467.6l2.6 -0.3 4.7 -3.2 -2.5 0.3z"/><path d="M1025.8 457.7l2.7 -0.6 4.7 -3.3 -2.8 0.7z"/><path d="M918.1 510.8l1.6 1.5 5.2 -2.9 -1.7 -1.4z"/><path d="M992.3 476.9l2.4 0.2 4.8 -3.2 -2.4 0z"/><path d="M1042.5 447.3l2.9 -1 4.6 -3.4 -2.9 1.2z"/><path d="M1097.3 409.4l3.5 -2.4 4.5 -3.4 -3.6 2.4z"/><path d="M975.6 485.8l2.2 0.5 4.9 -3.2 -2.3 -0.3z"/><path d="M1059.2 436.3l3.1 -1.4 4.6 -3.4 -3.2 1.6z"/><path d="M929.9 506.6l1.8 1.4 5.1 -3 -1.8 -1.3z"/><path d="M958.7 494.2l2.1 0.8 5 -3.1 -2.1 -0.7z"/><path d="M1156.9 362.4l4.4 -4 4.3 -3.6 -4.5 4.1z"/><path d="M1135.5 379.9l4.1 -3.4 4.3 -3.6 -4.1 3.5z"/><path d="M1076 424.8l3.3 -1.8 4.5 -3.4 -3.3 1.9z"/><path d="M901 517.3l1.5 1.9 5.3 -2.8 -1.6 -1.8z"/><path d="M1114.2 396.7l3.8 -2.8 4.4 -3.6 -3.9 2.9z"/><path d="M1021.1 460.9l2.6 -0.5 4.8 -3.3 -2.7 0.6z"/><path d="M1004.3 470.7l2.5 -0.1 4.8 -3.3 -2.6 0.3z"/><path d="M941.9 502l1.8 1.2 5.1 -3 -1.9 -1.1z"/><path d="M1037.8 450.5l2.9 -0.9 4.7 -3.3 -2.9 1z"/><path d="M987.5 480l2.3 0.3 4.9 -3.2 -2.4 -0.2z"/><path d="M912.9 513.6l1.7 1.7 5.1 -3 -1.6 -1.5z"/><path d="M1092.8 412.8l3.5 -2.3 4.5 -3.5 -3.5 2.4z"/><path d="M1054.6 439.6l3.1 -1.2 4.6 -3.5 -3.1 1.4z"/><path d="M970.7 488.8l2.1 0.6 5 -3.1 -2.2 -0.5z"/><path d="M1152.6 365.9l4.3 -3.9 4.4 -3.6 -4.4 4z"/><path d="M1131.1 383.3l4.1 -3.2 4.4 -3.6 -4.1 3.4z"/><path d="M924.9 509.4l1.7 1.5 5.1 -2.9 -1.8 -1.4z"/><path d="M1071.5 428.2l3.2 -1.7 4.6 -3.5 -3.3 1.8z"/><path d="M953.8 497.2l2 0.9 5 -3.1 -2.1 -0.8z"/><path d="M1109.7 400.1l3.8 -2.7 4.5 -3.5 -3.8 2.8z"/><path d="M895.8 520.1l1.5 2 5.2 -2.9 -1.5 -1.9z"/><path d="M1016.3 464.1l2.7 -0.4 4.7 -3.3 -2.6 0.5z"/><path d="M999.5 473.9l2.5 0 4.8 -3.3 -2.5 0.1z"/><path d="M1033.2 453.8l2.8 -0.8 4.7 -3.4 -2.9 0.9z"/><path d="M1088.3 416.2l3.5 -2.1 4.5 -3.6 -3.5 2.3z"/><path d="M936.8 505l1.9 1.3 5 -3.1 -1.8 -1.2z"/><path d="M982.7 483.1l2.2 0.4 4.9 -3.2 -2.3 -0.3z"/><path d="M907.8 516.4l1.6 1.8 5.2 -2.9 -1.7 -1.7z"/><path d="M1050 442.9l3 -1.1 4.7 -3.4 -3.1 1.2z"/><path d="M1148.3 369.4l4.3 -3.7 4.3 -3.7 -4.3 3.9z"/><path d="M965.8 491.9l2.1 0.7 4.9 -3.2 -2.1 -0.6z"/><path d="M1126.8 386.8l4 -3.1 4.4 -3.6 -4.1 3.2z"/><path d="M1066.9 431.5l3.2 -1.5 4.6 -3.5 -3.2 1.7z"/><path d="M1105.3 403.6l3.7 -2.6 4.5 -3.6 -3.8 2.7z"/><path d="M919.7 512.3l1.7 1.7 5.2 -3.1 -1.7 -1.5z"/><path d="M948.8 500.2l2 1 5 -3.1 -2 -0.9z"/><path d="M1011.6 467.3l2.6 -0.2 4.8 -3.4 -2.7 0.4z"/><path d="M1083.8 419.6l3.5 -2 4.5 -3.5 -3.5 2.1z"/><path d="M994.7 477.1l2.4 0.1 4.9 -3.3 -2.5 0z"/><path d="M1028.5 457.1l2.8 -0.7 4.7 -3.4 -2.8 0.8z"/><path d="M977.8 486.3l2.2 0.5 4.9 -3.3 -2.2 -0.4z"/><path d="M1143.9 372.9l4.3 -3.5 4.4 -3.7 -4.3 3.7z"/><path d="M931.7 508l1.8 1.4 5.2 -3.1 -1.9 -1.3z"/><path d="M1045.4 446.3l3 -1 4.6 -3.5 -3 1.1z"/><path d="M1165.6 354.8l4.5 -4.2 4.3 -3.7 -4.6 4.3z"/><path d="M1122.4 390.3l3.9 -2.9 4.5 -3.7 -4 3.1z"/><path d="M902.5 519.2l1.6 2 5.3 -3 -1.6 -1.8z"/><path d="M960.8 495l2.1 0.8 5 -3.2 -2.1 -0.7z"/><path d="M1062.3 434.9l3.2 -1.4 4.6 -3.5 -3.2 1.5z"/><path d="M1100.8 407l3.7 -2.4 4.5 -3.6 -3.7 2.6z"/><path d="M914.6 515.3l1.6 1.7 5.2 -3 -1.7 -1.7z"/><path d="M943.7 503.2l2 1.2 5.1 -3.2 -2 -1z"/><path d="M1079.3 423l3.4 -1.8 4.6 -3.6 -3.5 2z"/><path d="M1006.8 470.6l2.6 -0.1 4.8 -3.4 -2.6 0.2z"/><path d="M1023.7 460.4l2.8 -0.5 4.8 -3.5 -2.8 0.7z"/><path d="M989.8 480.3l2.4 0.2 4.9 -3.3 -2.4 -0.1z"/><path d="M1139.6 376.5l4.2 -3.4 4.4 -3.7 -4.3 3.5z"/><path d="M1161.3 358.4l4.5 -4 4.3 -3.8 -4.5 4.2z"/><path d="M1040.7 449.6l2.9 -0.8 4.8 -3.5 -3 1z"/><path d="M1118 393.9l3.9 -2.9 4.4 -3.6 -3.9 2.9z"/><path d="M972.8 489.4l2.2 0.6 5 -3.2 -2.2 -0.5z"/><path d="M926.6 510.9l1.8 1.6 5.1 -3.1 -1.8 -1.4z"/><path d="M1096.3 410.5l3.7 -2.2 4.5 -3.7 -3.7 2.4z"/><path d="M1057.7 438.4l3.1 -1.3 4.7 -3.6 -3.2 1.4z"/><path d="M955.8 498.1l2 1 5.1 -3.3 -2.1 -0.8z"/><path d="M897.3 522.1l1.5 2 5.3 -2.9 -1.6 -2z"/><path d="M1074.7 426.5l3.4 -1.7 4.6 -3.6 -3.4 1.8z"/><path d="M938.7 506.3l1.9 1.3 5.1 -3.2 -2 -1.2z"/><path d="M909.4 518.2l1.6 1.9 5.2 -3.1 -1.6 -1.7z"/><path d="M1135.2 380.1l4.1 -3.3 4.5 -3.7 -4.2 3.4z"/><path d="M1002 473.9l2.5 0 4.9 -3.4 -2.6 0.1z"/><path d="M1156.9 362l4.5 -3.9 4.4 -3.7 -4.5 4z"/><path d="M1019 463.7l2.7 -0.4 4.8 -3.4 -2.8 0.5z"/><path d="M984.9 483.5l2.4 0.4 4.9 -3.4 -2.4 -0.2z"/><path d="M1113.5 397.4l3.9 -2.7 4.5 -3.7 -3.9 2.9z"/><path d="M1036 453l2.9 -0.7 4.7 -3.5 -2.9 0.8z"/><path d="M967.9 492.6l2.1 0.7 5 -3.3 -2.2 -0.6z"/><path d="M1091.8 414.1l3.6 -2.2 4.6 -3.6 -3.7 2.2z"/><path d="M1053 441.8l3.1 -1.2 4.7 -3.5 -3.1 1.3z"/><path d="M921.4 514l1.8 1.6 5.2 -3.1 -1.8 -1.6z"/><path d="M950.8 501.2l2 1.1 5 -3.2 -2 -1z"/><path d="M1070.1 430l3.3 -1.6 4.7 -3.6 -3.4 1.7z"/><path d="M1130.8 383.7l4.1 -3.1 4.4 -3.8 -4.1 3.3z"/><path d="M1152.6 365.7l4.4 -3.8 4.4 -3.8 -4.5 3.9z"/><path d="M1109 401l3.8 -2.5 4.6 -3.8 -3.9 2.7z"/><path d="M933.5 509.4l1.9 1.4 5.2 -3.2 -1.9 -1.3z"/><path d="M997.1 477.2l2.5 0.1 4.9 -3.4 -2.5 0z"/><path d="M1014.2 467.1l2.6 -0.3 4.9 -3.5 -2.7 0.4z"/><path d="M904.1 521.2l1.6 1.9 5.3 -3 -1.6 -1.9z"/><path d="M980 486.8l2.3 0.5 5 -3.4 -2.4 -0.4z"/><path d="M1031.3 456.4l2.8 -0.6 4.8 -3.5 -2.9 0.7z"/><path d="M1087.3 417.6l3.5 -2 4.6 -3.7 -3.6 2.2z"/><path d="M962.9 495.8l2.1 0.9 5 -3.4 -2.1 -0.7z"/><path d="M1048.4 445.3l3 -1.1 4.7 -3.6 -3.1 1.2z"/><path d="M916.2 517l1.7 1.8 5.3 -3.2 -1.8 -1.6z"/><path d="M945.7 504.4l1.9 1.2 5.2 -3.3 -2 -1.1z"/><path d="M1148.2 369.4l4.3 -3.7 4.5 -3.8 -4.4 3.8z"/><path d="M1126.3 387.4l4.1 -3.1 4.5 -3.7 -4.1 3.1z"/><path d="M1065.5 433.5l3.2 -1.4 4.7 -3.7 -3.3 1.6z"/><path d="M1170.1 350.6l4.7 -4.3 4.4 -3.8 -4.8 4.4z"/><path d="M1104.5 404.6l3.8 -2.4 4.5 -3.7 -3.8 2.5z"/><path d="M1009.4 470.5l2.6 -0.2 4.8 -3.5 -2.6 0.3z"/><path d="M992.2 480.5l2.4 0.3 5 -3.5 -2.5 -0.1z"/><path d="M928.4 512.5l1.8 1.5 5.2 -3.2 -1.9 -1.4z"/><path d="M1026.5 459.9l2.8 -0.5 4.8 -3.6 -2.8 0.6z"/><path d="M975 490l2.3 0.7 5 -3.4 -2.3 -0.5z"/><path d="M898.8 524.1l1.6 2.1 5.3 -3.1 -1.6 -1.9z"/><path d="M1082.7 421.2l3.5 -1.9 4.6 -3.7 -3.5 2z"/><path d="M1043.6 448.8l3 -1 4.8 -3.6 -3 1.1z"/><path d="M957.8 499.1l2.1 0.9 5.1 -3.3 -2.1 -0.9z"/><path d="M1143.8 373.1l4.3 -3.5 4.4 -3.9 -4.3 3.7z"/><path d="M1121.9 391l4 -2.9 4.5 -3.8 -4.1 3.1z"/><path d="M911 520.1l1.7 1.8 5.2 -3.1 -1.7 -1.8z"/><path d="M1060.8 437.1l3.2 -1.4 4.7 -3.6 -3.2 1.4z"/><path d="M1165.8 354.4l4.6 -4.2 4.4 -3.9 -4.7 4.3z"/><path d="M940.6 507.6l1.9 1.3 5.1 -3.3 -1.9 -1.2z"/><path d="M1100 408.3l3.7 -2.3 4.6 -3.8 -3.8 2.4z"/><path d="M1004.5 473.9l2.6 0 4.9 -3.6 -2.6 0.2z"/><path d="M987.3 483.9l2.4 0.4 4.9 -3.5 -2.4 -0.3z"/><path d="M1021.7 463.3l2.7 -0.3 4.9 -3.6 -2.8 0.5z"/><path d="M1078.1 424.8l3.4 -1.8 4.7 -3.7 -3.5 1.9z"/><path d="M970 493.3l2.3 0.8 5 -3.4 -2.3 -0.7z"/><path d="M923.2 515.6l1.8 1.7 5.2 -3.3 -1.8 -1.5z"/><path d="M1038.9 452.3l2.9 -0.8 4.8 -3.7 -3 1z"/><path d="M952.8 502.3l2 1.1 5.1 -3.4 -2.1 -0.9z"/><path d="M1139.3 376.8l4.3 -3.4 4.5 -3.8 -4.3 3.5z"/><path d="M1117.4 394.7l3.9 -2.7 4.6 -3.9 -4 2.9z"/><path d="M1161.4 358.1l4.5 -4 4.5 -3.9 -4.6 4.2z"/><path d="M1056.1 440.6l3.2 -1.2 4.7 -3.7 -3.2 1.4z"/><path d="M1095.4 411.9l3.7 -2.2 4.6 -3.7 -3.7 2.3z"/><path d="M905.7 523.1l1.6 2.1 5.4 -3.3 -1.7 -1.8z"/><path d="M935.4 510.8l1.9 1.4 5.2 -3.3 -1.9 -1.3z"/><path d="M999.6 477.3l2.5 0.1 5 -3.5 -2.6 0z"/><path d="M982.3 487.3l2.4 0.5 5 -3.5 -2.4 -0.4z"/><path d="M1073.4 428.4l3.4 -1.6 4.7 -3.8 -3.4 1.8z"/><path d="M1016.8 466.8l2.8 -0.2 4.8 -3.6 -2.7 0.3z"/><path d="M965 496.7l2.2 0.9 5.1 -3.5 -2.3 -0.8z"/><path d="M1034.1 455.8l2.9 -0.6 4.8 -3.7 -2.9 0.8z"/><path d="M917.9 518.8l1.8 1.8 5.3 -3.3 -1.8 -1.7z"/><path d="M1134.9 380.6l4.2 -3.3 4.5 -3.9 -4.3 3.4z"/><path d="M1112.8 398.5l3.9 -2.7 4.6 -3.8 -3.9 2.7z"/><path d="M1157 361.9l4.5 -3.9 4.4 -3.9 -4.5 4z"/><path d="M947.6 505.6l2.1 1.2 5.1 -3.4 -2 -1.1z"/><path d="M1051.4 444.2l3.1 -1 4.8 -3.8 -3.2 1.2z"/><path d="M1090.8 415.6l3.6 -2 4.7 -3.9 -3.7 2.2z"/><path d="M930.2 514l1.8 1.6 5.3 -3.4 -1.9 -1.4z"/><path d="M900.4 526.2l1.6 2.2 5.3 -3.2 -1.6 -2.1z"/><path d="M1068.7 432.1l3.4 -1.5 4.7 -3.8 -3.4 1.6z"/><path d="M994.6 480.8l2.5 0.2 5 -3.6 -2.5 -0.1z"/><path d="M1012 470.3l2.6 -0.1 5 -3.6 -2.8 0.2z"/><path d="M977.3 490.7l2.3 0.6 5.1 -3.5 -2.4 -0.5z"/><path d="M1130.4 384.3l4.1 -3.1 4.6 -3.9 -4.2 3.3z"/><path d="M1029.3 459.4l2.9 -0.6 4.8 -3.6 -2.9 0.6z"/><path d="M1152.5 365.7l4.5 -3.7 4.5 -4 -4.5 3.9z"/><path d="M959.9 500l2.2 1 5.1 -3.4 -2.2 -0.9z"/><path d="M1108.3 402.2l3.8 -2.5 4.6 -3.9 -3.9 2.7z"/><path d="M912.7 521.9l1.7 2 5.3 -3.3 -1.8 -1.8z"/><path d="M1174.8 346.3l4.8 -4.4 4.4 -4 -4.8 4.6z"/><path d="M1046.6 447.8l3.1 -0.9 4.8 -3.7 -3.1 1z"/><path d="M1086.2 419.3l3.5 -1.9 4.7 -3.8 -3.6 2z"/><path d="M942.5 508.9l2 1.4 5.2 -3.5 -2.1 -1.2z"/><path d="M1064 435.7l3.3 -1.3 4.8 -3.8 -3.4 1.5z"/><path d="M925 517.3l1.8 1.7 5.2 -3.4 -1.8 -1.6z"/><path d="M989.7 484.3l2.4 0.3 5 -3.6 -2.5 -0.2z"/><path d="M1007.1 473.9l2.6 0 4.9 -3.7 -2.6 0.1z"/><path d="M1125.9 388.1l4 -2.9 4.6 -4 -4.1 3.1z"/><path d="M1148.1 369.6l4.4 -3.6 4.5 -4 -4.5 3.7z"/><path d="M972.3 494.1l2.2 0.8 5.1 -3.6 -2.3 -0.6z"/><path d="M1103.7 406l3.8 -2.4 4.6 -3.9 -3.8 2.5z"/><path d="M1024.4 463l2.9 -0.4 4.9 -3.8 -2.9 0.6z"/><path d="M1170.4 350.2l4.7 -4.3 4.5 -4 -4.8 4.4z"/><path d="M954.8 503.4l2.1 1.2 5.2 -3.6 -2.2 -1z"/><path d="M1081.5 423l3.5 -1.7 4.7 -3.9 -3.5 1.9z"/><path d="M1041.8 451.5l3.1 -0.8 4.8 -3.8 -3.1 0.9z"/><path d="M907.3 525.2l1.7 2 5.4 -3.3 -1.7 -2z"/><path d="M937.3 512.2l1.9 1.5 5.3 -3.4 -2 -1.4z"/><path d="M1059.3 439.4l3.2 -1.2 4.8 -3.8 -3.3 1.3z"/><path d="M1121.3 392l4 -2.9 4.6 -3.9 -4 2.9z"/><path d="M1143.6 373.4l4.3 -3.5 4.6 -3.9 -4.4 3.6z"/><path d="M984.7 487.8l2.4 0.5 5 -3.7 -2.4 -0.3z"/><path d="M1002.1 477.4l2.6 0.2 5 -3.7 -2.6 0z"/><path d="M919.7 520.6l1.8 1.8 5.3 -3.4 -1.8 -1.7z"/><path d="M1099.1 409.7l3.7 -2.2 4.7 -3.9 -3.8 2.4z"/><path d="M967.2 497.6l2.2 0.8 5.1 -3.5 -2.2 -0.8z"/><path d="M1165.9 354.1l4.7 -4.1 4.5 -4.1 -4.7 4.3z"/><path d="M1019.6 466.6l2.7 -0.3 5 -3.7 -2.9 0.4z"/><path d="M1076.8 426.8l3.5 -1.7 4.7 -3.8 -3.5 1.7z"/><path d="M949.7 506.8l2 1.3 5.2 -3.5 -2.1 -1.2z"/><path d="M1037 455.2l3 -0.7 4.9 -3.8 -3.1 0.8z"/><path d="M902 528.4l1.6 2.2 5.4 -3.4 -1.7 -2z"/><path d="M932 515.6l1.9 1.6 5.3 -3.5 -1.9 -1.5z"/><path d="M1054.5 443.2l3.2 -1.1 4.8 -3.9 -3.2 1.2z"/><path d="M1116.7 395.8l4 -2.7 4.6 -4 -4 2.9z"/><path d="M1139.1 377.3l4.3 -3.3 4.5 -4.1 -4.3 3.5z"/><path d="M1094.4 413.6l3.7 -2.2 4.7 -3.9 -3.7 2.2z"/><path d="M1161.5 358l4.6 -4 4.5 -4 -4.7 4.1z"/><path d="M997.1 481l2.6 0.3 5 -3.7 -2.6 -0.2z"/><path d="M979.6 491.3l2.4 0.6 5.1 -3.6 -2.4 -0.5z"/><path d="M914.4 523.9l1.7 1.9 5.4 -3.4 -1.8 -1.8z"/><path d="M1014.6 470.2l2.8 -0.1 4.9 -3.8 -2.7 0.3z"/><path d="M962.1 501l2.1 1.1 5.2 -3.7 -2.2 -0.8z"/><path d="M1072.1 430.6l3.4 -1.5 4.8 -4 -3.5 1.7z"/><path d="M1032.2 458.8l2.9 -0.5 4.9 -3.8 -3 0.7z"/><path d="M944.5 510.3l2 1.4 5.2 -3.6 -2 -1.3z"/><path d="M1134.5 381.2l4.3 -3.2 4.6 -4 -4.3 3.3z"/><path d="M1112.1 399.7l3.9 -2.6 4.7 -4 -4 2.7z"/><path d="M1049.7 446.9l3.2 -0.9 4.8 -3.9 -3.2 1.1z"/><path d="M926.8 519l1.8 1.7 5.3 -3.5 -1.9 -1.6z"/><path d="M1157 362l4.6 -3.9 4.5 -4.1 -4.6 4z"/><path d="M1089.7 417.4l3.7 -2 4.7 -4 -3.7 2.2z"/><path d="M992.1 484.6l2.5 0.4 5.1 -3.7 -2.6 -0.3z"/><path d="M974.5 494.9l2.3 0.7 5.2 -3.7 -2.4 -0.6z"/><path d="M1179.6 341.9l4.9 -4.5 4.5 -4.1 -5 4.6z"/><path d="M1009.7 473.9l2.7 0 5 -3.8 -2.8 0.1z"/><path d="M1067.3 434.4l3.4 -1.4 4.8 -3.9 -3.4 1.5z"/><path d="M956.9 504.6l2.1 1.1 5.2 -3.6 -2.1 -1.1z"/><path d="M909 527.2l1.7 2.1 5.4 -3.5 -1.7 -1.9z"/><path d="M1027.3 462.6l2.8 -0.4 5 -3.9 -2.9 0.5z"/><path d="M939.2 513.7l2 1.5 5.3 -3.5 -2 -1.4z"/><path d="M1129.9 385.2l4.2 -3.1 4.7 -4.1 -4.3 3.2z"/><path d="M1107.5 403.6l3.9 -2.5 4.6 -4 -3.9 2.6z"/><path d="M1044.9 450.7l3.1 -0.8 4.9 -3.9 -3.2 0.9z"/><path d="M1152.5 366l4.5 -3.8 4.6 -4.1 -4.6 3.9z"/><path d="M1085 421.3l3.6 -1.9 4.8 -4 -3.7 2z"/><path d="M921.5 522.4l1.8 1.9 5.3 -3.6 -1.8 -1.7z"/><path d="M1175.1 345.9l4.9 -4.3 4.5 -4.2 -4.9 4.5z"/><path d="M987.1 488.3l2.4 0.5 5.1 -3.8 -2.5 -0.4z"/><path d="M969.4 498.4l2.3 1 5.1 -3.8 -2.3 -0.7z"/><path d="M1062.5 438.2l3.3 -1.2 4.9 -4 -3.4 1.4z"/><path d="M1004.7 477.6l2.6 0.1 5.1 -3.8 -2.7 0z"/><path d="M951.7 508.1l2.1 1.3 5.2 -3.7 -2.1 -1.1z"/><path d="M1022.3 466.3l2.9 -0.3 4.9 -3.8 -2.8 0.4z"/><path d="M903.6 530.6l1.6 2.2 5.5 -3.5 -1.7 -2.1z"/><path d="M1125.3 389.1l4.2 -2.9 4.6 -4.1 -4.2 3.1z"/><path d="M1102.8 407.5l3.8 -2.3 4.8 -4.1 -3.9 2.5z"/><path d="M1147.9 369.9l4.5 -3.5 4.6 -4.2 -4.5 3.8z"/><path d="M933.9 517.2l2 1.7 5.3 -3.7 -2 -1.5z"/><path d="M1040 454.5l3 -0.7 5 -3.9 -3.1 0.8z"/><path d="M1080.3 425.1l3.5 -1.7 4.8 -4 -3.6 1.9z"/><path d="M1170.6 350l4.8 -4.3 4.6 -4.1 -4.9 4.3z"/><path d="M916.1 525.8l1.8 2.1 5.4 -3.6 -1.8 -1.9z"/><path d="M1057.7 442.1l3.3 -1.1 4.8 -4 -3.3 1.2z"/><path d="M982 491.9l2.4 0.7 5.1 -3.8 -2.4 -0.5z"/><path d="M999.7 481.3l2.6 0.3 5 -3.9 -2.6 -0.1z"/><path d="M964.2 502.1l2.3 1 5.2 -3.7 -2.3 -1z"/><path d="M1017.4 470.1l2.8 -0.1 5 -4 -2.9 0.3z"/><path d="M1120.7 393.1l4.1 -2.8 4.7 -4.1 -4.2 2.9z"/><path d="M946.5 511.7l2 1.4 5.3 -3.7 -2.1 -1.3z"/><path d="M1098.1 411.4l3.8 -2.1 4.7 -4.1 -3.8 2.3z"/><path d="M1143.4 374l4.4 -3.5 4.6 -4.1 -4.5 3.5z"/><path d="M1035.1 458.3l3 -0.5 4.9 -4 -3 0.7z"/><path d="M1075.5 429.1l3.5 -1.6 4.8 -4.1 -3.5 1.7z"/><path d="M928.6 520.7l1.9 1.8 5.4 -3.6 -2 -1.7z"/><path d="M1166.1 354l4.8 -4 4.5 -4.3 -4.8 4.3z"/><path d="M1052.9 446l3.2 -1 4.9 -4 -3.3 1.1z"/><path d="M910.7 529.3l1.7 2.1 5.5 -3.5 -1.8 -2.1z"/><path d="M976.8 495.6l2.4 0.8 5.2 -3.8 -2.4 -0.7z"/><path d="M994.6 485l2.6 0.4 5.1 -3.8 -2.6 -0.3z"/><path d="M959 505.7l2.2 1.2 5.3 -3.8 -2.3 -1z"/><path d="M1116 397.1l4.1 -2.6 4.7 -4.2 -4.1 2.8z"/><path d="M1138.8 378l4.3 -3.3 4.7 -4.2 -4.4 3.5z"/><path d="M1012.4 473.9l2.7 0 5.1 -3.9 -2.8 0.1z"/><path d="M1093.4 415.4l3.7 -2 4.8 -4.1 -3.8 2.1z"/><path d="M941.2 515.2l2 1.6 5.3 -3.7 -2 -1.4z"/><path d="M1161.6 358.1l4.7 -3.9 4.6 -4.2 -4.8 4z"/><path d="M1070.7 433l3.4 -1.4 4.9 -4.1 -3.5 1.6z"/><path d="M1030.1 462.2l3 -0.4 5 -4 -3 0.5z"/><path d="M923.3 524.3l1.8 1.9 5.4 -3.7 -1.9 -1.8z"/><path d="M1184.5 337.4l5.1 -4.6 4.5 -4.3 -5.1 4.8z"/><path d="M1048 449.9l3.1 -0.9 5 -4 -3.2 1z"/><path d="M1111.4 401.1l3.9 -2.5 4.8 -4.1 -4.1 2.6z"/><path d="M971.7 499.4l2.3 0.9 5.2 -3.9 -2.4 -0.8z"/><path d="M1134.1 382.1l4.4 -3.1 4.6 -4.3 -4.3 3.3z"/><path d="M989.5 488.8l2.5 0.5 5.2 -3.9 -2.6 -0.4z"/><path d="M905.2 532.8l1.7 2.3 5.5 -3.7 -1.7 -2.1z"/><path d="M1088.6 419.4l3.7 -1.9 4.8 -4.1 -3.7 2z"/><path d="M953.8 509.4l2.1 1.3 5.3 -3.8 -2.2 -1.2z"/><path d="M1007.3 477.7l2.7 0.1 5.1 -3.9 -2.7 0z"/><path d="M1157 362.2l4.7 -3.8 4.6 -4.2 -4.7 3.9z"/><path d="M935.9 518.9l1.9 1.7 5.4 -3.8 -2 -1.6z"/><path d="M1065.8 437l3.4 -1.3 4.9 -4.1 -3.4 1.4z"/><path d="M1025.2 466l2.9 -0.2 5 -4 -3 0.4z"/><path d="M1180 341.6l5 -4.5 4.6 -4.3 -5.1 4.6z"/><path d="M917.9 527.9l1.8 2 5.4 -3.7 -1.8 -1.9z"/><path d="M1043 453.8l3.2 -0.7 4.9 -4.1 -3.1 0.9z"/><path d="M1106.6 405.2l4 -2.4 4.7 -4.2 -3.9 2.5z"/><path d="M1129.5 386.2l4.2 -3 4.8 -4.2 -4.4 3.1z"/><path d="M1083.8 423.4l3.6 -1.7 4.9 -4.2 -3.7 1.9z"/><path d="M984.4 492.6l2.4 0.7 5.2 -4 -2.5 -0.5z"/><path d="M966.5 503.1l2.2 1.1 5.3 -3.9 -2.3 -0.9z"/><path d="M1152.4 366.4l4.6 -3.7 4.7 -4.3 -4.7 3.8z"/><path d="M1002.3 481.6l2.6 0.2 5.1 -4 -2.7 -0.1z"/><path d="M948.5 513.1l2.1 1.4 5.3 -3.8 -2.1 -1.3z"/><path d="M1061 441l3.3 -1.2 4.9 -4.1 -3.4 1.3z"/><path d="M1020.2 470l2.8 -0.2 5.1 -4 -2.9 0.2z"/><path d="M930.5 522.5l1.9 1.8 5.4 -3.7 -1.9 -1.7z"/><path d="M1175.4 345.7l5 -4.3 4.6 -4.3 -5 4.5z"/><path d="M1038.1 457.8l3.1 -0.6 5 -4.1 -3.2 0.7z"/><path d="M1101.9 409.3l3.9 -2.2 4.8 -4.3 -4 2.4z"/><path d="M1124.8 390.3l4.2 -2.8 4.7 -4.3 -4.2 3z"/><path d="M912.4 531.4l1.8 2.2 5.5 -3.7 -1.8 -2z"/><path d="M1079 427.5l3.6 -1.6 4.8 -4.2 -3.6 1.7z"/><path d="M1147.8 370.5l4.5 -3.5 4.7 -4.3 -4.6 3.7z"/><path d="M979.2 496.4l2.4 0.9 5.2 -4 -2.4 -0.7z"/><path d="M961.2 506.9l2.2 1.2 5.3 -3.9 -2.2 -1.1z"/><path d="M997.2 485.4l2.6 0.5 5.1 -4.1 -2.6 -0.2z"/><path d="M1056.1 445l3.3 -1 4.9 -4.2 -3.3 1.2z"/><path d="M943.2 516.8l2 1.6 5.4 -3.9 -2.1 -1.4z"/><path d="M1170.9 350l4.9 -4.2 4.6 -4.4 -5 4.3z"/><path d="M1015.1 473.9l2.8 0 5.1 -4.1 -2.8 0.2z"/><path d="M925.1 526.2l1.9 2 5.4 -3.9 -1.9 -1.8z"/><path d="M1120.1 394.5l4.1 -2.7 4.8 -4.3 -4.2 2.8z"/><path d="M1097.1 413.4l3.8 -2.1 4.9 -4.2 -3.9 2.2z"/><path d="M1033.1 461.8l3 -0.5 5.1 -4.1 -3.1 0.6z"/><path d="M1143.1 374.7l4.5 -3.3 4.7 -4.4 -4.5 3.5z"/><path d="M1074.1 431.6l3.6 -1.5 4.9 -4.2 -3.6 1.6z"/><path d="M906.9 535.1l1.7 2.3 5.6 -3.8 -1.8 -2.2z"/><path d="M974 500.3l2.4 0.9 5.2 -3.9 -2.4 -0.9z"/><path d="M1166.3 354.2l4.8 -4.1 4.7 -4.3 -4.9 4.2z"/><path d="M955.9 510.7l2.2 1.3 5.3 -3.9 -2.2 -1.2z"/><path d="M992 489.3l2.6 0.6 5.2 -4 -2.6 -0.5z"/><path d="M1051.1 449l3.3 -0.8 5 -4.2 -3.3 1z"/><path d="M937.8 520.6l2 1.7 5.4 -3.9 -2 -1.6z"/><path d="M1010 477.8l2.8 0.2 5.1 -4.1 -2.8 0z"/><path d="M1115.3 398.6l4.1 -2.5 4.8 -4.3 -4.1 2.7z"/><path d="M1092.3 417.5l3.8 -1.9 4.8 -4.3 -3.8 2.1z"/><path d="M1189.6 332.8l5.2 -4.8 4.6 -4.4 -5.3 4.9z"/><path d="M919.7 529.9l1.8 2.1 5.5 -3.8 -1.9 -2z"/><path d="M1138.5 379l4.4 -3.3 4.7 -4.3 -4.5 3.3z"/><path d="M1028.1 465.8l2.9 -0.3 5.1 -4.2 -3 0.5z"/><path d="M1069.2 435.7l3.5 -1.3 5 -4.3 -3.6 1.5z"/><path d="M1161.7 358.4l4.7 -3.9 4.7 -4.4 -4.8 4.1z"/><path d="M968.7 504.2l2.4 1.1 5.3 -4.1 -2.4 -0.9z"/><path d="M1046.2 453.1l3.2 -0.7 5 -4.2 -3.3 0.8z"/><path d="M986.8 493.3l2.5 0.7 5.3 -4.1 -2.6 -0.6z"/><path d="M950.6 514.5l2.2 1.5 5.3 -4 -2.2 -1.3z"/><path d="M1004.9 481.8l2.7 0.3 5.2 -4.1 -2.8 -0.2z"/><path d="M932.4 524.3l2 1.9 5.4 -3.9 -2 -1.7z"/><path d="M1185 337.1l5.1 -4.6 4.7 -4.5 -5.2 4.8z"/><path d="M1110.6 402.8l4 -2.4 4.8 -4.3 -4.1 2.5z"/><path d="M1087.4 421.7l3.8 -1.8 4.9 -4.3 -3.8 1.9z"/><path d="M1133.7 383.2l4.4 -3.1 4.8 -4.4 -4.4 3.3z"/><path d="M1023 469.8l2.9 -0.1 5.1 -4.2 -2.9 0.3z"/><path d="M914.2 533.6l1.8 2.3 5.5 -3.9 -1.8 -2.1z"/><path d="M1064.3 439.8l3.4 -1.2 5 -4.2 -3.5 1.3z"/><path d="M1157 362.7l4.7 -3.7 4.7 -4.5 -4.7 3.9z"/><path d="M1041.2 457.2l3.1 -0.6 5.1 -4.2 -3.2 0.7z"/><path d="M963.4 508.1l2.3 1.2 5.4 -4 -2.4 -1.1z"/><path d="M981.6 497.3l2.5 0.8 5.2 -4.1 -2.5 -0.7z"/><path d="M945.2 518.4l2.1 1.6 5.5 -4 -2.2 -1.5z"/><path d="M1180.4 341.4l5.1 -4.5 4.6 -4.4 -5.1 4.6z"/><path d="M1105.8 407.1l3.9 -2.3 4.9 -4.4 -4 2.4z"/><path d="M999.8 485.9l2.6 0.4 5.2 -4.2 -2.7 -0.3z"/><path d="M1082.6 425.9l3.6 -1.6 5 -4.4 -3.8 1.8z"/><path d="M1129 387.5l4.3 -3 4.8 -4.4 -4.4 3.1z"/><path d="M927 528.2l1.9 1.9 5.5 -3.9 -2 -1.9z"/><path d="M1017.9 473.9l2.9 0 5.1 -4.2 -2.9 0.1z"/><path d="M1059.4 444l3.3 -1.1 5 -4.3 -3.4 1.2z"/><path d="M1152.3 367l4.7 -3.6 4.7 -4.4 -4.7 3.7z"/><path d="M908.6 537.4l1.8 2.4 5.6 -3.9 -1.8 -2.3z"/><path d="M1036.1 461.3l3.1 -0.4 5.1 -4.3 -3.1 0.6z"/><path d="M1175.8 345.8l5 -4.4 4.7 -4.5 -5.1 4.5z"/><path d="M958.1 512l2.3 1.4 5.3 -4.1 -2.3 -1.2z"/><path d="M976.4 501.2l2.4 1 5.3 -4.1 -2.5 -0.8z"/><path d="M1100.9 411.3l4 -2.1 4.8 -4.4 -3.9 2.3z"/><path d="M1124.2 391.8l4.3 -2.8 4.8 -4.5 -4.3 3z"/><path d="M939.8 522.3l2.1 1.7 5.4 -4 -2.1 -1.6z"/><path d="M1077.7 430.1l3.6 -1.5 4.9 -4.3 -3.6 1.6z"/><path d="M994.6 489.9l2.6 0.6 5.2 -4.2 -2.6 -0.4z"/><path d="M1147.6 371.4l4.6 -3.5 4.8 -4.5 -4.7 3.6z"/><path d="M921.5 532l1.9 2.1 5.5 -4 -1.9 -1.9z"/><path d="M1054.4 448.2l3.3 -0.9 5 -4.4 -3.3 1.1z"/><path d="M1012.8 478l2.8 0.1 5.2 -4.2 -2.9 0z"/><path d="M1171.1 350.1l5 -4.1 4.7 -4.6 -5 4.4z"/><path d="M1031 465.5l3.1 -0.3 5.1 -4.3 -3.1 0.4z"/><path d="M1096.1 415.6l3.8 -2 5 -4.4 -4 2.1z"/><path d="M1119.4 396.1l4.2 -2.7 4.9 -4.4 -4.3 2.8z"/><path d="M1072.7 434.4l3.6 -1.4 5 -4.4 -3.6 1.5z"/><path d="M971.1 505.3l2.3 1.1 5.4 -4.2 -2.4 -1z"/><path d="M952.8 516l2.1 1.5 5.5 -4.1 -2.3 -1.4z"/><path d="M989.3 494l2.6 0.7 5.3 -4.2 -2.6 -0.6z"/><path d="M934.4 526.2l2 1.9 5.5 -4.1 -2.1 -1.7z"/><path d="M1142.9 375.7l4.5 -3.3 4.8 -4.5 -4.6 3.5z"/><path d="M1194.8 328l5.3 -4.9 4.7 -4.6 -5.4 5.1z"/><path d="M1049.4 452.4l3.2 -0.8 5.1 -4.3 -3.3 0.9z"/><path d="M1007.6 482.1l2.8 0.3 5.2 -4.3 -2.8 -0.1z"/><path d="M916 535.9l1.8 2.2 5.6 -4 -1.9 -2.1z"/><path d="M1166.4 354.5l4.9 -4 4.8 -4.5 -5 4.1z"/><path d="M1025.9 469.7l3 -0.2 5.2 -4.3 -3.1 0.3z"/><path d="M1091.2 419.9l3.8 -1.8 4.9 -4.5 -3.8 2z"/><path d="M1114.6 400.4l4.1 -2.5 4.9 -4.5 -4.2 2.7z"/><path d="M1067.7 438.6l3.6 -1.2 5 -4.4 -3.6 1.4z"/><path d="M1138.1 380.1l4.5 -3.1 4.8 -4.6 -4.5 3.3z"/><path d="M965.7 509.3l2.4 1.3 5.3 -4.2 -2.3 -1.1z"/><path d="M947.3 520l2.2 1.7 5.4 -4.2 -2.1 -1.5z"/><path d="M1190.1 332.5l5.3 -4.8 4.7 -4.6 -5.3 4.9z"/><path d="M984.1 498.1l2.5 0.8 5.3 -4.2 -2.6 -0.7z"/><path d="M928.9 530.1l2 2.1 5.5 -4.1 -2 -1.9z"/><path d="M1044.3 456.6l3.2 -0.6 5.1 -4.4 -3.2 0.8z"/><path d="M1002.4 486.3l2.8 0.4 5.2 -4.3 -2.8 -0.3z"/><path d="M1161.7 359l4.9 -3.9 4.7 -4.6 -4.9 4z"/><path d="M910.4 539.8l1.8 2.4 5.6 -4.1 -1.8 -2.2z"/><path d="M1086.2 424.3l3.8 -1.7 5 -4.5 -3.8 1.8z"/><path d="M1109.7 404.8l4.1 -2.3 4.9 -4.6 -4.1 2.5z"/><path d="M1020.8 473.9l2.9 0 5.2 -4.4 -3 0.2z"/><path d="M1062.7 442.9l3.5 -1 5.1 -4.5 -3.6 1.2z"/><path d="M1133.3 384.5l4.4 -3 4.9 -4.5 -4.5 3.1z"/><path d="M1185.5 336.9l5.2 -4.6 4.7 -4.6 -5.3 4.8z"/><path d="M960.4 513.4l2.2 1.4 5.5 -4.2 -2.4 -1.3z"/><path d="M941.9 524l2.1 1.8 5.5 -4.1 -2.2 -1.7z"/><path d="M978.8 502.2l2.5 1 5.3 -4.3 -2.5 -0.8z"/><path d="M1039.2 460.9l3.2 -0.4 5.1 -4.5 -3.2 0.6z"/><path d="M1157 363.4l4.8 -3.7 4.8 -4.6 -4.9 3.9z"/><path d="M923.4 534.1l1.9 2.2 5.6 -4.1 -2 -2.1z"/><path d="M997.2 490.5l2.7 0.5 5.3 -4.3 -2.8 -0.4z"/><path d="M1104.9 409.2l4 -2.2 4.9 -4.5 -4.1 2.3z"/><path d="M1081.3 428.6l3.7 -1.5 5 -4.5 -3.8 1.7z"/><path d="M1015.6 478.1l2.9 0.2 5.2 -4.4 -2.9 0z"/><path d="M1180.8 341.4l5.1 -4.4 4.8 -4.7 -5.2 4.6z"/><path d="M1128.5 389l4.4 -2.9 4.8 -4.6 -4.4 3z"/><path d="M1057.7 447.3l3.4 -0.9 5.1 -4.5 -3.5 1z"/><path d="M1152.2 367.9l4.7 -3.5 4.9 -4.7 -4.8 3.7z"/><path d="M954.9 517.5l2.3 1.6 5.4 -4.3 -2.2 -1.4z"/><path d="M1034.1 465.2l3.1 -0.3 5.2 -4.4 -3.2 0.4z"/><path d="M973.4 506.4l2.5 1.1 5.4 -4.3 -2.5 -1z"/><path d="M936.4 528.1l2.1 1.9 5.5 -4.2 -2.1 -1.8z"/><path d="M991.9 494.7l2.6 0.7 5.4 -4.4 -2.7 -0.5z"/><path d="M917.8 538.1l1.9 2.4 5.6 -4.2 -1.9 -2.2z"/><path d="M1099.9 413.6l4 -2 5 -4.6 -4 2.2z"/><path d="M1076.3 433l3.6 -1.4 5.1 -4.5 -3.7 1.5z"/><path d="M1176.1 346l5.1 -4.3 4.7 -4.7 -5.1 4.4z"/><path d="M1123.6 393.4l4.3 -2.7 5 -4.6 -4.4 2.9z"/><path d="M1010.4 482.4l2.8 0.3 5.3 -4.4 -2.9 -0.2z"/><path d="M1052.6 451.6l3.4 -0.7 5.1 -4.5 -3.4 0.9z"/><path d="M1147.4 372.4l4.7 -3.4 4.8 -4.6 -4.7 3.5z"/><path d="M1028.9 469.5l3.1 -0.1 5.2 -4.5 -3.1 0.3z"/><path d="M949.5 521.7l2.2 1.6 5.5 -4.2 -2.3 -1.6z"/><path d="M968.1 510.6l2.3 1.3 5.5 -4.4 -2.5 -1.1z"/><path d="M1200.1 323.1l5.5 -5 4.7 -4.8 -5.5 5.2z"/><path d="M930.9 532.2l2 2.1 5.6 -4.3 -2.1 -1.9z"/><path d="M986.6 498.9l2.6 0.9 5.3 -4.4 -2.6 -0.7z"/><path d="M1095 418.1l3.9 -1.9 5 -4.6 -4 2z"/><path d="M1171.3 350.5l5.1 -4.1 4.8 -4.7 -5.1 4.3z"/><path d="M1071.3 437.4l3.6 -1.2 5 -4.6 -3.6 1.4z"/><path d="M912.2 542.2l1.8 2.5 5.7 -4.2 -1.9 -2.4z"/><path d="M1118.7 397.9l4.3 -2.5 4.9 -4.7 -4.3 2.7z"/><path d="M1005.2 486.7l2.7 0.5 5.3 -4.5 -2.8 -0.3z"/><path d="M1047.5 456l3.3 -0.6 5.2 -4.5 -3.4 0.7z"/><path d="M1142.6 377l4.6 -3.3 4.9 -4.7 -4.7 3.4z"/><path d="M1195.4 327.7l5.4 -4.9 4.8 -4.7 -5.5 5z"/><path d="M1023.7 473.9l3.1 0 5.2 -4.5 -3.1 0.1z"/><path d="M944 525.8l2.1 1.9 5.6 -4.4 -2.2 -1.6z"/><path d="M962.6 514.8l2.4 1.4 5.4 -4.3 -2.3 -1.3z"/><path d="M1166.6 355.1l4.9 -4 4.9 -4.7 -5.1 4.1z"/><path d="M1090 422.6l3.9 -1.7 5 -4.7 -3.9 1.9z"/><path d="M925.3 536.3l2 2.2 5.6 -4.2 -2 -2.1z"/><path d="M981.3 503.2l2.5 1 5.4 -4.4 -2.6 -0.9z"/><path d="M1066.2 441.9l3.5 -1.1 5.2 -4.6 -3.6 1.2z"/><path d="M1113.8 402.5l4.2 -2.4 5 -4.7 -4.3 2.5z"/><path d="M1042.4 460.5l3.2 -0.5 5.2 -4.6 -3.3 0.6z"/><path d="M999.9 491l2.7 0.6 5.3 -4.4 -2.7 -0.5z"/><path d="M1137.7 381.5l4.6 -3.1 4.9 -4.7 -4.6 3.3z"/><path d="M1190.7 332.3l5.4 -4.7 4.7 -4.8 -5.4 4.9z"/><path d="M1018.5 478.3l3 0.1 5.3 -4.5 -3.1 0z"/><path d="M1161.8 359.7l4.9 -3.8 4.8 -4.8 -4.9 4z"/><path d="M1085 427.1l3.8 -1.6 5.1 -4.6 -3.9 1.7z"/><path d="M957.2 519.1l2.3 1.5 5.5 -4.4 -2.4 -1.4z"/><path d="M938.5 530l2.1 2 5.5 -4.3 -2.1 -1.9z"/><path d="M1108.9 407l4.1 -2.2 5 -4.7 -4.2 2.4z"/><path d="M1061.1 446.4l3.5 -0.9 5.1 -4.7 -3.5 1.1z"/><path d="M975.9 507.5l2.4 1.2 5.5 -4.5 -2.5 -1z"/><path d="M919.7 540.5l1.9 2.3 5.7 -4.3 -2 -2.2z"/><path d="M1132.9 386.1l4.4 -2.9 5 -4.8 -4.6 3.1z"/><path d="M1037.2 464.9l3.2 -0.3 5.2 -4.6 -3.2 0.5z"/><path d="M994.5 495.4l2.7 0.8 5.4 -4.6 -2.7 -0.6z"/><path d="M1185.9 337l5.3 -4.6 4.9 -4.8 -5.4 4.7z"/><path d="M1156.9 364.4l4.9 -3.7 4.9 -4.8 -4.9 3.8z"/><path d="M1013.2 482.7l3 0.3 5.3 -4.6 -3 -0.1z"/><path d="M1079.9 431.6l3.8 -1.4 5.1 -4.7 -3.8 1.6z"/><path d="M1103.9 411.6l4.1 -2.1 5 -4.7 -4.1 2.2z"/><path d="M1056 450.9l3.4 -0.8 5.2 -4.6 -3.5 0.9z"/><path d="M951.7 523.3l2.2 1.8 5.6 -4.5 -2.3 -1.5z"/><path d="M932.9 534.3l2 2.1 5.7 -4.4 -2.1 -2z"/><path d="M1127.9 390.7l4.5 -2.7 4.9 -4.8 -4.4 2.9z"/><path d="M970.4 511.9l2.5 1.3 5.4 -4.5 -2.4 -1.2z"/><path d="M914 544.7l1.9 2.5 5.7 -4.4 -1.9 -2.3z"/><path d="M1181.2 341.7l5.2 -4.4 4.8 -4.9 -5.3 4.6z"/><path d="M1032 469.4l3.1 -0.2 5.3 -4.6 -3.2 0.3z"/><path d="M989.2 499.8l2.6 0.9 5.4 -4.5 -2.7 -0.8z"/><path d="M1152.1 369l4.8 -3.5 4.9 -4.8 -4.9 3.7z"/><path d="M1007.9 487.2l2.9 0.4 5.4 -4.6 -3 -0.3z"/><path d="M1074.9 436.2l3.6 -1.2 5.2 -4.8 -3.8 1.4z"/><path d="M1098.9 416.2l4 -1.9 5.1 -4.8 -4.1 2.1z"/><path d="M1050.8 455.4l3.4 -0.6 5.2 -4.7 -3.4 0.8z"/><path d="M1123 395.4l4.4 -2.6 5 -4.8 -4.5 2.7z"/><path d="M1205.6 318.1l5.6 -5.2 4.8 -4.9 -5.7 5.3z"/><path d="M946.1 527.7l2.2 1.8 5.6 -4.4 -2.2 -1.8z"/><path d="M1176.4 346.4l5.1 -4.2 4.9 -4.9 -5.2 4.4z"/><path d="M927.3 538.5l2 2.3 5.6 -4.4 -2 -2.1z"/><path d="M965 516.2l2.4 1.5 5.5 -4.5 -2.5 -1.3z"/><path d="M1026.8 473.9l3 0 5.3 -4.7 -3.1 0.2z"/><path d="M1147.2 373.7l4.7 -3.3 5 -4.9 -4.8 3.5z"/><path d="M983.8 504.2l2.6 1.1 5.4 -4.6 -2.6 -0.9z"/><path d="M1069.7 440.8l3.7 -1.1 5.1 -4.7 -3.6 1.2z"/><path d="M1093.9 420.9l3.9 -1.8 5.1 -4.8 -4 1.9z"/><path d="M1002.6 491.6l2.8 0.6 5.4 -4.6 -2.9 -0.4z"/><path d="M1200.8 322.8l5.6 -5 4.8 -4.9 -5.6 5.2z"/><path d="M1045.6 460l3.4 -0.5 5.2 -4.7 -3.4 0.6z"/><path d="M1118 400.1l4.3 -2.5 5.1 -4.8 -4.4 2.6z"/><path d="M1171.5 351.1l5.1 -4 4.9 -4.9 -5.1 4.2z"/><path d="M940.6 532l2.1 2 5.6 -4.5 -2.2 -1.8z"/><path d="M1021.5 478.4l3 0.2 5.3 -4.7 -3 0z"/><path d="M959.5 520.6l2.3 1.7 5.6 -4.6 -2.4 -1.5z"/><path d="M921.6 542.8l2 2.5 5.7 -4.5 -2 -2.3z"/><path d="M1142.3 378.4l4.6 -3.1 5 -4.9 -4.7 3.3z"/><path d="M978.3 508.7l2.6 1.2 5.5 -4.6 -2.6 -1.1z"/><path d="M1088.8 425.5l3.9 -1.6 5.1 -4.8 -3.9 1.8z"/><path d="M1064.6 445.5l3.6 -1 5.2 -4.8 -3.7 1.1z"/><path d="M1196.1 327.6l5.5 -4.8 4.8 -5 -5.6 5z"/><path d="M997.2 496.2l2.8 0.7 5.4 -4.7 -2.8 -0.6z"/><path d="M1113 404.8l4.3 -2.3 5 -4.9 -4.3 2.5z"/><path d="M1166.7 355.9l5 -3.9 4.9 -4.9 -5.1 4z"/><path d="M1040.4 464.6l3.3 -0.3 5.3 -4.8 -3.4 0.5z"/><path d="M1137.3 383.2l4.6 -3 5 -4.9 -4.6 3.1z"/><path d="M1016.2 483l2.9 0.3 5.4 -4.7 -3 -0.2z"/><path d="M934.9 536.4l2.1 2.2 5.7 -4.6 -2.1 -2z"/><path d="M953.9 525.1l2.3 1.7 5.6 -4.5 -2.3 -1.7z"/><path d="M915.9 547.2l1.9 2.5 5.8 -4.4 -2 -2.5z"/><path d="M972.9 513.2l2.5 1.3 5.5 -4.6 -2.6 -1.2z"/><path d="M1191.2 332.4l5.5 -4.7 4.9 -4.9 -5.5 4.8z"/><path d="M1083.7 430.2l3.8 -1.4 5.2 -4.9 -3.9 1.6z"/><path d="M1059.4 450.1l3.5 -0.8 5.3 -4.8 -3.6 1z"/><path d="M1161.8 360.7l5 -3.7 4.9 -5 -5 3.9z"/><path d="M1108 409.5l4.2 -2.1 5.1 -4.9 -4.3 2.3z"/><path d="M991.8 500.7l2.7 0.9 5.5 -4.7 -2.8 -0.7z"/><path d="M1035.1 469.2l3.3 -0.1 5.3 -4.8 -3.3 0.3z"/><path d="M1132.4 388l4.5 -2.9 5 -4.9 -4.6 3z"/><path d="M1010.8 487.6l2.9 0.5 5.4 -4.8 -2.9 -0.3z"/><path d="M929.3 540.8l2 2.3 5.7 -4.5 -2.1 -2.2z"/><path d="M948.3 529.5l2.3 2 5.6 -4.7 -2.3 -1.7z"/><path d="M1186.4 337.3l5.4 -4.5 4.9 -5.1 -5.5 4.7z"/><path d="M1078.5 435l3.8 -1.3 5.2 -4.9 -3.8 1.4z"/><path d="M967.4 517.7l2.4 1.5 5.6 -4.7 -2.5 -1.3z"/><path d="M1156.9 365.5l4.9 -3.5 5 -5 -5 3.7z"/><path d="M1054.2 454.8l3.5 -0.6 5.2 -4.9 -3.5 0.8z"/><path d="M1102.9 414.3l4.1 -2 5.2 -4.9 -4.2 2.1z"/><path d="M986.4 505.3l2.6 1 5.5 -4.7 -2.7 -0.9z"/><path d="M1029.8 473.9l3.2 0 5.4 -4.8 -3.3 0.1z"/><path d="M1127.4 392.8l4.4 -2.7 5.1 -5 -4.5 2.9z"/><path d="M1005.4 492.2l2.9 0.7 5.4 -4.8 -2.9 -0.5z"/><path d="M1181.5 342.2l5.4 -4.4 4.9 -5 -5.4 4.5z"/><path d="M1211.2 312.9l5.9 -5.4 4.8 -5 -5.9 5.5z"/><path d="M1151.9 370.4l4.9 -3.4 5 -5 -4.9 3.5z"/><path d="M942.7 534l2.2 2.1 5.7 -4.6 -2.3 -2z"/><path d="M1073.4 439.7l3.7 -1.1 5.2 -4.9 -3.8 1.3z"/><path d="M923.6 545.3l2 2.4 5.7 -4.6 -2 -2.3z"/><path d="M1049 459.5l3.4 -0.4 5.3 -4.9 -3.5 0.6z"/><path d="M1097.8 419.1l4.1 -1.8 5.1 -5 -4.1 2z"/><path d="M961.8 522.3l2.4 1.6 5.6 -4.7 -2.4 -1.5z"/><path d="M1024.5 478.6l3.1 0.2 5.4 -4.9 -3.2 0z"/><path d="M1122.3 397.6l4.4 -2.5 5.1 -5 -4.4 2.7z"/><path d="M980.9 509.9l2.6 1.2 5.5 -4.8 -2.6 -1z"/><path d="M1176.6 347.1l5.3 -4.2 5 -5.1 -5.4 4.4z"/><path d="M1206.4 317.8l5.8 -5.2 4.9 -5.1 -5.9 5.4z"/><path d="M1000 496.9l2.8 0.8 5.5 -4.8 -2.9 -0.7z"/><path d="M1146.9 375.3l4.8 -3.3 5.1 -5 -4.9 3.4z"/><path d="M1068.2 444.5l3.6 -1 5.3 -4.9 -3.7 1.1z"/><path d="M1092.7 423.9l4 -1.6 5.2 -5 -4.1 1.8z"/><path d="M1043.7 464.3l3.3 -0.3 5.4 -4.9 -3.4 0.4z"/><path d="M937 538.6l2.2 2.2 5.7 -4.7 -2.2 -2.1z"/><path d="M917.8 549.7l2 2.7 5.8 -4.7 -2 -2.4z"/><path d="M956.2 526.8l2.3 1.8 5.7 -4.7 -2.4 -1.6z"/><path d="M1117.3 402.5l4.3 -2.4 5.1 -5 -4.4 2.5z"/><path d="M1019.1 483.3l3.1 0.3 5.4 -4.8 -3.1 -0.2z"/><path d="M975.4 514.5l2.5 1.4 5.6 -4.8 -2.6 -1.2z"/><path d="M1201.6 322.8l5.7 -5 4.9 -5.2 -5.8 5.2z"/><path d="M1171.7 352l5.2 -4 5 -5.1 -5.3 4.2z"/><path d="M1141.9 380.2l4.8 -3.1 5 -5.1 -4.8 3.3z"/><path d="M994.5 501.6l2.8 0.9 5.5 -4.8 -2.8 -0.8z"/><path d="M1062.9 449.3l3.6 -0.8 5.3 -5 -3.6 1z"/><path d="M1087.5 428.8l4 -1.5 5.2 -5 -4 1.6z"/><path d="M1038.4 469.1l3.2 -0.2 5.4 -4.9 -3.3 0.3z"/><path d="M931.3 543.1l2.1 2.4 5.8 -4.7 -2.2 -2.2z"/><path d="M1112.2 407.4l4.3 -2.2 5.1 -5.1 -4.3 2.4z"/><path d="M950.6 531.5l2.3 1.9 5.6 -4.8 -2.3 -1.8z"/><path d="M1196.7 327.7l5.6 -4.8 5 -5.1 -5.7 5z"/><path d="M1013.7 488.1l3 0.5 5.5 -5 -3.1 -0.3z"/><path d="M1166.8 357l5.1 -3.9 5 -5.1 -5.2 4z"/><path d="M969.8 519.2l2.5 1.5 5.6 -4.8 -2.5 -1.4z"/><path d="M1136.9 385.1l4.7 -2.9 5.1 -5.1 -4.8 3.1z"/><path d="M989 506.3l2.7 1.1 5.6 -4.9 -2.8 -0.9z"/><path d="M1057.7 454.2l3.5 -0.7 5.3 -5 -3.6 0.8z"/><path d="M1082.3 433.7l3.9 -1.4 5.3 -5 -4 1.5z"/><path d="M1033 473.9l3.2 0 5.4 -5 -3.2 0.2z"/><path d="M1107 412.3l4.3 -2 5.2 -5.1 -4.3 2.2z"/><path d="M1191.8 332.8l5.5 -4.7 5 -5.2 -5.6 4.8z"/><path d="M1161.8 362l5 -3.7 5.1 -5.2 -5.1 3.9z"/><path d="M925.6 547.7l2 2.6 5.8 -4.8 -2.1 -2.4z"/><path d="M944.9 536.1l2.2 2.1 5.8 -4.8 -2.3 -1.9z"/><path d="M1008.3 492.9l2.9 0.6 5.5 -4.9 -3 -0.5z"/><path d="M1131.8 390.1l4.6 -2.8 5.2 -5.1 -4.7 2.9z"/><path d="M964.2 523.9l2.4 1.7 5.7 -4.9 -2.5 -1.5z"/><path d="M1052.4 459.1l3.5 -0.5 5.3 -5.1 -3.5 0.7z"/><path d="M1077.1 438.6l3.8 -1.2 5.3 -5.1 -3.9 1.4z"/><path d="M983.5 511.1l2.6 1.3 5.6 -5 -2.7 -1.1z"/><path d="M1027.6 478.8l3.2 0.1 5.4 -5 -3.2 0z"/><path d="M1101.9 417.3l4.1 -1.9 5.3 -5.1 -4.3 2z"/><path d="M1186.9 337.8l5.4 -4.5 5 -5.2 -5.5 4.7z"/><path d="M1156.8 367l5 -3.5 5 -5.2 -5 3.7z"/><path d="M1217.1 307.5l6 -5.5 4.9 -5.2 -6.1 5.7z"/><path d="M1002.8 497.7l2.9 0.8 5.5 -5 -2.9 -0.6z"/><path d="M919.8 552.4l2 2.7 5.8 -4.8 -2 -2.6z"/><path d="M1126.7 395.1l4.6 -2.6 5.1 -5.2 -4.6 2.8z"/><path d="M939.2 540.8l2.2 2.3 5.7 -4.9 -2.2 -2.1z"/><path d="M958.5 528.6l2.4 1.9 5.7 -4.9 -2.4 -1.7z"/><path d="M1071.8 443.5l3.8 -1 5.3 -5.1 -3.8 1.2z"/><path d="M1047 464l3.5 -0.3 5.4 -5.1 -3.5 0.5z"/><path d="M1181.9 342.9l5.4 -4.3 5 -5.3 -5.4 4.5z"/><path d="M977.9 515.9l2.6 1.4 5.6 -4.9 -2.6 -1.3z"/><path d="M1096.7 422.3l4.1 -1.7 5.2 -5.2 -4.1 1.9z"/><path d="M1151.7 372l5 -3.3 5.1 -5.2 -5 3.5z"/><path d="M1022.2 483.6l3.1 0.4 5.5 -5.1 -3.2 -0.1z"/><path d="M1212.2 312.6l5.9 -5.3 5 -5.3 -6 5.5z"/><path d="M1121.6 400.1l4.5 -2.4 5.2 -5.2 -4.6 2.6z"/><path d="M997.3 502.5l2.8 1 5.6 -5 -2.9 -0.8z"/><path d="M933.4 545.5l2.2 2.5 5.8 -4.9 -2.2 -2.3z"/><path d="M952.9 533.4l2.3 2 5.7 -4.9 -2.4 -1.9z"/><path d="M1066.5 448.5l3.7 -0.8 5.4 -5.2 -3.8 1z"/><path d="M1176.9 348l5.3 -4.2 5.1 -5.2 -5.4 4.3z"/><path d="M1041.6 468.9l3.4 -0.1 5.5 -5.1 -3.5 0.3z"/><path d="M1207.3 317.8l5.8 -5.2 5 -5.3 -5.9 5.3z"/><path d="M1146.7 377.1l4.8 -3.2 5.2 -5.2 -5 3.3z"/><path d="M1091.5 427.3l4 -1.5 5.3 -5.2 -4.1 1.7z"/><path d="M972.3 520.7l2.5 1.6 5.7 -5 -2.6 -1.4z"/><path d="M1016.7 488.6l3.1 0.4 5.5 -5 -3.1 -0.4z"/><path d="M1116.5 405.2l4.4 -2.2 5.2 -5.3 -4.5 2.4z"/><path d="M991.7 507.4l2.8 1.2 5.6 -5.1 -2.8 -1z"/><path d="M1171.9 353.1l5.3 -4 5 -5.3 -5.3 4.2z"/><path d="M927.6 550.3l2.1 2.6 5.9 -4.9 -2.2 -2.5z"/><path d="M1061.2 453.5l3.7 -0.6 5.3 -5.2 -3.7 0.8z"/><path d="M1202.3 322.9l5.8 -4.9 5 -5.4 -5.8 5.2z"/><path d="M947.1 538.2l2.3 2.2 5.8 -5 -2.3 -2z"/><path d="M1036.2 473.9l3.4 0 5.4 -5.1 -3.4 0.1z"/><path d="M1141.6 382.2l4.8 -3 5.1 -5.3 -4.8 3.2z"/><path d="M1086.2 432.3l4 -1.3 5.3 -5.2 -4 1.5z"/><path d="M1011.2 493.5l3 0.7 5.6 -5.2 -3.1 -0.4z"/><path d="M966.6 525.6l2.5 1.7 5.7 -5 -2.5 -1.6z"/><path d="M1111.3 410.3l4.3 -2.1 5.3 -5.2 -4.4 2.2z"/><path d="M986.1 512.4l2.8 1.2 5.6 -5 -2.8 -1.2z"/><path d="M1166.8 358.3l5.2 -3.8 5.2 -5.4 -5.3 4z"/><path d="M1197.3 328.1l5.7 -4.8 5.1 -5.3 -5.8 4.9z"/><path d="M1136.4 387.3l4.8 -2.8 5.2 -5.3 -4.8 3z"/><path d="M1055.9 458.6l3.5 -0.5 5.5 -5.2 -3.7 0.6z"/><path d="M921.8 555.1l2 2.7 5.9 -4.9 -2.1 -2.6z"/><path d="M1030.8 478.9l3.3 0.2 5.5 -5.2 -3.4 0z"/><path d="M1080.9 437.4l3.9 -1.2 5.4 -5.2 -4 1.3z"/><path d="M941.4 543.1l2.2 2.3 5.8 -5 -2.3 -2.2z"/><path d="M1005.7 498.5l3 0.8 5.5 -5.1 -3 -0.7z"/><path d="M1106 415.4l4.3 -1.9 5.3 -5.3 -4.3 2.1z"/><path d="M960.9 530.5l2.5 1.9 5.7 -5.1 -2.5 -1.7z"/><path d="M1161.8 363.5l5.1 -3.7 5.1 -5.3 -5.2 3.8z"/><path d="M1192.3 333.3l5.7 -4.6 5 -5.4 -5.7 4.8z"/><path d="M980.5 517.3l2.7 1.5 5.7 -5.2 -2.8 -1.2z"/><path d="M1131.3 392.5l4.6 -2.6 5.3 -5.4 -4.8 2.8z"/><path d="M1050.5 463.7l3.5 -0.4 5.4 -5.2 -3.5 0.5z"/><path d="M1223.1 302l6.1 -5.6 5 -5.4 -6.2 5.8z"/><path d="M1075.6 442.5l3.9 -1 5.3 -5.3 -3.9 1.2z"/><path d="M1025.3 484l3.2 0.3 5.6 -5.2 -3.3 -0.2z"/><path d="M935.6 548l2.1 2.4 5.9 -5 -2.2 -2.3z"/><path d="M1100.8 420.6l4.2 -1.8 5.3 -5.3 -4.3 1.9z"/><path d="M1000.1 503.5l2.9 1 5.7 -5.2 -3 -0.8z"/><path d="M955.2 535.4l2.4 2.1 5.8 -5.1 -2.5 -1.9z"/><path d="M1156.7 368.7l5 -3.5 5.2 -5.4 -5.1 3.7z"/><path d="M1187.3 338.6l5.6 -4.5 5.1 -5.4 -5.7 4.6z"/><path d="M1126.1 397.7l4.6 -2.5 5.2 -5.3 -4.6 2.6z"/><path d="M1218.1 307.3l6.1 -5.5 5 -5.4 -6.1 5.6z"/><path d="M974.8 522.3l2.7 1.6 5.7 -5.1 -2.7 -1.5z"/><path d="M1045 468.8l3.5 -0.2 5.5 -5.3 -3.5 0.4z"/><path d="M1070.2 447.7l3.8 -0.9 5.5 -5.3 -3.9 1z"/><path d="M1019.8 489l3.1 0.5 5.6 -5.2 -3.2 -0.3z"/><path d="M1095.5 425.8l4.2 -1.6 5.3 -5.4 -4.2 1.8z"/><path d="M929.7 552.9l2.1 2.6 5.9 -5.1 -2.1 -2.4z"/><path d="M994.5 508.6l2.9 1.1 5.6 -5.2 -2.9 -1z"/><path d="M1182.2 343.8l5.5 -4.2 5.2 -5.5 -5.6 4.5z"/><path d="M1151.5 373.9l5 -3.2 5.2 -5.5 -5 3.5z"/><path d="M949.4 540.4l2.4 2.2 5.8 -5.1 -2.4 -2.1z"/><path d="M1213.1 312.6l6 -5.3 5.1 -5.5 -6.1 5.5z"/><path d="M1120.9 403l4.5 -2.4 5.3 -5.4 -4.6 2.5z"/><path d="M1039.6 473.9l3.4 0 5.5 -5.3 -3.5 0.2z"/><path d="M969.1 527.3l2.6 1.8 5.8 -5.2 -2.7 -1.6z"/><path d="M1064.9 452.9l3.7 -0.7 5.4 -5.4 -3.8 0.9z"/><path d="M1014.2 494.2l3.1 0.6 5.6 -5.3 -3.1 -0.5z"/><path d="M1090.2 431l4.1 -1.4 5.4 -5.4 -4.2 1.6z"/><path d="M1177.2 349.1l5.4 -4 5.1 -5.5 -5.5 4.2z"/><path d="M1146.4 379.2l4.9 -3.1 5.2 -5.4 -5 3.2z"/><path d="M988.9 513.6l2.8 1.3 5.7 -5.2 -2.9 -1.1z"/><path d="M923.8 557.8l2.1 2.8 5.9 -5.1 -2.1 -2.6z"/><path d="M1208.1 318l5.9 -5.2 5.1 -5.5 -6 5.3z"/><path d="M1115.6 408.2l4.5 -2.1 5.3 -5.5 -4.5 2.4z"/><path d="M943.6 545.4l2.3 2.4 5.9 -5.2 -2.4 -2.2z"/><path d="M1034.1 479.1l3.3 0.2 5.6 -5.4 -3.4 0z"/><path d="M1059.4 458.1l3.7 -0.5 5.5 -5.4 -3.7 0.7z"/><path d="M963.4 532.4l2.5 1.9 5.8 -5.2 -2.6 -1.8z"/><path d="M1008.7 499.3l3 0.8 5.6 -5.3 -3.1 -0.6z"/><path d="M1084.8 436.2l4.1 -1.2 5.4 -5.4 -4.1 1.4z"/><path d="M1172 354.5l5.4 -3.9 5.2 -5.5 -5.4 4z"/><path d="M1141.2 384.5l4.8 -2.9 5.3 -5.5 -4.9 3.1z"/><path d="M1203 323.3l5.9 -4.9 5.1 -5.6 -5.9 5.2z"/><path d="M983.2 518.8l2.7 1.4 5.8 -5.3 -2.8 -1.3z"/><path d="M1110.3 413.5l4.4 -2 5.4 -5.4 -4.5 2.1z"/><path d="M937.7 550.4l2.3 2.6 5.9 -5.2 -2.3 -2.4z"/><path d="M1054 463.3l3.6 -0.3 5.5 -5.4 -3.7 0.5z"/><path d="M1028.5 484.3l3.3 0.3 5.6 -5.3 -3.3 -0.2z"/><path d="M1166.9 359.8l5.3 -3.7 5.2 -5.5 -5.4 3.9z"/><path d="M957.6 537.5l2.5 2.1 5.8 -5.3 -2.5 -1.9z"/><path d="M1079.5 441.5l3.9 -1 5.5 -5.5 -4.1 1.2z"/><path d="M1003 504.5l3 1 5.7 -5.4 -3 -0.8z"/><path d="M1135.9 389.9l4.8 -2.8 5.3 -5.5 -4.8 2.9z"/><path d="M1198 328.7l5.8 -4.7 5.1 -5.6 -5.9 4.9z"/><path d="M1105 418.8l4.3 -1.8 5.4 -5.5 -4.4 2z"/><path d="M977.5 523.9l2.6 1.7 5.8 -5.4 -2.7 -1.4z"/><path d="M1229.2 296.4l6.4 -5.8 5.1 -5.7 -6.5 6.1z"/><path d="M931.8 555.5l2.2 2.7 6 -5.2 -2.3 -2.6z"/><path d="M1048.5 468.6l3.5 -0.2 5.6 -5.4 -3.6 0.3z"/><path d="M1022.9 489.5l3.3 0.6 5.6 -5.5 -3.3 -0.3z"/><path d="M1161.7 365.2l5.2 -3.5 5.3 -5.6 -5.3 3.7z"/><path d="M1074 446.8l3.9 -0.8 5.5 -5.5 -3.9 1z"/><path d="M1130.7 395.2l4.7 -2.5 5.3 -5.6 -4.8 2.8z"/><path d="M1192.9 334.1l5.7 -4.5 5.2 -5.6 -5.8 4.7z"/><path d="M951.8 542.6l2.4 2.3 5.9 -5.3 -2.5 -2.1z"/><path d="M997.4 509.7l2.9 1.2 5.7 -5.4 -3 -1z"/><path d="M1099.7 424.2l4.2 -1.6 5.4 -5.6 -4.3 1.8z"/><path d="M1224.2 301.8l6.3 -5.6 5.1 -5.6 -6.4 5.8z"/><path d="M971.7 529.1l2.6 1.8 5.8 -5.3 -2.6 -1.7z"/><path d="M1156.5 370.7l5.2 -3.4 5.2 -5.6 -5.2 3.5z"/><path d="M1043 473.9l3.4 0 5.6 -5.5 -3.5 0.2z"/><path d="M1017.3 494.8l3.2 0.7 5.7 -5.4 -3.3 -0.6z"/><path d="M1187.7 339.6l5.7 -4.4 5.2 -5.6 -5.7 4.5z"/><path d="M1125.4 400.6l4.7 -2.3 5.3 -5.6 -4.7 2.5z"/><path d="M925.9 560.6l2.1 2.9 6 -5.3 -2.2 -2.7z"/><path d="M1068.6 452.2l3.8 -0.7 5.5 -5.5 -3.9 0.8z"/><path d="M991.7 514.9l2.8 1.4 5.8 -5.4 -2.9 -1.2z"/><path d="M945.9 547.8l2.3 2.4 6 -5.3 -2.4 -2.3z"/><path d="M1219.1 307.3l6.2 -5.4 5.2 -5.7 -6.3 5.6z"/><path d="M1094.3 429.6l4.2 -1.4 5.4 -5.6 -4.2 1.6z"/><path d="M965.9 534.3l2.6 2 5.8 -5.4 -2.6 -1.8z"/><path d="M1151.3 376.1l5.1 -3.2 5.3 -5.6 -5.2 3.4z"/><path d="M1182.6 345.1l5.6 -4.2 5.2 -5.7 -5.7 4.4z"/><path d="M1037.4 479.3l3.4 0.1 5.6 -5.5 -3.4 0z"/><path d="M1120.1 406.1l4.6 -2.2 5.4 -5.6 -4.7 2.3z"/><path d="M1011.7 500.1l3.1 0.9 5.7 -5.5 -3.2 -0.7z"/><path d="M1063.1 457.6l3.8 -0.6 5.5 -5.5 -3.8 0.7z"/><path d="M1214 312.8l6.2 -5.2 5.1 -5.7 -6.2 5.4z"/><path d="M985.9 520.2l2.8 1.5 5.8 -5.4 -2.8 -1.4z"/><path d="M1088.9 435l4.1 -1.2 5.5 -5.6 -4.2 1.4z"/><path d="M940 553l2.3 2.6 5.9 -5.4 -2.3 -2.4z"/><path d="M1146 381.6l5 -3 5.4 -5.7 -5.1 3.2z"/><path d="M1177.4 350.6l5.5 -4 5.3 -5.7 -5.6 4.2z"/><path d="M960.1 539.6l2.5 2.1 5.9 -5.4 -2.6 -2z"/><path d="M1114.7 411.5l4.5 -2 5.5 -5.6 -4.6 2.2z"/><path d="M1031.8 484.6l3.4 0.4 5.6 -5.6 -3.4 -0.1z"/><path d="M1057.6 463l3.7 -0.4 5.6 -5.6 -3.8 0.6z"/><path d="M1006 505.5l3 1 5.8 -5.5 -3.1 -0.9z"/><path d="M1208.9 318.4l6.1 -5.1 5.2 -5.7 -6.2 5.2z"/><path d="M1083.4 440.5l4.1 -1.1 5.5 -5.6 -4.1 1.2z"/><path d="M980.1 525.6l2.8 1.6 5.8 -5.5 -2.8 -1.5z"/><path d="M934 558.2l2.3 2.8 6 -5.4 -2.3 -2.6z"/><path d="M1140.7 387.1l5 -2.8 5.3 -5.7 -5 3z"/><path d="M1172.2 356.1l5.4 -3.8 5.3 -5.7 -5.5 4z"/><path d="M1109.3 417l4.5 -1.8 5.4 -5.7 -4.5 2z"/><path d="M954.2 544.9l2.4 2.3 6 -5.5 -2.5 -2.1z"/><path d="M1026.2 490.1l3.3 0.5 5.7 -5.6 -3.4 -0.4z"/><path d="M1203.8 324l5.9 -4.9 5.3 -5.8 -6.1 5.1z"/><path d="M1052 468.4l3.7 -0.1 5.6 -5.7 -3.7 0.4z"/><path d="M1000.3 510.9l3 1.2 5.7 -5.6 -3 -1z"/><path d="M1077.9 446l4 -0.9 5.6 -5.7 -4.1 1.1z"/><path d="M974.3 530.9l2.7 1.9 5.9 -5.6 -2.8 -1.6z"/><path d="M1135.4 392.7l4.9 -2.6 5.4 -5.8 -5 2.8z"/><path d="M1235.6 290.6l6.5 -6.1 5.2 -5.8 -6.6 6.2z"/><path d="M1166.9 361.7l5.4 -3.6 5.3 -5.8 -5.4 3.8z"/><path d="M928 563.5l2.2 2.9 6.1 -5.4 -2.3 -2.8z"/><path d="M1103.9 422.6l4.4 -1.7 5.5 -5.7 -4.5 1.8z"/><path d="M1198.6 329.6l5.9 -4.7 5.2 -5.8 -5.9 4.9z"/><path d="M1020.5 495.5l3.2 0.7 5.8 -5.6 -3.3 -0.5z"/><path d="M1046.4 473.9l3.6 0 5.7 -5.6 -3.7 0.1z"/><path d="M948.2 550.2l2.4 2.5 6 -5.5 -2.4 -2.3z"/><path d="M994.5 516.3l2.9 1.4 5.9 -5.6 -3 -1.2z"/><path d="M1072.4 451.5l4 -0.7 5.5 -5.7 -4 0.9z"/><path d="M1230.5 296.2l6.4 -5.8 5.2 -5.9 -6.5 6.1z"/><path d="M1161.7 367.3l5.3 -3.5 5.3 -5.7 -5.4 3.6z"/><path d="M1130.1 398.3l4.7 -2.5 5.5 -5.7 -4.9 2.6z"/><path d="M968.5 536.3l2.6 2 5.9 -5.5 -2.7 -1.9z"/><path d="M1193.4 335.2l5.8 -4.5 5.3 -5.8 -5.9 4.7z"/><path d="M1098.5 428.2l4.3 -1.5 5.5 -5.8 -4.4 1.7z"/><path d="M1014.8 501l3.2 0.9 5.7 -5.7 -3.2 -0.7z"/><path d="M1040.8 479.4l3.5 0.2 5.7 -5.7 -3.6 0z"/><path d="M942.3 555.6l2.3 2.6 6 -5.5 -2.4 -2.5z"/><path d="M988.7 521.7l2.9 1.6 5.8 -5.6 -2.9 -1.4z"/><path d="M1225.3 301.9l6.4 -5.7 5.2 -5.8 -6.4 5.8z"/><path d="M1066.9 457l3.9 -0.5 5.6 -5.7 -4 0.7z"/><path d="M1156.4 372.9l5.2 -3.2 5.4 -5.9 -5.3 3.5z"/><path d="M1124.7 403.9l4.7 -2.3 5.4 -5.8 -4.7 2.5z"/><path d="M1188.2 340.9l5.7 -4.4 5.3 -5.8 -5.8 4.5z"/><path d="M962.6 541.7l2.5 2.2 6 -5.6 -2.6 -2z"/><path d="M1093 433.8l4.3 -1.3 5.5 -5.8 -4.3 1.5z"/><path d="M1035.2 485l3.4 0.4 5.7 -5.8 -3.5 -0.2z"/><path d="M1009 506.5l3.2 1.1 5.8 -5.7 -3.2 -0.9z"/><path d="M1220.2 307.6l6.3 -5.5 5.2 -5.9 -6.4 5.7z"/><path d="M1061.3 462.6l3.8 -0.3 5.7 -5.8 -3.9 0.5z"/><path d="M936.3 561l2.3 2.8 6 -5.6 -2.3 -2.6z"/><path d="M1151 378.6l5.2 -3.1 5.4 -5.8 -5.2 3.2z"/><path d="M982.9 527.2l2.8 1.8 5.9 -5.7 -2.9 -1.6z"/><path d="M1119.2 409.5l4.7 -2 5.5 -5.9 -4.7 2.3z"/><path d="M1182.9 346.6l5.7 -4.2 5.3 -5.9 -5.7 4.4z"/><path d="M1087.5 439.4l4.2 -1.1 5.6 -5.8 -4.3 1.3z"/><path d="M956.6 547.2l2.5 2.4 6 -5.7 -2.5 -2.2z"/><path d="M1215 313.3l6.2 -5.2 5.3 -6 -6.3 5.5z"/><path d="M1029.5 490.6l3.4 0.5 5.7 -5.7 -3.4 -0.4z"/><path d="M1003.3 512.1l3 1.2 5.9 -5.7 -3.2 -1.1z"/><path d="M1145.7 384.3l5 -2.9 5.5 -5.9 -5.2 3.1z"/><path d="M1055.7 468.3l3.7 -0.2 5.7 -5.8 -3.8 0.3z"/><path d="M1113.8 415.2l4.6 -1.9 5.5 -5.8 -4.7 2z"/><path d="M977 532.8l2.8 1.9 5.9 -5.7 -2.8 -1.8z"/><path d="M1177.6 352.3l5.6 -3.9 5.4 -6 -5.7 4.2z"/><path d="M930.2 566.4l2.3 3 6.1 -5.6 -2.3 -2.8z"/><path d="M1081.9 445.1l4.2 -1 5.6 -5.8 -4.2 1.1z"/><path d="M1209.7 319.1l6.2 -5.1 5.3 -5.9 -6.2 5.2z"/><path d="M950.6 552.7l2.5 2.6 6 -5.7 -2.5 -2.4z"/><path d="M1023.7 496.2l3.4 0.7 5.8 -5.8 -3.4 -0.5z"/><path d="M1140.3 390.1l5 -2.8 5.4 -5.9 -5 2.9z"/><path d="M997.4 517.7l3 1.4 5.9 -5.8 -3 -1.2z"/><path d="M1108.3 420.9l4.5 -1.7 5.6 -5.9 -4.6 1.9z"/><path d="M1050 473.9l3.7 0 5.7 -5.8 -3.7 0.2z"/><path d="M1172.3 358.1l5.5 -3.8 5.4 -5.9 -5.6 3.9z"/><path d="M971.1 538.3l2.7 2.1 6 -5.7 -2.8 -1.9z"/><path d="M1076.4 450.8l4 -0.8 5.7 -5.9 -4.2 1z"/><path d="M1204.5 324.9l6.1 -4.9 5.3 -6 -6.2 5.1z"/><path d="M944.6 558.2l2.4 2.8 6.1 -5.7 -2.5 -2.6z"/><path d="M1134.8 395.8l5 -2.5 5.5 -6 -5 2.8z"/><path d="M1018 501.9l3.2 0.9 5.9 -5.9 -3.4 -0.7z"/><path d="M1167 363.8l5.4 -3.5 5.4 -6 -5.5 3.8z"/><path d="M1102.8 426.7l4.4 -1.5 5.6 -6 -4.5 1.7z"/><path d="M991.6 523.3l2.9 1.6 5.9 -5.8 -3 -1.4z"/><path d="M1044.3 479.6l3.7 0.2 5.7 -5.9 -3.7 0z"/><path d="M965.1 543.9l2.7 2.3 6 -5.8 -2.7 -2.1z"/><path d="M1199.2 330.7l6 -4.7 5.4 -6 -6.1 4.9z"/><path d="M1070.8 456.5l3.9 -0.6 5.7 -5.9 -4 0.8z"/><path d="M1129.4 401.6l4.8 -2.3 5.6 -6 -5 2.5z"/><path d="M938.6 563.8l2.3 2.9 6.1 -5.7 -2.4 -2.8z"/><path d="M1161.6 369.7l5.3 -3.4 5.5 -6 -5.4 3.5z"/><path d="M1097.3 432.5l4.3 -1.4 5.6 -5.9 -4.4 1.5z"/><path d="M1012.2 507.6l3.2 1 5.8 -5.8 -3.2 -0.9z"/><path d="M1038.6 485.4l3.6 0.3 5.8 -5.9 -3.7 -0.2z"/><path d="M985.7 529l2.9 1.7 5.9 -5.8 -2.9 -1.6z"/><path d="M1193.9 336.5l5.9 -4.4 5.4 -6.1 -6 4.7z"/><path d="M1065.1 462.3l3.9 -0.4 5.7 -6 -3.9 0.6z"/><path d="M959.1 549.6l2.6 2.4 6.1 -5.8 -2.7 -2.3z"/><path d="M1123.9 407.5l4.8 -2.2 5.5 -6 -4.8 2.3z"/><path d="M1156.2 375.5l5.3 -3.1 5.4 -6.1 -5.3 3.4z"/><path d="M1091.7 438.3l4.3 -1.2 5.6 -6 -4.3 1.4z"/><path d="M932.5 569.4l2.2 3.1 6.2 -5.8 -2.3 -2.9z"/><path d="M1006.3 513.3l3.2 1.3 5.9 -6 -3.2 -1z"/><path d="M1032.9 491.1l3.4 0.6 5.9 -6 -3.6 -0.3z"/><path d="M1188.6 342.4l5.8 -4.2 5.4 -6.1 -5.9 4.4z"/><path d="M979.8 534.7l2.8 1.9 6 -5.9 -2.9 -1.7z"/><path d="M1059.4 468.1l3.9 -0.2 5.7 -6 -3.9 0.4z"/><path d="M953.1 555.3l2.5 2.6 6.1 -5.9 -2.6 -2.4z"/><path d="M1118.4 413.3l4.7 -1.9 5.6 -6.1 -4.8 2.2z"/><path d="M1150.7 381.4l5.2 -3 5.6 -6 -5.3 3.1z"/><path d="M1086.1 444.1l4.2 -0.9 5.7 -6.1 -4.3 1.2z"/><path d="M1183.2 348.4l5.8 -4.1 5.4 -6.1 -5.8 4.2z"/><path d="M1000.4 519.1l3.1 1.4 6 -5.9 -3.2 -1.3z"/><path d="M1027.1 496.9l3.4 0.8 5.8 -6 -3.4 -0.6z"/><path d="M973.8 540.4l2.7 2.1 6.1 -5.9 -2.8 -1.9z"/><path d="M1053.7 473.9l3.8 0 5.8 -6 -3.9 0.2z"/><path d="M1112.8 419.2l4.7 -1.7 5.6 -6.1 -4.7 1.9z"/><path d="M1145.3 387.3l5.1 -2.7 5.5 -6.2 -5.2 3z"/><path d="M947 561l2.5 2.8 6.1 -5.9 -2.5 -2.6z"/><path d="M1080.4 450l4.2 -0.7 5.7 -6.1 -4.2 0.9z"/><path d="M1177.8 354.3l5.7 -3.9 5.5 -6.1 -5.8 4.1z"/><path d="M994.5 524.9l3 1.6 6 -6 -3.1 -1.4z"/><path d="M1021.2 502.8l3.4 0.9 5.9 -6 -3.4 -0.8z"/><path d="M967.8 546.2l2.7 2.3 6 -6 -2.7 -2.1z"/><path d="M1048 479.8l3.7 0.2 5.8 -6.1 -3.8 0z"/><path d="M1139.8 393.3l5 -2.6 5.6 -6.1 -5.1 2.7z"/><path d="M1107.2 425.2l4.6 -1.6 5.7 -6.1 -4.7 1.7z"/><path d="M940.9 566.7l2.4 3 6.2 -5.9 -2.5 -2.8z"/><path d="M1172.4 360.3l5.6 -3.7 5.5 -6.2 -5.7 3.9z"/><path d="M1074.7 455.9l4.1 -0.5 5.8 -6.1 -4.2 0.7z"/><path d="M1015.4 508.6l3.3 1.2 5.9 -6.1 -3.4 -0.9z"/><path d="M988.6 530.7l2.9 1.8 6 -6 -3 -1.6z"/><path d="M1042.2 485.7l3.6 0.4 5.9 -6.1 -3.7 -0.2z"/><path d="M961.7 552l2.7 2.5 6.1 -6 -2.7 -2.3z"/><path d="M1134.2 399.3l5 -2.4 5.6 -6.2 -5 2.6z"/><path d="M1101.6 431.1l4.5 -1.3 5.7 -6.2 -4.6 1.6z"/><path d="M1166.9 366.3l5.6 -3.5 5.5 -6.2 -5.6 3.7z"/><path d="M1069 461.9l4 -0.4 5.8 -6.1 -4.1 0.5z"/><path d="M934.7 572.5l2.4 3.2 6.2 -6 -2.4 -3z"/><path d="M1009.5 514.6l3.2 1.3 6 -6.1 -3.3 -1.2z"/><path d="M982.6 536.6l2.9 2 6 -6.1 -2.9 -1.8z"/><path d="M1036.3 491.7l3.6 0.5 5.9 -6.1 -3.6 -0.4z"/><path d="M1128.7 405.3l4.9 -2.2 5.6 -6.2 -5 2.4z"/><path d="M1096 437.1l4.4 -1.1 5.7 -6.2 -4.5 1.3z"/><path d="M955.6 557.9l2.6 2.6 6.2 -6 -2.7 -2.5z"/><path d="M1161.5 372.4l5.4 -3.3 5.6 -6.3 -5.6 3.5z"/><path d="M1063.3 467.9l3.9 -0.2 5.8 -6.2 -4 0.4z"/><path d="M1003.5 520.5l3.2 1.5 6 -6.1 -3.2 -1.3z"/><path d="M976.5 542.5l2.9 2.2 6.1 -6.1 -2.9 -2z"/><path d="M1123.1 411.4l4.8 -2 5.7 -6.3 -4.9 2.2z"/><path d="M1030.5 497.7l3.5 0.7 5.9 -6.2 -3.6 -0.5z"/><path d="M1090.3 443.2l4.3 -1 5.8 -6.2 -4.4 1.1z"/><path d="M1155.9 378.4l5.4 -3 5.6 -6.3 -5.4 3.3z"/><path d="M949.5 563.8l2.5 2.8 6.2 -6.1 -2.6 -2.6z"/><path d="M1057.5 473.9l3.9 0 5.8 -6.2 -3.9 0.2z"/><path d="M1117.5 417.5l4.7 -1.8 5.7 -6.3 -4.8 2z"/><path d="M997.5 526.5l3.1 1.7 6.1 -6.2 -3.2 -1.5z"/><path d="M1084.6 449.3l4.2 -0.8 5.8 -6.3 -4.3 1z"/><path d="M970.5 548.5l2.7 2.4 6.2 -6.2 -2.9 -2.2z"/><path d="M1024.6 503.7l3.4 0.9 6 -6.2 -3.5 -0.7z"/><path d="M1150.4 384.6l5.3 -2.9 5.6 -6.3 -5.4 3z"/><path d="M943.3 569.7l2.5 3 6.2 -6.1 -2.5 -2.8z"/><path d="M1051.7 480l3.8 0.2 5.9 -6.3 -3.9 0z"/><path d="M1111.8 423.6l4.7 -1.6 5.7 -6.3 -4.7 1.8z"/><path d="M1144.8 390.7l5.2 -2.6 5.7 -6.4 -5.3 2.9z"/><path d="M1078.8 455.4l4.2 -0.6 5.8 -6.3 -4.2 0.8z"/><path d="M991.5 532.5l3.1 1.9 6 -6.2 -3.1 -1.7z"/><path d="M1018.7 509.8l3.3 1.1 6 -6.3 -3.4 -0.9z"/><path d="M964.4 554.5l2.7 2.6 6.1 -6.2 -2.7 -2.4z"/><path d="M1045.8 486.1l3.7 0.4 6 -6.3 -3.8 -0.2z"/><path d="M937.1 575.7l2.4 3.2 6.3 -6.2 -2.5 -3z"/><path d="M1106.1 429.8l4.6 -1.4 5.8 -6.4 -4.7 1.6z"/><path d="M1139.2 396.9l5.2 -2.5 5.6 -6.3 -5.2 2.6z"/><path d="M1073 461.5l4.2 -0.4 5.8 -6.3 -4.2 0.6z"/><path d="M985.5 538.6l2.9 2.1 6.2 -6.3 -3.1 -1.9z"/><path d="M1012.7 515.9l3.3 1.3 6 -6.3 -3.3 -1.1z"/><path d="M958.2 560.5l2.6 2.8 6.3 -6.2 -2.7 -2.6z"/><path d="M1039.9 492.2l3.7 0.6 5.9 -6.3 -3.7 -0.4z"/><path d="M1100.4 436l4.5 -1.2 5.8 -6.4 -4.6 1.4z"/><path d="M1133.6 403.1l5 -2.2 5.8 -6.5 -5.2 2.5z"/><path d="M1067.2 467.7l4.1 -0.2 5.9 -6.4 -4.2 0.4z"/><path d="M979.4 544.7l2.9 2.3 6.1 -6.3 -2.9 -2.1z"/><path d="M1006.7 522l3.2 1.5 6.1 -6.3 -3.3 -1.3z"/><path d="M952 566.6l2.6 3 6.2 -6.3 -2.6 -2.8z"/><path d="M1034 498.4l3.6 0.8 6 -6.4 -3.7 -0.6z"/><path d="M1094.6 442.2l4.5 -1 5.8 -6.4 -4.5 1.2z"/><path d="M1127.9 409.4l5 -2.1 5.7 -6.4 -5 2.2z"/><path d="M1061.4 473.9l3.9 0 6 -6.4 -4.1 0.2z"/><path d="M973.2 550.9l2.9 2.4 6.2 -6.3 -2.9 -2.3z"/><path d="M1000.6 528.2l3.2 1.7 6.1 -6.4 -3.2 -1.5z"/><path d="M945.8 572.7l2.5 3.2 6.3 -6.3 -2.6 -3z"/><path d="M1028 504.6l3.6 1 6 -6.4 -3.6 -0.8z"/><path d="M1088.8 448.5l4.4 -0.8 5.9 -6.5 -4.5 1z"/><path d="M1122.2 415.7l4.9 -1.9 5.8 -6.5 -5 2.1z"/><path d="M1055.5 480.2l3.9 0.2 5.9 -6.5 -3.9 0z"/><path d="M994.6 534.4l3.1 1.9 6.1 -6.4 -3.2 -1.7z"/><path d="M967.1 557.1l2.7 2.6 6.3 -6.4 -2.9 -2.4z"/><path d="M1022 510.9l3.5 1.2 6.1 -6.5 -3.6 -1z"/><path d="M939.5 578.9l2.4 3.3 6.4 -6.3 -2.5 -3.2z"/><path d="M1116.5 422l4.8 -1.6 5.8 -6.6 -4.9 1.9z"/><path d="M1083 454.8l4.3 -0.6 5.9 -6.5 -4.4 0.8z"/><path d="M1049.5 486.5l3.9 0.4 6 -6.5 -3.9 -0.2z"/><path d="M988.4 540.7l3.1 2.1 6.2 -6.5 -3.1 -1.9z"/><path d="M960.8 563.3l2.7 2.8 6.3 -6.4 -2.7 -2.6z"/><path d="M1016 517.2l3.4 1.4 6.1 -6.5 -3.5 -1.2z"/><path d="M1110.7 428.4l4.8 -1.5 5.8 -6.5 -4.8 1.6z"/><path d="M1077.2 461.1l4.2 -0.4 5.9 -6.5 -4.3 0.6z"/><path d="M1043.6 492.8l3.8 0.6 6 -6.5 -3.9 -0.4z"/><path d="M982.3 547l2.9 2.2 6.3 -6.4 -3.1 -2.1z"/><path d="M954.6 569.6l2.6 3 6.3 -6.5 -2.7 -2.8z"/><path d="M1104.9 434.8l4.7 -1.3 5.9 -6.6 -4.8 1.5z"/><path d="M1009.9 523.5l3.3 1.6 6.2 -6.5 -3.4 -1.4z"/><path d="M1071.3 467.5l4.1 -0.2 6 -6.6 -4.2 0.4z"/><path d="M1037.6 499.2l3.7 0.8 6.1 -6.6 -3.8 -0.6z"/><path d="M976.1 553.3l2.9 2.5 6.2 -6.6 -2.9 -2.2z"/><path d="M1099.1 441.2l4.6 -1 5.9 -6.7 -4.7 1.3z"/><path d="M948.3 575.9l2.6 3.2 6.3 -6.5 -2.6 -3z"/><path d="M1065.3 473.9l4.1 0 6 -6.6 -4.1 0.2z"/><path d="M1003.8 529.9l3.3 1.8 6.1 -6.6 -3.3 -1.6z"/><path d="M1031.6 505.6l3.6 1 6.1 -6.6 -3.7 -0.8z"/><path d="M1093.2 447.7l4.5 -0.8 6 -6.7 -4.6 1z"/><path d="M969.8 559.7l2.9 2.7 6.3 -6.6 -2.9 -2.5z"/><path d="M1059.4 480.4l4 0.2 6 -6.7 -4.1 0z"/><path d="M997.7 536.3l3.1 2 6.3 -6.6 -3.3 -1.8z"/><path d="M941.9 582.2l2.6 3.4 6.4 -6.5 -2.6 -3.2z"/><path d="M1025.5 512.1l3.5 1.2 6.2 -6.7 -3.6 -1z"/><path d="M1087.3 454.2l4.5 -0.6 5.9 -6.7 -4.5 0.8z"/><path d="M1053.4 486.9l3.9 0.4 6.1 -6.7 -4 -0.2z"/><path d="M963.5 566.1l2.8 2.9 6.4 -6.6 -2.9 -2.7z"/><path d="M991.5 542.8l3.1 2.1 6.2 -6.6 -3.1 -2z"/><path d="M1019.4 518.6l3.5 1.4 6.1 -6.7 -3.5 -1.2z"/><path d="M1081.4 460.7l4.4 -0.4 6 -6.7 -4.5 0.6z"/><path d="M1047.4 493.4l3.8 0.6 6.1 -6.7 -3.9 -0.4z"/><path d="M957.2 572.6l2.7 3 6.4 -6.6 -2.8 -2.9z"/><path d="M985.2 549.2l3.1 2.4 6.3 -6.7 -3.1 -2.1z"/><path d="M1013.2 525.1l3.5 1.6 6.2 -6.7 -3.5 -1.4z"/><path d="M1075.4 467.3l4.3 -0.2 6.1 -6.8 -4.4 0.4z"/><path d="M1041.3 500l3.8 0.8 6.1 -6.8 -3.8 -0.6z"/><path d="M950.9 579.1l2.6 3.2 6.4 -6.7 -2.7 -3z"/><path d="M979 555.8l3 2.5 6.3 -6.7 -3.1 -2.4z"/><path d="M1007.1 531.7l3.3 1.8 6.3 -6.8 -3.5 -1.6z"/><path d="M1069.4 473.9l4.2 0 6.1 -6.8 -4.3 0.2z"/><path d="M1035.2 506.6l3.7 1 6.2 -6.8 -3.8 -0.8z"/><path d="M972.7 562.4l2.9 2.7 6.4 -6.8 -3 -2.5z"/><path d="M944.5 585.6l2.5 3.5 6.5 -6.8 -2.6 -3.2z"/><path d="M1000.8 538.3l3.3 2 6.3 -6.8 -3.3 -1.8z"/><path d="M1063.4 480.6l4.1 0.2 6.1 -6.9 -4.2 0z"/><path d="M1029 513.3l3.7 1.2 6.2 -6.9 -3.7 -1z"/><path d="M966.3 569l2.9 2.9 6.4 -6.8 -2.9 -2.7z"/><path d="M994.6 544.9l3.2 2.2 6.3 -6.8 -3.3 -2z"/><path d="M1057.3 487.3l4.1 0.4 6.1 -6.9 -4.1 -0.2z"/><path d="M1022.9 520l3.5 1.4 6.3 -6.9 -3.7 -1.2z"/><path d="M959.9 575.6l2.8 3.2 6.5 -6.9 -2.9 -2.9z"/><path d="M988.3 551.6l3.1 2.4 6.4 -6.9 -3.2 -2.2z"/><path d="M1051.2 494l4 0.7 6.2 -7 -4.1 -0.4z"/><path d="M1016.7 526.7l3.5 1.6 6.2 -6.9 -3.5 -1.4z"/><path d="M953.5 582.3l2.7 3.4 6.5 -6.9 -2.8 -3.2z"/><path d="M982 558.3l3 2.7 6.4 -7 -3.1 -2.4z"/><path d="M1045.1 500.8l3.9 0.9 6.2 -7 -4 -0.7z"/><path d="M1010.4 533.5l3.4 1.8 6.4 -7 -3.5 -1.6z"/><path d="M947 589.1l2.7 3.5 6.5 -6.9 -2.7 -3.4z"/><path d="M1038.9 507.6l3.8 1.1 6.3 -7 -3.9 -0.9z"/><path d="M975.6 565.1l3 2.8 6.4 -6.9 -3 -2.7z"/><path d="M1004.1 540.3l3.4 2 6.3 -7 -3.4 -1.8z"/><path d="M1032.7 514.5l3.7 1.3 6.3 -7.1 -3.8 -1.1z"/><path d="M969.2 571.9l2.9 3.1 6.5 -7.1 -3 -2.8z"/><path d="M997.8 547.1l3.3 2.3 6.4 -7.1 -3.4 -2z"/><path d="M1026.4 521.4l3.7 1.5 6.3 -7.1 -3.7 -1.3z"/><path d="M962.7 578.8l2.9 3.2 6.5 -7 -2.9 -3.1z"/><path d="M991.4 554l3.2 2.5 6.5 -7.1 -3.3 -2.3z"/><path d="M1020.2 528.3l3.6 1.7 6.3 -7.1 -3.7 -1.5z"/><path d="M956.2 585.7l2.8 3.4 6.6 -7.1 -2.9 -3.2z"/><path d="M985 561l3.2 2.6 6.4 -7.1 -3.2 -2.5z"/><path d="M1013.8 535.3l3.6 1.9 6.4 -7.2 -3.6 -1.7z"/><path d="M949.7 592.6l2.7 3.7 6.6 -7.2 -2.8 -3.4z"/><path d="M978.6 567.9l3 2.9 6.6 -7.2 -3.2 -2.6z"/><path d="M1007.5 542.3l3.4 2.1 6.5 -7.2 -3.6 -1.9z"/><path d="M972.1 575l3 3.1 6.5 -7.3 -3 -2.9z"/><path d="M1001.1 549.4l3.3 2.3 6.5 -7.3 -3.4 -2.1z"/><path d="M965.6 582l2.9 3.3 6.6 -7.2 -3 -3.1z"/><path d="M994.6 556.5l3.3 2.5 6.5 -7.3 -3.3 -2.3z"/><path d="M959 589.1l2.9 3.6 6.6 -7.4 -2.9 -3.3z"/><path d="M988.2 563.6l3.2 2.8 6.5 -7.4 -3.3 -2.5z"/><path d="M952.4 596.3l2.8 3.7 6.7 -7.3 -2.9 -3.6z"/><path d="M981.6 570.8l3.2 3 6.6 -7.4 -3.2 -2.8z"/><path d="M975.1 578.1l3.1 3.2 6.6 -7.5 -3.2 -3z"/><path d="M968.5 585.3l3 3.5 6.7 -7.5 -3.1 -3.2z"/><path d="M961.9 592.7l2.9 3.6 6.7 -7.5 -3 -3.5z"/><path d="M955.2 600l2.8 3.9 6.8 -7.6 -2.9 -3.6z"/></g>
<path class="ln dt" d="M845.5 270L940.3 300M961.3 659.5L940.3 300M940.3 300L1247.3 278.7"/>
<g class="pt"><circle cx="898" cy="480.8" r="7"/><circle cx="914.8" cy="484.9" r="7"/><circle cx="894.8" cy="522" r="7"/><circle cx="941.9" cy="513.6" r="7"/><circle cx="932" cy="571.5" r="7"/><circle cx="980" cy="546" r="7"/><circle cx="974" cy="511.8" r="7"/><circle cx="978.2" cy="491.8" r="7"/><circle cx="957.5" cy="494.7" r="7"/><circle cx="963.3" cy="483.8" r="7"/><circle cx="970.6" cy="459.7" r="7"/><circle cx="978.6" cy="462.6" r="7"/><circle cx="985.4" cy="460.5" r="7"/><circle cx="986.1" cy="473.3" r="7"/><circle cx="993.7" cy="478.8" r="7"/><circle cx="999.2" cy="457.5" r="7"/><circle cx="1006" cy="457.2" r="7"/><circle cx="1018.8" cy="461.2" r="7"/><circle cx="1024.4" cy="451.9" r="7"/><circle cx="1038.1" cy="438.8" r="7"/><circle cx="1044.4" cy="440" r="7"/><circle cx="1035" cy="465" r="7"/><circle cx="1052.5" cy="445" r="7"/><circle cx="1058.1" cy="460" r="7"/><circle cx="1061.9" cy="421.2" r="7"/><circle cx="1075" cy="416.2" r="7"/><circle cx="1083.8" cy="407.5" r="7"/><circle cx="1098.5" cy="409.2" r="7"/><circle cx="1090" cy="420" r="7"/><circle cx="1073.1" cy="436.2" r="7"/><circle cx="1073.8" cy="446.2" r="7"/><circle cx="1092.5" cy="446.2" r="7"/><circle cx="1037.5" cy="498.8" r="7"/><circle cx="1035" cy="506.2" r="7"/><circle cx="1198.9" cy="315.6" r="7"/><circle cx="1144.9" cy="354.7" r="7"/><circle cx="1148.5" cy="364.2" r="7"/><circle cx="1152.2" cy="370" r="7"/><circle cx="1155.8" cy="376.6" r="7"/><circle cx="1169" cy="359" r="7"/><circle cx="1121.6" cy="401.4" r="7"/><circle cx="1039.5" cy="466" r="7"/><circle cx="1131" cy="396.2" r="7"/></g>
<path class="ln" d="M898 480.8L898 484M914.8 484.7L914.8 485.1M894.8 522L894.8 515M941.9 513.6L942.5 517M932 571.3L932 571.7M980 546L982.5 561M974 511.6L974 511.9M978.2 491.8L978.2 486M957.5 494.7L958 491M963.3 483.8L963.3 480M970.6 459.7L970.6 469M978.6 462.6L978.6 469M985.4 460.5L985.4 468M986.1 473.1L986.1 473.5M993.7 478.6L993.7 479M999.2 457.5L999.2 463M1006 457.2L1006 463M1018.8 461.1L1018.8 461.4M1024.4 451.7L1024.4 452.1M1038.1 438.8L1037.5 475M1044.4 440L1044.4 450M1035 465L1035 472M1052.5 445L1052.5 449M1058.1 460L1058.1 466M1061.9 421.2L1061.9 432.5M1075 416.2L1075 424M1083.8 407.5L1083.8 419M1098.5 409.2L1098.5 422.5M1090 420L1090 427M1073.1 436.2L1073.1 430M1073.8 446.2L1073.8 439M1092.5 446.2L1092.5 440M1037.5 498.8L1037 470M1035 506.2L1036 478M1198.9 315.6L1199.6 322.6M1144.9 354.7L1145.6 364M1148.5 364.2L1149 372M1152.2 370L1152.5 376M1155.8 376.6L1156 380M1169 359L1169.7 354.7M1121.6 401.4L1122 396M1039.5 466L1039.5 474M1131 396.2L1131.5 391"/>
</g>
</svg>
</body></html>
